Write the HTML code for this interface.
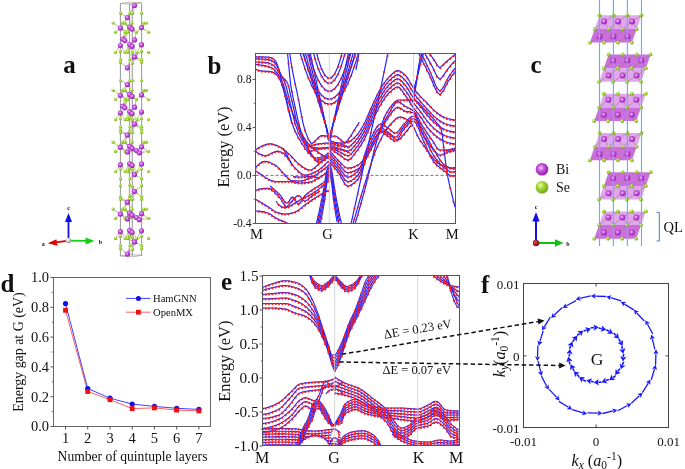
<!DOCTYPE html>
<html><head><meta charset="utf-8"><style>
html,body{margin:0;padding:0;background:#fff;width:685px;height:469px;overflow:hidden}
svg{display:block;will-change:transform}
text{font-family:"Liberation Serif",serif;fill:#111}
</style></head><body>
<svg width="685" height="469" viewBox="0 0 685 469">
<text x="63.3" y="73.2" font-size="25" text-anchor="start" font-weight="bold"  >a</text>
<text x="207.5" y="73.5" font-size="25" text-anchor="start" font-weight="bold"  >b</text>
<text x="530.5" y="73.2" font-size="25" text-anchor="start" font-weight="bold"  >c</text>
<text x="0.5" y="292.2" font-size="25" text-anchor="start" font-weight="bold"  >d</text>
<text x="221.0" y="290.2" font-size="25" text-anchor="start" font-weight="bold"  >e</text>
<text x="481.0" y="292.5" font-size="25" text-anchor="start" font-weight="bold"  >f</text>
<rect x="53.5" y="277.5" width="157.0" height="149.0" fill="none" stroke="#666" stroke-width="1.0"/>
<line x1="50.5" y1="426.5" x2="53.5" y2="426.5" stroke="#555" stroke-width="1"/>
<text x="49.0" y="431.3" font-size="14.5" text-anchor="end" font-weight="normal"  >0.0</text>
<line x1="50.5" y1="396.7" x2="53.5" y2="396.7" stroke="#555" stroke-width="1"/>
<text x="49.0" y="401.5" font-size="14.5" text-anchor="end" font-weight="normal"  >0.2</text>
<line x1="50.5" y1="366.9" x2="53.5" y2="366.9" stroke="#555" stroke-width="1"/>
<text x="49.0" y="371.7" font-size="14.5" text-anchor="end" font-weight="normal"  >0.4</text>
<line x1="50.5" y1="337.1" x2="53.5" y2="337.1" stroke="#555" stroke-width="1"/>
<text x="49.0" y="341.9" font-size="14.5" text-anchor="end" font-weight="normal"  >0.6</text>
<line x1="50.5" y1="307.3" x2="53.5" y2="307.3" stroke="#555" stroke-width="1"/>
<text x="49.0" y="312.1" font-size="14.5" text-anchor="end" font-weight="normal"  >0.8</text>
<line x1="50.5" y1="277.5" x2="53.5" y2="277.5" stroke="#555" stroke-width="1"/>
<text x="49.0" y="282.3" font-size="14.5" text-anchor="end" font-weight="normal"  >1.0</text>
<line x1="51.7" y1="411.6" x2="53.5" y2="411.6" stroke="#555" stroke-width="0.8"/>
<line x1="51.7" y1="381.8" x2="53.5" y2="381.8" stroke="#555" stroke-width="0.8"/>
<line x1="51.7" y1="352.0" x2="53.5" y2="352.0" stroke="#555" stroke-width="0.8"/>
<line x1="51.7" y1="322.2" x2="53.5" y2="322.2" stroke="#555" stroke-width="0.8"/>
<line x1="51.7" y1="292.4" x2="53.5" y2="292.4" stroke="#555" stroke-width="0.8"/>
<line x1="65.5" y1="426.5" x2="65.5" y2="429.5" stroke="#555" stroke-width="1"/>
<text x="65.5" y="442.5" font-size="14.5" text-anchor="middle" font-weight="normal"  >1</text>
<line x1="87.7" y1="426.5" x2="87.7" y2="429.5" stroke="#555" stroke-width="1"/>
<text x="87.7" y="442.5" font-size="14.5" text-anchor="middle" font-weight="normal"  >2</text>
<line x1="110.0" y1="426.5" x2="110.0" y2="429.5" stroke="#555" stroke-width="1"/>
<text x="110.0" y="442.5" font-size="14.5" text-anchor="middle" font-weight="normal"  >3</text>
<line x1="132.2" y1="426.5" x2="132.2" y2="429.5" stroke="#555" stroke-width="1"/>
<text x="132.2" y="442.5" font-size="14.5" text-anchor="middle" font-weight="normal"  >4</text>
<line x1="154.4" y1="426.5" x2="154.4" y2="429.5" stroke="#555" stroke-width="1"/>
<text x="154.4" y="442.5" font-size="14.5" text-anchor="middle" font-weight="normal"  >5</text>
<line x1="176.7" y1="426.5" x2="176.7" y2="429.5" stroke="#555" stroke-width="1"/>
<text x="176.7" y="442.5" font-size="14.5" text-anchor="middle" font-weight="normal"  >6</text>
<line x1="198.9" y1="426.5" x2="198.9" y2="429.5" stroke="#555" stroke-width="1"/>
<text x="198.9" y="442.5" font-size="14.5" text-anchor="middle" font-weight="normal"  >7</text>
<text x="132.5" y="461.0" font-size="13.6" text-anchor="middle" font-weight="normal"  >Number of quintuple layers</text>
<text transform="translate(23.4,352) rotate(-90)" font-size="13.9" text-anchor="middle">Energy gap at G (eV)</text>
<polyline points="65.5,310.3 87.7,391.5 110.0,399.7 132.2,408.6 154.4,407.9 176.7,410.1 198.9,410.9" fill="none" stroke="#ff6060" stroke-width="1"/>
<polyline points="65.5,303.6 87.7,388.5 110.0,398.2 132.2,404.1 154.4,406.4 176.7,408.3 198.9,409.4" fill="none" stroke="#4040ff" stroke-width="1"/>
<circle cx="65.5" cy="303.6" r="2.6" fill="#1010ee"/>
<circle cx="87.7" cy="388.5" r="2.6" fill="#1010ee"/>
<circle cx="110.0" cy="398.2" r="2.6" fill="#1010ee"/>
<circle cx="132.2" cy="404.1" r="2.6" fill="#1010ee"/>
<circle cx="154.4" cy="406.4" r="2.6" fill="#1010ee"/>
<circle cx="176.7" cy="408.3" r="2.6" fill="#1010ee"/>
<circle cx="198.9" cy="409.4" r="2.6" fill="#1010ee"/>
<rect x="63.1" y="307.9" width="4.8" height="4.8" fill="#ee1010"/>
<rect x="85.3" y="389.1" width="4.8" height="4.8" fill="#ee1010"/>
<rect x="107.6" y="397.3" width="4.8" height="4.8" fill="#ee1010"/>
<rect x="129.8" y="406.2" width="4.8" height="4.8" fill="#ee1010"/>
<rect x="152.0" y="405.5" width="4.8" height="4.8" fill="#ee1010"/>
<rect x="174.2" y="407.7" width="4.8" height="4.8" fill="#ee1010"/>
<rect x="196.5" y="408.5" width="4.8" height="4.8" fill="#ee1010"/>
<line x1="126" y1="298.4" x2="150.5" y2="298.4" stroke="#4040ff" stroke-width="1"/>
<circle cx="138.4" cy="298.4" r="2.5" fill="#1010ee"/>
<line x1="126" y1="312.2" x2="150.5" y2="312.2" stroke="#ff6060" stroke-width="1"/>
<rect x="136" y="309.8" width="4.8" height="4.8" fill="#ee1010"/>
<text x="153.0" y="302.3" font-size="10.6" text-anchor="start" font-weight="normal"  >HamGNN</text>
<text x="153.0" y="316.0" font-size="10.6" text-anchor="start" font-weight="normal"  >OpenMX</text>
<rect x="523.5" y="283.5" width="145.0" height="144.0" fill="none" stroke="#444" stroke-width="1.0"/>
<line x1="596.1" y1="427.5" x2="596.1" y2="424.5" stroke="#444" stroke-width="1"/>
<line x1="596.1" y1="283.5" x2="596.1" y2="286.5" stroke="#444" stroke-width="1"/>
<line x1="523.5" y1="355.9" x2="526.5" y2="355.9" stroke="#444" stroke-width="1"/>
<line x1="668.5" y1="355.9" x2="665.5" y2="355.9" stroke="#444" stroke-width="1"/>
<text x="519.5" y="288.6" font-size="13" text-anchor="end" font-weight="normal"  >0.01</text>
<text x="519.5" y="360.5" font-size="13" text-anchor="end" font-weight="normal"  >0</text>
<text x="519.5" y="433.0" font-size="13" text-anchor="end" font-weight="normal"  >-0.01</text>
<text x="523.5" y="446.0" font-size="13" text-anchor="middle" font-weight="normal"  >-0.01</text>
<text x="596.1" y="446.0" font-size="13" text-anchor="middle" font-weight="normal"  >0</text>
<text x="668.5" y="446.0" font-size="13" text-anchor="middle" font-weight="normal"  >0.01</text>
<text x="597.0" y="364.6" font-size="17.5" text-anchor="middle" font-weight="normal"  >G</text>
<path d="M654.8,349.4 L652.3,338.7 M652.8,334.0 L647.4,324.0 M644.3,321.0 L636.7,313.0 M633.8,309.9 L624.4,304.1 M621.2,300.9 L610.4,297.6 M606.3,296.5 L595.1,296.1 M590.7,295.9 L579.8,298.4 M576.1,300.6 L566.4,305.8 M562.3,307.4 L554.2,314.9 M550.3,317.2 L544.3,326.9 M543.1,331.0 L539.9,341.6 M537.9,345.6 L537.5,356.9 M538.1,361.1 L540.7,371.8 M541.4,376.1 L546.6,386.0 M549.2,389.4 L556.7,397.4 M558.9,401.4 L568.5,407.3 M572.2,409.6 L583.0,412.8 M587.3,412.8 L598.2,413.1 M602.5,413.5 L613.2,410.9 M617.7,410.8 L627.6,405.5 M631.3,403.3 L639.4,395.7 M642.4,392.6 L648.3,383.1 M651.3,379.8 L654.5,369.0 M655.6,364.8 L655.9,353.5 " fill="none" stroke="#1a1aff" stroke-width="1.3"/>
<path d="M651.4,334.5 L655.0,338.6 L652.2,338.2 L649.9,339.8 Z M645.4,320.2 L650.0,323.2 L647.2,323.5 L645.4,325.6 Z M633.8,309.8 L639.0,311.6 L636.4,312.6 L635.2,315.1 Z M620.8,301.8 L626.2,302.1 L624.0,303.8 L623.5,306.5 Z M606.3,296.4 L611.6,295.3 L609.9,297.5 L610.1,300.3 Z M590.8,296.0 L595.6,293.5 L594.6,296.1 L595.5,298.7 Z M575.6,299.4 L579.7,295.8 L579.3,298.5 L580.9,300.8 Z M562.6,307.8 L565.6,303.3 L566.0,306.0 L568.1,307.9 Z M551.1,317.9 L552.8,312.7 L553.8,315.3 L556.4,316.5 Z M542.0,330.5 L542.3,325.1 L544.0,327.3 L546.8,327.8 Z M538.6,345.7 L537.5,340.4 L539.7,342.1 L542.5,341.9 Z M537.4,361.1 L535.0,356.3 L537.5,357.4 L540.2,356.4 Z M541.6,376.0 L538.0,372.0 L540.8,372.3 L543.1,370.8 Z M548.7,389.8 L544.1,386.8 L546.9,386.4 L548.7,384.3 Z M559.6,400.5 L554.5,398.8 L557.0,397.7 L558.3,395.2 Z M572.2,409.6 L566.7,409.3 L568.9,407.6 L569.5,404.9 Z M587.1,414.1 L581.7,415.2 L583.4,413.0 L583.2,410.2 Z M602.5,413.3 L597.6,415.7 L598.7,413.2 L597.8,410.5 Z M617.4,410.0 L613.3,413.6 L613.7,410.8 L612.2,408.5 Z M631.4,403.5 L628.4,408.0 L628.1,405.2 L626.0,403.4 Z M642.6,392.7 L640.9,397.9 L639.8,395.3 L637.3,394.1 Z M650.5,379.5 L650.2,384.9 L648.5,382.7 L645.8,382.2 Z M655.8,364.8 L656.9,370.2 L654.7,368.5 L651.9,368.7 Z M656.0,349.2 L658.5,354.1 L655.9,353.0 L653.3,354.0 Z " fill="#1a1aff"/>
<path d="M623.6,353.8 L623.3,356.9 M621.9,346.2 L622.4,349.2 M618.9,338.9 L620.4,341.8 M613.6,333.0 L615.9,335.4 M606.3,329.8 L609.0,331.3 M598.7,328.0 L601.7,328.7 M590.8,327.7 L594.1,327.6 M583.7,331.1 L586.6,330.1 M577.1,335.3 L579.7,333.5 M572.6,341.7 L574.5,339.3 M569.5,348.8 L570.7,345.9 M569.3,356.5 L569.6,353.6 M569.9,364.4 L569.2,361.2 M574.1,371.0 L572.7,368.3 M579.2,376.9 L577.1,374.6 M585.8,381.3 L583.0,379.7 M593.7,382.0 L590.8,381.3 M601.5,382.1 L598.4,382.3 M608.9,379.6 L605.9,380.6 M615.7,375.6 L613.0,377.5 M619.8,368.8 L618.0,371.2 M623.7,361.8 L622.4,364.9 " fill="none" stroke="#1a1aff" stroke-width="1.6"/>
<path d="M622.9,361.6 L620.2,356.1 L623.3,357.4 L626.5,356.7 Z M623.3,353.8 L619.2,349.4 L622.5,349.7 L625.5,348.1 Z M622.6,346.0 L617.4,342.8 L620.7,342.3 L623.1,339.9 Z M619.1,338.8 L613.2,337.3 L616.2,335.8 L617.8,332.8 Z M613.1,333.7 L607.0,333.8 L609.4,331.6 L610.1,328.3 Z M606.3,329.8 L600.5,331.7 L602.2,328.9 L602.0,325.5 Z M598.8,327.3 L593.8,330.8 L594.6,327.5 L593.4,324.4 Z M591.0,328.6 L587.1,333.3 L587.0,330.0 L585.0,327.3 Z M583.5,330.7 L581.1,336.3 L580.1,333.2 L577.4,331.1 Z M577.4,335.6 L576.7,341.6 L574.8,338.9 L571.7,337.7 Z M572.4,341.6 L573.5,347.6 L570.9,345.5 L567.5,345.2 Z M570.0,348.9 L572.7,354.4 L569.6,353.1 L566.3,353.8 Z M568.3,356.6 L572.5,361.1 L569.1,360.7 L566.2,362.3 Z M570.5,364.2 L575.8,367.3 L572.5,367.9 L570.1,370.2 Z M573.8,371.2 L579.7,372.8 L576.7,374.2 L575.1,377.2 Z M578.9,377.3 L585.0,377.1 L582.5,379.4 L581.8,382.7 Z M586.3,380.2 L592.1,378.3 L590.3,381.2 L590.6,384.6 Z M593.7,382.5 L598.7,379.1 L597.9,382.3 L599.0,385.5 Z M601.5,382.2 L605.3,377.5 L605.4,380.8 L607.4,383.5 Z M609.2,380.3 L611.6,374.6 L612.6,377.8 L615.3,379.8 Z M615.1,374.9 L615.7,368.8 L617.6,371.6 L620.8,372.8 Z M620.7,369.3 L619.7,363.3 L622.3,365.4 L625.6,365.6 Z " fill="#1a1aff"/>
<text transform="translate(505.2,354) rotate(-90)" font-size="16.2" text-anchor="middle"><tspan font-style="italic">k</tspan><tspan font-style="italic" font-size="11.5" dy="3.2">y</tspan><tspan dy="-3.2">(</tspan><tspan font-style="italic">a</tspan><tspan font-size="11.5" dy="3.2">0</tspan><tspan font-size="11.5" dy="-9">-1</tspan><tspan dy="5.8">)</tspan></text>
<text x="596.8" y="466.2" font-size="16.2" text-anchor="middle"><tspan font-style="italic">k</tspan><tspan font-style="italic" font-size="11.5" dy="3.2">x</tspan><tspan dy="-3.2"> (</tspan><tspan font-style="italic">a</tspan><tspan font-size="11.5" dy="3.2">0</tspan><tspan font-size="11.5" dy="-9">-1</tspan><tspan dy="5.8">)</tspan></text>
<clipPath id="cb"><rect x="255.5" y="53.5" width="200.0" height="170.0"/></clipPath>
<g clip-path="url(#cb)"><path d="M255.5,56.8 L256.5,56.8 L257.5,56.8 L258.5,56.8 L259.5,56.8 L260.5,56.9 L261.5,56.9 L262.5,56.9 L263.5,56.9 L264.5,57.0 L265.5,57.0 L266.5,57.0 L267.5,57.1 L268.5,57.2 L269.5,57.4 L270.5,57.6 L271.5,57.9 L272.5,58.2 L273.5,58.9 L274.5,60.0 L275.5,61.3 L276.5,62.9 L277.5,65.3 L278.5,68.4 L279.5,71.8 L280.5,76.1 L281.5,80.7 L282.5,85.0 L283.5,89.0 L284.5,92.9 L285.5,97.0 L286.5,101.3 L287.5,105.8 L288.5,110.0 L289.5,114.0 L290.5,117.9 L291.5,121.4 L292.5,124.5 L293.5,127.2 L294.5,129.7 L295.5,131.9 L296.5,134.0 L297.5,136.0 L298.5,137.8 L299.5,139.5 L300.5,141.2 L301.5,142.8 L302.5,144.4 L303.5,146.0 L304.5,147.5 L305.5,149.0 L306.5,150.3 L307.5,151.5 L308.5,152.5 L309.5,153.5 L310.5,154.6 L311.5,155.5 L312.5,156.4 L313.5,157.1 L314.5,157.7 L315.5,158.0 L316.5,158.0 L317.5,157.9 L318.5,157.8 L319.5,157.6 L320.5,157.4 L321.5,157.1 L322.5,156.8 L323.5,156.4 L324.5,155.9 L325.5,155.3 L326.5,154.5 L327.5,153.7 L328.5,152.8" fill="none" stroke="#2424ff" stroke-width="1.2"/><path d="M255.5,58.8 L256.5,58.8 L257.5,58.8 L258.5,58.9 L259.5,58.9 L260.5,58.9 L261.5,59.0 L262.5,59.0 L263.5,59.1 L264.5,59.2 L265.5,59.3 L266.5,59.4 L267.5,59.4 L268.5,59.6 L269.5,59.8 L270.5,60.1 L271.5,60.5 L272.5,61.1 L273.5,61.7 L274.5,62.4 L275.5,63.7 L276.5,65.3 L277.5,67.1 L278.5,69.0 L279.5,71.3 L280.5,73.7 L281.5,76.0 L282.5,77.9 L283.5,79.7 L284.5,81.7 L285.5,84.3 L286.5,87.8 L287.5,91.9 L288.5,96.0 L289.5,100.2 L290.5,104.7 L291.5,109.0 L292.5,113.2 L293.5,117.4 L294.5,121.3 L295.5,124.6 L296.5,127.6 L297.5,130.4 L298.5,132.9 L299.5,135.1 L300.5,137.0 L301.5,138.8 L302.5,140.5 L303.5,142.1 L304.5,143.9 L305.5,145.7 L306.5,147.5 L307.5,149.2 L308.5,150.9 L309.5,152.3 L310.5,153.6 L311.5,155.0 L312.5,156.3 L313.5,157.6 L314.5,158.7 L315.5,159.5 L316.5,159.9 L317.5,160.0 L318.5,159.9 L319.5,159.7 L320.5,159.4 L321.5,159.0 L322.5,158.7 L323.5,158.3 L324.5,157.8 L325.5,157.2 L326.5,156.4 L327.5,155.6 L328.5,154.7" fill="none" stroke="#2424ff" stroke-width="1.2"/><path d="M255.5,62.0 L256.5,62.0 L257.5,62.0 L258.5,62.1 L259.5,62.1 L260.5,62.1 L261.5,62.2 L262.5,62.2 L263.5,62.3 L264.5,62.4 L265.5,62.5 L266.5,62.6 L267.5,62.7 L268.5,63.0 L269.5,63.3 L270.5,63.7 L271.5,64.2 L272.5,64.7 L273.5,65.3 L274.5,66.3 L275.5,67.6 L276.5,69.0 L277.5,70.3 L278.5,71.6 L279.5,73.0 L280.5,74.3 L281.5,75.7 L282.5,77.0 L283.5,78.1 L284.5,79.1 L285.5,80.1 L286.5,81.3 L287.5,82.9 L288.5,85.8 L289.5,90.1 L290.5,94.8 L291.5,99.1 L292.5,103.4 L293.5,107.8 L294.5,112.2 L295.5,116.8 L296.5,121.1 L297.5,124.8 L298.5,128.1 L299.5,131.1 L300.5,133.8 L301.5,136.1 L302.5,138.0 L303.5,139.8 L304.5,141.4 L305.5,143.1 L306.5,144.9 L307.5,146.8 L308.5,148.8 L309.5,150.8 L310.5,152.6 L311.5,154.3 L312.5,155.7 L313.5,157.3 L314.5,158.8 L315.5,160.2 L316.5,161.3 L317.5,161.9 L318.5,162.0 L319.5,161.8 L320.5,161.5 L321.5,161.1 L322.5,160.7 L323.5,160.2 L324.5,159.7 L325.5,159.2 L326.5,158.4 L327.5,157.6 L328.5,156.7" fill="none" stroke="#2424ff" stroke-width="1.2"/><path d="M255.5,64.5 L256.5,64.5 L257.5,64.6 L258.5,64.7 L259.5,64.8 L260.5,65.0 L261.5,65.1 L262.5,65.3 L263.5,65.4 L264.5,65.6 L265.5,65.8 L266.5,66.0 L267.5,66.3 L268.5,66.6 L269.5,66.9 L270.5,67.3 L271.5,67.8 L272.5,68.3 L273.5,69.1 L274.5,70.1 L275.5,71.2 L276.5,72.4 L277.5,73.6 L278.5,74.9 L279.5,76.3 L280.5,78.0 L281.5,80.0 L282.5,82.4 L283.5,85.0 L284.5,88.1 L285.5,91.8 L286.5,95.3 L287.5,98.6 L288.5,101.6 L289.5,104.5 L290.5,107.3 L291.5,110.0 L292.5,112.7 L293.5,115.3 L294.5,117.7 L295.5,120.0 L296.5,121.9 L297.5,123.7 L298.5,125.6 L299.5,127.9 L300.5,130.5 L301.5,132.9 L302.5,135.0 L303.5,136.8 L304.5,138.4 L305.5,140.0 L306.5,141.4 L307.5,142.6 L308.5,143.8 L309.5,144.9 L310.5,146.0 L311.5,147.0 L312.5,147.9 L313.5,148.8 L314.5,149.6 L315.5,150.4 L316.5,151.1 L317.5,151.8 L318.5,152.5 L319.5,153.2 L320.5,153.8 L321.5,154.4 L322.5,155.0 L323.5,155.6 L324.5,156.1 L325.5,156.6 L326.5,157.0 L327.5,157.4 L328.5,157.8" fill="none" stroke="#2424ff" stroke-width="1.2"/><path d="M255.5,69.2 L256.5,69.6 L257.5,69.9 L258.5,70.3 L259.5,70.5 L260.5,70.8 L261.5,70.9 L262.5,71.0 L263.5,71.1 L264.5,71.2 L265.5,71.2 L266.5,71.3 L267.5,71.3 L268.5,71.4 L269.5,71.4 L270.5,71.6 L271.5,71.8 L272.5,72.1 L273.5,72.6 L274.5,73.1 L275.5,73.7 L276.5,74.4 L277.5,75.6 L278.5,77.2 L279.5,79.0 L280.5,81.1 L281.5,83.6 L282.5,86.5 L283.5,89.5 L284.5,92.8 L285.5,96.3 L286.5,100.0 L287.5,104.2 L288.5,108.6 L289.5,113.0 L290.5,117.1 L291.5,121.1" fill="none" stroke="#2424ff" stroke-width="1.2"/><path d="M287.5,53.0 L288.5,62.9 L289.5,73.6 L290.5,83.6 L291.5,89.7 L292.5,94.6 L293.5,99.5 L294.5,104.2 L295.5,108.7 L296.5,113.3 L297.5,117.8 L298.5,122.2 L299.5,126.4 L300.5,130.4 L301.5,133.4 L302.5,136.1 L303.5,138.3 L304.5,140.2 L305.5,141.7 L306.5,143.1 L307.5,144.3 L308.5,145.4 L309.5,146.3 L310.5,146.8 L311.5,147.1 L312.5,147.3 L313.5,147.5 L314.5,147.6 L315.5,147.7 L316.5,147.8 L317.5,147.9 L318.5,148.0 L319.5,148.0 L320.5,148.0 L321.5,148.0 L322.5,147.9 L323.5,147.9 L324.5,147.8 L325.5,147.7 L326.5,147.5 L327.5,147.4 L328.5,147.2" fill="none" stroke="#2424ff" stroke-width="1.2"/><path d="M289.7,53.0 L290.7,59.9 L291.7,66.3 L292.7,71.8 L293.7,76.7 L294.7,81.5 L295.7,86.2 L296.7,90.8 L297.7,95.5 L298.7,100.5 L299.7,105.8 L300.7,111.1 L301.7,116.6 L302.7,121.7 L303.7,125.7 L304.7,129.2 L305.7,132.2 L306.7,134.9 L307.7,137.4 L308.7,139.5 L309.7,141.2 L310.7,142.7 L311.7,143.4 L312.7,143.1 L313.7,142.3 L314.7,141.3 L315.7,140.3 L316.7,139.4 L317.7,138.3 L318.7,137.3 L319.7,136.4 L320.7,135.8 L321.7,135.7 L322.7,135.7 L323.7,135.7 L324.7,135.8 L325.7,135.9 L326.7,136.1 L327.7,136.4 L328.7,136.7" fill="none" stroke="#2424ff" stroke-width="1.2"/><path d="M315.9,50.0 L316.9,54.0 L317.9,57.7 L318.9,61.1 L319.9,64.2 L320.9,67.0 L321.9,69.4 L322.9,71.6 L323.9,73.4 L324.9,74.9 L325.9,76.2 L326.9,77.1 L327.9,77.7 L328.9,78.0 L329.9,77.9 L330.9,77.6 L331.9,77.0 L332.9,76.0 L333.9,74.8 L334.9,73.2 L335.9,71.3 L336.9,69.1 L337.9,66.6 L338.9,63.8 L339.9,60.7 L340.9,57.3 L341.9,53.6" fill="none" stroke="#2424ff" stroke-width="1.2"/><path d="M312.7,50.0 L313.7,53.9 L314.7,57.5 L315.7,60.9 L316.7,64.0 L317.7,66.9 L318.7,69.6 L319.7,72.0 L320.7,74.2 L321.7,76.1 L322.7,77.8 L323.7,79.3 L324.7,80.5 L325.7,81.5 L326.7,82.2 L327.7,82.7 L328.7,82.9 L329.7,83.0 L330.7,82.7 L331.7,82.3 L332.7,81.6 L333.7,80.7 L334.7,79.5 L335.7,78.1 L336.7,76.4 L337.7,74.5 L338.7,72.4 L339.7,70.0 L340.7,67.4 L341.7,64.5 L342.7,61.4 L343.7,58.1 L344.7,54.5 L345.7,50.7" fill="none" stroke="#2424ff" stroke-width="1.2"/><path d="M308.0,50.0 L309.0,53.8 L310.0,57.3 L311.0,60.7 L312.0,63.9 L313.0,67.0 L314.0,69.8 L315.0,72.5 L316.0,75.0 L317.0,77.3 L318.0,79.4 L319.0,81.4 L320.0,83.1 L321.0,84.7 L322.0,86.2 L323.0,87.4 L324.0,88.4 L325.0,89.3 L326.0,90.0 L327.0,90.5 L328.0,90.8 L329.0,91.0 L330.0,90.9 L331.0,90.7 L332.0,90.4 L333.0,89.8 L334.0,89.1 L335.0,88.1 L336.0,87.0 L337.0,85.7 L338.0,84.3 L339.0,82.6 L340.0,80.8 L341.0,78.8 L342.0,76.6 L343.0,74.2 L344.0,71.7 L345.0,68.9 L346.0,66.0 L347.0,62.9 L348.0,59.7 L349.0,56.2 L350.0,52.6" fill="none" stroke="#2424ff" stroke-width="1.2"/><path d="M302.5,50.0 L303.5,53.6 L304.5,57.0 L305.5,60.3 L306.5,63.5 L307.5,66.6 L308.5,69.5 L309.5,72.2 L310.5,74.9 L311.5,77.3 L312.5,79.7 L313.5,81.9 L314.5,84.0 L315.5,86.0 L316.5,87.8 L317.5,89.5 L318.5,91.0 L319.5,92.4 L320.5,93.7 L321.5,94.8 L322.5,95.8 L323.5,96.7 L324.5,97.4 L325.5,98.0 L326.5,98.5 L327.5,98.7 L328.5,98.9 L329.5,99.0 L330.5,98.9 L331.5,98.7 L332.5,98.3 L333.5,97.8 L334.5,97.2 L335.5,96.4 L336.5,95.5 L337.5,94.5 L338.5,93.3 L339.5,92.0 L340.5,90.5 L341.5,89.0 L342.5,87.2 L343.5,85.4 L344.5,83.4 L345.5,81.3 L346.5,79.0 L347.5,76.6 L348.5,74.0 L349.5,71.4 L350.5,68.6 L351.5,65.6 L352.5,62.5 L353.5,59.3 L354.5,56.0 L355.5,52.5" fill="none" stroke="#2424ff" stroke-width="1.2"/><path d="M299.3,50.0 L300.3,53.5 L301.3,57.0 L302.3,60.3 L303.3,63.4 L304.3,66.5 L305.3,69.4 L306.3,72.3 L307.3,75.0 L308.3,77.5 L309.3,80.0 L310.3,82.3 L311.3,84.6 L312.3,86.7 L313.3,88.6 L314.3,90.5 L315.3,92.2 L316.3,93.9 L317.3,95.4 L318.3,96.7 L319.3,98.0 L320.3,99.1 L321.3,100.2 L322.3,101.1 L323.3,101.8 L324.3,102.5 L325.3,103.1 L326.3,103.5 L327.3,103.7 L328.3,103.9 L329.3,104.0 L330.3,103.9 L331.3,103.7 L332.3,103.5 L333.3,103.1 L334.3,102.5 L335.3,101.8 L336.3,101.1 L337.3,100.2 L338.3,99.1 L339.3,98.0 L340.3,96.7 L341.3,95.4 L342.3,93.9 L343.3,92.2 L344.3,90.5 L345.3,88.6 L346.3,86.7 L347.3,84.6 L348.3,82.3 L349.3,80.0 L350.3,77.5 L351.3,75.0 L352.3,72.3 L353.3,69.4 L354.3,66.5 L355.3,63.4 L356.3,60.3 L357.3,57.0 L358.3,53.5 L359.3,50.0" fill="none" stroke="#2424ff" stroke-width="1.2"/><path d="M302.0,50.0 L303.0,53.2 L304.0,56.3 L305.0,59.5 L306.0,62.6 L307.0,65.8 L308.0,68.9 L309.0,72.1 L310.0,75.2 L311.0,78.4 L312.0,81.5 L313.0,84.7 L314.0,87.8 L315.0,91.0 L316.0,94.1 L317.0,97.3 L318.0,100.4 L319.0,103.6 L320.0,106.7 L321.0,109.9 L322.0,113.0 L323.0,116.2 L324.0,119.3 L325.0,122.5 L326.0,125.6 L327.0,129.1 L328.0,133.2 L329.0,135.8 L330.0,135.1 L331.0,131.7 L332.0,127.6 L333.0,124.3 L334.0,121.2 L335.0,118.0 L336.0,114.9 L337.0,111.7 L338.0,108.6 L339.0,105.4 L340.0,102.3 L341.0,99.1 L342.0,96.0 L343.0,92.8 L344.0,89.7 L345.0,86.5 L346.0,83.4 L347.0,80.2 L348.0,77.1 L349.0,73.9 L350.0,70.8 L351.0,67.6 L352.0,64.5 L353.0,61.3 L354.0,58.2 L355.0,55.0 L356.0,51.9" fill="none" stroke="#2424ff" stroke-width="1.2"/><path d="M304.5,50.0 L305.5,53.5 L306.5,57.1 L307.5,60.6 L308.5,64.2 L309.5,67.7 L310.5,71.2 L311.5,74.8 L312.5,78.3 L313.5,81.9 L314.5,85.4 L315.5,88.9 L316.5,92.5 L317.5,96.0 L318.5,99.6 L319.5,103.1 L320.5,106.6 L321.5,110.2 L322.5,113.7 L323.5,117.3 L324.5,120.8 L325.5,124.3 L326.5,127.9 L327.5,132.4 L328.5,136.5 L329.5,137.7 L330.5,135.1 L331.5,130.6 L332.5,126.5 L333.5,122.9 L334.5,119.4 L335.5,115.9 L336.5,112.3 L337.5,108.8 L338.5,105.2 L339.5,101.7 L340.5,98.1 L341.5,94.6 L342.5,91.1 L343.5,87.5 L344.5,84.0 L345.5,80.4 L346.5,76.9 L347.5,73.4 L348.5,69.8 L349.5,66.3 L350.5,62.7 L351.5,59.2 L352.5,55.7 L353.5,52.1" fill="none" stroke="#2424ff" stroke-width="1.2"/><path d="M307.0,50.0 L308.0,54.0 L309.0,58.0 L310.0,62.1 L311.0,66.1 L312.0,70.1 L313.0,74.1 L314.0,78.1 L315.0,82.1 L316.0,86.2 L317.0,90.2 L318.0,94.2 L319.0,98.2 L320.0,102.2 L321.0,106.3 L322.0,110.3 L323.0,114.3 L324.0,118.3 L325.0,122.3 L326.0,126.3 L327.0,130.9 L328.0,136.1 L329.0,139.4 L330.0,138.4 L331.0,134.1 L332.0,128.9 L333.0,124.7 L334.0,120.7 L335.0,116.7 L336.0,112.7 L337.0,108.7 L338.0,104.6 L339.0,100.6 L340.0,96.6 L341.0,92.6 L342.0,88.6 L343.0,84.6 L344.0,80.5 L345.0,76.5 L346.0,72.5 L347.0,68.5 L348.0,64.5 L349.0,60.4 L350.0,56.4 L351.0,52.4" fill="none" stroke="#2424ff" stroke-width="1.2"/><path d="M309.5,50.0 L310.5,54.6 L311.5,59.2 L312.5,63.8 L313.5,68.5 L314.5,73.1 L315.5,77.7 L316.5,82.3 L317.5,86.9 L318.5,91.5 L319.5,96.2 L320.5,100.8 L321.5,105.4 L322.5,110.0 L323.5,114.6 L324.5,119.2 L325.5,123.9 L326.5,128.5 L327.5,134.4 L328.5,139.7 L329.5,141.3 L330.5,137.9 L331.5,132.0 L332.5,126.6 L333.5,122.0 L334.5,117.4 L335.5,112.8 L336.5,108.2 L337.5,103.5 L338.5,98.9 L339.5,94.3 L340.5,89.7 L341.5,85.1 L342.5,80.5 L343.5,75.9 L344.5,71.2 L345.5,66.6 L346.5,62.0 L347.5,57.4 L348.5,52.8" fill="none" stroke="#2424ff" stroke-width="1.2"/><path d="M316.3,224.0 L317.3,219.8 L318.3,215.4 L319.3,210.8 L320.3,206.2 L321.3,201.4 L322.3,196.5 L323.3,191.3 L324.3,185.3 L325.3,179.1 L326.3,173.2 L327.3,168.6 L328.3,165.6 L329.3,164.0 L330.3,165.6 L331.3,168.7 L332.3,173.8 L333.3,180.4 L334.3,187.2 L335.3,193.5 L336.3,198.8 L337.3,204.0 L338.3,209.0 L339.3,213.9 L340.3,218.6 L341.3,223.1" fill="none" stroke="#2424ff" stroke-width="1.2"/><path d="M317.6,224.0 L318.6,219.6 L319.6,215.0 L320.6,210.3 L321.6,205.3 L322.6,200.2 L323.6,194.9 L324.6,188.7 L325.6,181.9 L326.6,175.7 L327.6,171.1 L328.6,168.4 L329.6,167.7 L330.6,169.9 L331.6,173.9 L332.6,180.4 L333.6,187.9 L334.6,194.9 L335.6,200.6 L336.6,206.1 L337.6,211.4 L338.6,216.5 L339.6,221.3" fill="none" stroke="#2424ff" stroke-width="1.2"/><path d="M318.9,224.0 L319.9,219.5 L320.9,214.6 L321.9,209.5 L322.9,204.2 L323.9,198.6 L324.9,192.3 L325.9,184.8 L326.9,178.0 L327.9,173.7 L328.9,171.3 L329.9,171.6 L330.9,174.3 L331.9,180.0 L332.9,188.2 L333.9,196.2 L334.9,202.4 L335.9,208.4 L336.9,214.0 L337.9,219.2 L338.9,224.0" fill="none" stroke="#2424ff" stroke-width="1.2"/><path d="M320.2,224.0 L321.2,219.3 L322.2,214.1 L323.2,208.6 L324.2,202.6 L325.2,196.1 L326.2,187.8 L327.2,180.2 L328.2,176.3 L329.2,174.5 L330.2,175.8 L331.2,179.4 L332.2,187.8 L333.2,197.3 L334.2,204.4 L335.2,210.9 L336.2,216.8 L337.2,222.1" fill="none" stroke="#2424ff" stroke-width="1.2"/><path d="M329.3,137.5 L330.3,136.9 L331.3,136.5 L332.3,136.2 L333.3,136.1 L334.3,136.0 L335.3,136.0 L336.3,136.3 L337.3,136.9 L338.3,137.7 L339.3,138.5 L340.3,139.2 L341.3,140.1 L342.3,141.1 L343.3,141.9 L344.3,142.4 L345.3,142.4 L346.3,141.8 L347.3,140.7 L348.3,139.4 L349.3,137.9 L350.3,136.6 L351.3,135.2 L352.3,133.5 L353.3,131.8 L354.3,130.1 L355.3,128.5 L356.3,126.9 L357.3,125.3 L358.3,123.7 L359.3,122.1" fill="none" stroke="#2424ff" stroke-width="1.2"/><path d="M308.0,147.0 L309.0,146.6 L310.0,146.2 L311.0,145.9 L312.0,145.5 L313.0,145.2 L314.0,144.9 L315.0,144.6 L316.0,144.4 L317.0,144.2 L318.0,144.0 L319.0,143.9 L320.0,143.7 L321.0,143.6 L322.0,143.5 L323.0,143.4 L324.0,143.3 L325.0,143.2 L326.0,143.1 L327.0,143.1 L328.0,143.0 L329.0,143.0 L330.0,143.0 L331.0,143.0 L332.0,143.1 L333.0,143.1 L334.0,143.2 L335.0,143.3 L336.0,143.4 L337.0,143.6 L338.0,143.7 L339.0,143.9 L340.0,144.0 L341.0,144.2 L342.0,144.4 L343.0,144.7 L344.0,145.1 L345.0,145.5 L346.0,145.9 L347.0,146.4 L348.0,146.9 L349.0,147.5 L350.0,148.0" fill="none" stroke="#2424ff" stroke-width="1.2"/><path d="M308.0,152.0 L309.0,151.6 L310.0,151.2 L311.0,150.9 L312.0,150.5 L313.0,150.2 L314.0,149.9 L315.0,149.6 L316.0,149.4 L317.0,149.2 L318.0,149.0 L319.0,148.9 L320.0,148.7 L321.0,148.6 L322.0,148.5 L323.0,148.4 L324.0,148.3 L325.0,148.2 L326.0,148.1 L327.0,148.1 L328.0,148.0 L329.0,148.0 L330.0,148.0 L331.0,148.0 L332.0,148.1 L333.0,148.1 L334.0,148.2 L335.0,148.3 L336.0,148.4 L337.0,148.6 L338.0,148.7 L339.0,148.9 L340.0,149.0 L341.0,149.2 L342.0,149.4 L343.0,149.7 L344.0,150.1 L345.0,150.5 L346.0,150.9 L347.0,151.4 L348.0,151.9 L349.0,152.5 L350.0,153.0" fill="none" stroke="#2424ff" stroke-width="1.2"/><path d="M329.3,140.0 L330.3,140.5 L331.3,141.0 L332.3,141.4 L333.3,141.7 L334.3,142.1 L335.3,142.4 L336.3,142.6 L337.3,142.8 L338.3,142.9 L339.3,143.0 L340.3,143.0 L341.3,143.0 L342.3,142.9 L343.3,142.8 L344.3,142.7 L345.3,142.5 L346.3,142.3 L347.3,142.1 L348.3,141.9 L349.3,141.6 L350.3,141.0 L351.3,140.3 L352.3,139.5 L353.3,138.6 L354.3,137.7 L355.3,136.7 L356.3,135.7 L357.3,134.6 L358.3,133.3 L359.3,131.9 L360.3,130.3 L361.3,128.7 L362.3,127.0 L363.3,125.3 L364.3,123.4 L365.3,121.5 L366.3,119.3 L367.3,117.0 L368.3,114.6 L369.3,112.2 L370.3,109.8 L371.3,107.5 L372.3,105.4 L373.3,103.2 L374.3,101.1 L375.3,98.9 L376.3,96.8 L377.3,94.8 L378.3,92.8 L379.3,90.9 L380.3,89.2 L381.3,87.5 L382.3,85.9 L383.3,84.4 L384.3,82.9 L385.3,81.5 L386.3,80.1 L387.3,78.9 L388.3,77.7 L389.3,76.7 L390.3,75.7 L391.3,74.8 L392.3,73.8 L393.3,72.9 L394.3,72.1 L395.3,71.4 L396.3,70.9 L397.3,70.6 L398.3,70.6 L399.3,70.9 L400.3,71.3 L401.3,72.0 L402.3,72.7 L403.3,73.5 L404.3,74.4 L405.3,75.3 L406.3,76.4 L407.3,77.7 L408.3,79.3 L409.3,81.0 L410.3,82.7 L411.3,84.4 L412.3,86.1 L413.3,87.6 L414.3,88.9 L415.3,90.3 L416.3,91.6 L417.3,92.8 L418.3,94.0 L419.3,95.2 L420.3,96.3 L421.3,97.4 L422.3,98.4 L423.3,99.4 L424.3,100.4 L425.3,101.4 L426.3,102.3 L427.3,103.3 L428.3,104.3 L429.3,105.3 L430.3,106.4 L431.3,107.5 L432.3,108.6 L433.3,109.6 L434.3,110.6 L435.3,111.4 L436.3,112.2 L437.3,113.0 L438.3,113.7 L439.3,114.4 L440.3,115.1 L441.3,115.8 L442.3,116.4 L443.3,116.9 L444.3,117.4 L445.3,117.8 L446.3,118.1 L447.3,118.4 L448.3,118.7 L449.3,119.0 L450.3,119.2 L451.3,119.4 L452.3,119.6 L453.3,119.8 L454.3,119.9 L455.3,120.0" fill="none" stroke="#2424ff" stroke-width="1.2"/><path d="M329.3,142.0 L330.3,142.5 L331.3,143.1 L332.3,143.6 L333.3,144.0 L334.3,144.5 L335.3,144.8 L336.3,145.2 L337.3,145.5 L338.3,145.7 L339.3,145.9 L340.3,146.0 L341.3,146.1 L342.3,146.2 L343.3,146.3 L344.3,146.4 L345.3,146.4 L346.3,146.5 L347.3,146.5 L348.3,146.5 L349.3,146.2 L350.3,145.7 L351.3,144.9 L352.3,144.0 L353.3,143.0 L354.3,141.9 L355.3,140.8 L356.3,139.7 L357.3,138.5 L358.3,137.2 L359.3,135.8 L360.3,134.3 L361.3,132.7 L362.3,131.0 L363.3,129.2 L364.3,127.4 L365.3,125.5 L366.3,123.3 L367.3,121.0 L368.3,118.6 L369.3,116.2 L370.3,113.8 L371.3,111.5 L372.3,109.4 L373.3,107.2 L374.3,105.1 L375.3,102.9 L376.3,100.8 L377.3,98.8 L378.3,96.8 L379.3,94.9 L380.3,93.2 L381.3,91.5 L382.3,89.9 L383.3,88.4 L384.3,86.9 L385.3,85.5 L386.3,84.1 L387.3,82.9 L388.3,81.7 L389.3,80.7 L390.3,79.7 L391.3,78.8 L392.3,77.9 L393.3,77.0 L394.3,76.2 L395.3,75.5 L396.3,75.0 L397.3,74.7 L398.3,74.7 L399.3,75.1 L400.3,75.6 L401.3,76.4 L402.3,77.3 L403.3,78.3 L404.3,79.3 L405.3,80.3 L406.3,81.5 L407.3,82.9 L408.3,84.4 L409.3,86.1 L410.3,87.8 L411.3,89.5 L412.3,91.1 L413.3,92.6 L414.3,93.9 L415.3,95.2 L416.3,96.5 L417.3,97.8 L418.3,99.0 L419.3,100.2 L420.3,101.4 L421.3,102.5 L422.3,103.7 L423.3,104.8 L424.3,106.0 L425.3,107.1 L426.3,108.2 L427.3,109.3 L428.3,110.3 L429.3,111.4 L430.3,112.5 L431.3,113.6 L432.3,114.6 L433.3,115.6 L434.3,116.6 L435.3,117.4 L436.3,118.2 L437.3,119.0 L438.3,119.7 L439.3,120.4 L440.3,121.1 L441.3,121.8 L442.3,122.4 L443.3,122.9 L444.3,123.4 L445.3,123.8 L446.3,124.1 L447.3,124.4 L448.3,124.7 L449.3,125.0 L450.3,125.2 L451.3,125.4 L452.3,125.6 L453.3,125.8 L454.3,125.9 L455.3,126.0" fill="none" stroke="#2424ff" stroke-width="1.2"/><path d="M329.3,144.0 L330.3,144.6 L331.3,145.1 L332.3,145.7 L333.3,146.2 L334.3,146.7 L335.3,147.2 L336.3,147.6 L337.3,148.0 L338.3,148.4 L339.3,148.8 L340.3,149.1 L341.3,149.4 L342.3,149.8 L343.3,150.1 L344.3,150.4 L345.3,150.7 L346.3,150.9 L347.3,151.0 L348.3,151.0 L349.3,150.7 L350.3,150.1 L351.3,149.3 L352.3,148.3 L353.3,147.2 L354.3,146.0 L355.3,144.8 L356.3,143.7 L357.3,142.5 L358.3,141.2 L359.3,139.7 L360.3,138.2 L361.3,136.6 L362.3,135.0 L363.3,133.2 L364.3,131.4 L365.3,129.5 L366.3,127.3 L367.3,125.0 L368.3,122.6 L369.3,120.2 L370.3,117.8 L371.3,115.5 L372.3,113.4 L373.3,111.2 L374.3,109.1 L375.3,106.9 L376.3,104.8 L377.3,102.8 L378.3,100.8 L379.3,98.9 L380.3,97.2 L381.3,95.5 L382.3,93.9 L383.3,92.4 L384.3,90.9 L385.3,89.5 L386.3,88.1 L387.3,86.9 L388.3,85.7 L389.3,84.7 L390.3,83.7 L391.3,82.8 L392.3,81.9 L393.3,81.0 L394.3,80.2 L395.3,79.6 L396.3,79.1 L397.3,78.8 L398.3,78.9 L399.3,79.2 L400.3,79.9 L401.3,80.8 L402.3,81.9 L403.3,83.0 L404.3,84.2 L405.3,85.3 L406.3,86.6 L407.3,88.0 L408.3,89.6 L409.3,91.2 L410.3,92.9 L411.3,94.5 L412.3,96.1 L413.3,97.6 L414.3,98.9 L415.3,100.2 L416.3,101.5 L417.3,102.7 L418.3,103.9 L419.3,105.1 L420.3,106.4 L421.3,107.6 L422.3,108.9 L423.3,110.2 L424.3,111.5 L425.3,112.8 L426.3,114.0 L427.3,115.2 L428.3,116.3 L429.3,117.4 L430.3,118.5 L431.3,119.6 L432.3,120.7 L433.3,121.7 L434.3,122.6 L435.3,123.4 L436.3,124.2 L437.3,125.0 L438.3,125.7 L439.3,126.4 L440.3,127.1 L441.3,127.8 L442.3,128.4 L443.3,128.9 L444.3,129.4 L445.3,129.8 L446.3,130.1 L447.3,130.4 L448.3,130.7 L449.3,131.0 L450.3,131.2 L451.3,131.4 L452.3,131.6 L453.3,131.8 L454.3,131.9 L455.3,132.0" fill="none" stroke="#2424ff" stroke-width="1.2"/><path d="M329.3,146.0 L330.3,146.6 L331.3,147.2 L332.3,147.8 L333.3,148.4 L334.3,149.0 L335.3,149.6 L336.3,150.1 L337.3,150.6 L338.3,151.1 L339.3,151.7 L340.3,152.2 L341.3,152.7 L342.3,153.3 L343.3,153.9 L344.3,154.4 L345.3,154.9 L346.3,155.2 L347.3,155.5 L348.3,155.5 L349.3,155.2 L350.3,154.5 L351.3,153.6 L352.3,152.6 L353.3,151.4 L354.3,150.1 L355.3,148.8 L356.3,147.6 L357.3,146.4 L358.3,145.1 L359.3,143.7 L360.3,142.2 L361.3,140.6 L362.3,139.0 L363.3,137.2 L364.3,135.4 L365.3,133.5 L366.3,131.3 L367.3,129.0 L368.3,126.6 L369.3,124.2 L370.3,121.8 L371.3,119.5 L372.3,117.4 L373.3,115.2 L374.3,113.1 L375.3,110.9 L376.3,108.8 L377.3,106.8 L378.3,104.8 L379.3,102.9 L380.3,101.2 L381.3,99.5 L382.3,97.9 L383.3,96.4 L384.3,94.9 L385.3,93.5 L386.3,92.1 L387.3,90.8 L388.3,89.7 L389.3,88.6 L390.3,87.7 L391.3,86.8 L392.3,85.9 L393.3,85.1 L394.3,84.3 L395.3,83.7 L396.3,83.2 L397.3,82.9 L398.3,83.0 L399.3,83.4 L400.3,84.2 L401.3,85.3 L402.3,86.5 L403.3,87.8 L404.3,89.1 L405.3,90.4 L406.3,91.7 L407.3,93.1 L408.3,94.7 L409.3,96.3 L410.3,97.9 L411.3,99.6 L412.3,101.1 L413.3,102.6 L414.3,103.9 L415.3,105.2 L416.3,106.4 L417.3,107.6 L418.3,108.9 L419.3,110.1 L420.3,111.4 L421.3,112.8 L422.3,114.2 L423.3,115.6 L424.3,117.1 L425.3,118.5 L426.3,119.9 L427.3,121.2 L428.3,122.3 L429.3,123.5 L430.3,124.6 L431.3,125.7 L432.3,126.7 L433.3,127.7 L434.3,128.6 L435.3,129.5 L436.3,130.2 L437.3,131.0 L438.3,131.7 L439.3,132.4 L440.3,133.1 L441.3,133.8 L442.3,134.4 L443.3,134.9 L444.3,135.4 L445.3,135.8 L446.3,136.1 L447.3,136.4 L448.3,136.7 L449.3,137.0 L450.3,137.2 L451.3,137.4 L452.3,137.6 L453.3,137.8 L454.3,137.9 L455.3,138.0" fill="none" stroke="#2424ff" stroke-width="1.2"/><path d="M329.3,148.0 L330.3,148.7 L331.3,149.3 L332.3,150.0 L333.3,150.7 L334.3,151.3 L335.3,152.0 L336.3,152.6 L337.3,153.3 L338.3,153.9 L339.3,154.6 L340.3,155.2 L341.3,155.9 L342.3,156.7 L343.3,157.6 L344.3,158.4 L345.3,159.1 L346.3,159.6 L347.3,159.9 L348.3,160.0 L349.3,159.6 L350.3,159.0 L351.3,158.0 L352.3,156.8 L353.3,155.5 L354.3,154.2 L355.3,152.9 L356.3,151.6 L357.3,150.4 L358.3,149.0 L359.3,147.6 L360.3,146.1 L361.3,144.6 L362.3,143.0 L363.3,141.2 L364.3,139.4 L365.3,137.5 L366.3,135.3 L367.3,133.0 L368.3,130.6 L369.3,128.2 L370.3,125.8 L371.3,123.5 L372.3,121.4 L373.3,119.2 L374.3,117.1 L375.3,114.9 L376.3,112.8 L377.3,110.8 L378.3,108.8 L379.3,106.9 L380.3,105.2 L381.3,103.5 L382.3,101.9 L383.3,100.4 L384.3,98.9 L385.3,97.4 L386.3,96.1 L387.3,94.8 L388.3,93.7 L389.3,92.6 L390.3,91.7 L391.3,90.9 L392.3,90.0 L393.3,89.1 L394.3,88.4 L395.3,87.7 L396.3,87.3 L397.3,87.0 L398.3,87.1 L399.3,87.6 L400.3,88.5 L401.3,89.7 L402.3,91.1 L403.3,92.6 L404.3,94.1 L405.3,95.4 L406.3,96.8 L407.3,98.3 L408.3,99.8 L409.3,101.4 L410.3,103.0 L411.3,104.6 L412.3,106.1 L413.3,107.6 L414.3,108.9 L415.3,110.2 L416.3,111.4 L417.3,112.6 L418.3,113.8 L419.3,115.1 L420.3,116.4 L421.3,117.9 L422.3,119.4 L423.3,121.0 L424.3,122.6 L425.3,124.2 L426.3,125.7 L427.3,127.1 L428.3,128.4 L429.3,129.5 L430.3,130.6 L431.3,131.7 L432.3,132.7 L433.3,133.7 L434.3,134.6 L435.3,135.5 L436.3,136.2 L437.3,137.0 L438.3,137.7 L439.3,138.4 L440.3,139.1 L441.3,139.8 L442.3,140.4 L443.3,140.9 L444.3,141.4 L445.3,141.8 L446.3,142.1 L447.3,142.4 L448.3,142.7 L449.3,143.0 L450.3,143.2 L451.3,143.4 L452.3,143.6 L453.3,143.8 L454.3,143.9 L455.3,144.0" fill="none" stroke="#2424ff" stroke-width="1.2"/><path d="M329.3,150.0 L330.3,151.3 L331.3,152.6 L332.3,153.8 L333.3,155.0 L334.3,156.1 L335.3,157.2 L336.3,158.3 L337.3,159.3 L338.3,160.3 L339.3,161.3 L340.3,162.4 L341.3,163.5 L342.3,164.6 L343.3,165.6 L344.3,166.4 L345.3,167.2 L346.3,167.7 L347.3,168.0 L348.3,168.0 L349.3,167.9 L350.3,167.8 L351.3,167.5 L352.3,167.3 L353.3,167.0 L354.3,166.6 L355.3,166.2 L356.3,165.8 L357.3,165.3 L358.3,164.9 L359.3,164.2 L360.3,163.4 L361.3,162.3 L362.3,161.1 L363.3,159.8 L364.3,158.3 L365.3,156.7 L366.3,155.0 L367.3,153.2 L368.3,151.4 L369.3,149.5 L370.3,147.6 L371.3,145.7 L372.3,143.7 L373.3,141.8 L374.3,140.0 L375.3,138.2 L376.3,136.5 L377.3,134.7 L378.3,132.9 L379.3,131.0 L380.3,129.1 L381.3,127.1 L382.3,125.2 L383.3,123.3 L384.3,121.4 L385.3,119.5 L386.3,117.8 L387.3,116.1 L388.3,114.5 L389.3,112.9 L390.3,111.1 L391.3,109.3 L392.3,107.5 L393.3,105.9 L394.3,104.4 L395.3,103.2 L396.3,102.3 L397.3,101.9 L398.3,101.8 L399.3,102.1 L400.3,102.6 L401.3,103.3 L402.3,104.1 L403.3,104.8 L404.3,105.6 L405.3,106.2 L406.3,106.7 L407.3,107.2 L408.3,107.7 L409.3,108.2 L410.3,108.7 L411.3,109.3 L412.3,110.0 L413.3,110.7 L414.3,111.7 L415.3,113.0 L416.3,114.6 L417.3,116.3 L418.3,118.2 L419.3,120.1 L420.3,122.0 L421.3,123.8 L422.3,125.5 L423.3,127.1 L424.3,128.6 L425.3,130.2 L426.3,131.7 L427.3,133.2 L428.3,134.7 L429.3,136.2 L430.3,137.6 L431.3,139.0 L432.3,140.4 L433.3,141.9 L434.3,143.6 L435.3,145.2 L436.3,146.8 L437.3,148.2 L438.3,149.2 L439.3,149.9 L440.3,150.0 L441.3,150.0 L442.3,150.0 L443.3,150.0 L444.3,150.0 L445.3,150.0 L446.3,150.0 L447.3,150.0 L448.3,150.0 L449.3,149.9 L450.3,149.8 L451.3,149.6 L452.3,149.3 L453.3,149.0 L454.3,148.6 L455.3,148.3" fill="none" stroke="#2424ff" stroke-width="1.2"/><path d="M329.3,153.0 L330.3,154.2 L331.3,155.4 L332.3,156.6 L333.3,157.8 L334.3,158.9 L335.3,160.1 L336.3,161.2 L337.3,162.3 L338.3,163.3 L339.3,164.5 L340.3,165.7 L341.3,167.0 L342.3,168.3 L343.3,169.5 L344.3,170.6 L345.3,171.5 L346.3,172.1 L347.3,172.5 L348.3,172.5 L349.3,172.4 L350.3,172.2 L351.3,172.0 L352.3,171.6 L353.3,171.3 L354.3,170.8 L355.3,170.4 L356.3,169.9 L357.3,169.4 L358.3,168.8 L359.3,168.1 L360.3,167.2 L361.3,166.1 L362.3,164.8 L363.3,163.4 L364.3,161.9 L365.3,160.2 L366.3,158.5 L367.3,156.6 L368.3,154.7 L369.3,152.8 L370.3,150.8 L371.3,148.8 L372.3,146.9 L373.3,144.9 L374.3,143.1 L375.3,141.2 L376.3,139.5 L377.3,137.7 L378.3,135.8 L379.3,133.8 L380.3,131.8 L381.3,129.8 L382.3,127.9 L383.3,125.9 L384.3,124.0 L385.3,122.2 L386.3,120.5 L387.3,119.0 L388.3,117.6 L389.3,116.2 L390.3,114.7 L391.3,113.2 L392.3,111.8 L393.3,110.5 L394.3,109.3 L395.3,108.4 L396.3,107.7 L397.3,107.3 L398.3,107.3 L399.3,107.6 L400.3,108.1 L401.3,108.8 L402.3,109.5 L403.3,110.2 L404.3,110.7 L405.3,111.1 L406.3,111.4 L407.3,111.6 L408.3,111.7 L409.3,111.9 L410.3,112.1 L411.3,112.3 L412.3,112.5 L413.3,112.9 L414.3,113.5 L415.3,115.0 L416.3,117.0 L417.3,119.6 L418.3,122.4 L419.3,125.3 L420.3,128.1 L421.3,130.5 L422.3,132.6 L423.3,134.4 L424.3,136.3 L425.3,138.1 L426.3,139.8 L427.3,141.4 L428.3,143.0 L429.3,144.5 L430.3,145.9 L431.3,147.2 L432.3,148.3 L433.3,149.5 L434.3,150.7 L435.3,151.9 L436.3,152.9 L437.3,153.8 L438.3,154.5 L439.3,154.9 L440.3,155.0 L441.3,154.8 L442.3,154.5 L443.3,154.1 L444.3,153.7 L445.3,153.2 L446.3,152.7 L447.3,152.2 L448.3,151.9 L449.3,151.6 L450.3,151.3 L451.3,151.1 L452.3,150.8 L453.3,150.6 L454.3,150.3 L455.3,150.1" fill="none" stroke="#2424ff" stroke-width="1.2"/><path d="M329.3,156.0 L330.3,157.2 L331.3,158.3 L332.3,159.5 L333.3,160.6 L334.3,161.8 L335.3,162.9 L336.3,164.1 L337.3,165.2 L338.3,166.4 L339.3,167.6 L340.3,169.1 L341.3,170.6 L342.3,172.0 L343.3,173.4 L344.3,174.7 L345.3,175.8 L346.3,176.5 L347.3,176.9 L348.3,177.0 L349.3,176.8 L350.3,176.5 L351.3,176.1 L352.3,175.6 L353.3,174.9 L354.3,174.2 L355.3,173.4 L356.3,172.6 L357.3,171.7 L358.3,170.7 L359.3,169.3 L360.3,167.3 L361.3,164.9 L362.3,162.1 L363.3,159.1 L364.3,156.0 L365.3,152.8 L366.3,149.6 L367.3,146.6 L368.3,143.9 L369.3,141.4 L370.3,139.4 L371.3,137.5 L372.3,135.4 L373.3,133.4 L374.3,131.4 L375.3,129.6 L376.3,127.9 L377.3,126.4 L378.3,125.3 L379.3,124.5 L380.3,124.0 L381.3,124.0 L382.3,124.3 L383.3,124.8 L384.3,125.4 L385.3,126.1 L386.3,126.9 L387.3,127.6 L388.3,128.2 L389.3,128.9 L390.3,129.8 L391.3,130.6 L392.3,131.5 L393.3,132.2 L394.3,132.7 L395.3,133.0 L396.3,132.9 L397.3,132.3 L398.3,131.4 L399.3,130.2 L400.3,128.8 L401.3,127.4 L402.3,126.0 L403.3,124.7 L404.3,123.7 L405.3,122.7 L406.3,121.6 L407.3,120.4 L408.3,119.3 L409.3,118.3 L410.3,117.4 L411.3,116.7 L412.3,116.2 L413.3,116.0 L414.3,116.2 L415.3,116.8 L416.3,117.9 L417.3,119.3 L418.3,121.0 L419.3,122.9 L420.3,124.9 L421.3,126.9 L422.3,128.9 L423.3,130.8 L424.3,132.5 L425.3,134.2 L426.3,136.0 L427.3,137.9 L428.3,139.8 L429.3,141.6 L430.3,143.5 L431.3,145.4 L432.3,147.2 L433.3,148.9 L434.3,150.5 L435.3,152.1 L436.3,153.8 L437.3,155.5 L438.3,157.2 L439.3,158.8 L440.3,160.3 L441.3,161.7 L442.3,162.9 L443.3,164.0 L444.3,164.8 L445.3,165.4 L446.3,166.0 L447.3,166.6 L448.3,167.1 L449.3,167.5 L450.3,167.8 L451.3,168.0 L452.3,168.0 L453.3,167.9 L454.3,167.7 L455.3,167.3" fill="none" stroke="#2424ff" stroke-width="1.2"/><path d="M329.3,159.0 L330.3,160.1 L331.3,161.2 L332.3,162.3 L333.3,163.5 L334.3,164.6 L335.3,165.8 L336.3,167.0 L337.3,168.2 L338.3,169.4 L339.3,170.8 L340.3,172.4 L341.3,174.1 L342.3,175.7 L343.3,177.4 L344.3,178.8 L345.3,180.0 L346.3,180.9 L347.3,181.4 L348.3,181.5 L349.3,181.3 L350.3,181.0 L351.3,180.5 L352.3,179.9 L353.3,179.2 L354.3,178.5 L355.3,177.6 L356.3,176.7 L357.3,175.7 L358.3,174.7 L359.3,173.2 L360.3,171.2 L361.3,168.8 L362.3,166.0 L363.3,163.0 L364.3,159.9 L365.3,156.7 L366.3,153.6 L367.3,150.6 L368.3,147.8 L369.3,145.4 L370.3,143.4 L371.3,141.5 L372.3,139.4 L373.3,137.4 L374.3,135.4 L375.3,133.6 L376.3,131.9 L377.3,130.4 L378.3,129.3 L379.3,128.5 L380.3,128.0 L381.3,128.0 L382.3,128.3 L383.3,128.8 L384.3,129.4 L385.3,130.1 L386.3,130.9 L387.3,131.6 L388.3,132.2 L389.3,132.9 L390.3,133.8 L391.3,134.6 L392.3,135.5 L393.3,136.2 L394.3,136.7 L395.3,137.0 L396.3,136.8 L397.3,136.2 L398.3,135.0 L399.3,133.6 L400.3,132.0 L401.3,130.3 L402.3,128.7 L403.3,127.3 L404.3,126.2 L405.3,125.1 L406.3,124.0 L407.3,122.9 L408.3,121.8 L409.3,120.8 L410.3,119.9 L411.3,119.2 L412.3,118.7 L413.3,118.5 L414.3,118.7 L415.3,119.5 L416.3,120.7 L417.3,122.4 L418.3,124.4 L419.3,126.6 L420.3,128.9 L421.3,131.2 L422.3,133.5 L423.3,135.6 L424.3,137.6 L425.3,139.5 L426.3,141.5 L427.3,143.5 L428.3,145.6 L429.3,147.6 L430.3,149.6 L431.3,151.5 L432.3,153.3 L433.3,155.0 L434.3,156.4 L435.3,157.8 L436.3,159.2 L437.3,160.5 L438.3,161.7 L439.3,162.9 L440.3,164.1 L441.3,165.1 L442.3,166.1 L443.3,167.0 L444.3,167.8 L445.3,168.5 L446.3,169.3 L447.3,170.0 L448.3,170.7 L449.3,171.2 L450.3,171.7 L451.3,171.9 L452.3,172.0 L453.3,171.9 L454.3,171.7 L455.3,171.3" fill="none" stroke="#2424ff" stroke-width="1.2"/><path d="M329.3,162.0 L330.3,163.0 L331.3,164.1 L332.3,165.2 L333.3,166.3 L334.3,167.5 L335.3,168.7 L336.3,169.9 L337.3,171.1 L338.3,172.4 L339.3,173.9 L340.3,175.7 L341.3,177.5 L342.3,179.4 L343.3,181.3 L344.3,182.9 L345.3,184.3 L346.3,185.4 L347.3,185.9 L348.3,186.0 L349.3,185.8 L350.3,185.4 L351.3,184.9 L352.3,184.3 L353.3,183.5 L354.3,182.7 L355.3,181.8 L356.3,180.8 L357.3,179.7 L358.3,178.7 L359.3,177.1 L360.3,175.1 L361.3,172.6 L362.3,169.9 L363.3,166.9 L364.3,163.8 L365.3,160.6 L366.3,157.5 L367.3,154.6 L368.3,151.8 L369.3,149.4 L370.3,147.4 L371.3,145.5 L372.3,143.4 L373.3,141.4 L374.3,139.4 L375.3,137.6 L376.3,135.9 L377.3,134.4 L378.3,133.3 L379.3,132.5 L380.3,132.0 L381.3,132.0 L382.3,132.3 L383.3,132.8 L384.3,133.4 L385.3,134.1 L386.3,134.9 L387.3,135.6 L388.3,136.2 L389.3,136.9 L390.3,137.8 L391.3,138.6 L392.3,139.5 L393.3,140.2 L394.3,140.7 L395.3,141.0 L396.3,140.8 L397.3,140.0 L398.3,138.7 L399.3,137.0 L400.3,135.2 L401.3,133.2 L402.3,131.4 L403.3,129.9 L404.3,128.7 L405.3,127.6 L406.3,126.4 L407.3,125.3 L408.3,124.2 L409.3,123.2 L410.3,122.4 L411.3,121.7 L412.3,121.2 L413.3,121.0 L414.3,121.2 L415.3,122.1 L416.3,123.6 L417.3,125.5 L418.3,127.8 L419.3,130.3 L420.3,132.9 L421.3,135.6 L422.3,138.1 L423.3,140.5 L424.3,142.6 L425.3,144.7 L426.3,146.9 L427.3,149.2 L428.3,151.4 L429.3,153.7 L430.3,155.8 L431.3,157.8 L432.3,159.5 L433.3,161.1 L434.3,162.4 L435.3,163.5 L436.3,164.5 L437.3,165.4 L438.3,166.3 L439.3,167.1 L440.3,167.9 L441.3,168.6 L442.3,169.3 L443.3,170.0 L444.3,170.8 L445.3,171.6 L446.3,172.4 L447.3,173.3 L448.3,174.2 L449.3,175.0 L450.3,175.6 L451.3,175.9 L452.3,176.0 L453.3,175.9 L454.3,175.7 L455.3,175.4" fill="none" stroke="#2424ff" stroke-width="1.2"/><path d="M351.0,224.0 L352.0,219.5 L353.0,214.9 L354.0,210.4 L355.0,205.8 L356.0,201.3 L357.0,196.7 L358.0,192.1 L359.0,187.6 L360.0,183.0 L361.0,178.4 L362.0,173.8 L363.0,169.2 L364.0,164.6 L365.0,160.0 L366.0,155.4 L367.0,150.8 L368.0,146.2 L369.0,141.6 L370.0,137.0 L371.0,132.4 L372.0,127.9 L373.0,123.4 L374.0,118.9 L375.0,114.3 L376.0,109.8 L377.0,105.2 L378.0,100.6 L379.0,96.0 L380.0,91.3 L381.0,86.6 L382.0,81.9 L383.0,77.1 L384.0,72.4 L385.0,67.6 L386.0,62.7 L387.0,57.9 L388.0,53.0" fill="none" stroke="#2424ff" stroke-width="1.2"/><path d="M355.0,224.0 L356.0,220.7 L357.0,217.3 L358.0,213.9 L359.0,210.5 L360.0,207.0 L361.0,203.4 L362.0,199.8 L363.0,196.2 L364.0,192.5 L365.0,188.8 L366.0,185.0 L367.0,181.1 L368.0,177.0 L369.0,172.8 L370.0,168.4 L371.0,164.1 L372.0,159.7 L373.0,155.5 L374.0,151.3 L375.0,147.3 L376.0,143.5 L377.0,140.0 L378.0,136.6 L379.0,133.2 L380.0,129.8 L381.0,126.6 L382.0,123.5 L383.0,120.6 L384.0,118.1 L385.0,115.8 L386.0,114.0 L387.0,112.4 L388.0,110.8 L389.0,109.2 L390.0,107.7 L391.0,106.3 L392.0,105.0 L393.0,103.8 L394.0,102.7 L395.0,101.8 L396.0,101.0 L397.0,100.5 L398.0,100.1 L399.0,100.0 L400.0,100.0 L401.0,100.0 L402.0,100.0 L403.0,100.0 L404.0,100.0 L405.0,100.0 L406.0,100.0 L407.0,100.0 L408.0,100.0 L409.0,100.0 L410.0,100.0 L411.0,100.0 L412.0,100.0 L413.0,100.0 L414.0,100.0 L415.0,100.3 L416.0,100.8 L417.0,101.4 L418.0,102.3 L419.0,103.3 L420.0,104.4 L421.0,105.5 L422.0,106.7 L423.0,107.9 L424.0,109.0 L425.0,110.0 L426.0,111.0 L427.0,112.0 L428.0,113.0 L429.0,114.0 L430.0,115.0 L431.0,116.1 L432.0,117.2 L433.0,118.4 L434.0,119.5 L435.0,120.7 L436.0,122.0 L437.0,123.2 L438.0,124.2 L439.0,125.4 L440.0,126.9 L441.0,129.0 L442.0,132.9 L443.0,141.2 L444.0,150.0 L445.0,157.7 L446.0,165.4 L447.0,172.2 L448.0,177.8 L449.0,182.6 L450.0,186.8 L451.0,190.9 L452.0,195.0 L453.0,199.2 L454.0,203.2 L455.0,207.2" fill="none" stroke="#2424ff" stroke-width="1.2"/><path d="M353.0,224.0 L354.0,220.4 L355.0,216.8 L356.0,213.3 L357.0,209.8 L358.0,206.3 L359.0,202.9 L360.0,199.5 L361.0,196.2 L362.0,192.8 L363.0,189.6 L364.0,186.3 L365.0,183.2 L366.0,180.0 L367.0,176.8 L368.0,173.6 L369.0,170.4 L370.0,167.2 L371.0,164.1 L372.0,161.0 L373.0,158.0 L374.0,155.1 L375.0,152.3 L376.0,149.7 L377.0,147.2 L378.0,145.0 L379.0,142.9 L380.0,140.9 L381.0,138.9 L382.0,137.0 L383.0,135.2 L384.0,133.4 L385.0,131.8 L386.0,130.2 L387.0,128.7 L388.0,127.4 L389.0,126.1 L390.0,125.0 L391.0,123.9 L392.0,122.8 L393.0,121.7 L394.0,120.6 L395.0,119.7 L396.0,118.8 L397.0,118.1 L398.0,117.5 L399.0,117.1 L400.0,117.0 L401.0,117.1 L402.0,117.3 L403.0,117.6 L404.0,118.0 L405.0,118.5 L406.0,119.1 L407.0,119.8 L408.0,120.5 L409.0,121.2 L410.0,122.0 L411.0,123.0 L412.0,124.4 L413.0,126.1 L414.0,128.0 L415.0,130.1 L416.0,132.3 L417.0,134.4 L418.0,136.5 L419.0,138.4 L420.0,140.0 L421.0,141.5 L422.0,143.0 L423.0,144.5 L424.0,145.9 L425.0,147.4 L426.0,148.9 L427.0,150.3 L428.0,151.7 L429.0,153.1 L430.0,154.4 L431.0,155.7 L432.0,157.0 L433.0,158.2 L434.0,159.3 L435.0,160.4 L436.0,161.3 L437.0,162.3 L438.0,163.1 L439.0,163.8 L440.0,164.5 L441.0,165.0 L442.0,165.5 L443.0,166.0 L444.0,166.4 L445.0,166.8 L446.0,167.1 L447.0,167.4 L448.0,167.6 L449.0,167.8 L450.0,167.9 L451.0,168.1 L452.0,168.2 L453.0,168.3 L454.0,168.4 L455.0,168.5" fill="none" stroke="#2424ff" stroke-width="1.2"/><path d="M356.0,70.0 L357.0,64.3 L358.0,58.7 L359.0,53.0" fill="none" stroke="#2424ff" stroke-width="1.2"/><path d="M429.0,53.0 L430.0,54.3 L431.0,55.6 L432.0,57.0 L433.0,58.4 L434.0,59.9 L435.0,61.4 L436.0,63.1 L437.0,64.8 L438.0,66.1 L439.0,67.1 L440.0,67.6 L441.0,66.9 L442.0,65.8 L443.0,64.9 L444.0,63.9 L445.0,63.0 L446.0,62.0 L447.0,61.1 L448.0,60.2 L449.0,59.4 L450.0,58.5 L451.0,57.7 L452.0,56.9 L453.0,56.1 L454.0,55.3 L455.0,54.6" fill="none" stroke="#2424ff" stroke-width="1.2"/><path d="M424.5,53.0 L425.5,54.7 L426.5,56.4 L427.5,58.1 L428.5,59.8 L429.5,61.6 L430.5,63.4 L431.5,65.2 L432.5,67.0 L433.5,69.0 L434.5,71.2 L435.5,73.4 L436.5,75.4 L437.5,76.9 L438.5,78.0 L439.5,78.9 L440.5,78.8 L441.5,77.8 L442.5,76.6 L443.5,75.3 L444.5,73.9 L445.5,72.3 L446.5,70.8 L447.5,69.4 L448.5,68.1 L449.5,66.9 L450.5,65.7 L451.5,64.5 L452.5,63.4 L453.5,62.3 L454.5,61.3 L455.5,60.3" fill="none" stroke="#2424ff" stroke-width="1.2"/><path d="M421.0,53.0 L422.0,55.0 L423.0,57.0 L424.0,59.0 L425.0,61.1 L426.0,63.1 L427.0,65.2 L428.0,67.3 L429.0,69.4 L430.0,71.5 L431.0,73.7 L432.0,76.1 L433.0,78.7 L434.0,81.3 L435.0,83.8 L436.0,86.0 L437.0,87.9 L438.0,89.2 L439.0,90.2 L440.0,90.7 L441.0,90.1 L442.0,88.9 L443.0,87.5 L444.0,85.8 L445.0,83.8 L446.0,81.7 L447.0,79.7 L448.0,78.0 L449.0,76.4 L450.0,74.9 L451.0,73.5 L452.0,72.0 L453.0,70.7 L454.0,69.4 L455.0,68.2" fill="none" stroke="#2424ff" stroke-width="1.2"/><path d="M418.5,53.0 L419.5,55.0 L420.5,56.9 L421.5,58.9 L422.5,60.9 L423.5,62.9 L424.5,64.9 L425.5,66.9 L426.5,68.9 L427.5,71.0 L428.5,73.0 L429.5,75.0 L430.5,77.3 L431.5,79.7 L432.5,82.1 L433.5,84.6 L434.5,86.9 L435.5,89.0 L436.5,90.9 L437.5,92.3 L438.5,93.4 L439.5,94.3 L440.5,94.2 L441.5,93.2 L442.5,92.0 L443.5,90.4 L444.5,88.5 L445.5,86.4 L446.5,84.4 L447.5,82.5 L448.5,80.9 L449.5,79.4 L450.5,77.9 L451.5,76.4 L452.5,75.1 L453.5,73.7 L454.5,72.5 L455.5,71.3" fill="none" stroke="#2424ff" stroke-width="1.2"/><path d="M444.3,150.9 L445.3,150.7 L446.3,150.4 L447.3,150.2 L448.3,149.9 L449.3,149.7 L450.3,149.4 L451.3,149.2 L452.3,148.9 L453.3,148.7 L454.3,148.4 L455.3,148.2" fill="none" stroke="#2424ff" stroke-width="1.2"/><path d="M413.6,100.0 L414.6,93.9 L415.6,87.6 L416.6,80.9 L417.6,73.7 L418.6,67.2 L419.6,62.1 L420.6,57.7 L421.6,54.2" fill="none" stroke="#2424ff" stroke-width="1.2"/><path d="M413.6,95.0 L414.6,90.4 L415.6,85.4 L416.6,80.2 L417.6,74.4 L418.6,67.9 L419.6,61.9 L420.6,57.5 L421.6,53.8 L422.6,50.9" fill="none" stroke="#2424ff" stroke-width="1.2"/><path d="M413.6,90.0 L414.6,86.5 L415.6,82.9 L416.6,79.3 L417.6,75.5 L418.6,71.6 L419.6,67.4 L420.6,63.2 L421.6,59.3 L422.6,56.2 L423.6,53.3 L424.6,50.9" fill="none" stroke="#2424ff" stroke-width="1.2"/><path d="M255.5,149.9 L256.5,149.2 L257.5,148.5 L258.5,147.8 L259.5,147.2 L260.5,146.7 L261.5,146.2 L262.5,145.8 L263.5,145.4 L264.5,145.0 L265.5,144.7 L266.5,144.4 L267.5,144.1 L268.5,143.9 L269.5,143.8 L270.5,143.8 L271.5,143.9 L272.5,144.1 L273.5,144.3 L274.5,144.7 L275.5,145.0 L276.5,145.4 L277.5,145.9 L278.5,146.3 L279.5,146.8 L280.5,147.2 L281.5,147.8 L282.5,148.5 L283.5,149.2 L284.5,150.0 L285.5,150.9 L286.5,151.8 L287.5,152.7 L288.5,153.6 L289.5,154.6 L290.5,155.5 L291.5,156.4 L292.5,157.5 L293.5,158.6 L294.5,159.7 L295.5,160.8 L296.5,161.9 L297.5,162.9 L298.5,163.8 L299.5,164.6 L300.5,165.3 L301.5,166.0 L302.5,166.7 L303.5,167.4 L304.5,168.0 L305.5,168.6 L306.5,169.1 L307.5,169.5 L308.5,169.8 L309.5,170.0 L310.5,170.0 L311.5,169.7 L312.5,169.3 L313.5,168.6 L314.5,167.9 L315.5,167.0 L316.5,166.1 L317.5,165.2 L318.5,164.3 L319.5,163.4 L320.5,162.6 L321.5,161.8 L322.5,161.0 L323.5,160.2 L324.5,159.3 L325.5,158.5 L326.5,157.6 L327.5,156.7 L328.5,155.7" fill="none" stroke="#2424ff" stroke-width="1.2"/><path d="M255.5,151.4 L256.5,152.1 L257.5,152.7 L258.5,153.3 L259.5,153.8 L260.5,154.2 L261.5,154.6 L262.5,155.1 L263.5,155.4 L264.5,155.6 L265.5,155.7 L266.5,155.5 L267.5,155.2 L268.5,154.7 L269.5,154.2 L270.5,153.7 L271.5,153.3 L272.5,152.8 L273.5,152.4 L274.5,151.9 L275.5,151.5 L276.5,151.3 L277.5,151.2 L278.5,151.3 L279.5,151.5 L280.5,151.9 L281.5,152.3 L282.5,152.8 L283.5,153.4 L284.5,154.3 L285.5,155.4 L286.5,156.5 L287.5,157.6 L288.5,158.9 L289.5,160.3 L290.5,161.9 L291.5,163.4 L292.5,164.9 L293.5,166.3 L294.5,167.5 L295.5,168.5 L296.5,169.4 L297.5,170.4 L298.5,171.4 L299.5,172.3 L300.5,173.1 L301.5,173.8 L302.5,174.3 L303.5,174.8 L304.5,175.0 L305.5,175.0 L306.5,174.9 L307.5,174.7 L308.5,174.5 L309.5,174.2 L310.5,173.9 L311.5,173.5 L312.5,173.1 L313.5,172.6 L314.5,172.2 L315.5,171.8 L316.5,171.3 L317.5,170.7 L318.5,170.1 L319.5,169.4 L320.5,168.6 L321.5,167.8 L322.5,167.0 L323.5,166.1 L324.5,165.1 L325.5,164.1 L326.5,163.1 L327.5,162.0 L328.5,160.9" fill="none" stroke="#2424ff" stroke-width="1.2"/><path d="M255.5,167.9 L256.5,166.7 L257.5,165.6 L258.5,164.7 L259.5,163.8 L260.5,163.0 L261.5,162.4 L262.5,161.9 L263.5,161.6 L264.5,161.4 L265.5,161.4 L266.5,161.5 L267.5,161.7 L268.5,162.0 L269.5,162.3 L270.5,162.7 L271.5,163.2 L272.5,163.7 L273.5,164.2 L274.5,164.7 L275.5,165.3 L276.5,166.0 L277.5,166.9 L278.5,167.9 L279.5,169.0 L280.5,170.1 L281.5,171.3 L282.5,172.4 L283.5,173.5 L284.5,174.5 L285.5,175.5 L286.5,176.5 L287.5,177.5 L288.5,178.6 L289.5,179.5 L290.5,180.2 L291.5,180.6 L292.5,180.7 L293.5,180.8 L294.5,180.9 L295.5,180.9 L296.5,180.9 L297.5,181.0 L298.5,181.0 L299.5,181.0 L300.5,181.0 L301.5,180.9 L302.5,180.7 L303.5,180.5 L304.5,180.2 L305.5,179.8 L306.5,179.4 L307.5,179.0 L308.5,178.6 L309.5,178.2 L310.5,177.8 L311.5,177.3 L312.5,176.8 L313.5,176.3 L314.5,175.6 L315.5,175.0 L316.5,174.4 L317.5,173.7 L318.5,173.0 L319.5,172.3 L320.5,171.7 L321.5,171.0 L322.5,170.3 L323.5,169.5 L324.5,168.8 L325.5,168.0 L326.5,167.3 L327.5,166.5 L328.5,165.7" fill="none" stroke="#2424ff" stroke-width="1.2"/><path d="M255.5,170.8 L256.5,171.5 L257.5,172.1 L258.5,172.8 L259.5,173.4 L260.5,174.0 L261.5,174.7 L262.5,175.3 L263.5,176.0 L264.5,176.7 L265.5,177.5 L266.5,178.1 L267.5,178.8 L268.5,179.3 L269.5,179.7 L270.5,180.1 L271.5,180.5 L272.5,180.8 L273.5,181.1 L274.5,181.4 L275.5,181.5 L276.5,181.5 L277.5,181.5 L278.5,181.5 L279.5,181.5 L280.5,181.5 L281.5,181.5 L282.5,181.5 L283.5,181.5 L284.5,181.5 L285.5,181.5 L286.5,181.5 L287.5,181.5 L288.5,181.5 L289.5,181.5 L290.5,181.5 L291.5,181.6 L292.5,181.7 L293.5,181.9 L294.5,182.1 L295.5,182.4 L296.5,182.6 L297.5,182.8 L298.5,182.9 L299.5,183.0 L300.5,183.0 L301.5,183.0 L302.5,182.9 L303.5,182.9 L304.5,182.8 L305.5,182.7 L306.5,182.5 L307.5,182.4 L308.5,182.2 L309.5,182.1 L310.5,181.9 L311.5,181.6 L312.5,181.3 L313.5,180.8 L314.5,180.3 L315.5,179.8 L316.5,179.2 L317.5,178.6 L318.5,177.9 L319.5,177.3 L320.5,176.7 L321.5,176.1 L322.5,175.4 L323.5,174.7 L324.5,173.9 L325.5,173.2 L326.5,172.4 L327.5,171.5 L328.5,170.7" fill="none" stroke="#2424ff" stroke-width="1.2"/><path d="M255.5,190.5 L256.5,190.1 L257.5,189.7 L258.5,189.3 L259.5,189.1 L260.5,188.9 L261.5,188.7 L262.5,188.6 L263.5,188.5 L264.5,188.4 L265.5,188.4 L266.5,188.4 L267.5,188.4 L268.5,188.4 L269.5,188.6 L270.5,189.1 L271.5,189.6 L272.5,190.4 L273.5,191.2 L274.5,192.2 L275.5,193.2 L276.5,194.3 L277.5,195.3 L278.5,196.4 L279.5,197.5 L280.5,198.6 L281.5,200.0 L282.5,201.7 L283.5,203.4 L284.5,205.0 L285.5,206.2 L286.5,206.9 L287.5,207.0 L288.5,206.8 L289.5,206.4 L290.5,205.8 L291.5,205.2 L292.5,204.6 L293.5,203.9 L294.5,203.3 L295.5,202.7 L296.5,202.1 L297.5,201.5 L298.5,200.9 L299.5,200.3 L300.5,199.7 L301.5,199.2 L302.5,198.7 L303.5,198.2 L304.5,197.8 L305.5,197.3 L306.5,196.8 L307.5,196.3 L308.5,195.8 L309.5,195.3 L310.5,194.7 L311.5,194.1 L312.5,193.4 L313.5,192.8 L314.5,192.1 L315.5,191.4 L316.5,190.7 L317.5,189.9 L318.5,189.2 L319.5,188.4 L320.5,187.6 L321.5,186.8 L322.5,186.0 L323.5,185.2 L324.5,184.3 L325.5,183.5 L326.5,182.6 L327.5,181.7 L328.5,180.7" fill="none" stroke="#2424ff" stroke-width="1.2"/><path d="M255.5,199.3 L256.5,199.8 L257.5,200.4 L258.5,201.0 L259.5,201.5 L260.5,202.1 L261.5,202.7 L262.5,203.3 L263.5,203.9 L264.5,204.5 L265.5,205.1 L266.5,205.8 L267.5,206.4 L268.5,207.0 L269.5,207.7 L270.5,208.3 L271.5,209.1 L272.5,209.8 L273.5,210.6 L274.5,211.3 L275.5,211.8 L276.5,212.2 L277.5,212.5 L278.5,212.8 L279.5,213.1 L280.5,213.4 L281.5,213.6 L282.5,213.8 L283.5,213.9 L284.5,214.0 L285.5,214.0 L286.5,213.9 L287.5,213.8 L288.5,213.7 L289.5,213.5 L290.5,213.3 L291.5,213.0 L292.5,212.8 L293.5,212.5 L294.5,212.2 L295.5,211.8 L296.5,211.4 L297.5,210.8 L298.5,210.1 L299.5,209.4 L300.5,208.6 L301.5,207.8 L302.5,206.9 L303.5,206.1 L304.5,205.4 L305.5,204.6 L306.5,203.9 L307.5,203.2 L308.5,202.5 L309.5,201.8 L310.5,201.0 L311.5,200.3 L312.5,199.6 L313.5,199.0 L314.5,198.3 L315.5,197.7 L316.5,197.1 L317.5,196.5 L318.5,195.9 L319.5,195.3 L320.5,194.7 L321.5,194.1 L322.5,193.5 L323.5,193.0 L324.5,192.4 L325.5,191.9 L326.5,191.4 L327.5,190.9 L328.5,190.4" fill="none" stroke="#2424ff" stroke-width="1.2"/><path d="M255.5,211.0 L256.5,211.0 L257.5,211.1 L258.5,211.2 L259.5,211.2 L260.5,211.3 L261.5,211.4 L262.5,211.6 L263.5,211.7 L264.5,211.9 L265.5,212.2 L266.5,212.5 L267.5,212.8 L268.5,213.2 L269.5,213.7 L270.5,214.3 L271.5,215.0 L272.5,215.7 L273.5,216.4 L274.5,217.1 L275.5,217.7 L276.5,218.3 L277.5,218.7 L278.5,219.2 L279.5,219.7 L280.5,220.1 L281.5,220.5 L282.5,220.9 L283.5,221.4 L284.5,221.8 L285.5,222.2 L286.5,222.7 L287.5,223.1 L288.5,223.5 L289.5,223.9 L290.5,224.4 L291.5,224.8" fill="none" stroke="#2424ff" stroke-width="1.2"/><path d="M293.0,176.6 L294.0,176.7 L295.0,176.8 L296.0,176.8 L297.0,176.9 L298.0,177.0 L299.0,177.0 L300.0,177.0 L301.0,177.0 L302.0,177.0 L303.0,176.9 L304.0,176.9 L305.0,176.8 L306.0,176.8 L307.0,176.7 L308.0,176.7 L309.0,176.6 L310.0,176.6 L311.0,176.6 L312.0,176.6 L313.0,176.7 L314.0,176.8 L315.0,176.9 L316.0,177.1 L317.0,177.3 L318.0,177.5 L319.0,177.8 L320.0,178.0" fill="none" stroke="#2424ff" stroke-width="1.2"/><path d="M283.0,148.5 L284.0,150.1 L285.0,151.7 L286.0,153.4 L287.0,155.2 L288.0,157.0 L289.0,158.9 L290.0,160.9 L291.0,162.9 L292.0,165.0" fill="none" stroke="#2424ff" stroke-width="1.2"/><path d="M270.0,186.0 L271.0,186.8 L272.0,187.6 L273.0,188.4 L274.0,189.3 L275.0,190.2 L276.0,191.1 L277.0,192.0 L278.0,193.0 L279.0,194.0 L280.0,195.0 L281.0,196.2 L282.0,197.6 L283.0,199.1 L284.0,200.6 L285.0,201.8 L286.0,202.7 L287.0,203.0 L288.0,202.5 L289.0,201.3 L290.0,199.7 L291.0,198.2 L292.0,197.2 L293.0,197.1 L294.0,198.0 L295.0,199.5 L296.0,201.2 L297.0,202.8 L298.0,203.8 L299.0,203.9 L300.0,203.2 L301.0,201.8 L302.0,200.2 L303.0,198.4 L304.0,196.9 L305.0,195.7 L306.0,194.7 L307.0,193.8 L308.0,193.0 L309.0,192.2 L310.0,191.4 L311.0,190.7 L312.0,190.0 L313.0,189.3 L314.0,188.7 L315.0,188.1 L316.0,187.5 L317.0,186.9 L318.0,186.3 L319.0,185.7 L320.0,185.0 L321.0,184.3 L322.0,183.6 L323.0,182.9 L324.0,182.1 L325.0,181.4 L326.0,180.6 L327.0,179.9 L328.0,179.1 L329.0,178.2" fill="none" stroke="#2424ff" stroke-width="1.2"/><path d="M276.0,201.0 L277.0,202.5 L278.0,203.8 L279.0,204.9 L280.0,205.7 L281.0,206.4 L282.0,206.9 L283.0,207.2 L284.0,207.4 L285.0,207.5 L286.0,207.4 L287.0,206.9 L288.0,205.9 L289.0,204.7 L290.0,203.3 L291.0,202.1 L292.0,201.0 L293.0,200.0 L294.0,198.9 L295.0,197.8 L296.0,196.8 L297.0,196.0 L298.0,195.6 L299.0,195.6 L300.0,196.2 L301.0,197.4 L302.0,198.7 L303.0,200.0 L304.0,200.8 L305.0,201.0 L306.0,200.7 L307.0,200.1 L308.0,199.4 L309.0,198.5 L310.0,197.6 L311.0,196.7 L312.0,196.0 L313.0,195.3 L314.0,194.7 L315.0,194.1 L316.0,193.4 L317.0,192.8 L318.0,192.2 L319.0,191.6 L320.0,191.0" fill="none" stroke="#2424ff" stroke-width="1.2"/><path d="M381.0,130.0 L382.0,130.5 L383.0,131.1 L384.0,131.6 L385.0,132.2 L386.0,132.7 L387.0,133.3 L388.0,133.9 L389.0,134.4 L390.0,135.0 L391.0,135.7 L392.0,136.4 L393.0,137.2 L394.0,138.0 L395.0,138.7 L396.0,139.2 L397.0,139.6 L398.0,139.7 L399.0,139.4 L400.0,138.7 L401.0,137.8 L402.0,136.6 L403.0,135.4 L404.0,134.2 L405.0,133.0 L406.0,131.9 L407.0,130.6 L408.0,129.3 L409.0,127.9 L410.0,126.5 L411.0,125.0" fill="none" stroke="#2424ff" stroke-width="1.2"/><g fill="#ff1a1a" transform="translate(0,0.6)"><circle cx="255.5" cy="56.8" r="1.1"/><circle cx="258.8" cy="56.8" r="1.1"/><circle cx="262.1" cy="56.9" r="1.1"/><circle cx="265.4" cy="57.0" r="1.1"/><circle cx="268.7" cy="57.3" r="1.1"/><circle cx="272.0" cy="58.0" r="1.1"/><circle cx="275.3" cy="61.0" r="1.1"/><circle cx="278.6" cy="68.7" r="1.1"/><circle cx="281.9" cy="82.5" r="1.1"/><circle cx="285.2" cy="95.8" r="1.1"/><circle cx="288.5" cy="110.0" r="1.1"/><circle cx="291.8" cy="122.4" r="1.1"/><circle cx="295.1" cy="131.0" r="1.1"/><circle cx="298.4" cy="137.6" r="1.1"/><circle cx="301.7" cy="143.1" r="1.1"/><circle cx="305.0" cy="148.3" r="1.1"/><circle cx="308.3" cy="152.3" r="1.1"/><circle cx="311.6" cy="155.6" r="1.1"/><circle cx="314.9" cy="157.8" r="1.1"/><circle cx="318.2" cy="157.8" r="1.1"/><circle cx="321.5" cy="157.1" r="1.1"/><circle cx="324.8" cy="155.7" r="1.1"/><circle cx="328.1" cy="153.1" r="1.1"/><circle cx="255.5" cy="58.8" r="1.1"/><circle cx="258.8" cy="58.9" r="1.1"/><circle cx="262.1" cy="59.0" r="1.1"/><circle cx="265.4" cy="59.3" r="1.1"/><circle cx="268.7" cy="59.6" r="1.1"/><circle cx="272.0" cy="60.8" r="1.1"/><circle cx="275.3" cy="63.4" r="1.1"/><circle cx="278.6" cy="69.2" r="1.1"/><circle cx="281.9" cy="76.8" r="1.1"/><circle cx="285.2" cy="83.4" r="1.1"/><circle cx="288.5" cy="96.0" r="1.1"/><circle cx="291.8" cy="110.3" r="1.1"/><circle cx="295.1" cy="123.3" r="1.1"/><circle cx="298.4" cy="132.6" r="1.1"/><circle cx="301.7" cy="139.1" r="1.1"/><circle cx="305.0" cy="144.8" r="1.1"/><circle cx="308.3" cy="150.5" r="1.1"/><circle cx="311.6" cy="155.1" r="1.1"/><circle cx="314.9" cy="159.0" r="1.1"/><circle cx="318.2" cy="159.9" r="1.1"/><circle cx="321.5" cy="159.0" r="1.1"/><circle cx="324.8" cy="157.6" r="1.1"/><circle cx="328.1" cy="155.1" r="1.1"/><circle cx="255.5" cy="62.0" r="1.1"/><circle cx="258.8" cy="62.1" r="1.1"/><circle cx="262.1" cy="62.2" r="1.1"/><circle cx="265.4" cy="62.4" r="1.1"/><circle cx="268.7" cy="63.1" r="1.1"/><circle cx="272.0" cy="64.5" r="1.1"/><circle cx="275.3" cy="67.3" r="1.1"/><circle cx="278.6" cy="71.8" r="1.1"/><circle cx="281.9" cy="76.2" r="1.1"/><circle cx="285.2" cy="79.8" r="1.1"/><circle cx="288.5" cy="85.8" r="1.1"/><circle cx="291.8" cy="100.4" r="1.1"/><circle cx="295.1" cy="115.0" r="1.1"/><circle cx="298.4" cy="127.8" r="1.1"/><circle cx="301.7" cy="136.5" r="1.1"/><circle cx="305.0" cy="142.3" r="1.1"/><circle cx="308.3" cy="148.4" r="1.1"/><circle cx="311.6" cy="154.4" r="1.1"/><circle cx="314.9" cy="159.4" r="1.1"/><circle cx="318.2" cy="162.0" r="1.1"/><circle cx="321.5" cy="161.1" r="1.1"/><circle cx="324.8" cy="159.6" r="1.1"/><circle cx="328.1" cy="157.1" r="1.1"/><circle cx="255.5" cy="64.5" r="1.1"/><circle cx="258.8" cy="64.7" r="1.1"/><circle cx="262.1" cy="65.2" r="1.1"/><circle cx="265.4" cy="65.8" r="1.1"/><circle cx="268.7" cy="66.6" r="1.1"/><circle cx="272.0" cy="68.0" r="1.1"/><circle cx="275.3" cy="71.0" r="1.1"/><circle cx="278.6" cy="75.0" r="1.1"/><circle cx="281.9" cy="80.9" r="1.1"/><circle cx="285.2" cy="90.6" r="1.1"/><circle cx="288.5" cy="101.6" r="1.1"/><circle cx="291.8" cy="110.8" r="1.1"/><circle cx="295.1" cy="119.1" r="1.1"/><circle cx="298.4" cy="125.4" r="1.1"/><circle cx="301.7" cy="133.4" r="1.1"/><circle cx="305.0" cy="139.2" r="1.1"/><circle cx="308.3" cy="143.6" r="1.1"/><circle cx="311.6" cy="147.1" r="1.1"/><circle cx="314.9" cy="149.9" r="1.1"/><circle cx="318.2" cy="152.3" r="1.1"/><circle cx="321.5" cy="154.4" r="1.1"/><circle cx="324.8" cy="156.3" r="1.1"/><circle cx="328.1" cy="157.6" r="1.1"/><circle cx="255.5" cy="69.2" r="1.1"/><circle cx="258.8" cy="70.3" r="1.1"/><circle cx="262.1" cy="71.0" r="1.1"/><circle cx="265.4" cy="71.2" r="1.1"/><circle cx="268.7" cy="71.4" r="1.1"/><circle cx="272.0" cy="71.9" r="1.1"/><circle cx="275.3" cy="73.5" r="1.1"/><circle cx="278.6" cy="77.4" r="1.1"/><circle cx="281.9" cy="84.7" r="1.1"/><circle cx="285.2" cy="95.2" r="1.1"/><circle cx="288.5" cy="108.6" r="1.1"/><circle cx="291.8" cy="122.2" r="1.1"/><circle cx="288.5" cy="62.9" r="1.1"/><circle cx="291.8" cy="91.2" r="1.1"/><circle cx="295.1" cy="106.9" r="1.1"/><circle cx="298.4" cy="121.7" r="1.1"/><circle cx="301.7" cy="134.0" r="1.1"/><circle cx="305.0" cy="141.0" r="1.1"/><circle cx="308.3" cy="145.2" r="1.1"/><circle cx="311.6" cy="147.1" r="1.1"/><circle cx="314.9" cy="147.7" r="1.1"/><circle cx="318.2" cy="148.0" r="1.1"/><circle cx="321.5" cy="148.0" r="1.1"/><circle cx="324.8" cy="147.7" r="1.1"/><circle cx="328.1" cy="147.2" r="1.1"/><circle cx="291.8" cy="66.8" r="1.1"/><circle cx="295.1" cy="83.4" r="1.1"/><circle cx="298.4" cy="99.0" r="1.1"/><circle cx="301.7" cy="116.6" r="1.1"/><circle cx="305.0" cy="130.1" r="1.1"/><circle cx="308.3" cy="138.7" r="1.1"/><circle cx="311.6" cy="143.4" r="1.1"/><circle cx="314.9" cy="141.1" r="1.1"/><circle cx="318.2" cy="137.8" r="1.1"/><circle cx="321.5" cy="135.7" r="1.1"/><circle cx="324.8" cy="135.8" r="1.1"/><circle cx="328.1" cy="136.5" r="1.1"/><circle cx="318.2" cy="58.9" r="1.1"/><circle cx="321.5" cy="68.6" r="1.1"/><circle cx="324.8" cy="74.9" r="1.1"/><circle cx="328.1" cy="77.8" r="1.1"/><circle cx="331.4" cy="77.3" r="1.1"/><circle cx="334.7" cy="73.5" r="1.1"/><circle cx="338.0" cy="66.3" r="1.1"/><circle cx="341.3" cy="55.7" r="1.1"/><circle cx="314.9" cy="58.1" r="1.1"/><circle cx="318.2" cy="68.2" r="1.1"/><circle cx="321.5" cy="75.7" r="1.1"/><circle cx="324.8" cy="80.6" r="1.1"/><circle cx="328.1" cy="82.8" r="1.1"/><circle cx="331.4" cy="82.5" r="1.1"/><circle cx="334.7" cy="79.5" r="1.1"/><circle cx="338.0" cy="73.9" r="1.1"/><circle cx="341.3" cy="65.7" r="1.1"/><circle cx="344.6" cy="54.9" r="1.1"/><circle cx="311.6" cy="62.8" r="1.1"/><circle cx="314.9" cy="72.3" r="1.1"/><circle cx="318.2" cy="79.9" r="1.1"/><circle cx="321.5" cy="85.5" r="1.1"/><circle cx="324.8" cy="89.2" r="1.1"/><circle cx="328.1" cy="90.8" r="1.1"/><circle cx="331.4" cy="90.6" r="1.1"/><circle cx="334.7" cy="88.4" r="1.1"/><circle cx="338.0" cy="84.2" r="1.1"/><circle cx="341.3" cy="78.0" r="1.1"/><circle cx="344.6" cy="69.9" r="1.1"/><circle cx="347.9" cy="59.9" r="1.1"/><circle cx="305.0" cy="58.8" r="1.1"/><circle cx="308.3" cy="69.0" r="1.1"/><circle cx="311.6" cy="77.7" r="1.1"/><circle cx="314.9" cy="84.9" r="1.1"/><circle cx="318.2" cy="90.6" r="1.1"/><circle cx="321.5" cy="94.9" r="1.1"/><circle cx="324.8" cy="97.6" r="1.1"/><circle cx="328.1" cy="98.9" r="1.1"/><circle cx="331.4" cy="98.7" r="1.1"/><circle cx="334.7" cy="97.0" r="1.1"/><circle cx="338.0" cy="93.9" r="1.1"/><circle cx="341.3" cy="89.2" r="1.1"/><circle cx="344.6" cy="83.1" r="1.1"/><circle cx="347.9" cy="75.5" r="1.1"/><circle cx="351.2" cy="66.4" r="1.1"/><circle cx="354.5" cy="55.8" r="1.1"/><circle cx="301.7" cy="58.3" r="1.1"/><circle cx="305.0" cy="68.6" r="1.1"/><circle cx="308.3" cy="77.5" r="1.1"/><circle cx="311.6" cy="85.2" r="1.1"/><circle cx="314.9" cy="91.6" r="1.1"/><circle cx="318.2" cy="96.6" r="1.1"/><circle cx="321.5" cy="100.3" r="1.1"/><circle cx="324.8" cy="102.8" r="1.1"/><circle cx="328.1" cy="103.9" r="1.1"/><circle cx="331.4" cy="103.7" r="1.1"/><circle cx="334.7" cy="102.2" r="1.1"/><circle cx="338.0" cy="99.5" r="1.1"/><circle cx="341.3" cy="95.4" r="1.1"/><circle cx="344.6" cy="90.0" r="1.1"/><circle cx="347.9" cy="83.2" r="1.1"/><circle cx="351.2" cy="75.2" r="1.1"/><circle cx="354.5" cy="65.9" r="1.1"/><circle cx="357.8" cy="55.3" r="1.1"/><circle cx="305.0" cy="59.5" r="1.1"/><circle cx="308.3" cy="69.8" r="1.1"/><circle cx="311.6" cy="80.2" r="1.1"/><circle cx="314.9" cy="90.6" r="1.1"/><circle cx="318.2" cy="101.0" r="1.1"/><circle cx="321.5" cy="111.4" r="1.1"/><circle cx="324.8" cy="121.8" r="1.1"/><circle cx="328.1" cy="133.6" r="1.1"/><circle cx="331.4" cy="130.0" r="1.1"/><circle cx="334.7" cy="119.0" r="1.1"/><circle cx="338.0" cy="108.6" r="1.1"/><circle cx="341.3" cy="98.2" r="1.1"/><circle cx="344.6" cy="87.8" r="1.1"/><circle cx="347.9" cy="77.4" r="1.1"/><circle cx="351.2" cy="67.0" r="1.1"/><circle cx="354.5" cy="56.6" r="1.1"/><circle cx="305.0" cy="51.8" r="1.1"/><circle cx="308.3" cy="63.5" r="1.1"/><circle cx="311.6" cy="75.1" r="1.1"/><circle cx="314.9" cy="86.8" r="1.1"/><circle cx="318.2" cy="98.5" r="1.1"/><circle cx="321.5" cy="110.2" r="1.1"/><circle cx="324.8" cy="121.9" r="1.1"/><circle cx="328.1" cy="135.1" r="1.1"/><circle cx="331.4" cy="131.0" r="1.1"/><circle cx="334.7" cy="118.7" r="1.1"/><circle cx="338.0" cy="107.0" r="1.1"/><circle cx="341.3" cy="95.3" r="1.1"/><circle cx="344.6" cy="83.6" r="1.1"/><circle cx="347.9" cy="72.0" r="1.1"/><circle cx="351.2" cy="60.3" r="1.1"/><circle cx="308.3" cy="55.2" r="1.1"/><circle cx="311.6" cy="68.5" r="1.1"/><circle cx="314.9" cy="81.7" r="1.1"/><circle cx="318.2" cy="95.0" r="1.1"/><circle cx="321.5" cy="108.3" r="1.1"/><circle cx="324.8" cy="121.5" r="1.1"/><circle cx="328.1" cy="136.5" r="1.1"/><circle cx="331.4" cy="131.9" r="1.1"/><circle cx="334.7" cy="117.9" r="1.1"/><circle cx="338.0" cy="104.6" r="1.1"/><circle cx="341.3" cy="91.4" r="1.1"/><circle cx="344.6" cy="78.1" r="1.1"/><circle cx="347.9" cy="64.9" r="1.1"/><circle cx="351.2" cy="51.6" r="1.1"/><circle cx="311.6" cy="59.7" r="1.1"/><circle cx="314.9" cy="74.9" r="1.1"/><circle cx="318.2" cy="90.2" r="1.1"/><circle cx="321.5" cy="105.4" r="1.1"/><circle cx="324.8" cy="120.6" r="1.1"/><circle cx="328.1" cy="137.9" r="1.1"/><circle cx="331.4" cy="132.6" r="1.1"/><circle cx="334.7" cy="116.5" r="1.1"/><circle cx="338.0" cy="101.2" r="1.1"/><circle cx="341.3" cy="86.0" r="1.1"/><circle cx="344.6" cy="70.8" r="1.1"/><circle cx="347.9" cy="55.5" r="1.1"/><circle cx="318.2" cy="215.8" r="1.1"/><circle cx="321.5" cy="200.4" r="1.1"/><circle cx="324.8" cy="182.2" r="1.1"/><circle cx="328.1" cy="166.2" r="1.1"/><circle cx="331.4" cy="169.1" r="1.1"/><circle cx="334.7" cy="189.9" r="1.1"/><circle cx="338.0" cy="207.5" r="1.1"/><circle cx="341.3" cy="223.1" r="1.1"/><circle cx="318.2" cy="221.4" r="1.1"/><circle cx="321.5" cy="205.8" r="1.1"/><circle cx="324.8" cy="187.4" r="1.1"/><circle cx="328.1" cy="169.7" r="1.1"/><circle cx="331.4" cy="172.8" r="1.1"/><circle cx="334.7" cy="195.5" r="1.1"/><circle cx="338.0" cy="213.4" r="1.1"/><circle cx="321.5" cy="211.6" r="1.1"/><circle cx="324.8" cy="193.0" r="1.1"/><circle cx="328.1" cy="173.1" r="1.1"/><circle cx="331.4" cy="176.7" r="1.1"/><circle cx="334.7" cy="201.2" r="1.1"/><circle cx="338.0" cy="219.7" r="1.1"/><circle cx="321.5" cy="217.8" r="1.1"/><circle cx="324.8" cy="198.9" r="1.1"/><circle cx="328.1" cy="176.6" r="1.1"/><circle cx="331.4" cy="180.7" r="1.1"/><circle cx="334.7" cy="207.7" r="1.1"/><circle cx="331.4" cy="136.4" r="1.1"/><circle cx="334.7" cy="136.0" r="1.1"/><circle cx="338.0" cy="137.5" r="1.1"/><circle cx="341.3" cy="140.1" r="1.1"/><circle cx="344.6" cy="142.5" r="1.1"/><circle cx="347.9" cy="139.9" r="1.1"/><circle cx="351.2" cy="135.3" r="1.1"/><circle cx="354.5" cy="129.8" r="1.1"/><circle cx="357.8" cy="124.5" r="1.1"/><circle cx="308.3" cy="146.9" r="1.1"/><circle cx="311.6" cy="145.6" r="1.1"/><circle cx="314.9" cy="144.6" r="1.1"/><circle cx="318.2" cy="144.0" r="1.1"/><circle cx="321.5" cy="143.5" r="1.1"/><circle cx="324.8" cy="143.2" r="1.1"/><circle cx="328.1" cy="143.0" r="1.1"/><circle cx="331.4" cy="143.0" r="1.1"/><circle cx="334.7" cy="143.3" r="1.1"/><circle cx="338.0" cy="143.7" r="1.1"/><circle cx="341.3" cy="144.3" r="1.1"/><circle cx="344.6" cy="145.3" r="1.1"/><circle cx="347.9" cy="146.9" r="1.1"/><circle cx="308.3" cy="151.9" r="1.1"/><circle cx="311.6" cy="150.6" r="1.1"/><circle cx="314.9" cy="149.6" r="1.1"/><circle cx="318.2" cy="149.0" r="1.1"/><circle cx="321.5" cy="148.5" r="1.1"/><circle cx="324.8" cy="148.2" r="1.1"/><circle cx="328.1" cy="148.0" r="1.1"/><circle cx="331.4" cy="148.0" r="1.1"/><circle cx="334.7" cy="148.3" r="1.1"/><circle cx="338.0" cy="148.7" r="1.1"/><circle cx="341.3" cy="149.3" r="1.1"/><circle cx="344.6" cy="150.3" r="1.1"/><circle cx="347.9" cy="151.9" r="1.1"/><circle cx="331.4" cy="141.0" r="1.1"/><circle cx="334.7" cy="142.2" r="1.1"/><circle cx="338.0" cy="142.9" r="1.1"/><circle cx="341.3" cy="143.0" r="1.1"/><circle cx="344.6" cy="142.6" r="1.1"/><circle cx="347.9" cy="142.0" r="1.1"/><circle cx="351.2" cy="140.4" r="1.1"/><circle cx="354.5" cy="137.5" r="1.1"/><circle cx="357.8" cy="133.9" r="1.1"/><circle cx="361.1" cy="129.0" r="1.1"/><circle cx="364.4" cy="123.3" r="1.1"/><circle cx="367.7" cy="116.0" r="1.1"/><circle cx="371.0" cy="108.2" r="1.1"/><circle cx="374.3" cy="101.1" r="1.1"/><circle cx="377.6" cy="94.2" r="1.1"/><circle cx="380.9" cy="88.2" r="1.1"/><circle cx="384.2" cy="83.1" r="1.1"/><circle cx="387.5" cy="78.6" r="1.1"/><circle cx="390.8" cy="75.3" r="1.1"/><circle cx="394.1" cy="72.3" r="1.1"/><circle cx="397.4" cy="70.6" r="1.1"/><circle cx="400.7" cy="71.6" r="1.1"/><circle cx="404.0" cy="74.1" r="1.1"/><circle cx="407.3" cy="77.7" r="1.1"/><circle cx="410.6" cy="83.2" r="1.1"/><circle cx="413.9" cy="88.4" r="1.1"/><circle cx="417.2" cy="92.7" r="1.1"/><circle cx="420.5" cy="96.6" r="1.1"/><circle cx="423.8" cy="99.9" r="1.1"/><circle cx="427.1" cy="103.1" r="1.1"/><circle cx="430.4" cy="106.5" r="1.1"/><circle cx="433.7" cy="110.0" r="1.1"/><circle cx="437.0" cy="112.8" r="1.1"/><circle cx="440.3" cy="115.1" r="1.1"/><circle cx="443.6" cy="117.0" r="1.1"/><circle cx="446.9" cy="118.3" r="1.1"/><circle cx="450.2" cy="119.2" r="1.1"/><circle cx="453.5" cy="119.8" r="1.1"/><circle cx="331.4" cy="143.1" r="1.1"/><circle cx="334.7" cy="144.6" r="1.1"/><circle cx="338.0" cy="145.7" r="1.1"/><circle cx="341.3" cy="146.1" r="1.1"/><circle cx="344.6" cy="146.4" r="1.1"/><circle cx="347.9" cy="146.5" r="1.1"/><circle cx="351.2" cy="145.0" r="1.1"/><circle cx="354.5" cy="141.6" r="1.1"/><circle cx="357.8" cy="137.9" r="1.1"/><circle cx="361.1" cy="133.0" r="1.1"/><circle cx="364.4" cy="127.3" r="1.1"/><circle cx="367.7" cy="120.0" r="1.1"/><circle cx="371.0" cy="112.2" r="1.1"/><circle cx="374.3" cy="105.1" r="1.1"/><circle cx="377.6" cy="98.2" r="1.1"/><circle cx="380.9" cy="92.2" r="1.1"/><circle cx="384.2" cy="87.1" r="1.1"/><circle cx="387.5" cy="82.6" r="1.1"/><circle cx="390.8" cy="79.3" r="1.1"/><circle cx="394.1" cy="76.3" r="1.1"/><circle cx="397.4" cy="74.7" r="1.1"/><circle cx="400.7" cy="75.9" r="1.1"/><circle cx="404.0" cy="79.0" r="1.1"/><circle cx="407.3" cy="82.9" r="1.1"/><circle cx="410.6" cy="88.3" r="1.1"/><circle cx="413.9" cy="93.4" r="1.1"/><circle cx="417.2" cy="97.6" r="1.1"/><circle cx="420.5" cy="101.6" r="1.1"/><circle cx="423.8" cy="105.4" r="1.1"/><circle cx="427.1" cy="109.0" r="1.1"/><circle cx="430.4" cy="112.6" r="1.1"/><circle cx="433.7" cy="116.0" r="1.1"/><circle cx="437.0" cy="118.8" r="1.1"/><circle cx="440.3" cy="121.1" r="1.1"/><circle cx="443.6" cy="123.0" r="1.1"/><circle cx="446.9" cy="124.3" r="1.1"/><circle cx="450.2" cy="125.2" r="1.1"/><circle cx="453.5" cy="125.8" r="1.1"/><circle cx="331.4" cy="145.2" r="1.1"/><circle cx="334.7" cy="146.9" r="1.1"/><circle cx="338.0" cy="148.3" r="1.1"/><circle cx="341.3" cy="149.4" r="1.1"/><circle cx="344.6" cy="150.5" r="1.1"/><circle cx="347.9" cy="151.0" r="1.1"/><circle cx="351.2" cy="149.4" r="1.1"/><circle cx="354.5" cy="145.7" r="1.1"/><circle cx="357.8" cy="141.8" r="1.1"/><circle cx="361.1" cy="137.0" r="1.1"/><circle cx="364.4" cy="131.3" r="1.1"/><circle cx="367.7" cy="124.0" r="1.1"/><circle cx="371.0" cy="116.2" r="1.1"/><circle cx="374.3" cy="109.1" r="1.1"/><circle cx="377.6" cy="102.2" r="1.1"/><circle cx="380.9" cy="96.2" r="1.1"/><circle cx="384.2" cy="91.0" r="1.1"/><circle cx="387.5" cy="86.6" r="1.1"/><circle cx="390.8" cy="83.3" r="1.1"/><circle cx="394.1" cy="80.4" r="1.1"/><circle cx="397.4" cy="78.8" r="1.1"/><circle cx="400.7" cy="80.2" r="1.1"/><circle cx="404.0" cy="83.9" r="1.1"/><circle cx="407.3" cy="88.0" r="1.1"/><circle cx="410.6" cy="93.4" r="1.1"/><circle cx="413.9" cy="98.4" r="1.1"/><circle cx="417.2" cy="102.6" r="1.1"/><circle cx="420.5" cy="106.6" r="1.1"/><circle cx="423.8" cy="110.9" r="1.1"/><circle cx="427.1" cy="115.0" r="1.1"/><circle cx="430.4" cy="118.7" r="1.1"/><circle cx="433.7" cy="122.0" r="1.1"/><circle cx="437.0" cy="124.8" r="1.1"/><circle cx="440.3" cy="127.1" r="1.1"/><circle cx="443.6" cy="129.0" r="1.1"/><circle cx="446.9" cy="130.3" r="1.1"/><circle cx="450.2" cy="131.2" r="1.1"/><circle cx="453.5" cy="131.8" r="1.1"/><circle cx="331.4" cy="147.3" r="1.1"/><circle cx="334.7" cy="149.2" r="1.1"/><circle cx="338.0" cy="151.0" r="1.1"/><circle cx="341.3" cy="152.7" r="1.1"/><circle cx="344.6" cy="154.5" r="1.1"/><circle cx="347.9" cy="155.5" r="1.1"/><circle cx="351.2" cy="153.7" r="1.1"/><circle cx="354.5" cy="149.8" r="1.1"/><circle cx="357.8" cy="145.8" r="1.1"/><circle cx="361.1" cy="140.9" r="1.1"/><circle cx="364.4" cy="135.3" r="1.1"/><circle cx="367.7" cy="128.0" r="1.1"/><circle cx="371.0" cy="120.2" r="1.1"/><circle cx="374.3" cy="113.1" r="1.1"/><circle cx="377.6" cy="106.2" r="1.1"/><circle cx="380.9" cy="100.2" r="1.1"/><circle cx="384.2" cy="95.0" r="1.1"/><circle cx="387.5" cy="90.6" r="1.1"/><circle cx="390.8" cy="87.3" r="1.1"/><circle cx="394.1" cy="84.5" r="1.1"/><circle cx="397.4" cy="82.9" r="1.1"/><circle cx="400.7" cy="84.6" r="1.1"/><circle cx="404.0" cy="88.7" r="1.1"/><circle cx="407.3" cy="93.1" r="1.1"/><circle cx="410.6" cy="98.4" r="1.1"/><circle cx="413.9" cy="103.4" r="1.1"/><circle cx="417.2" cy="107.5" r="1.1"/><circle cx="420.5" cy="111.7" r="1.1"/><circle cx="423.8" cy="116.4" r="1.1"/><circle cx="427.1" cy="120.9" r="1.1"/><circle cx="430.4" cy="124.7" r="1.1"/><circle cx="433.7" cy="128.1" r="1.1"/><circle cx="437.0" cy="130.8" r="1.1"/><circle cx="440.3" cy="133.1" r="1.1"/><circle cx="443.6" cy="135.0" r="1.1"/><circle cx="446.9" cy="136.3" r="1.1"/><circle cx="450.2" cy="137.2" r="1.1"/><circle cx="453.5" cy="137.8" r="1.1"/><circle cx="331.4" cy="149.4" r="1.1"/><circle cx="334.7" cy="151.6" r="1.1"/><circle cx="338.0" cy="153.7" r="1.1"/><circle cx="341.3" cy="155.9" r="1.1"/><circle cx="344.6" cy="158.6" r="1.1"/><circle cx="347.9" cy="160.0" r="1.1"/><circle cx="351.2" cy="158.1" r="1.1"/><circle cx="354.5" cy="153.9" r="1.1"/><circle cx="357.8" cy="149.7" r="1.1"/><circle cx="361.1" cy="144.9" r="1.1"/><circle cx="364.4" cy="139.3" r="1.1"/><circle cx="367.7" cy="132.0" r="1.1"/><circle cx="371.0" cy="124.2" r="1.1"/><circle cx="374.3" cy="117.1" r="1.1"/><circle cx="377.6" cy="110.2" r="1.1"/><circle cx="380.9" cy="104.2" r="1.1"/><circle cx="384.2" cy="99.0" r="1.1"/><circle cx="387.5" cy="94.6" r="1.1"/><circle cx="390.8" cy="91.3" r="1.1"/><circle cx="394.1" cy="88.5" r="1.1"/><circle cx="397.4" cy="87.0" r="1.1"/><circle cx="400.7" cy="89.0" r="1.1"/><circle cx="404.0" cy="93.6" r="1.1"/><circle cx="407.3" cy="98.3" r="1.1"/><circle cx="410.6" cy="103.5" r="1.1"/><circle cx="413.9" cy="108.4" r="1.1"/><circle cx="417.2" cy="112.5" r="1.1"/><circle cx="420.5" cy="116.7" r="1.1"/><circle cx="423.8" cy="121.8" r="1.1"/><circle cx="427.1" cy="126.9" r="1.1"/><circle cx="430.4" cy="130.8" r="1.1"/><circle cx="433.7" cy="134.1" r="1.1"/><circle cx="437.0" cy="136.8" r="1.1"/><circle cx="440.3" cy="139.1" r="1.1"/><circle cx="443.6" cy="141.0" r="1.1"/><circle cx="446.9" cy="142.3" r="1.1"/><circle cx="450.2" cy="143.2" r="1.1"/><circle cx="453.5" cy="143.8" r="1.1"/><circle cx="331.4" cy="152.7" r="1.1"/><circle cx="334.7" cy="156.6" r="1.1"/><circle cx="338.0" cy="160.0" r="1.1"/><circle cx="341.3" cy="163.5" r="1.1"/><circle cx="344.6" cy="166.7" r="1.1"/><circle cx="347.9" cy="168.0" r="1.1"/><circle cx="351.2" cy="167.6" r="1.1"/><circle cx="354.5" cy="166.5" r="1.1"/><circle cx="357.8" cy="165.1" r="1.1"/><circle cx="361.1" cy="162.6" r="1.1"/><circle cx="364.4" cy="158.1" r="1.1"/><circle cx="367.7" cy="152.5" r="1.1"/><circle cx="371.0" cy="146.2" r="1.1"/><circle cx="374.3" cy="140.0" r="1.1"/><circle cx="377.6" cy="134.2" r="1.1"/><circle cx="380.9" cy="127.9" r="1.1"/><circle cx="384.2" cy="121.6" r="1.1"/><circle cx="387.5" cy="115.8" r="1.1"/><circle cx="390.8" cy="110.2" r="1.1"/><circle cx="394.1" cy="104.7" r="1.1"/><circle cx="397.4" cy="101.8" r="1.1"/><circle cx="400.7" cy="102.9" r="1.1"/><circle cx="404.0" cy="105.3" r="1.1"/><circle cx="407.3" cy="107.2" r="1.1"/><circle cx="410.6" cy="108.9" r="1.1"/><circle cx="413.9" cy="111.3" r="1.1"/><circle cx="417.2" cy="116.1" r="1.1"/><circle cx="420.5" cy="122.4" r="1.1"/><circle cx="423.8" cy="127.8" r="1.1"/><circle cx="427.1" cy="132.9" r="1.1"/><circle cx="430.4" cy="137.8" r="1.1"/><circle cx="433.7" cy="142.6" r="1.1"/><circle cx="437.0" cy="147.8" r="1.1"/><circle cx="440.3" cy="150.0" r="1.1"/><circle cx="443.6" cy="150.0" r="1.1"/><circle cx="446.9" cy="150.0" r="1.1"/><circle cx="450.2" cy="149.8" r="1.1"/><circle cx="453.5" cy="148.9" r="1.1"/><circle cx="331.4" cy="155.6" r="1.1"/><circle cx="334.7" cy="159.4" r="1.1"/><circle cx="338.0" cy="163.0" r="1.1"/><circle cx="341.3" cy="167.0" r="1.1"/><circle cx="344.6" cy="170.9" r="1.1"/><circle cx="347.9" cy="172.5" r="1.1"/><circle cx="351.2" cy="172.0" r="1.1"/><circle cx="354.5" cy="170.8" r="1.1"/><circle cx="357.8" cy="169.1" r="1.1"/><circle cx="361.1" cy="166.3" r="1.1"/><circle cx="364.4" cy="161.7" r="1.1"/><circle cx="367.7" cy="155.9" r="1.1"/><circle cx="371.0" cy="149.4" r="1.1"/><circle cx="374.3" cy="143.1" r="1.1"/><circle cx="377.6" cy="137.1" r="1.1"/><circle cx="380.9" cy="130.6" r="1.1"/><circle cx="384.2" cy="124.2" r="1.1"/><circle cx="387.5" cy="118.7" r="1.1"/><circle cx="390.8" cy="113.9" r="1.1"/><circle cx="394.1" cy="109.5" r="1.1"/><circle cx="397.4" cy="107.3" r="1.1"/><circle cx="400.7" cy="108.4" r="1.1"/><circle cx="404.0" cy="110.6" r="1.1"/><circle cx="407.3" cy="111.6" r="1.1"/><circle cx="410.6" cy="112.1" r="1.1"/><circle cx="413.9" cy="113.2" r="1.1"/><circle cx="417.2" cy="119.3" r="1.1"/><circle cx="420.5" cy="128.6" r="1.1"/><circle cx="423.8" cy="135.4" r="1.1"/><circle cx="427.1" cy="141.1" r="1.1"/><circle cx="430.4" cy="146.0" r="1.1"/><circle cx="433.7" cy="150.0" r="1.1"/><circle cx="437.0" cy="153.6" r="1.1"/><circle cx="440.3" cy="155.0" r="1.1"/><circle cx="443.6" cy="154.0" r="1.1"/><circle cx="446.9" cy="152.4" r="1.1"/><circle cx="450.2" cy="151.4" r="1.1"/><circle cx="453.5" cy="150.5" r="1.1"/><circle cx="331.4" cy="158.4" r="1.1"/><circle cx="334.7" cy="162.2" r="1.1"/><circle cx="338.0" cy="166.0" r="1.1"/><circle cx="341.3" cy="170.6" r="1.1"/><circle cx="344.6" cy="175.0" r="1.1"/><circle cx="347.9" cy="177.0" r="1.1"/><circle cx="351.2" cy="176.2" r="1.1"/><circle cx="354.5" cy="174.1" r="1.1"/><circle cx="357.8" cy="171.2" r="1.1"/><circle cx="361.1" cy="165.4" r="1.1"/><circle cx="364.4" cy="155.6" r="1.1"/><circle cx="367.7" cy="145.5" r="1.1"/><circle cx="371.0" cy="138.1" r="1.1"/><circle cx="374.3" cy="131.4" r="1.1"/><circle cx="377.6" cy="126.0" r="1.1"/><circle cx="380.9" cy="124.0" r="1.1"/><circle cx="384.2" cy="125.4" r="1.1"/><circle cx="387.5" cy="127.7" r="1.1"/><circle cx="390.8" cy="130.2" r="1.1"/><circle cx="394.1" cy="132.6" r="1.1"/><circle cx="397.4" cy="132.2" r="1.1"/><circle cx="400.7" cy="128.2" r="1.1"/><circle cx="404.0" cy="124.0" r="1.1"/><circle cx="407.3" cy="120.4" r="1.1"/><circle cx="410.6" cy="117.2" r="1.1"/><circle cx="413.9" cy="116.0" r="1.1"/><circle cx="417.2" cy="119.2" r="1.1"/><circle cx="420.5" cy="125.3" r="1.1"/><circle cx="423.8" cy="131.7" r="1.1"/><circle cx="427.1" cy="137.5" r="1.1"/><circle cx="430.4" cy="143.7" r="1.1"/><circle cx="433.7" cy="149.5" r="1.1"/><circle cx="437.0" cy="155.0" r="1.1"/><circle cx="440.3" cy="160.3" r="1.1"/><circle cx="443.6" cy="164.3" r="1.1"/><circle cx="446.9" cy="166.4" r="1.1"/><circle cx="450.2" cy="167.8" r="1.1"/><circle cx="453.5" cy="167.9" r="1.1"/><circle cx="331.4" cy="161.3" r="1.1"/><circle cx="334.7" cy="165.1" r="1.1"/><circle cx="338.0" cy="169.0" r="1.1"/><circle cx="341.3" cy="174.1" r="1.1"/><circle cx="344.6" cy="179.2" r="1.1"/><circle cx="347.9" cy="181.5" r="1.1"/><circle cx="351.2" cy="180.6" r="1.1"/><circle cx="354.5" cy="178.3" r="1.1"/><circle cx="357.8" cy="175.2" r="1.1"/><circle cx="361.1" cy="169.3" r="1.1"/><circle cx="364.4" cy="159.6" r="1.1"/><circle cx="367.7" cy="149.5" r="1.1"/><circle cx="371.0" cy="142.1" r="1.1"/><circle cx="374.3" cy="135.4" r="1.1"/><circle cx="377.6" cy="130.0" r="1.1"/><circle cx="380.9" cy="128.0" r="1.1"/><circle cx="384.2" cy="129.4" r="1.1"/><circle cx="387.5" cy="131.7" r="1.1"/><circle cx="390.8" cy="134.2" r="1.1"/><circle cx="394.1" cy="136.6" r="1.1"/><circle cx="397.4" cy="136.1" r="1.1"/><circle cx="400.7" cy="131.3" r="1.1"/><circle cx="404.0" cy="126.5" r="1.1"/><circle cx="407.3" cy="122.9" r="1.1"/><circle cx="410.6" cy="119.7" r="1.1"/><circle cx="413.9" cy="118.6" r="1.1"/><circle cx="417.2" cy="122.2" r="1.1"/><circle cx="420.5" cy="129.4" r="1.1"/><circle cx="423.8" cy="136.6" r="1.1"/><circle cx="427.1" cy="143.1" r="1.1"/><circle cx="430.4" cy="149.8" r="1.1"/><circle cx="433.7" cy="155.6" r="1.1"/><circle cx="437.0" cy="160.1" r="1.1"/><circle cx="440.3" cy="164.1" r="1.1"/><circle cx="443.6" cy="167.2" r="1.1"/><circle cx="446.9" cy="169.7" r="1.1"/><circle cx="450.2" cy="171.6" r="1.1"/><circle cx="453.5" cy="171.9" r="1.1"/><circle cx="331.4" cy="164.2" r="1.1"/><circle cx="334.7" cy="168.0" r="1.1"/><circle cx="338.0" cy="172.0" r="1.1"/><circle cx="341.3" cy="177.5" r="1.1"/><circle cx="344.6" cy="183.4" r="1.1"/><circle cx="347.9" cy="186.0" r="1.1"/><circle cx="351.2" cy="185.0" r="1.1"/><circle cx="354.5" cy="182.5" r="1.1"/><circle cx="357.8" cy="179.2" r="1.1"/><circle cx="361.1" cy="173.2" r="1.1"/><circle cx="364.4" cy="163.5" r="1.1"/><circle cx="367.7" cy="153.4" r="1.1"/><circle cx="371.0" cy="146.1" r="1.1"/><circle cx="374.3" cy="139.4" r="1.1"/><circle cx="377.6" cy="134.0" r="1.1"/><circle cx="380.9" cy="132.0" r="1.1"/><circle cx="384.2" cy="133.4" r="1.1"/><circle cx="387.5" cy="135.7" r="1.1"/><circle cx="390.8" cy="138.2" r="1.1"/><circle cx="394.1" cy="140.6" r="1.1"/><circle cx="397.4" cy="139.9" r="1.1"/><circle cx="400.7" cy="134.4" r="1.1"/><circle cx="404.0" cy="129.0" r="1.1"/><circle cx="407.3" cy="125.3" r="1.1"/><circle cx="410.6" cy="122.1" r="1.1"/><circle cx="413.9" cy="121.1" r="1.1"/><circle cx="417.2" cy="125.3" r="1.1"/><circle cx="420.5" cy="133.4" r="1.1"/><circle cx="423.8" cy="141.6" r="1.1"/><circle cx="427.1" cy="148.7" r="1.1"/><circle cx="430.4" cy="156.0" r="1.1"/><circle cx="433.7" cy="161.6" r="1.1"/><circle cx="437.0" cy="165.1" r="1.1"/><circle cx="440.3" cy="167.9" r="1.1"/><circle cx="443.6" cy="170.3" r="1.1"/><circle cx="446.9" cy="173.0" r="1.1"/><circle cx="450.2" cy="175.5" r="1.1"/><circle cx="453.5" cy="175.9" r="1.1"/><circle cx="351.2" cy="223.1" r="1.1"/><circle cx="354.5" cy="208.1" r="1.1"/><circle cx="357.8" cy="193.1" r="1.1"/><circle cx="361.1" cy="178.0" r="1.1"/><circle cx="364.4" cy="162.8" r="1.1"/><circle cx="367.7" cy="147.6" r="1.1"/><circle cx="371.0" cy="132.4" r="1.1"/><circle cx="374.3" cy="117.5" r="1.1"/><circle cx="377.6" cy="102.5" r="1.1"/><circle cx="380.9" cy="87.1" r="1.1"/><circle cx="384.2" cy="71.4" r="1.1"/><circle cx="387.5" cy="55.4" r="1.1"/><circle cx="357.8" cy="214.6" r="1.1"/><circle cx="361.1" cy="203.1" r="1.1"/><circle cx="364.4" cy="191.0" r="1.1"/><circle cx="367.7" cy="178.2" r="1.1"/><circle cx="371.0" cy="164.1" r="1.1"/><circle cx="374.3" cy="150.1" r="1.1"/><circle cx="377.6" cy="138.0" r="1.1"/><circle cx="380.9" cy="126.9" r="1.1"/><circle cx="384.2" cy="117.6" r="1.1"/><circle cx="387.5" cy="111.6" r="1.1"/><circle cx="390.8" cy="106.6" r="1.1"/><circle cx="394.1" cy="102.6" r="1.1"/><circle cx="397.4" cy="100.3" r="1.1"/><circle cx="400.7" cy="100.0" r="1.1"/><circle cx="404.0" cy="100.0" r="1.1"/><circle cx="407.3" cy="100.0" r="1.1"/><circle cx="410.6" cy="100.0" r="1.1"/><circle cx="413.9" cy="100.0" r="1.1"/><circle cx="417.2" cy="101.6" r="1.1"/><circle cx="420.5" cy="105.0" r="1.1"/><circle cx="423.8" cy="108.8" r="1.1"/><circle cx="427.1" cy="112.1" r="1.1"/><circle cx="430.4" cy="115.5" r="1.1"/><circle cx="433.7" cy="119.2" r="1.1"/><circle cx="437.0" cy="123.2" r="1.1"/><circle cx="440.3" cy="127.5" r="1.1"/><circle cx="443.6" cy="146.7" r="1.1"/><circle cx="446.9" cy="171.6" r="1.1"/><circle cx="450.2" cy="187.7" r="1.1"/><circle cx="453.5" cy="201.2" r="1.1"/><circle cx="354.5" cy="218.6" r="1.1"/><circle cx="357.8" cy="207.0" r="1.1"/><circle cx="361.1" cy="195.8" r="1.1"/><circle cx="364.4" cy="185.1" r="1.1"/><circle cx="367.7" cy="174.6" r="1.1"/><circle cx="371.0" cy="164.1" r="1.1"/><circle cx="374.3" cy="154.2" r="1.1"/><circle cx="377.6" cy="145.9" r="1.1"/><circle cx="380.9" cy="139.1" r="1.1"/><circle cx="384.2" cy="133.1" r="1.1"/><circle cx="387.5" cy="128.0" r="1.1"/><circle cx="390.8" cy="124.1" r="1.1"/><circle cx="394.1" cy="120.5" r="1.1"/><circle cx="397.4" cy="117.8" r="1.1"/><circle cx="400.7" cy="117.0" r="1.1"/><circle cx="404.0" cy="118.0" r="1.1"/><circle cx="407.3" cy="120.0" r="1.1"/><circle cx="410.6" cy="122.6" r="1.1"/><circle cx="413.9" cy="127.8" r="1.1"/><circle cx="417.2" cy="134.9" r="1.1"/><circle cx="420.5" cy="140.7" r="1.1"/><circle cx="423.8" cy="145.6" r="1.1"/><circle cx="427.1" cy="150.5" r="1.1"/><circle cx="430.4" cy="155.0" r="1.1"/><circle cx="433.7" cy="159.0" r="1.1"/><circle cx="437.0" cy="162.3" r="1.1"/><circle cx="440.3" cy="164.6" r="1.1"/><circle cx="443.6" cy="166.2" r="1.1"/><circle cx="446.9" cy="167.4" r="1.1"/><circle cx="450.2" cy="168.0" r="1.1"/><circle cx="453.5" cy="168.4" r="1.1"/><circle cx="357.8" cy="59.8" r="1.1"/><circle cx="430.4" cy="54.8" r="1.1"/><circle cx="433.7" cy="59.4" r="1.1"/><circle cx="437.0" cy="64.8" r="1.1"/><circle cx="440.3" cy="67.5" r="1.1"/><circle cx="443.6" cy="64.3" r="1.1"/><circle cx="446.9" cy="61.2" r="1.1"/><circle cx="450.2" cy="58.4" r="1.1"/><circle cx="453.5" cy="55.7" r="1.1"/><circle cx="427.1" cy="57.4" r="1.1"/><circle cx="430.4" cy="63.2" r="1.1"/><circle cx="433.7" cy="69.5" r="1.1"/><circle cx="437.0" cy="76.2" r="1.1"/><circle cx="440.3" cy="78.9" r="1.1"/><circle cx="443.6" cy="75.2" r="1.1"/><circle cx="446.9" cy="70.2" r="1.1"/><circle cx="450.2" cy="66.0" r="1.1"/><circle cx="453.5" cy="62.3" r="1.1"/><circle cx="423.8" cy="58.6" r="1.1"/><circle cx="427.1" cy="65.4" r="1.1"/><circle cx="430.4" cy="72.4" r="1.1"/><circle cx="433.7" cy="80.5" r="1.1"/><circle cx="437.0" cy="87.9" r="1.1"/><circle cx="440.3" cy="90.6" r="1.1"/><circle cx="443.6" cy="86.5" r="1.1"/><circle cx="446.9" cy="79.9" r="1.1"/><circle cx="450.2" cy="74.6" r="1.1"/><circle cx="453.5" cy="70.0" r="1.1"/><circle cx="420.5" cy="56.9" r="1.1"/><circle cx="423.8" cy="63.5" r="1.1"/><circle cx="427.1" cy="70.1" r="1.1"/><circle cx="430.4" cy="77.0" r="1.1"/><circle cx="433.7" cy="85.0" r="1.1"/><circle cx="437.0" cy="91.7" r="1.1"/><circle cx="440.3" cy="94.3" r="1.1"/><circle cx="443.6" cy="90.2" r="1.1"/><circle cx="446.9" cy="83.6" r="1.1"/><circle cx="450.2" cy="78.3" r="1.1"/><circle cx="453.5" cy="73.7" r="1.1"/><circle cx="446.9" cy="150.3" r="1.1"/><circle cx="450.2" cy="149.5" r="1.1"/><circle cx="453.5" cy="148.6" r="1.1"/><circle cx="413.9" cy="98.2" r="1.1"/><circle cx="417.2" cy="76.6" r="1.1"/><circle cx="420.5" cy="58.1" r="1.1"/><circle cx="413.9" cy="93.6" r="1.1"/><circle cx="417.2" cy="76.9" r="1.1"/><circle cx="420.5" cy="57.9" r="1.1"/><circle cx="413.9" cy="89.0" r="1.1"/><circle cx="417.2" cy="77.0" r="1.1"/><circle cx="420.5" cy="63.6" r="1.1"/><circle cx="423.8" cy="52.8" r="1.1"/><circle cx="255.5" cy="149.9" r="1.1"/><circle cx="258.8" cy="147.6" r="1.1"/><circle cx="262.1" cy="146.0" r="1.1"/><circle cx="265.4" cy="144.7" r="1.1"/><circle cx="268.7" cy="143.9" r="1.1"/><circle cx="272.0" cy="144.0" r="1.1"/><circle cx="275.3" cy="144.9" r="1.1"/><circle cx="278.6" cy="146.4" r="1.1"/><circle cx="281.9" cy="148.1" r="1.1"/><circle cx="285.2" cy="150.6" r="1.1"/><circle cx="288.5" cy="153.6" r="1.1"/><circle cx="291.8" cy="156.8" r="1.1"/><circle cx="295.1" cy="160.4" r="1.1"/><circle cx="298.4" cy="163.8" r="1.1"/><circle cx="301.7" cy="166.2" r="1.1"/><circle cx="305.0" cy="168.3" r="1.1"/><circle cx="308.3" cy="169.8" r="1.1"/><circle cx="311.6" cy="169.7" r="1.1"/><circle cx="314.9" cy="167.6" r="1.1"/><circle cx="318.2" cy="164.5" r="1.1"/><circle cx="321.5" cy="161.8" r="1.1"/><circle cx="324.8" cy="159.1" r="1.1"/><circle cx="328.1" cy="156.1" r="1.1"/><circle cx="255.5" cy="151.4" r="1.1"/><circle cx="258.8" cy="153.4" r="1.1"/><circle cx="262.1" cy="154.9" r="1.1"/><circle cx="265.4" cy="155.7" r="1.1"/><circle cx="268.7" cy="154.6" r="1.1"/><circle cx="272.0" cy="153.1" r="1.1"/><circle cx="275.3" cy="151.6" r="1.1"/><circle cx="278.6" cy="151.3" r="1.1"/><circle cx="281.9" cy="152.5" r="1.1"/><circle cx="285.2" cy="155.1" r="1.1"/><circle cx="288.5" cy="158.9" r="1.1"/><circle cx="291.8" cy="163.9" r="1.1"/><circle cx="295.1" cy="168.1" r="1.1"/><circle cx="298.4" cy="171.3" r="1.1"/><circle cx="301.7" cy="173.9" r="1.1"/><circle cx="305.0" cy="175.0" r="1.1"/><circle cx="308.3" cy="174.5" r="1.1"/><circle cx="311.6" cy="173.4" r="1.1"/><circle cx="314.9" cy="172.0" r="1.1"/><circle cx="318.2" cy="170.3" r="1.1"/><circle cx="321.5" cy="167.8" r="1.1"/><circle cx="324.8" cy="164.8" r="1.1"/><circle cx="328.1" cy="161.4" r="1.1"/><circle cx="255.5" cy="167.9" r="1.1"/><circle cx="258.8" cy="164.4" r="1.1"/><circle cx="262.1" cy="162.1" r="1.1"/><circle cx="265.4" cy="161.4" r="1.1"/><circle cx="268.7" cy="162.1" r="1.1"/><circle cx="272.0" cy="163.4" r="1.1"/><circle cx="275.3" cy="165.2" r="1.1"/><circle cx="278.6" cy="168.0" r="1.1"/><circle cx="281.9" cy="171.7" r="1.1"/><circle cx="285.2" cy="175.2" r="1.1"/><circle cx="288.5" cy="178.6" r="1.1"/><circle cx="291.8" cy="180.7" r="1.1"/><circle cx="295.1" cy="180.9" r="1.1"/><circle cx="298.4" cy="181.0" r="1.1"/><circle cx="301.7" cy="180.9" r="1.1"/><circle cx="305.0" cy="180.0" r="1.1"/><circle cx="308.3" cy="178.7" r="1.1"/><circle cx="311.6" cy="177.3" r="1.1"/><circle cx="314.9" cy="175.4" r="1.1"/><circle cx="318.2" cy="173.2" r="1.1"/><circle cx="321.5" cy="171.0" r="1.1"/><circle cx="324.8" cy="168.6" r="1.1"/><circle cx="328.1" cy="166.0" r="1.1"/><circle cx="255.5" cy="170.8" r="1.1"/><circle cx="258.8" cy="172.9" r="1.1"/><circle cx="262.1" cy="175.1" r="1.1"/><circle cx="265.4" cy="177.4" r="1.1"/><circle cx="268.7" cy="179.4" r="1.1"/><circle cx="272.0" cy="180.7" r="1.1"/><circle cx="275.3" cy="181.5" r="1.1"/><circle cx="278.6" cy="181.5" r="1.1"/><circle cx="281.9" cy="181.5" r="1.1"/><circle cx="285.2" cy="181.5" r="1.1"/><circle cx="288.5" cy="181.5" r="1.1"/><circle cx="291.8" cy="181.6" r="1.1"/><circle cx="295.1" cy="182.3" r="1.1"/><circle cx="298.4" cy="182.9" r="1.1"/><circle cx="301.7" cy="183.0" r="1.1"/><circle cx="305.0" cy="182.7" r="1.1"/><circle cx="308.3" cy="182.3" r="1.1"/><circle cx="311.6" cy="181.6" r="1.1"/><circle cx="314.9" cy="180.1" r="1.1"/><circle cx="318.2" cy="178.1" r="1.1"/><circle cx="321.5" cy="176.1" r="1.1"/><circle cx="324.8" cy="173.7" r="1.1"/><circle cx="328.1" cy="171.0" r="1.1"/><circle cx="255.5" cy="190.5" r="1.1"/><circle cx="258.8" cy="189.3" r="1.1"/><circle cx="262.1" cy="188.6" r="1.1"/><circle cx="265.4" cy="188.4" r="1.1"/><circle cx="268.7" cy="188.5" r="1.1"/><circle cx="272.0" cy="190.0" r="1.1"/><circle cx="275.3" cy="193.0" r="1.1"/><circle cx="278.6" cy="196.5" r="1.1"/><circle cx="281.9" cy="200.6" r="1.1"/><circle cx="285.2" cy="205.9" r="1.1"/><circle cx="288.5" cy="206.8" r="1.1"/><circle cx="291.8" cy="205.0" r="1.1"/><circle cx="295.1" cy="202.9" r="1.1"/><circle cx="298.4" cy="200.9" r="1.1"/><circle cx="301.7" cy="199.1" r="1.1"/><circle cx="305.0" cy="197.5" r="1.1"/><circle cx="308.3" cy="195.9" r="1.1"/><circle cx="311.6" cy="194.0" r="1.1"/><circle cx="314.9" cy="191.8" r="1.1"/><circle cx="318.2" cy="189.4" r="1.1"/><circle cx="321.5" cy="186.8" r="1.1"/><circle cx="324.8" cy="184.1" r="1.1"/><circle cx="328.1" cy="181.1" r="1.1"/><circle cx="255.5" cy="199.3" r="1.1"/><circle cx="258.8" cy="201.1" r="1.1"/><circle cx="262.1" cy="203.1" r="1.1"/><circle cx="265.4" cy="205.1" r="1.1"/><circle cx="268.7" cy="207.2" r="1.1"/><circle cx="272.0" cy="209.5" r="1.1"/><circle cx="275.3" cy="211.7" r="1.1"/><circle cx="278.6" cy="212.9" r="1.1"/><circle cx="281.9" cy="213.7" r="1.1"/><circle cx="285.2" cy="214.0" r="1.1"/><circle cx="288.5" cy="213.7" r="1.1"/><circle cx="291.8" cy="212.9" r="1.1"/><circle cx="295.1" cy="212.0" r="1.1"/><circle cx="298.4" cy="210.2" r="1.1"/><circle cx="301.7" cy="207.6" r="1.1"/><circle cx="305.0" cy="205.0" r="1.1"/><circle cx="308.3" cy="202.6" r="1.1"/><circle cx="311.6" cy="200.3" r="1.1"/><circle cx="314.9" cy="198.1" r="1.1"/><circle cx="318.2" cy="196.0" r="1.1"/><circle cx="321.5" cy="194.1" r="1.1"/><circle cx="324.8" cy="192.3" r="1.1"/><circle cx="328.1" cy="190.6" r="1.1"/><circle cx="255.5" cy="211.0" r="1.1"/><circle cx="258.8" cy="211.2" r="1.1"/><circle cx="262.1" cy="211.5" r="1.1"/><circle cx="265.4" cy="212.2" r="1.1"/><circle cx="268.7" cy="213.3" r="1.1"/><circle cx="272.0" cy="215.3" r="1.1"/><circle cx="275.3" cy="217.6" r="1.1"/><circle cx="278.6" cy="219.3" r="1.1"/><circle cx="281.9" cy="220.7" r="1.1"/><circle cx="285.2" cy="222.1" r="1.1"/><circle cx="288.5" cy="223.5" r="1.1"/><circle cx="291.8" cy="224.9" r="1.1"/><circle cx="295.1" cy="176.8" r="1.1"/><circle cx="298.4" cy="177.0" r="1.1"/><circle cx="301.7" cy="177.0" r="1.1"/><circle cx="305.0" cy="176.8" r="1.1"/><circle cx="308.3" cy="176.7" r="1.1"/><circle cx="311.6" cy="176.6" r="1.1"/><circle cx="314.9" cy="176.9" r="1.1"/><circle cx="318.2" cy="177.6" r="1.1"/><circle cx="285.2" cy="152.0" r="1.1"/><circle cx="288.5" cy="157.9" r="1.1"/><circle cx="291.8" cy="164.6" r="1.1"/><circle cx="272.0" cy="187.6" r="1.1"/><circle cx="275.3" cy="190.5" r="1.1"/><circle cx="278.6" cy="193.6" r="1.1"/><circle cx="281.9" cy="197.5" r="1.1"/><circle cx="285.2" cy="202.0" r="1.1"/><circle cx="288.5" cy="201.9" r="1.1"/><circle cx="291.8" cy="197.3" r="1.1"/><circle cx="295.1" cy="199.6" r="1.1"/><circle cx="298.4" cy="204.0" r="1.1"/><circle cx="301.7" cy="200.7" r="1.1"/><circle cx="305.0" cy="195.7" r="1.1"/><circle cx="308.3" cy="192.8" r="1.1"/><circle cx="311.6" cy="190.3" r="1.1"/><circle cx="314.9" cy="188.1" r="1.1"/><circle cx="318.2" cy="186.2" r="1.1"/><circle cx="321.5" cy="184.0" r="1.1"/><circle cx="324.8" cy="181.5" r="1.1"/><circle cx="328.1" cy="179.0" r="1.1"/><circle cx="278.6" cy="204.5" r="1.1"/><circle cx="281.9" cy="206.8" r="1.1"/><circle cx="285.2" cy="207.5" r="1.1"/><circle cx="288.5" cy="205.3" r="1.1"/><circle cx="291.8" cy="201.2" r="1.1"/><circle cx="295.1" cy="197.7" r="1.1"/><circle cx="298.4" cy="195.5" r="1.1"/><circle cx="301.7" cy="198.3" r="1.1"/><circle cx="305.0" cy="201.0" r="1.1"/><circle cx="308.3" cy="199.1" r="1.1"/><circle cx="311.6" cy="196.3" r="1.1"/><circle cx="314.9" cy="194.1" r="1.1"/><circle cx="318.2" cy="192.1" r="1.1"/><circle cx="384.2" cy="131.7" r="1.1"/><circle cx="387.5" cy="133.6" r="1.1"/><circle cx="390.8" cy="135.5" r="1.1"/><circle cx="394.1" cy="138.1" r="1.1"/><circle cx="397.4" cy="139.7" r="1.1"/><circle cx="400.7" cy="138.1" r="1.1"/><circle cx="404.0" cy="134.2" r="1.1"/><circle cx="407.3" cy="130.2" r="1.1"/><circle cx="410.6" cy="125.6" r="1.1"/></g></g>
<line x1="329.3" y1="53.5" x2="329.3" y2="223.5" stroke="#ccc" stroke-width="0.8"/>
<line x1="413.6" y1="53.5" x2="413.6" y2="223.5" stroke="#ccc" stroke-width="0.8"/>
<line x1="255.5" y1="175.4" x2="455.5" y2="175.4" stroke="#555" stroke-width="0.8" stroke-dasharray="3,2"/>
<rect x="255.5" y="53.5" width="200.0" height="170.0" fill="none" stroke="#555" stroke-width="1.0"/>
<line x1="252.5" y1="79.4" x2="255.5" y2="79.4" stroke="#555" stroke-width="1"/>
<text x="251.5" y="83.4" font-size="11.6" text-anchor="end" font-weight="normal"  >0.8</text>
<line x1="252.5" y1="127.4" x2="255.5" y2="127.4" stroke="#555" stroke-width="1"/>
<text x="251.5" y="131.4" font-size="11.6" text-anchor="end" font-weight="normal"  >0.4</text>
<line x1="252.5" y1="175.4" x2="255.5" y2="175.4" stroke="#555" stroke-width="1"/>
<text x="251.5" y="179.4" font-size="11.6" text-anchor="end" font-weight="normal"  >0.0</text>
<line x1="252.5" y1="223.4" x2="255.5" y2="223.4" stroke="#555" stroke-width="1"/>
<text x="251.5" y="227.4" font-size="11.6" text-anchor="end" font-weight="normal"  >-0.4</text>
<line x1="253.7" y1="103.4" x2="255.5" y2="103.4" stroke="#555" stroke-width="0.8"/>
<line x1="253.7" y1="151.4" x2="255.5" y2="151.4" stroke="#555" stroke-width="0.8"/>
<line x1="253.7" y1="199.4" x2="255.5" y2="199.4" stroke="#555" stroke-width="0.8"/>
<text x="256.5" y="238.5" font-size="14.5" text-anchor="middle" font-weight="normal"  >M</text>
<text x="327.6" y="238.5" font-size="14.5" text-anchor="middle" font-weight="normal"  >G</text>
<text x="413.5" y="238.5" font-size="14.5" text-anchor="middle" font-weight="normal"  >K</text>
<text x="452.3" y="238.5" font-size="14.5" text-anchor="middle" font-weight="normal"  >M</text>
<text transform="translate(229.4,147) rotate(-90)" font-size="16.4" text-anchor="middle">Energy (eV)</text>
<clipPath id="ce"><rect x="262.5" y="275.5" width="197.0" height="170.0"/></clipPath>
<g clip-path="url(#ce)"><path d="M262.5,287.5 L263.5,287.0 L264.5,286.6 L265.5,286.2 L266.5,285.8 L267.5,285.4 L268.5,285.0 L269.5,284.6 L270.5,284.3 L271.5,284.0 L272.5,283.6 L273.5,283.4 L274.5,283.0 L275.5,282.7 L276.5,282.4 L277.5,282.1 L278.5,281.8 L279.5,281.5 L280.5,281.3 L281.5,281.1 L282.5,280.9 L283.5,280.8 L284.5,280.7 L285.5,280.7 L286.5,280.7 L287.5,280.8 L288.5,280.9 L289.5,281.0 L290.5,281.2 L291.5,281.4 L292.5,281.6 L293.5,281.8 L294.5,282.0 L295.5,282.3 L296.5,282.5 L297.5,282.9 L298.5,283.3 L299.5,283.9 L300.5,284.5 L301.5,285.1 L302.5,285.9 L303.5,286.7 L304.5,287.6 L305.5,288.5 L306.5,289.7 L307.5,291.0 L308.5,292.6 L309.5,294.3 L310.5,296.1 L311.5,297.9 L312.5,300.0 L313.5,302.2 L314.5,304.6 L315.5,307.1 L316.5,309.7 L317.5,312.3 L318.5,315.2 L319.5,318.2 L320.5,321.3 L321.5,324.4 L322.5,327.5 L323.5,330.5 L324.5,333.5 L325.5,336.6 L326.5,339.6 L327.5,342.6 L328.5,345.6 L329.5,349.2 L330.5,352.5 L331.5,354.7 L332.5,355.0 L333.5,355.0 L334.5,355.0 L335.5,354.5 L336.5,353.1 L337.5,351.5 L338.5,349.6 L339.5,347.4 L340.5,345.2 L341.5,342.9 L342.5,340.5 L343.5,337.9 L344.5,335.4 L345.5,332.8 L346.5,330.0 L347.5,327.3 L348.5,324.6 L349.5,322.1 L350.5,319.9 L351.5,317.8 L352.5,315.7 L353.5,313.6 L354.5,311.3 L355.5,308.9 L356.5,306.4 L357.5,303.8 L358.5,301.2 L359.5,298.3 L360.5,295.5 L361.5,292.6 L362.5,289.7 L363.5,286.7 L364.5,283.8 L365.5,281.5 L366.5,279.6 L367.5,277.8 L368.5,276.2 L369.5,275.0 L370.5,274.0" fill="none" stroke="#2424ff" stroke-width="1.1"/><path d="M262.5,290.3 L263.5,290.0 L264.5,289.7 L265.5,289.4 L266.5,289.1 L267.5,288.8 L268.5,288.6 L269.5,288.3 L270.5,288.1 L271.5,287.8 L272.5,287.6 L273.5,287.4 L274.5,287.2 L275.5,287.0 L276.5,286.7 L277.5,286.5 L278.5,286.3 L279.5,286.1 L280.5,285.9 L281.5,285.8 L282.5,285.6 L283.5,285.6 L284.5,285.5 L285.5,285.5 L286.5,285.6 L287.5,285.7 L288.5,285.8 L289.5,286.0 L290.5,286.2 L291.5,286.4 L292.5,286.7 L293.5,287.0 L294.5,287.2 L295.5,287.5 L296.5,287.9 L297.5,288.2 L298.5,288.7 L299.5,289.2 L300.5,289.7 L301.5,290.3 L302.5,291.0 L303.5,291.8 L304.5,292.6 L305.5,293.5 L306.5,294.7 L307.5,296.1 L308.5,297.7 L309.5,299.4 L310.5,301.1 L311.5,302.9 L312.5,304.7 L313.5,306.6 L314.5,308.6 L315.5,310.7 L316.5,312.9 L317.5,315.2 L318.5,317.7 L319.5,320.5 L320.5,323.3 L321.5,326.2 L322.5,329.1 L323.5,331.9 L324.5,334.8 L325.5,337.7 L326.5,340.6 L327.5,343.6 L328.5,346.6 L329.5,350.0 L330.5,353.4 L331.5,355.8 L332.5,356.9 L333.5,357.6 L334.5,358.0 L335.5,357.5 L336.5,356.0 L337.5,354.3 L338.5,352.4 L339.5,350.2 L340.5,347.9 L341.5,345.5 L342.5,342.9 L343.5,340.3 L344.5,337.6 L345.5,334.9 L346.5,332.1 L347.5,329.3 L348.5,326.6 L349.5,324.1 L350.5,321.8 L351.5,319.7 L352.5,317.7 L353.5,315.7 L354.5,313.5 L355.5,311.3 L356.5,309.0 L357.5,306.6 L358.5,304.1 L359.5,301.6 L360.5,298.9 L361.5,296.2 L362.5,293.6 L363.5,291.0 L364.5,288.2 L365.5,285.5 L366.5,283.1 L367.5,281.2 L368.5,279.4 L369.5,277.7 L370.5,276.2 L371.5,275.0 L372.5,274.0" fill="none" stroke="#2424ff" stroke-width="1.1"/><path d="M262.5,294.5 L263.5,294.4 L264.5,294.3 L265.5,294.2 L266.5,294.1 L267.5,294.0 L268.5,293.9 L269.5,293.8 L270.5,293.7 L271.5,293.6 L272.5,293.5 L273.5,293.5 L274.5,293.4 L275.5,293.3 L276.5,293.1 L277.5,293.0 L278.5,292.9 L279.5,292.8 L280.5,292.7 L281.5,292.6 L282.5,292.6 L283.5,292.5 L284.5,292.5 L285.5,292.5 L286.5,292.6 L287.5,292.7 L288.5,292.8 L289.5,293.0 L290.5,293.3 L291.5,293.6 L292.5,293.9 L293.5,294.2 L294.5,294.5 L295.5,294.8 L296.5,295.2 L297.5,295.6 L298.5,296.1 L299.5,296.6 L300.5,297.2 L301.5,297.9 L302.5,298.6 L303.5,299.3 L304.5,300.1 L305.5,300.9 L306.5,301.9 L307.5,303.0 L308.5,304.2 L309.5,305.5 L310.5,306.8 L311.5,308.2 L312.5,309.8 L313.5,311.4 L314.5,313.2 L315.5,315.0 L316.5,317.0 L317.5,319.0 L318.5,321.2 L319.5,323.6 L320.5,326.1 L321.5,328.6 L322.5,331.2 L323.5,333.8 L324.5,336.5 L325.5,339.3 L326.5,342.2 L327.5,345.1 L328.5,348.0 L329.5,351.4 L330.5,354.8 L331.5,357.5 L332.5,359.3 L333.5,360.7 L334.5,361.5 L335.5,361.0 L336.5,359.4 L337.5,357.7 L338.5,355.6 L339.5,353.3 L340.5,350.9 L341.5,348.4 L342.5,345.8 L343.5,343.0 L344.5,340.3 L345.5,337.5 L346.5,334.6 L347.5,331.7 L348.5,328.9 L349.5,326.3 L350.5,324.1 L351.5,322.0 L352.5,320.0 L353.5,318.0 L354.5,316.0 L355.5,313.8 L356.5,311.6 L357.5,309.3 L358.5,307.0 L359.5,304.6 L360.5,302.2 L361.5,299.7 L362.5,297.1 L363.5,294.6 L364.5,292.2 L365.5,289.7 L366.5,287.1 L367.5,284.8 L368.5,282.7 L369.5,280.9 L370.5,279.2 L371.5,277.7 L372.5,276.3 L373.5,275.0 L374.5,274.0" fill="none" stroke="#2424ff" stroke-width="1.1"/><path d="M262.5,299.0 L263.5,298.9 L264.5,298.9 L265.5,298.8 L266.5,298.8 L267.5,298.7 L268.5,298.7 L269.5,298.7 L270.5,298.6 L271.5,298.6 L272.5,298.5 L273.5,298.5 L274.5,298.4 L275.5,298.4 L276.5,298.3 L277.5,298.3 L278.5,298.2 L279.5,298.2 L280.5,298.1 L281.5,298.1 L282.5,298.0 L283.5,298.0 L284.5,298.0 L285.5,298.0 L286.5,298.1 L287.5,298.2 L288.5,298.4 L289.5,298.7 L290.5,299.0 L291.5,299.3 L292.5,299.7 L293.5,300.1 L294.5,300.4 L295.5,300.8 L296.5,301.2 L297.5,301.6 L298.5,302.1 L299.5,302.6 L300.5,303.1 L301.5,303.7 L302.5,304.3 L303.5,304.9 L304.5,305.6 L305.5,306.4 L306.5,307.2 L307.5,308.1 L308.5,309.2 L309.5,310.3 L310.5,311.4 L311.5,312.6 L312.5,313.9 L313.5,315.3 L314.5,316.8 L315.5,318.4 L316.5,320.1 L317.5,321.9 L318.5,323.9 L319.5,326.1 L320.5,328.4 L321.5,330.8 L322.5,333.3 L323.5,335.7 L324.5,338.3 L325.5,341.0 L326.5,343.7 L327.5,346.6 L328.5,349.5 L329.5,353.0 L330.5,356.4 L331.5,359.4 L332.5,361.5 L333.5,363.4 L334.5,364.5 L335.5,363.9 L336.5,362.3 L337.5,360.6 L338.5,358.4 L339.5,356.1 L340.5,353.6 L341.5,351.0 L342.5,348.2 L343.5,345.4 L344.5,342.5 L345.5,339.7 L346.5,336.7 L347.5,333.7 L348.5,330.9 L349.5,328.3 L350.5,326.0 L351.5,323.9 L352.5,322.0 L353.5,320.1 L354.5,318.1 L355.5,316.0 L356.5,313.9 L357.5,311.7 L358.5,309.5 L359.5,307.3 L360.5,305.0 L361.5,302.7 L362.5,300.3 L363.5,297.9 L364.5,295.6 L365.5,293.3 L366.5,290.9 L367.5,288.6 L368.5,286.3 L369.5,284.2 L370.5,282.3 L371.5,280.7 L372.5,279.1 L373.5,277.6 L374.5,276.2 L375.5,275.0 L376.5,274.0" fill="none" stroke="#2424ff" stroke-width="1.1"/><path d="M262.5,303.5 L263.5,303.5 L264.5,303.5 L265.5,303.5 L266.5,303.5 L267.5,303.5 L268.5,303.5 L269.5,303.5 L270.5,303.5 L271.5,303.5 L272.5,303.5 L273.5,303.5 L274.5,303.5 L275.5,303.5 L276.5,303.5 L277.5,303.5 L278.5,303.5 L279.5,303.5 L280.5,303.5 L281.5,303.5 L282.5,303.5 L283.5,303.5 L284.5,303.5 L285.5,303.5 L286.5,303.6 L287.5,303.8 L288.5,304.1 L289.5,304.4 L290.5,304.7 L291.5,305.1 L292.5,305.6 L293.5,306.0 L294.5,306.4 L295.5,306.8 L296.5,307.2 L297.5,307.6 L298.5,307.9 L299.5,308.3 L300.5,308.8 L301.5,309.2 L302.5,309.7 L303.5,310.2 L304.5,310.7 L305.5,311.3 L306.5,312.0 L307.5,312.8 L308.5,313.6 L309.5,314.5 L310.5,315.5 L311.5,316.5 L312.5,317.7 L313.5,318.9 L314.5,320.2 L315.5,321.7 L316.5,323.2 L317.5,324.8 L318.5,326.7 L319.5,328.7 L320.5,330.8 L321.5,333.0 L322.5,335.3 L323.5,337.7 L324.5,340.1 L325.5,342.6 L326.5,345.3 L327.5,348.1 L328.5,351.0 L329.5,354.5 L330.5,358.0 L331.5,361.2 L332.5,363.7 L333.5,366.1 L334.5,367.5 L335.5,366.9 L336.5,365.2 L337.5,363.4 L338.5,361.2 L339.5,358.8 L340.5,356.2 L341.5,353.5 L342.5,350.7 L343.5,347.7 L344.5,344.8 L345.5,341.9 L346.5,338.8 L347.5,335.8 L348.5,332.9 L349.5,330.3 L350.5,328.0 L351.5,325.9 L352.5,324.0 L353.5,322.1 L354.5,320.2 L355.5,318.2 L356.5,316.1 L357.5,314.1 L358.5,312.0 L359.5,309.8 L360.5,307.7 L361.5,305.5 L362.5,303.2 L363.5,301.0 L364.5,298.7 L365.5,296.5 L366.5,294.3 L367.5,292.1 L368.5,289.9 L369.5,287.7 L370.5,285.6 L371.5,283.7 L372.5,282.0 L373.5,280.5 L374.5,279.0 L375.5,277.5 L376.5,276.2 L377.5,275.1 L378.5,274.0" fill="none" stroke="#2424ff" stroke-width="1.1"/><path d="M262.5,308.0 L263.5,308.0 L264.5,308.0 L265.5,308.0 L266.5,308.0 L267.5,308.0 L268.5,308.0 L269.5,308.0 L270.5,308.0 L271.5,308.0 L272.5,308.0 L273.5,308.0 L274.5,308.0 L275.5,308.1 L276.5,308.1 L277.5,308.2 L278.5,308.2 L279.5,308.3 L280.5,308.4 L281.5,308.6 L282.5,308.7 L283.5,308.8 L284.5,308.9 L285.5,309.1 L286.5,309.3 L287.5,309.6 L288.5,310.0 L289.5,310.4 L290.5,310.9 L291.5,311.3 L292.5,311.8 L293.5,312.3 L294.5,312.7 L295.5,313.1 L296.5,313.5 L297.5,313.8 L298.5,314.0 L299.5,314.3 L300.5,314.6 L301.5,314.8 L302.5,315.1 L303.5,315.4 L304.5,315.8 L305.5,316.2 L306.5,316.7 L307.5,317.4 L308.5,318.0 L309.5,318.8 L310.5,319.6 L311.5,320.4 L312.5,321.4 L313.5,322.5 L314.5,323.6 L315.5,324.9 L316.5,326.3 L317.5,327.8 L318.5,329.4 L319.5,331.2 L320.5,333.2 L321.5,335.3 L322.5,337.4 L323.5,339.6 L324.5,341.9 L325.5,344.3 L326.5,346.9 L327.5,349.6 L328.5,352.5 L329.5,355.8 L330.5,359.3 L331.5,362.5 L332.5,365.5 L333.5,368.7 L334.5,370.5 L335.5,370.0 L336.5,368.3 L337.5,366.4 L338.5,364.1 L339.5,361.6 L340.5,358.9 L341.5,356.2 L342.5,353.2 L343.5,350.2 L344.5,347.1 L345.5,344.1 L346.5,341.0 L347.5,337.9 L348.5,334.9 L349.5,332.3 L350.5,330.0 L351.5,327.9 L352.5,326.0 L353.5,324.1 L354.5,322.3 L355.5,320.4 L356.5,318.4 L357.5,316.4 L358.5,314.3 L359.5,312.3 L360.5,310.2 L361.5,308.2 L362.5,306.0 L363.5,303.9 L364.5,301.7 L365.5,299.5 L366.5,297.4 L367.5,295.3 L368.5,293.2 L369.5,291.1 L370.5,289.0 L371.5,287.0 L372.5,285.1 L373.5,283.4 L374.5,281.8 L375.5,280.3 L376.5,278.9 L377.5,277.5 L378.5,276.2 L379.5,275.1 L380.5,274.0" fill="none" stroke="#2424ff" stroke-width="1.1"/><path d="M308.0,268.0 L309.0,271.1 L310.0,273.9 L311.0,276.1 L312.0,277.8 L313.0,279.3 L314.0,280.6 L315.0,281.6 L316.0,282.5 L317.0,283.2 L318.0,283.9 L319.0,284.6 L320.0,285.1 L321.0,285.4 L322.0,285.5 L323.0,285.3 L324.0,284.9 L325.0,284.2 L326.0,283.5 L327.0,282.7 L328.0,282.0 L329.0,281.1 L330.0,280.0 L331.0,278.8 L332.0,277.7 L333.0,276.7 L334.0,276.1 L335.0,276.0 L336.0,276.5 L337.0,277.4 L338.0,278.5 L339.0,279.8 L340.0,281.0 L341.0,282.0 L342.0,283.0 L343.0,284.0 L344.0,285.0 L345.0,285.8 L346.0,286.4 L347.0,286.5 L348.0,286.3 L349.0,286.1 L350.0,285.6 L351.0,285.1 L352.0,284.6 L353.0,284.0 L354.0,283.3 L355.0,282.5 L356.0,281.5 L357.0,280.4 L358.0,279.2 L359.0,277.8 L360.0,276.4 L361.0,274.7 L362.0,272.6 L363.0,270.4 L364.0,268.0" fill="none" stroke="#2424ff" stroke-width="1.1"/><path d="M308.0,268.0 L309.0,271.6 L310.0,274.8 L311.0,277.3 L312.0,279.2 L313.0,280.9 L314.0,282.3 L315.0,283.4 L316.0,284.3 L317.0,285.0 L318.0,285.7 L319.0,286.3 L320.0,286.7 L321.0,287.0 L322.0,287.1 L323.0,286.9 L324.0,286.5 L325.0,285.8 L326.0,285.1 L327.0,284.3 L328.0,283.5 L329.0,282.6 L330.0,281.4 L331.0,280.2 L332.0,279.0 L333.0,278.0 L334.0,277.3 L335.0,277.2 L336.0,277.7 L337.0,278.6 L338.0,279.8 L339.0,281.2 L340.0,282.4 L341.0,283.5 L342.0,284.5 L343.0,285.6 L344.0,286.6 L345.0,287.4 L346.0,288.0 L347.0,288.1 L348.0,288.0 L349.0,287.7 L350.0,287.3 L351.0,286.9 L352.0,286.3 L353.0,285.8 L354.0,285.1 L355.0,284.3 L356.0,283.2 L357.0,282.0 L358.0,280.6 L359.0,279.1 L360.0,277.5 L361.0,275.6 L362.0,273.3 L363.0,270.7 L364.0,268.0" fill="none" stroke="#2424ff" stroke-width="1.1"/><path d="M308.0,268.0 L309.0,272.1 L310.0,275.7 L311.0,278.5 L312.0,280.6 L313.0,282.4 L314.0,284.0 L315.0,285.2 L316.0,286.1 L317.0,286.8 L318.0,287.4 L319.0,287.9 L320.0,288.4 L321.0,288.6 L322.0,288.7 L323.0,288.5 L324.0,288.0 L325.0,287.4 L326.0,286.6 L327.0,285.8 L328.0,285.0 L329.0,284.1 L330.0,282.9 L331.0,281.5 L332.0,280.3 L333.0,279.2 L334.0,278.6 L335.0,278.4 L336.0,278.9 L337.0,279.9 L338.0,281.2 L339.0,282.6 L340.0,283.9 L341.0,285.0 L342.0,286.0 L343.0,287.1 L344.0,288.2 L345.0,289.0 L346.0,289.6 L347.0,289.7 L348.0,289.6 L349.0,289.3 L350.0,289.0 L351.0,288.6 L352.0,288.1 L353.0,287.6 L354.0,286.9 L355.0,286.0 L356.0,284.9 L357.0,283.5 L358.0,282.0 L359.0,280.4 L360.0,278.7 L361.0,276.5 L362.0,273.9 L363.0,271.1 L364.0,268.0" fill="none" stroke="#2424ff" stroke-width="1.1"/><path d="M308.0,268.0 L309.0,272.6 L310.0,276.7 L311.0,279.7 L312.0,282.0 L313.0,284.0 L314.0,285.7 L315.0,287.0 L316.0,287.9 L317.0,288.5 L318.0,289.1 L319.0,289.6 L320.0,290.0 L321.0,290.2 L322.0,290.3 L323.0,290.1 L324.0,289.6 L325.0,289.0 L326.0,288.2 L327.0,287.3 L328.0,286.5 L329.0,285.5 L330.0,284.3 L331.0,282.9 L332.0,281.6 L333.0,280.5 L334.0,279.8 L335.0,279.6 L336.0,280.2 L337.0,281.2 L338.0,282.5 L339.0,284.0 L340.0,285.4 L341.0,286.5 L342.0,287.5 L343.0,288.7 L344.0,289.7 L345.0,290.6 L346.0,291.2 L347.0,291.3 L348.0,291.2 L349.0,291.0 L350.0,290.7 L351.0,290.3 L352.0,289.9 L353.0,289.4 L354.0,288.7 L355.0,287.8 L356.0,286.5 L357.0,285.1 L358.0,283.5 L359.0,281.7 L360.0,279.8 L361.0,277.4 L362.0,274.6 L363.0,271.4 L364.0,268.0" fill="none" stroke="#2424ff" stroke-width="1.1"/><path d="M430.0,272.0 L431.0,273.1 L432.0,274.2 L433.0,275.3 L434.0,276.2 L435.0,277.0 L436.0,277.8 L437.0,278.5 L438.0,279.3 L439.0,280.0 L440.0,280.7 L441.0,281.3 L442.0,282.0 L443.0,282.6 L444.0,283.1 L445.0,283.6 L446.0,284.1 L447.0,284.5 L448.0,284.8 L449.0,285.1 L450.0,285.3 L451.0,285.6 L452.0,285.8 L453.0,286.0 L454.0,286.2 L455.0,286.4 L456.0,286.6 L457.0,286.7 L458.0,286.8 L459.0,286.8" fill="none" stroke="#2424ff" stroke-width="1.1"/><path d="M433.2,272.0 L434.2,273.1 L435.2,274.2 L436.2,275.2 L437.2,276.1 L438.2,277.0 L439.2,277.9 L440.2,278.7 L441.2,279.5 L442.2,280.3 L443.2,281.0 L444.2,281.7 L445.2,282.4 L446.2,283.1 L447.2,283.8 L448.2,284.5 L449.2,285.2 L450.2,285.9 L451.2,286.6 L452.2,287.3 L453.2,288.0 L454.2,288.7 L455.2,289.3 L456.2,290.0 L457.2,290.6 L458.2,291.3 L459.2,291.9" fill="none" stroke="#2424ff" stroke-width="1.1"/><path d="M436.4,272.0 L437.4,273.0 L438.4,274.0 L439.4,275.1 L440.4,276.1 L441.4,277.1 L442.4,278.1 L443.4,279.2 L444.4,280.2 L445.4,281.2 L446.4,282.3 L447.4,283.4 L448.4,284.4 L449.4,285.5 L450.4,286.7 L451.4,287.8 L452.4,288.9 L453.4,290.1 L454.4,291.2 L455.4,292.4 L456.4,293.6 L457.4,294.8 L458.4,296.0 L459.4,297.3" fill="none" stroke="#2424ff" stroke-width="1.1"/><path d="M439.6,272.0 L440.6,272.8 L441.6,273.7 L442.6,274.8 L443.6,276.0 L444.6,277.3 L445.6,278.9 L446.6,280.7 L447.6,282.6 L448.6,284.4 L449.6,286.1 L450.6,287.8 L451.6,289.5 L452.6,291.2 L453.6,292.9 L454.6,294.6 L455.6,296.3 L456.6,297.9 L457.6,299.6 L458.6,301.2" fill="none" stroke="#2424ff" stroke-width="1.1"/><path d="M442.8,272.0 L443.8,272.3 L444.8,273.0 L445.8,274.2 L446.8,275.7 L447.8,278.5 L448.8,284.3 L449.8,287.8 L450.8,291.0 L451.8,294.2 L452.8,297.1 L453.8,299.8 L454.8,302.2 L455.8,304.3 L456.8,306.0 L457.8,307.2 L458.8,307.9" fill="none" stroke="#2424ff" stroke-width="1.1"/><path d="M445.0,272.0 L446.0,274.5 L447.0,277.0 L448.0,279.6 L449.0,282.2 L450.0,284.9 L451.0,287.5 L452.0,290.0 L453.0,292.4 L454.0,294.8 L455.0,297.2 L456.0,299.5 L457.0,301.8 L458.0,304.0 L459.0,306.2" fill="none" stroke="#2424ff" stroke-width="1.1"/><path d="M262.5,408.6 L263.5,408.4 L264.5,408.3 L265.5,408.1 L266.5,407.8 L267.5,407.5 L268.5,407.2 L269.5,406.9 L270.5,406.5 L271.5,406.1 L272.5,405.7 L273.5,405.2 L274.5,404.7 L275.5,404.3 L276.5,403.8 L277.5,403.3 L278.5,402.7 L279.5,402.2 L280.5,401.5 L281.5,400.8 L282.5,399.9 L283.5,399.1 L284.5,398.1 L285.5,397.2 L286.5,396.2 L287.5,395.2 L288.5,394.2 L289.5,393.2 L290.5,392.3 L291.5,391.4 L292.5,390.5 L293.5,389.4 L294.5,388.3 L295.5,387.2 L296.5,386.2 L297.5,385.3 L298.5,384.6 L299.5,384.1 L300.5,383.8 L301.5,383.6 L302.5,383.4 L303.5,383.2 L304.5,383.0 L305.5,382.9 L306.5,382.8 L307.5,382.7 L308.5,382.6 L309.5,382.5 L310.5,382.4 L311.5,382.3 L312.5,382.2 L313.5,382.1 L314.5,382.1 L315.5,382.0 L316.5,382.0 L317.5,381.9 L318.5,381.9 L319.5,381.9 L320.5,381.8 L321.5,381.7 L322.5,381.7 L323.5,381.6 L324.5,381.5 L325.5,381.4 L326.5,381.2 L327.5,380.9 L328.5,380.7 L329.5,380.4 L330.5,380.1 L331.5,379.7 L332.5,379.3 L333.5,379.0 L334.5,378.6" fill="none" stroke="#2424ff" stroke-width="1.1"/><path d="M262.5,414.3 L263.5,414.2 L264.5,414.1 L265.5,414.0 L266.5,413.8 L267.5,413.6 L268.5,413.3 L269.5,413.0 L270.5,412.7 L271.5,412.4 L272.5,412.0 L273.5,411.6 L274.5,411.2 L275.5,410.7 L276.5,410.3 L277.5,409.8 L278.5,409.4 L279.5,408.8 L280.5,408.1 L281.5,407.2 L282.5,406.3 L283.5,405.2 L284.5,404.1 L285.5,403.0 L286.5,401.8 L287.5,400.7 L288.5,399.6 L289.5,398.5 L290.5,397.5 L291.5,396.3 L292.5,395.1 L293.5,393.8 L294.5,392.6 L295.5,391.4 L296.5,390.3 L297.5,389.3 L298.5,388.6 L299.5,388.1 L300.5,387.8 L301.5,387.6 L302.5,387.4 L303.5,387.3 L304.5,387.1 L305.5,387.0 L306.5,386.9 L307.5,386.8 L308.5,386.7 L309.5,386.6 L310.5,386.5 L311.5,386.4 L312.5,386.3 L313.5,386.2 L314.5,386.2 L315.5,386.1 L316.5,386.1 L317.5,386.0 L318.5,385.9 L319.5,385.9 L320.5,385.8 L321.5,385.7 L322.5,385.6 L323.5,385.5 L324.5,385.4 L325.5,385.2 L326.5,385.0 L327.5,384.7 L328.5,384.4 L329.5,384.1 L330.5,383.8 L331.5,383.5 L332.5,383.1 L333.5,382.8 L334.5,382.4" fill="none" stroke="#2424ff" stroke-width="1.1"/><path d="M262.5,418.4 L263.5,418.4 L264.5,418.3 L265.5,418.2 L266.5,418.1 L267.5,418.0 L268.5,417.8 L269.5,417.6 L270.5,417.4 L271.5,417.2 L272.5,417.0 L273.5,416.7 L274.5,416.4 L275.5,416.1 L276.5,415.8 L277.5,415.5 L278.5,415.2 L279.5,414.7 L280.5,414.1 L281.5,413.4 L282.5,412.5 L283.5,411.6 L284.5,410.6 L285.5,409.5 L286.5,408.4 L287.5,407.2 L288.5,406.1 L289.5,405.0 L290.5,404.0 L291.5,402.7 L292.5,401.4 L293.5,399.9 L294.5,398.5 L295.5,397.1 L296.5,395.8 L297.5,394.7 L298.5,393.8 L299.5,393.1 L300.5,392.7 L301.5,392.4 L302.5,392.1 L303.5,391.9 L304.5,391.6 L305.5,391.4 L306.5,391.2 L307.5,391.0 L308.5,390.9 L309.5,390.7 L310.5,390.6 L311.5,390.5 L312.5,390.4 L313.5,390.3 L314.5,390.2 L315.5,390.1 L316.5,390.0 L317.5,390.0 L318.5,389.8 L319.5,389.7 L320.5,389.4 L321.5,389.0 L322.5,388.5 L323.5,388.0 L324.5,387.5 L325.5,387.1 L326.5,386.9 L327.5,386.7 L328.5,386.6 L329.5,386.4 L330.5,386.3 L331.5,386.2 L332.5,386.1 L333.5,386.0 L334.5,386.0" fill="none" stroke="#2424ff" stroke-width="1.1"/><path d="M262.5,423.4 L263.5,423.4 L264.5,423.3 L265.5,423.1 L266.5,423.0 L267.5,422.8 L268.5,422.6 L269.5,422.3 L270.5,422.0 L271.5,421.8 L272.5,421.4 L273.5,421.1 L274.5,420.8 L275.5,420.4 L276.5,420.0 L277.5,419.6 L278.5,419.3 L279.5,418.8 L280.5,418.3 L281.5,417.7 L282.5,417.1 L283.5,416.4 L284.5,415.6 L285.5,414.8 L286.5,414.0 L287.5,413.1 L288.5,412.2 L289.5,411.3 L290.5,410.4 L291.5,409.5 L292.5,408.5 L293.5,407.3 L294.5,406.1 L295.5,404.8 L296.5,403.5 L297.5,402.3 L298.5,401.2 L299.5,400.3 L300.5,399.7 L301.5,399.1 L302.5,398.5 L303.5,398.1 L304.5,397.7 L305.5,397.6 L306.5,397.7 L307.5,398.0 L308.5,398.4 L309.5,398.8 L310.5,399.2 L311.5,399.7 L312.5,400.2 L313.5,400.6 L314.5,400.9 L315.5,400.7 L316.5,399.6 L317.5,397.9 L318.5,396.0 L319.5,393.9 L320.5,391.2 L321.5,388.3 L322.5,385.6 L323.5,383.7 L324.5,382.0 L325.5,380.6" fill="none" stroke="#2424ff" stroke-width="1.1"/><path d="M262.5,428.3 L263.5,428.2 L264.5,428.1 L265.5,428.0 L266.5,427.9 L267.5,427.7 L268.5,427.4 L269.5,427.2 L270.5,426.9 L271.5,426.6 L272.5,426.3 L273.5,426.0 L274.5,425.6 L275.5,425.3 L276.5,424.9 L277.5,424.5 L278.5,424.2 L279.5,423.8 L280.5,423.3 L281.5,422.8 L282.5,422.2 L283.5,421.6 L284.5,420.9 L285.5,420.2 L286.5,419.5 L287.5,418.7 L288.5,417.9 L289.5,417.0 L290.5,416.2 L291.5,415.3 L292.5,414.3 L293.5,413.1 L294.5,411.8 L295.5,410.4 L296.5,409.0 L297.5,407.7 L298.5,406.5 L299.5,405.4 L300.5,404.6 L301.5,403.7 L302.5,402.9 L303.5,402.2 L304.5,401.7 L305.5,401.5 L306.5,401.6 L307.5,401.9 L308.5,402.4 L309.5,402.8 L310.5,403.2 L311.5,403.7 L312.5,404.3 L313.5,404.7 L314.5,405.0 L315.5,404.8 L316.5,403.9 L317.5,402.5 L318.5,400.9 L319.5,399.0 L320.5,396.4 L321.5,393.4 L322.5,390.7 L323.5,388.5 L324.5,386.6 L325.5,384.8" fill="none" stroke="#2424ff" stroke-width="1.1"/><path d="M262.5,432.4 L263.5,432.4 L264.5,432.3 L265.5,432.2 L266.5,432.0 L267.5,431.9 L268.5,431.7 L269.5,431.4 L270.5,431.2 L271.5,430.9 L272.5,430.6 L273.5,430.3 L274.5,430.0 L275.5,429.7 L276.5,429.3 L277.5,428.9 L278.5,428.6 L279.5,428.2 L280.5,427.8 L281.5,427.3 L282.5,426.8 L283.5,426.1 L284.5,425.4 L285.5,424.7 L286.5,423.9 L287.5,423.0 L288.5,422.2 L289.5,421.3 L290.5,420.4 L291.5,419.5 L292.5,418.5 L293.5,417.5 L294.5,416.3 L295.5,415.1 L296.5,413.8 L297.5,412.6 L298.5,411.5 L299.5,410.5 L300.5,409.6 L301.5,408.6 L302.5,407.7 L303.5,406.8 L304.5,406.3 L305.5,406.0 L306.5,406.1 L307.5,406.6 L308.5,407.2 L309.5,407.9 L310.5,408.7 L311.5,409.3 L312.5,410.0 L313.5,410.8 L314.5,411.6" fill="none" stroke="#2424ff" stroke-width="1.1"/><path d="M296.0,447.0 L297.0,443.8 L298.0,440.7 L299.0,437.8 L300.0,435.0 L301.0,432.4 L302.0,430.0 L303.0,427.9 L304.0,426.0 L305.0,424.2 L306.0,422.5 L307.0,420.6 L308.0,418.5 L309.0,415.8 L310.0,412.6 L311.0,409.2 L312.0,406.2 L313.0,404.0 L314.0,402.4 L315.0,401.0 L316.0,400.0 L317.0,399.6 L318.0,399.9 L319.0,400.6 L320.0,401.6 L321.0,402.8 L322.0,404.0 L323.0,405.3 L324.0,406.8 L325.0,408.5 L326.0,410.3 L327.0,412.2 L328.0,414.0 L329.0,416.2 L330.0,418.8 L331.0,421.3 L332.0,423.4 L333.0,424.6 L334.0,424.5 L335.0,423.3 L336.0,421.7 L337.0,420.0 L338.0,418.4 L339.0,416.6 L340.0,414.8 L341.0,412.7 L342.0,410.3 L343.0,407.7 L344.0,405.5 L345.0,404.0 L346.0,403.1 L347.0,402.4 L348.0,401.8 L349.0,401.3 L350.0,400.8 L351.0,400.3 L352.0,399.9 L353.0,399.5 L354.0,399.3 L355.0,399.2 L356.0,399.3 L357.0,399.6 L358.0,399.9 L359.0,400.4 L360.0,400.9 L361.0,401.5 L362.0,402.1 L363.0,402.6 L364.0,403.2 L365.0,403.6 L366.0,404.0 L367.0,404.3 L368.0,404.7 L369.0,405.0 L370.0,405.3 L371.0,405.7 L372.0,406.0 L373.0,406.3 L374.0,406.6 L375.0,406.9 L376.0,407.2 L377.0,407.4 L378.0,407.6 L379.0,407.8 L380.0,407.9 L381.0,408.0 L382.0,408.0 L383.0,408.0 L384.0,408.0 L385.0,408.0 L386.0,408.0 L387.0,408.0 L388.0,408.0 L389.0,408.0 L390.0,408.0 L391.0,408.0 L392.0,408.0 L393.0,408.0 L394.0,408.0 L395.0,408.0 L396.0,408.0 L397.0,408.0 L398.0,408.0 L399.0,408.0 L400.0,408.0 L401.0,408.0 L402.0,408.0 L403.0,408.1 L404.0,408.1 L405.0,408.2 L406.0,408.3 L407.0,408.3 L408.0,408.4 L409.0,408.5 L410.0,408.6 L411.0,408.7 L412.0,408.8 L413.0,408.8 L414.0,408.9 L415.0,408.9 L416.0,409.0 L417.0,409.0 L418.0,409.0 L419.0,408.9 L420.0,408.7 L421.0,408.3 L422.0,407.9 L423.0,407.5 L424.0,407.0 L425.0,406.5 L426.0,406.0 L427.0,405.5 L428.0,405.0 L429.0,404.5 L430.0,403.9 L431.0,403.3 L432.0,402.7 L433.0,402.1 L434.0,401.6 L435.0,401.3 L436.0,401.2 L437.0,401.4 L438.0,402.1 L439.0,403.0 L440.0,404.2 L441.0,405.4 L442.0,406.7 L443.0,407.9 L444.0,408.9 L445.0,409.6 L446.0,410.0 L447.0,410.1 L448.0,410.3 L449.0,410.4 L450.0,410.5 L451.0,410.6 L452.0,410.7 L453.0,410.8 L454.0,410.8 L455.0,410.9 L456.0,410.9 L457.0,411.0 L458.0,411.0 L459.0,411.0" fill="none" stroke="#2424ff" stroke-width="1.1"/><path d="M297.2,447.0 L298.2,443.8 L299.2,440.7 L300.2,437.8 L301.2,435.0 L302.2,432.4 L303.2,430.0 L304.2,427.9 L305.2,426.0 L306.2,424.2 L307.2,422.5 L308.2,420.6 L309.2,418.5 L310.2,415.8 L311.2,412.4 L312.2,409.1 L313.2,406.3 L314.2,404.7 L315.2,403.4 L316.2,402.4 L317.2,401.8 L318.2,402.0 L319.2,402.7 L320.2,403.9 L321.2,405.2 L322.2,406.4 L323.2,407.8 L324.2,409.4 L325.2,411.1 L326.2,412.9 L327.2,414.6 L328.2,416.3 L329.2,418.3 L330.2,420.5 L331.2,422.6 L332.2,424.2 L333.2,425.0 L334.2,424.7 L335.2,423.5 L336.2,422.1 L337.2,420.8 L338.2,419.6 L339.2,418.3 L340.2,416.8 L341.2,414.9 L342.2,412.4 L343.2,409.9 L344.2,407.7 L345.2,406.3 L346.2,405.4 L347.2,404.7 L348.2,404.2 L349.2,403.7 L350.2,403.2 L351.2,402.8 L352.2,402.3 L353.2,402.0 L354.2,401.7 L355.2,401.7 L356.2,401.9 L357.2,402.1 L358.2,402.5 L359.2,403.0 L360.2,403.5 L361.2,404.1 L362.2,404.6 L363.2,405.2 L364.2,405.7 L365.2,406.1 L366.2,406.5 L367.2,406.8 L368.2,407.1 L369.2,407.4 L370.2,407.7 L371.2,408.0 L372.2,408.3 L373.2,408.6 L374.2,408.9 L375.2,409.1 L376.2,409.3 L377.2,409.6 L378.2,409.7 L379.2,409.9 L380.2,410.0 L381.2,410.1 L382.2,410.2 L383.2,410.3 L384.2,410.3 L385.2,410.4 L386.2,410.4 L387.2,410.4 L388.2,410.5 L389.2,410.5 L390.2,410.5 L391.2,410.5 L392.2,410.6 L393.2,410.6 L394.2,410.6 L395.2,410.6 L396.2,410.7 L397.2,410.7 L398.2,410.7 L399.2,410.8 L400.2,410.8 L401.2,410.9 L402.2,410.9 L403.2,411.0 L404.2,411.1 L405.2,411.2 L406.2,411.3 L407.2,411.3 L408.2,411.4 L409.2,411.5 L410.2,411.6 L411.2,411.7 L412.2,411.8 L413.2,411.8 L414.2,411.9 L415.2,411.9 L416.2,412.0 L417.2,412.0 L418.2,412.0 L419.2,411.9 L420.2,411.6 L421.2,411.3 L422.2,410.9 L423.2,410.4 L424.2,409.9 L425.2,409.4 L426.2,408.8 L427.2,408.4 L428.2,407.9 L429.2,407.4 L430.2,406.8 L431.2,406.2 L432.2,405.6 L433.2,405.0 L434.2,404.6 L435.2,404.3 L436.2,404.2 L437.2,404.5 L438.2,405.2 L439.2,406.2 L440.2,407.3 L441.2,408.5 L442.2,409.7 L443.2,410.8 L444.2,411.7 L445.2,412.3 L446.2,412.5 L447.2,412.6 L448.2,412.7 L449.2,412.7 L450.2,412.8 L451.2,412.8 L452.2,412.9 L453.2,412.9 L454.2,412.9 L455.2,412.9 L456.2,413.0 L457.2,413.0 L458.2,413.0 L459.2,413.0" fill="none" stroke="#2424ff" stroke-width="1.1"/><path d="M298.4,447.0 L299.4,443.8 L300.4,440.7 L301.4,437.8 L302.4,435.0 L303.4,432.4 L304.4,430.0 L305.4,427.9 L306.4,426.0 L307.4,424.2 L308.4,422.5 L309.4,420.6 L310.4,418.5 L311.4,415.7 L312.4,412.3 L313.4,409.0 L314.4,406.7 L315.4,405.5 L316.4,404.6 L317.4,404.1 L318.4,404.1 L319.4,404.8 L320.4,406.1 L321.4,407.6 L322.4,408.9 L323.4,410.4 L324.4,412.0 L325.4,413.8 L326.4,415.5 L327.4,417.1 L328.4,418.6 L329.4,420.3 L330.4,422.1 L331.4,423.7 L332.4,424.9 L333.4,425.3 L334.4,424.9 L335.4,423.8 L336.4,422.6 L337.4,421.7 L338.4,420.9 L339.4,420.1 L340.4,419.0 L341.4,417.2 L342.4,414.7 L343.4,412.0 L344.4,409.8 L345.4,408.6 L346.4,407.8 L347.4,407.1 L348.4,406.6 L349.4,406.1 L350.4,405.6 L351.4,405.2 L352.4,404.7 L353.4,404.4 L354.4,404.2 L355.4,404.2 L356.4,404.4 L357.4,404.7 L358.4,405.1 L359.4,405.6 L360.4,406.1 L361.4,406.6 L362.4,407.2 L363.4,407.7 L364.4,408.2 L365.4,408.6 L366.4,408.9 L367.4,409.2 L368.4,409.5 L369.4,409.8 L370.4,410.1 L371.4,410.3 L372.4,410.6 L373.4,410.8 L374.4,411.1 L375.4,411.3 L376.4,411.5 L377.4,411.7 L378.4,411.9 L379.4,412.1 L380.4,412.2 L381.4,412.3 L382.4,412.4 L383.4,412.5 L384.4,412.6 L385.4,412.7 L386.4,412.8 L387.4,412.9 L388.4,412.9 L389.4,413.0 L390.4,413.0 L391.4,413.1 L392.4,413.1 L393.4,413.2 L394.4,413.3 L395.4,413.3 L396.4,413.4 L397.4,413.4 L398.4,413.5 L399.4,413.6 L400.4,413.6 L401.4,413.7 L402.4,413.8 L403.4,413.9 L404.4,414.0 L405.4,414.1 L406.4,414.2 L407.4,414.3 L408.4,414.4 L409.4,414.5 L410.4,414.6 L411.4,414.7 L412.4,414.8 L413.4,414.8 L414.4,414.9 L415.4,415.0 L416.4,415.0 L417.4,415.0 L418.4,415.0 L419.4,414.8 L420.4,414.5 L421.4,414.2 L422.4,413.8 L423.4,413.3 L424.4,412.8 L425.4,412.3 L426.4,411.7 L427.4,411.3 L428.4,410.8 L429.4,410.3 L430.4,409.7 L431.4,409.0 L432.4,408.4 L433.4,407.9 L434.4,407.5 L435.4,407.2 L436.4,407.2 L437.4,407.6 L438.4,408.3 L439.4,409.3 L440.4,410.4 L441.4,411.6 L442.4,412.7 L443.4,413.7 L444.4,414.5 L445.4,414.9 L446.4,415.0 L447.4,415.0 L448.4,415.0 L449.4,415.0 L450.4,415.0 L451.4,415.0 L452.4,415.0 L453.4,415.0 L454.4,415.0 L455.4,415.0 L456.4,415.0 L457.4,415.0 L458.4,415.0 L459.4,415.0" fill="none" stroke="#2424ff" stroke-width="1.1"/><path d="M299.6,447.0 L300.6,443.8 L301.6,440.7 L302.6,437.8 L303.6,435.0 L304.6,432.4 L305.6,430.0 L306.6,427.9 L307.6,426.0 L308.6,424.2 L309.6,422.5 L310.6,420.6 L311.6,418.5 L312.6,415.7 L313.6,412.1 L314.6,409.0 L315.6,407.4 L316.6,406.8 L317.6,406.3 L318.6,406.2 L319.6,406.9 L320.6,408.4 L321.6,410.0 L322.6,411.5 L323.6,413.0 L324.6,414.7 L325.6,416.4 L326.6,418.0 L327.6,419.5 L328.6,420.8 L329.6,422.2 L330.6,423.5 L331.6,424.6 L332.6,425.4 L333.6,425.6 L334.6,425.1 L335.6,424.2 L336.6,423.3 L337.6,422.7 L338.6,422.4 L339.6,422.0 L340.6,421.3 L341.6,419.6 L342.6,416.9 L343.6,414.2 L344.6,412.0 L345.6,410.9 L346.6,410.1 L347.6,409.5 L348.6,408.9 L349.6,408.5 L350.6,408.0 L351.6,407.6 L352.6,407.2 L353.6,406.9 L354.6,406.7 L355.6,406.8 L356.6,406.9 L357.6,407.3 L358.6,407.7 L359.6,408.1 L360.6,408.7 L361.6,409.2 L362.6,409.7 L363.6,410.2 L364.6,410.7 L365.6,411.1 L366.6,411.4 L367.6,411.6 L368.6,411.9 L369.6,412.2 L370.6,412.4 L371.6,412.7 L372.6,412.9 L373.6,413.1 L374.6,413.3 L375.6,413.5 L376.6,413.7 L377.6,413.9 L378.6,414.1 L379.6,414.2 L380.6,414.4 L381.6,414.5 L382.6,414.7 L383.6,414.8 L384.6,414.9 L385.6,415.0 L386.6,415.2 L387.6,415.3 L388.6,415.4 L389.6,415.5 L390.6,415.6 L391.6,415.6 L392.6,415.7 L393.6,415.8 L394.6,415.9 L395.6,416.0 L396.6,416.1 L397.6,416.2 L398.6,416.3 L399.6,416.4 L400.6,416.5 L401.6,416.6 L402.6,416.7 L403.6,416.8 L404.6,416.9 L405.6,417.0 L406.6,417.1 L407.6,417.3 L408.6,417.4 L409.6,417.5 L410.6,417.6 L411.6,417.7 L412.6,417.8 L413.6,417.9 L414.6,417.9 L415.6,418.0 L416.6,418.0 L417.6,418.0 L418.6,417.9 L419.6,417.8 L420.6,417.5 L421.6,417.1 L422.6,416.7 L423.6,416.2 L424.6,415.7 L425.6,415.2 L426.6,414.7 L427.6,414.2 L428.6,413.7 L429.6,413.2 L430.6,412.5 L431.6,411.9 L432.6,411.3 L433.6,410.8 L434.6,410.4 L435.6,410.2 L436.6,410.3 L437.6,410.7 L438.6,411.4 L439.6,412.4 L440.6,413.4 L441.6,414.5 L442.6,415.5 L443.6,416.4 L444.6,417.1 L445.6,417.5 L446.6,417.5 L447.6,417.5 L448.6,417.5 L449.6,417.5 L450.6,417.5 L451.6,417.5 L452.6,417.4 L453.6,417.4 L454.6,417.4 L455.6,417.3 L456.6,417.3 L457.6,417.2 L458.6,417.1" fill="none" stroke="#2424ff" stroke-width="1.1"/><path d="M300.8,447.0 L301.8,443.8 L302.8,440.7 L303.8,437.8 L304.8,435.0 L305.8,432.4 L306.8,430.0 L307.8,427.9 L308.8,426.0 L309.8,424.2 L310.8,422.5 L311.8,420.6 L312.8,418.5 L313.8,415.5 L314.8,411.8 L315.8,409.2 L316.8,408.7 L317.8,408.5 L318.8,408.4 L319.8,408.9 L320.8,410.6 L321.8,412.5 L322.8,414.1 L323.8,415.7 L324.8,417.5 L325.8,419.1 L326.8,420.6 L327.8,421.8 L328.8,422.8 L329.8,423.8 L330.8,424.7 L331.8,425.4 L332.8,425.8 L333.8,425.8 L334.8,425.3 L335.8,424.5 L336.8,424.0 L337.8,424.0 L338.8,424.0 L339.8,424.0 L340.8,423.8 L341.8,422.1 L342.8,419.3 L343.8,416.3 L344.8,414.2 L345.8,413.3 L346.8,412.5 L347.8,411.9 L348.8,411.3 L349.8,410.9 L350.8,410.4 L351.8,410.0 L352.8,409.6 L353.8,409.3 L354.8,409.2 L355.8,409.3 L356.8,409.5 L357.8,409.8 L358.8,410.2 L359.8,410.7 L360.8,411.2 L361.8,411.8 L362.8,412.3 L363.8,412.8 L364.8,413.2 L365.8,413.5 L366.8,413.8 L367.8,414.1 L368.8,414.3 L369.8,414.5 L370.8,414.8 L371.8,415.0 L372.8,415.2 L373.8,415.4 L374.8,415.6 L375.8,415.8 L376.8,415.9 L377.8,416.1 L378.8,416.3 L379.8,416.4 L380.8,416.6 L381.8,416.8 L382.8,416.9 L383.8,417.1 L384.8,417.2 L385.8,417.4 L386.8,417.5 L387.8,417.7 L388.8,417.8 L389.8,417.9 L390.8,418.1 L391.8,418.2 L392.8,418.3 L393.8,418.5 L394.8,418.6 L395.8,418.7 L396.8,418.8 L397.8,418.9 L398.8,419.1 L399.8,419.2 L400.8,419.3 L401.8,419.4 L402.8,419.5 L403.8,419.7 L404.8,419.8 L405.8,420.0 L406.8,420.1 L407.8,420.2 L408.8,420.3 L409.8,420.5 L410.8,420.6 L411.8,420.7 L412.8,420.8 L413.8,420.9 L414.8,420.9 L415.8,421.0 L416.8,421.0 L417.8,421.0 L418.8,420.9 L419.8,420.7 L420.8,420.4 L421.8,420.0 L422.8,419.6 L423.8,419.1 L424.8,418.6 L425.8,418.1 L426.8,417.6 L427.8,417.1 L428.8,416.6 L429.8,416.0 L430.8,415.4 L431.8,414.8 L432.8,414.2 L433.8,413.7 L434.8,413.4 L435.8,413.2 L436.8,413.3 L437.8,413.8 L438.8,414.5 L439.8,415.4 L440.8,416.4 L441.8,417.4 L442.8,418.4 L443.8,419.2 L444.8,419.7 L445.8,420.0 L446.8,420.0 L447.8,420.0 L448.8,420.0 L449.8,420.0 L450.8,420.0 L451.8,419.9 L452.8,419.9 L453.8,419.8 L454.8,419.7 L455.8,419.6 L456.8,419.5 L457.8,419.3 L458.8,419.1" fill="none" stroke="#2424ff" stroke-width="1.1"/><path d="M326.0,381.0 L327.0,382.2 L328.0,383.3 L329.0,384.3 L330.0,385.0 L331.0,385.6 L332.0,386.2 L333.0,386.6 L334.0,386.9 L335.0,387.0 L336.0,386.7 L337.0,386.3 L338.0,385.6 L339.0,385.0 L340.0,384.3 L341.0,383.3 L342.0,382.2 L343.0,381.0" fill="none" stroke="#2424ff" stroke-width="1.1"/><path d="M326.0,394.0 L327.0,392.7 L328.0,391.5 L329.0,390.6 L330.0,390.0 L331.0,389.7 L332.0,389.4 L333.0,389.2 L334.0,389.0 L335.0,389.0 L336.0,389.1 L337.0,389.3 L338.0,389.6 L339.0,390.0 L340.0,390.6 L341.0,391.5 L342.0,392.7 L343.0,394.0" fill="none" stroke="#2424ff" stroke-width="1.1"/><path d="M334.7,377.0 L335.7,377.7 L336.7,378.3 L337.7,379.0 L338.7,379.6 L339.7,380.2 L340.7,380.8 L341.7,381.3 L342.7,381.9 L343.7,382.4 L344.7,382.9 L345.7,383.3 L346.7,383.7 L347.7,384.1 L348.7,384.4 L349.7,384.8 L350.7,385.1 L351.7,385.4 L352.7,385.7 L353.7,386.1 L354.7,386.4 L355.7,386.8 L356.7,387.2 L357.7,387.6 L358.7,388.0 L359.7,388.6 L360.7,389.2 L361.7,389.8 L362.7,390.5 L363.7,391.2 L364.7,391.9 L365.7,392.7 L366.7,393.5 L367.7,394.3 L368.7,395.1 L369.7,395.9 L370.7,396.8 L371.7,397.6 L372.7,398.3 L373.7,399.1 L374.7,399.8 L375.7,400.6 L376.7,401.3 L377.7,402.0 L378.7,402.7 L379.7,403.5 L380.7,404.2 L381.7,405.0 L382.7,405.8 L383.7,406.7 L384.7,407.6 L385.7,408.6 L386.7,409.7 L387.7,410.9 L388.7,412.3 L389.7,414.0 L390.7,415.8 L391.7,417.6 L392.7,419.2 L393.7,420.6 L394.7,421.9 L395.7,423.1 L396.7,424.4 L397.7,425.6 L398.7,426.6 L399.7,427.4 L400.7,427.9 L401.7,428.0 L402.7,427.9 L403.7,427.7 L404.7,427.4 L405.7,427.0 L406.7,426.6 L407.7,426.1 L408.7,425.6 L409.7,424.8 L410.7,423.9 L411.7,422.8 L412.7,421.7 L413.7,420.7 L414.7,419.7 L415.7,419.0 L416.7,418.5 L417.7,418.0 L418.7,417.6 L419.7,417.2 L420.7,416.8 L421.7,416.5 L422.7,416.1 L423.7,415.8 L424.7,415.4 L425.7,415.0 L426.7,414.6 L427.7,414.2 L428.7,413.6 L429.7,412.8 L430.7,411.8 L431.7,410.8 L432.7,409.8 L433.7,409.0 L434.7,408.3 L435.7,408.0 L436.7,408.1 L437.7,408.5 L438.7,409.1 L439.7,410.0 L440.7,411.0 L441.7,412.2 L442.7,413.3 L443.7,414.5 L444.7,415.7 L445.7,416.8 L446.7,418.1 L447.7,419.5 L448.7,420.9 L449.7,422.3 L450.7,423.6 L451.7,424.7 L452.7,425.6 L453.7,426.4 L454.7,427.2 L455.7,428.0 L456.7,428.6 L457.7,429.2 L458.7,429.7" fill="none" stroke="#2424ff" stroke-width="1.1"/><path d="M334.7,381.0 L335.7,381.5 L336.7,382.1 L337.7,382.6 L338.7,383.1 L339.7,383.6 L340.7,384.1 L341.7,384.5 L342.7,385.0 L343.7,385.4 L344.7,385.9 L345.7,386.3 L346.7,386.7 L347.7,387.0 L348.7,387.4 L349.7,387.7 L350.7,388.0 L351.7,388.4 L352.7,388.7 L353.7,389.0 L354.7,389.4 L355.7,389.7 L356.7,390.1 L357.7,390.6 L358.7,391.0 L359.7,391.6 L360.7,392.2 L361.7,392.8 L362.7,393.5 L363.7,394.2 L364.7,394.9 L365.7,395.7 L366.7,396.5 L367.7,397.3 L368.7,398.1 L369.7,398.9 L370.7,399.7 L371.7,400.6 L372.7,401.3 L373.7,402.1 L374.7,402.9 L375.7,403.6 L376.7,404.3 L377.7,405.1 L378.7,405.8 L379.7,406.5 L380.7,407.3 L381.7,408.1 L382.7,409.0 L383.7,409.9 L384.7,410.8 L385.7,411.8 L386.7,412.9 L387.7,414.1 L388.7,415.6 L389.7,417.3 L390.7,419.1 L391.7,420.9 L392.7,422.6 L393.7,424.0 L394.7,425.1 L395.7,426.2 L396.7,427.4 L397.7,428.4 L398.7,429.3 L399.7,430.0 L400.7,430.4 L401.7,430.5 L402.7,430.4 L403.7,430.2 L404.7,429.9 L405.7,429.5 L406.7,429.1 L407.7,428.6 L408.7,428.1 L409.7,427.3 L410.7,426.4 L411.7,425.3 L412.7,424.2 L413.7,423.2 L414.7,422.2 L415.7,421.5 L416.7,421.0 L417.7,420.5 L418.7,420.1 L419.7,419.8 L420.7,419.4 L421.7,419.1 L422.7,418.8 L423.7,418.6 L424.7,418.2 L425.7,417.9 L426.7,417.6 L427.7,417.1 L428.7,416.6 L429.7,415.9 L430.7,415.0 L431.7,414.1 L432.7,413.2 L433.7,412.4 L434.7,411.8 L435.7,411.5 L436.7,411.6 L437.7,411.9 L438.7,412.5 L439.7,413.3 L440.7,414.3 L441.7,415.4 L442.7,416.5 L443.7,417.6 L444.7,418.7 L445.7,419.8 L446.7,421.1 L447.7,422.5 L448.7,424.0 L449.7,425.5 L450.7,426.7 L451.7,427.8 L452.7,428.5 L453.7,429.3 L454.7,429.9 L455.7,430.5 L456.7,431.1 L457.7,431.5 L458.7,431.8" fill="none" stroke="#2424ff" stroke-width="1.1"/><path d="M334.7,385.0 L335.7,385.4 L336.7,385.8 L337.7,386.2 L338.7,386.6 L339.7,387.0 L340.7,387.4 L341.7,387.7 L342.7,388.1 L343.7,388.5 L344.7,388.9 L345.7,389.3 L346.7,389.6 L347.7,390.0 L348.7,390.3 L349.7,390.6 L350.7,390.9 L351.7,391.3 L352.7,391.6 L353.7,392.0 L354.7,392.3 L355.7,392.7 L356.7,393.1 L357.7,393.6 L358.7,394.0 L359.7,394.6 L360.7,395.2 L361.7,395.8 L362.7,396.5 L363.7,397.2 L364.7,397.9 L365.7,398.7 L366.7,399.5 L367.7,400.3 L368.7,401.1 L369.7,401.9 L370.7,402.7 L371.7,403.5 L372.7,404.3 L373.7,405.1 L374.7,405.9 L375.7,406.6 L376.7,407.4 L377.7,408.1 L378.7,408.9 L379.7,409.6 L380.7,410.4 L381.7,411.2 L382.7,412.1 L383.7,413.0 L384.7,414.0 L385.7,415.0 L386.7,416.1 L387.7,417.3 L388.7,418.9 L389.7,420.6 L390.7,422.5 L391.7,424.3 L392.7,425.9 L393.7,427.3 L394.7,428.3 L395.7,429.3 L396.7,430.3 L397.7,431.2 L398.7,432.0 L399.7,432.6 L400.7,432.9 L401.7,433.0 L402.7,432.9 L403.7,432.7 L404.7,432.4 L405.7,432.0 L406.7,431.6 L407.7,431.1 L408.7,430.6 L409.7,429.8 L410.7,428.9 L411.7,427.8 L412.7,426.7 L413.7,425.7 L414.7,424.7 L415.7,424.0 L416.7,423.4 L417.7,423.0 L418.7,422.6 L419.7,422.3 L420.7,422.0 L421.7,421.8 L422.7,421.6 L423.7,421.3 L424.7,421.1 L425.7,420.8 L426.7,420.5 L427.7,420.1 L428.7,419.7 L429.7,419.0 L430.7,418.2 L431.7,417.3 L432.7,416.5 L433.7,415.8 L434.7,415.3 L435.7,415.0 L436.7,415.1 L437.7,415.4 L438.7,416.0 L439.7,416.7 L440.7,417.6 L441.7,418.6 L442.7,419.6 L443.7,420.7 L444.7,421.7 L445.7,422.8 L446.7,424.1 L447.7,425.6 L448.7,427.1 L449.7,428.6 L450.7,429.8 L451.7,430.8 L452.7,431.4 L453.7,432.0 L454.7,432.6 L455.7,433.1 L456.7,433.5 L457.7,433.8 L458.7,434.0" fill="none" stroke="#2424ff" stroke-width="1.1"/><path d="M334.7,389.0 L335.7,389.3 L336.7,389.5 L337.7,389.8 L338.7,390.1 L339.7,390.4 L340.7,390.7 L341.7,391.0 L342.7,391.3 L343.7,391.6 L344.7,391.9 L345.7,392.2 L346.7,392.5 L347.7,392.9 L348.7,393.2 L349.7,393.5 L350.7,393.8 L351.7,394.2 L352.7,394.5 L353.7,394.9 L354.7,395.3 L355.7,395.7 L356.7,396.1 L357.7,396.6 L358.7,397.0 L359.7,397.6 L360.7,398.2 L361.7,398.8 L362.7,399.5 L363.7,400.2 L364.7,400.9 L365.7,401.7 L366.7,402.5 L367.7,403.3 L368.7,404.1 L369.7,404.9 L370.7,405.7 L371.7,406.5 L372.7,407.3 L373.7,408.1 L374.7,408.9 L375.7,409.6 L376.7,410.4 L377.7,411.2 L378.7,411.9 L379.7,412.7 L380.7,413.5 L381.7,414.3 L382.7,415.2 L383.7,416.1 L384.7,417.1 L385.7,418.2 L386.7,419.3 L387.7,420.5 L388.7,422.1 L389.7,424.0 L390.7,425.9 L391.7,427.7 L392.7,429.3 L393.7,430.6 L394.7,431.5 L395.7,432.4 L396.7,433.3 L397.7,434.0 L398.7,434.7 L399.7,435.2 L400.7,435.4 L401.7,435.5 L402.7,435.4 L403.7,435.2 L404.7,434.9 L405.7,434.5 L406.7,434.1 L407.7,433.6 L408.7,433.1 L409.7,432.3 L410.7,431.4 L411.7,430.3 L412.7,429.2 L413.7,428.2 L414.7,427.2 L415.7,426.5 L416.7,425.9 L417.7,425.5 L418.7,425.2 L419.7,424.9 L420.7,424.7 L421.7,424.5 L422.7,424.3 L423.7,424.1 L424.7,423.9 L425.7,423.7 L426.7,423.4 L427.7,423.1 L428.7,422.7 L429.7,422.1 L430.7,421.4 L431.7,420.6 L432.7,419.9 L433.7,419.2 L434.7,418.8 L435.7,418.5 L436.7,418.6 L437.7,418.9 L438.7,419.4 L439.7,420.1 L440.7,420.9 L441.7,421.8 L442.7,422.8 L443.7,423.7 L444.7,424.7 L445.7,425.8 L446.7,427.1 L447.7,428.7 L448.7,430.2 L449.7,431.7 L450.7,433.0 L451.7,433.8 L452.7,434.3 L453.7,434.7 L454.7,435.1 L455.7,435.4 L456.7,435.7 L457.7,435.9 L458.7,436.0" fill="none" stroke="#2424ff" stroke-width="1.1"/><path d="M334.7,393.0 L335.7,393.1 L336.7,393.3 L337.7,393.4 L338.7,393.6 L339.7,393.8 L340.7,394.0 L341.7,394.2 L342.7,394.4 L343.7,394.7 L344.7,394.9 L345.7,395.2 L346.7,395.5 L347.7,395.7 L348.7,396.0 L349.7,396.4 L350.7,396.7 L351.7,397.1 L352.7,397.4 L353.7,397.8 L354.7,398.2 L355.7,398.7 L356.7,399.1 L357.7,399.6 L358.7,400.0 L359.7,400.6 L360.7,401.1 L361.7,401.8 L362.7,402.4 L363.7,403.2 L364.7,403.9 L365.7,404.7 L366.7,405.4 L367.7,406.3 L368.7,407.1 L369.7,407.9 L370.7,408.7 L371.7,409.5 L372.7,410.3 L373.7,411.1 L374.7,411.9 L375.7,412.7 L376.7,413.4 L377.7,414.2 L378.7,415.0 L379.7,415.8 L380.7,416.6 L381.7,417.5 L382.7,418.3 L383.7,419.3 L384.7,420.3 L385.7,421.3 L386.7,422.5 L387.7,423.7 L388.7,425.4 L389.7,427.3 L390.7,429.2 L391.7,431.1 L392.7,432.7 L393.7,433.9 L394.7,434.7 L395.7,435.5 L396.7,436.2 L397.7,436.8 L398.7,437.3 L399.7,437.7 L400.7,438.0 L401.7,438.0 L402.7,437.9 L403.7,437.7 L404.7,437.4 L405.7,437.0 L406.7,436.6 L407.7,436.1 L408.7,435.6 L409.7,434.8 L410.7,433.9 L411.7,432.8 L412.7,431.7 L413.7,430.7 L414.7,429.7 L415.7,429.0 L416.7,428.4 L417.7,428.0 L418.7,427.7 L419.7,427.5 L420.7,427.3 L421.7,427.1 L422.7,427.0 L423.7,426.8 L424.7,426.7 L425.7,426.5 L426.7,426.3 L427.7,426.1 L428.7,425.7 L429.7,425.2 L430.7,424.6 L431.7,423.9 L432.7,423.3 L433.7,422.7 L434.7,422.2 L435.7,422.0 L436.7,422.1 L437.7,422.3 L438.7,422.8 L439.7,423.4 L440.7,424.2 L441.7,425.0 L442.7,425.9 L443.7,426.8 L444.7,427.7 L445.7,428.7 L446.7,430.1 L447.7,431.7 L448.7,433.4 L449.7,434.9 L450.7,436.1 L451.7,436.9 L452.7,437.2 L453.7,437.4 L454.7,437.6 L455.7,437.7 L456.7,437.8 L457.7,437.9 L458.7,438.0" fill="none" stroke="#2424ff" stroke-width="1.1"/><path d="M338.0,447.0 L339.0,444.4 L340.0,442.0 L341.0,439.8 L342.0,438.1 L343.0,436.9 L344.0,436.0 L345.0,435.3 L346.0,434.6 L347.0,433.9 L348.0,433.4 L349.0,432.9 L350.0,432.5 L351.0,432.2 L352.0,432.0 L353.0,431.8 L354.0,431.6 L355.0,431.4 L356.0,431.3 L357.0,431.1 L358.0,431.0 L359.0,430.9 L360.0,430.8 L361.0,430.8 L362.0,430.7 L363.0,430.7 L364.0,430.8 L365.0,430.9 L366.0,431.2 L367.0,431.5 L368.0,432.0 L369.0,432.4 L370.0,432.9 L371.0,433.5 L372.0,434.0 L373.0,434.6 L374.0,435.4 L375.0,436.4 L376.0,437.5 L377.0,438.7 L378.0,440.0 L379.0,441.6 L380.0,443.7 L381.0,446.0" fill="none" stroke="#2424ff" stroke-width="1.1"/><path d="M338.0,447.0 L339.0,445.0 L340.0,443.1 L341.0,441.3 L342.0,439.9 L343.0,438.9 L344.0,438.2 L345.0,437.5 L346.0,436.8 L347.0,436.3 L348.0,435.8 L349.0,435.4 L350.0,435.0 L351.0,434.7 L352.0,434.5 L353.0,434.3 L354.0,434.1 L355.0,434.0 L356.0,433.8 L357.0,433.6 L358.0,433.5 L359.0,433.4 L360.0,433.3 L361.0,433.3 L362.0,433.2 L363.0,433.2 L364.0,433.3 L365.0,433.4 L366.0,433.7 L367.0,434.1 L368.0,434.5 L369.0,434.9 L370.0,435.4 L371.0,436.0 L372.0,436.5 L373.0,437.1 L374.0,437.9 L375.0,438.8 L376.0,439.8 L377.0,440.9 L378.0,442.0 L379.0,443.3 L380.0,444.7 L381.0,446.3" fill="none" stroke="#2424ff" stroke-width="1.1"/><path d="M338.0,447.0 L339.0,445.5 L340.0,444.1 L341.0,442.8 L342.0,441.7 L343.0,440.9 L344.0,440.3 L345.0,439.7 L346.0,439.1 L347.0,438.6 L348.0,438.2 L349.0,437.8 L350.0,437.5 L351.0,437.2 L352.0,437.0 L353.0,436.8 L354.0,436.6 L355.0,436.5 L356.0,436.3 L357.0,436.2 L358.0,436.0 L359.0,435.9 L360.0,435.8 L361.0,435.8 L362.0,435.7 L363.0,435.7 L364.0,435.8 L365.0,436.0 L366.0,436.2 L367.0,436.6 L368.0,437.0 L369.0,437.5 L370.0,438.0 L371.0,438.5 L372.0,439.0 L373.0,439.6 L374.0,440.4 L375.0,441.2 L376.0,442.2 L377.0,443.1 L378.0,444.0 L379.0,444.9 L380.0,445.7 L381.0,446.6" fill="none" stroke="#2424ff" stroke-width="1.1"/><path d="M338.0,447.0 L339.0,446.0 L340.0,445.1 L341.0,444.3 L342.0,443.6 L343.0,442.9 L344.0,442.4 L345.0,441.9 L346.0,441.5 L347.0,441.0 L348.0,440.6 L349.0,440.3 L350.0,440.0 L351.0,439.7 L352.0,439.5 L353.0,439.3 L354.0,439.1 L355.0,439.0 L356.0,438.8 L357.0,438.7 L358.0,438.5 L359.0,438.4 L360.0,438.3 L361.0,438.3 L362.0,438.2 L363.0,438.2 L364.0,438.3 L365.0,438.5 L366.0,438.7 L367.0,439.1 L368.0,439.5 L369.0,440.0 L370.0,440.5 L371.0,441.0 L372.0,441.5 L373.0,442.1 L374.0,442.9 L375.0,443.8 L376.0,444.7 L377.0,445.5 L378.0,446.0 L379.0,446.4 L380.0,446.7 L381.0,446.9" fill="none" stroke="#2424ff" stroke-width="1.1"/><path d="M392.0,428.0 L393.0,428.9 L394.0,429.8 L395.0,430.7 L396.0,431.6 L397.0,432.4 L398.0,433.2 L399.0,433.9 L400.0,434.6 L401.0,435.2 L402.0,435.8 L403.0,436.4 L404.0,436.9 L405.0,437.4 L406.0,437.9 L407.0,438.4 L408.0,438.8 L409.0,439.3 L410.0,439.7 L411.0,440.0 L412.0,440.3 L413.0,440.6 L414.0,440.8 L415.0,441.0 L416.0,441.1 L417.0,441.3 L418.0,441.4 L419.0,441.5 L420.0,441.6 L421.0,441.7 L422.0,441.8 L423.0,441.8 L424.0,441.9 L425.0,441.9 L426.0,442.0 L427.0,442.0 L428.0,442.0 L429.0,441.9 L430.0,441.8 L431.0,441.7 L432.0,441.5 L433.0,441.2 L434.0,441.0 L435.0,440.7 L436.0,440.5 L437.0,440.3 L438.0,440.1 L439.0,440.0 L440.0,440.0 L441.0,440.0 L442.0,440.1 L443.0,440.2 L444.0,440.4 L445.0,440.5 L446.0,440.6 L447.0,440.8 L448.0,440.9 L449.0,441.0 L450.0,441.0 L451.0,441.0 L452.0,440.9 L453.0,440.8 L454.0,440.6 L455.0,440.4 L456.0,440.1 L457.0,439.8 L458.0,439.5 L459.0,439.2" fill="none" stroke="#2424ff" stroke-width="1.1"/><path d="M392.0,431.0 L393.0,431.9 L394.0,432.7 L395.0,433.6 L396.0,434.4 L397.0,435.2 L398.0,435.9 L399.0,436.6 L400.0,437.2 L401.0,437.9 L402.0,438.4 L403.0,438.9 L404.0,439.4 L405.0,439.8 L406.0,440.3 L407.0,440.7 L408.0,441.1 L409.0,441.5 L410.0,441.8 L411.0,442.1 L412.0,442.4 L413.0,442.6 L414.0,442.8 L415.0,443.0 L416.0,443.1 L417.0,443.2 L418.0,443.4 L419.0,443.5 L420.0,443.6 L421.0,443.7 L422.0,443.8 L423.0,443.8 L424.0,443.9 L425.0,443.9 L426.0,444.0 L427.0,444.0 L428.0,444.0 L429.0,444.0 L430.0,443.9 L431.0,443.7 L432.0,443.6 L433.0,443.4 L434.0,443.2 L435.0,443.0 L436.0,442.9 L437.0,442.7 L438.0,442.6 L439.0,442.5 L440.0,442.5 L441.0,442.5 L442.0,442.6 L443.0,442.6 L444.0,442.7 L445.0,442.8 L446.0,442.8 L447.0,442.9 L448.0,442.9 L449.0,443.0 L450.0,443.0 L451.0,443.0 L452.0,442.9 L453.0,442.8 L454.0,442.7 L455.0,442.5 L456.0,442.3 L457.0,442.1 L458.0,441.9 L459.0,441.6" fill="none" stroke="#2424ff" stroke-width="1.1"/><path d="M392.0,434.0 L393.0,434.8 L394.0,435.7 L395.0,436.5 L396.0,437.2 L397.0,437.9 L398.0,438.6 L399.0,439.3 L400.0,439.9 L401.0,440.5 L402.0,441.0 L403.0,441.4 L404.0,441.8 L405.0,442.2 L406.0,442.6 L407.0,443.0 L408.0,443.3 L409.0,443.6 L410.0,443.9 L411.0,444.2 L412.0,444.5 L413.0,444.7 L414.0,444.9 L415.0,445.0 L416.0,445.1 L417.0,445.2 L418.0,445.4 L419.0,445.5 L420.0,445.6 L421.0,445.7 L422.0,445.7 L423.0,445.8 L424.0,445.9 L425.0,445.9 L426.0,446.0 L427.0,446.0 L428.0,446.0 L429.0,446.0 L430.0,445.9 L431.0,445.8 L432.0,445.7 L433.0,445.6 L434.0,445.5 L435.0,445.4 L436.0,445.3 L437.0,445.2 L438.0,445.1 L439.0,445.0 L440.0,445.0 L441.0,445.0 L442.0,445.0 L443.0,445.0 L444.0,445.0 L445.0,445.0 L446.0,445.0 L447.0,445.0 L448.0,445.0 L449.0,445.0 L450.0,445.0 L451.0,445.0 L452.0,444.9 L453.0,444.9 L454.0,444.8 L455.0,444.7 L456.0,444.5 L457.0,444.4 L458.0,444.2 L459.0,444.1" fill="none" stroke="#2424ff" stroke-width="1.1"/><path d="M262.5,429.0 L263.5,428.9 L264.5,428.9 L265.5,428.8 L266.5,428.8 L267.5,428.7 L268.5,428.7 L269.5,428.7 L270.5,428.6 L271.5,428.6 L272.5,428.6 L273.5,428.6 L274.5,428.5 L275.5,428.5 L276.5,428.5 L277.5,428.5 L278.5,428.5 L279.5,428.5 L280.5,428.5 L281.5,428.5 L282.5,428.5 L283.5,428.5 L284.5,428.5 L285.5,428.5 L286.5,428.6 L287.5,428.6 L288.5,428.6 L289.5,428.6 L290.5,428.7 L291.5,428.7 L292.5,428.7 L293.5,428.8 L294.5,428.8 L295.5,428.9 L296.5,428.9 L297.5,429.0 L298.5,429.1 L299.5,429.3 L300.5,429.6 L301.5,429.9 L302.5,430.2 L303.5,430.4 L304.5,430.5 L305.5,430.6 L306.5,430.7 L307.5,430.8 L308.5,430.8 L309.5,430.9 L310.5,430.9 L311.5,430.9 L312.5,431.0 L313.5,431.0 L314.5,431.0 L315.5,431.0 L316.5,431.0 L317.5,430.9 L318.5,430.8 L319.5,430.7 L320.5,430.6 L321.5,430.5 L322.5,430.4 L323.5,430.3 L324.5,430.2 L325.5,430.1 L326.5,429.9 L327.5,429.8 L328.5,429.7 L329.5,429.5 L330.5,429.4 L331.5,429.2 L332.5,429.1 L333.5,429.0 L334.5,429.0 L335.5,429.2 L336.5,429.9 L337.5,430.6 L338.5,431.3 L339.5,432.0 L340.5,432.7" fill="none" stroke="#2424ff" stroke-width="1.1"/><path d="M262.5,431.7 L263.5,431.6 L264.5,431.6 L265.5,431.5 L266.5,431.5 L267.5,431.4 L268.5,431.4 L269.5,431.4 L270.5,431.3 L271.5,431.3 L272.5,431.3 L273.5,431.3 L274.5,431.2 L275.5,431.2 L276.5,431.2 L277.5,431.2 L278.5,431.2 L279.5,431.2 L280.5,431.2 L281.5,431.2 L282.5,431.2 L283.5,431.2 L284.5,431.2 L285.5,431.2 L286.5,431.3 L287.5,431.3 L288.5,431.3 L289.5,431.3 L290.5,431.4 L291.5,431.4 L292.5,431.4 L293.5,431.5 L294.5,431.5 L295.5,431.6 L296.5,431.6 L297.5,431.7 L298.5,431.8 L299.5,432.0 L300.5,432.4 L301.5,432.8 L302.5,433.2 L303.5,433.5 L304.5,433.5 L305.5,433.6 L306.5,433.6 L307.5,433.6 L308.5,433.6 L309.5,433.7 L310.5,433.7 L311.5,433.7 L312.5,433.7 L313.5,433.7 L314.5,433.7 L315.5,433.7 L316.5,433.7 L317.5,433.6 L318.5,433.5 L319.5,433.4 L320.5,433.3 L321.5,433.2 L322.5,433.1 L323.5,433.0 L324.5,432.9 L325.5,432.7 L326.5,432.7 L327.5,432.5 L328.5,432.4 L329.5,432.3 L330.5,432.2 L331.5,432.1 L332.5,432.0 L333.5,431.9 L334.5,431.9 L335.5,432.1 L336.5,432.7 L337.5,433.4 L338.5,434.0 L339.5,434.7 L340.5,435.3" fill="none" stroke="#2424ff" stroke-width="1.1"/><path d="M262.5,434.4 L263.5,434.3 L264.5,434.3 L265.5,434.2 L266.5,434.2 L267.5,434.1 L268.5,434.1 L269.5,434.1 L270.5,434.0 L271.5,434.0 L272.5,434.0 L273.5,434.0 L274.5,433.9 L275.5,433.9 L276.5,433.9 L277.5,433.9 L278.5,433.9 L279.5,433.9 L280.5,433.9 L281.5,433.9 L282.5,433.9 L283.5,433.9 L284.5,433.9 L285.5,433.9 L286.5,434.0 L287.5,434.0 L288.5,434.0 L289.5,434.0 L290.5,434.1 L291.5,434.1 L292.5,434.1 L293.5,434.2 L294.5,434.2 L295.5,434.3 L296.5,434.3 L297.5,434.4 L298.5,434.5 L299.5,434.8 L300.5,435.2 L301.5,435.7 L302.5,436.2 L303.5,436.5 L304.5,436.5 L305.5,436.5 L306.5,436.5 L307.5,436.5 L308.5,436.5 L309.5,436.5 L310.5,436.5 L311.5,436.4 L312.5,436.4 L313.5,436.4 L314.5,436.4 L315.5,436.4 L316.5,436.3 L317.5,436.3 L318.5,436.2 L319.5,436.1 L320.5,436.0 L321.5,435.9 L322.5,435.8 L323.5,435.6 L324.5,435.5 L325.5,435.4 L326.5,435.4 L327.5,435.3 L328.5,435.2 L329.5,435.1 L330.5,435.0 L331.5,434.9 L332.5,434.9 L333.5,434.8 L334.5,434.8 L335.5,435.0 L336.5,435.5 L337.5,436.1 L338.5,436.7 L339.5,437.3 L340.5,438.0" fill="none" stroke="#2424ff" stroke-width="1.1"/><path d="M262.5,437.1 L263.5,437.0 L264.5,437.0 L265.5,436.9 L266.5,436.9 L267.5,436.8 L268.5,436.8 L269.5,436.8 L270.5,436.7 L271.5,436.7 L272.5,436.7 L273.5,436.7 L274.5,436.6 L275.5,436.6 L276.5,436.6 L277.5,436.6 L278.5,436.6 L279.5,436.6 L280.5,436.6 L281.5,436.6 L282.5,436.6 L283.5,436.6 L284.5,436.6 L285.5,436.6 L286.5,436.7 L287.5,436.7 L288.5,436.7 L289.5,436.7 L290.5,436.8 L291.5,436.8 L292.5,436.8 L293.5,436.9 L294.5,436.9 L295.5,437.0 L296.5,437.0 L297.5,437.1 L298.5,437.2 L299.5,437.5 L300.5,438.1 L301.5,438.6 L302.5,439.1 L303.5,439.5 L304.5,439.5 L305.5,439.5 L306.5,439.5 L307.5,439.4 L308.5,439.4 L309.5,439.4 L310.5,439.3 L311.5,439.3 L312.5,439.2 L313.5,439.2 L314.5,439.1 L315.5,439.1 L316.5,439.0 L317.5,438.9 L318.5,438.8 L319.5,438.7 L320.5,438.6 L321.5,438.5 L322.5,438.4 L323.5,438.3 L324.5,438.2 L325.5,438.1 L326.5,438.1 L327.5,438.0 L328.5,437.9 L329.5,437.9 L330.5,437.8 L331.5,437.8 L332.5,437.7 L333.5,437.7 L334.5,437.7 L335.5,437.8 L336.5,438.3 L337.5,438.8 L338.5,439.4 L339.5,440.0 L340.5,440.7" fill="none" stroke="#2424ff" stroke-width="1.1"/><path d="M262.5,439.8 L263.5,439.7 L264.5,439.7 L265.5,439.6 L266.5,439.6 L267.5,439.5 L268.5,439.5 L269.5,439.5 L270.5,439.4 L271.5,439.4 L272.5,439.4 L273.5,439.4 L274.5,439.3 L275.5,439.3 L276.5,439.3 L277.5,439.3 L278.5,439.3 L279.5,439.3 L280.5,439.3 L281.5,439.3 L282.5,439.3 L283.5,439.3 L284.5,439.3 L285.5,439.3 L286.5,439.4 L287.5,439.4 L288.5,439.4 L289.5,439.4 L290.5,439.5 L291.5,439.5 L292.5,439.5 L293.5,439.6 L294.5,439.6 L295.5,439.7 L296.5,439.7 L297.5,439.8 L298.5,439.9 L299.5,440.3 L300.5,440.9 L301.5,441.5 L302.5,442.1 L303.5,442.4 L304.5,442.5 L305.5,442.5 L306.5,442.4 L307.5,442.4 L308.5,442.3 L309.5,442.2 L310.5,442.2 L311.5,442.1 L312.5,442.0 L313.5,441.9 L314.5,441.8 L315.5,441.8 L316.5,441.7 L317.5,441.6 L318.5,441.5 L319.5,441.3 L320.5,441.2 L321.5,441.1 L322.5,441.0 L323.5,441.0 L324.5,440.9 L325.5,440.8 L326.5,440.8 L327.5,440.7 L328.5,440.7 L329.5,440.7 L330.5,440.7 L331.5,440.6 L332.5,440.6 L333.5,440.6 L334.5,440.6 L335.5,440.7 L336.5,441.1 L337.5,441.6 L338.5,442.1 L339.5,442.7 L340.5,443.4" fill="none" stroke="#2424ff" stroke-width="1.1"/><path d="M262.5,442.5 L263.5,442.4 L264.5,442.4 L265.5,442.3 L266.5,442.3 L267.5,442.2 L268.5,442.2 L269.5,442.2 L270.5,442.1 L271.5,442.1 L272.5,442.1 L273.5,442.1 L274.5,442.0 L275.5,442.0 L276.5,442.0 L277.5,442.0 L278.5,442.0 L279.5,442.0 L280.5,442.0 L281.5,442.0 L282.5,442.0 L283.5,442.0 L284.5,442.0 L285.5,442.0 L286.5,442.1 L287.5,442.1 L288.5,442.1 L289.5,442.1 L290.5,442.2 L291.5,442.2 L292.5,442.2 L293.5,442.3 L294.5,442.3 L295.5,442.4 L296.5,442.4 L297.5,442.5 L298.5,442.6 L299.5,443.0 L300.5,443.7 L301.5,444.4 L302.5,445.0 L303.5,445.4 L304.5,445.5 L305.5,445.5 L306.5,445.4 L307.5,445.3 L308.5,445.2 L309.5,445.1 L310.5,445.0 L311.5,444.9 L312.5,444.8 L313.5,444.6 L314.5,444.5 L315.5,444.4 L316.5,444.3 L317.5,444.2 L318.5,444.1 L319.5,444.0 L320.5,443.9 L321.5,443.8 L322.5,443.7 L323.5,443.6 L324.5,443.5 L325.5,443.5 L326.5,443.5 L327.5,443.5 L328.5,443.5 L329.5,443.5 L330.5,443.5 L331.5,443.5 L332.5,443.5 L333.5,443.5 L334.5,443.5 L335.5,443.6 L336.5,443.9 L337.5,444.3 L338.5,444.7 L339.5,445.3 L340.5,446.1" fill="none" stroke="#2424ff" stroke-width="1.1"/><path d="M262.5,445.2 L263.5,445.1 L264.5,445.1 L265.5,445.0 L266.5,445.0 L267.5,444.9 L268.5,444.9 L269.5,444.9 L270.5,444.8 L271.5,444.8 L272.5,444.8 L273.5,444.8 L274.5,444.7 L275.5,444.7 L276.5,444.7 L277.5,444.7 L278.5,444.7 L279.5,444.7 L280.5,444.7 L281.5,444.7 L282.5,444.7 L283.5,444.7 L284.5,444.7 L285.5,444.7 L286.5,444.8 L287.5,444.8 L288.5,444.8 L289.5,444.8 L290.5,444.9 L291.5,444.9 L292.5,444.9 L293.5,445.0 L294.5,445.0 L295.5,445.1 L296.5,445.1 L297.5,445.2 L298.5,445.3 L299.5,445.8 L300.5,446.5 L301.5,447.3 L302.5,448.0 L303.5,448.4 L304.5,448.5 L305.5,448.5 L306.5,448.4 L307.5,448.3 L308.5,448.1 L309.5,448.0 L310.5,447.8 L311.5,447.7 L312.5,447.5 L313.5,447.4 L314.5,447.2 L315.5,447.1 L316.5,447.0 L317.5,446.9 L318.5,446.8 L319.5,446.7 L320.5,446.6 L321.5,446.4 L322.5,446.4 L323.5,446.3 L324.5,446.2 L325.5,446.2 L326.5,446.2 L327.5,446.2 L328.5,446.2 L329.5,446.2 L330.5,446.3 L331.5,446.3 L332.5,446.3 L333.5,446.3 L334.5,446.4 L335.5,446.5 L336.5,446.7 L337.5,447.0 L338.5,447.4 L339.5,448.0 L340.5,448.8" fill="none" stroke="#2424ff" stroke-width="1.1"/><g fill="#ff1a1a" transform="translate(0,0.6)"><circle cx="262.5" cy="287.5" r="1.12"/><circle cx="265.8" cy="286.1" r="1.12"/><circle cx="269.1" cy="284.8" r="1.12"/><circle cx="272.4" cy="283.7" r="1.12"/><circle cx="275.7" cy="282.7" r="1.12"/><circle cx="279.0" cy="281.7" r="1.12"/><circle cx="282.3" cy="280.9" r="1.12"/><circle cx="285.6" cy="280.7" r="1.12"/><circle cx="288.9" cy="281.0" r="1.12"/><circle cx="292.2" cy="281.5" r="1.12"/><circle cx="295.5" cy="282.3" r="1.12"/><circle cx="298.8" cy="283.5" r="1.12"/><circle cx="302.1" cy="285.6" r="1.12"/><circle cx="305.4" cy="288.4" r="1.12"/><circle cx="308.7" cy="292.9" r="1.12"/><circle cx="312.0" cy="298.9" r="1.12"/><circle cx="315.3" cy="306.6" r="1.12"/><circle cx="318.6" cy="315.5" r="1.12"/><circle cx="321.9" cy="325.6" r="1.12"/><circle cx="325.2" cy="335.7" r="1.12"/><circle cx="328.5" cy="345.6" r="1.12"/><circle cx="331.8" cy="354.9" r="1.12"/><circle cx="335.1" cy="354.9" r="1.12"/><circle cx="338.4" cy="349.8" r="1.12"/><circle cx="341.7" cy="342.4" r="1.12"/><circle cx="345.0" cy="334.1" r="1.12"/><circle cx="348.3" cy="325.1" r="1.12"/><circle cx="351.6" cy="317.5" r="1.12"/><circle cx="354.9" cy="310.3" r="1.12"/><circle cx="358.2" cy="302.0" r="1.12"/><circle cx="361.5" cy="292.6" r="1.12"/><circle cx="364.8" cy="283.1" r="1.12"/><circle cx="368.1" cy="276.8" r="1.12"/><circle cx="262.5" cy="290.3" r="1.12"/><circle cx="265.8" cy="289.3" r="1.12"/><circle cx="269.1" cy="288.4" r="1.12"/><circle cx="272.4" cy="287.6" r="1.12"/><circle cx="275.7" cy="286.9" r="1.12"/><circle cx="279.0" cy="286.2" r="1.12"/><circle cx="282.3" cy="285.7" r="1.12"/><circle cx="285.6" cy="285.5" r="1.12"/><circle cx="288.9" cy="285.9" r="1.12"/><circle cx="292.2" cy="286.6" r="1.12"/><circle cx="295.5" cy="287.5" r="1.12"/><circle cx="298.8" cy="288.8" r="1.12"/><circle cx="302.1" cy="290.7" r="1.12"/><circle cx="305.4" cy="293.4" r="1.12"/><circle cx="308.7" cy="298.0" r="1.12"/><circle cx="312.0" cy="303.8" r="1.12"/><circle cx="315.3" cy="310.2" r="1.12"/><circle cx="318.6" cy="318.0" r="1.12"/><circle cx="321.9" cy="327.3" r="1.12"/><circle cx="325.2" cy="336.8" r="1.12"/><circle cx="328.5" cy="346.6" r="1.12"/><circle cx="331.8" cy="356.3" r="1.12"/><circle cx="335.1" cy="357.9" r="1.12"/><circle cx="338.4" cy="352.6" r="1.12"/><circle cx="341.7" cy="345.0" r="1.12"/><circle cx="345.0" cy="336.3" r="1.12"/><circle cx="348.3" cy="327.1" r="1.12"/><circle cx="351.6" cy="319.5" r="1.12"/><circle cx="354.9" cy="312.7" r="1.12"/><circle cx="358.2" cy="304.9" r="1.12"/><circle cx="361.5" cy="296.2" r="1.12"/><circle cx="364.8" cy="287.4" r="1.12"/><circle cx="368.1" cy="280.1" r="1.12"/><circle cx="371.4" cy="275.1" r="1.12"/><circle cx="262.5" cy="294.5" r="1.12"/><circle cx="265.8" cy="294.1" r="1.12"/><circle cx="269.1" cy="293.8" r="1.12"/><circle cx="272.4" cy="293.6" r="1.12"/><circle cx="275.7" cy="293.2" r="1.12"/><circle cx="279.0" cy="292.9" r="1.12"/><circle cx="282.3" cy="292.6" r="1.12"/><circle cx="285.6" cy="292.5" r="1.12"/><circle cx="288.9" cy="292.9" r="1.12"/><circle cx="292.2" cy="293.8" r="1.12"/><circle cx="295.5" cy="294.8" r="1.12"/><circle cx="298.8" cy="296.2" r="1.12"/><circle cx="302.1" cy="298.3" r="1.12"/><circle cx="305.4" cy="300.8" r="1.12"/><circle cx="308.7" cy="304.4" r="1.12"/><circle cx="312.0" cy="309.0" r="1.12"/><circle cx="315.3" cy="314.7" r="1.12"/><circle cx="318.6" cy="321.5" r="1.12"/><circle cx="321.9" cy="329.6" r="1.12"/><circle cx="325.2" cy="338.5" r="1.12"/><circle cx="328.5" cy="348.0" r="1.12"/><circle cx="331.8" cy="358.2" r="1.12"/><circle cx="335.1" cy="361.4" r="1.12"/><circle cx="338.4" cy="355.9" r="1.12"/><circle cx="341.7" cy="347.9" r="1.12"/><circle cx="345.0" cy="338.9" r="1.12"/><circle cx="348.3" cy="329.4" r="1.12"/><circle cx="351.6" cy="321.8" r="1.12"/><circle cx="354.9" cy="315.1" r="1.12"/><circle cx="358.2" cy="307.7" r="1.12"/><circle cx="361.5" cy="299.7" r="1.12"/><circle cx="364.8" cy="291.4" r="1.12"/><circle cx="368.1" cy="283.5" r="1.12"/><circle cx="371.4" cy="277.8" r="1.12"/><circle cx="262.5" cy="299.0" r="1.12"/><circle cx="265.8" cy="298.8" r="1.12"/><circle cx="269.1" cy="298.7" r="1.12"/><circle cx="272.4" cy="298.5" r="1.12"/><circle cx="275.7" cy="298.4" r="1.12"/><circle cx="279.0" cy="298.2" r="1.12"/><circle cx="282.3" cy="298.0" r="1.12"/><circle cx="285.6" cy="298.0" r="1.12"/><circle cx="288.9" cy="298.5" r="1.12"/><circle cx="292.2" cy="299.6" r="1.12"/><circle cx="295.5" cy="300.8" r="1.12"/><circle cx="298.8" cy="302.2" r="1.12"/><circle cx="302.1" cy="304.0" r="1.12"/><circle cx="305.4" cy="306.3" r="1.12"/><circle cx="308.7" cy="309.4" r="1.12"/><circle cx="312.0" cy="313.2" r="1.12"/><circle cx="315.3" cy="318.1" r="1.12"/><circle cx="318.6" cy="324.1" r="1.12"/><circle cx="321.9" cy="331.8" r="1.12"/><circle cx="325.2" cy="340.2" r="1.12"/><circle cx="328.5" cy="349.5" r="1.12"/><circle cx="331.8" cy="360.1" r="1.12"/><circle cx="335.1" cy="364.3" r="1.12"/><circle cx="338.4" cy="358.7" r="1.12"/><circle cx="341.7" cy="350.4" r="1.12"/><circle cx="345.0" cy="341.1" r="1.12"/><circle cx="348.3" cy="331.4" r="1.12"/><circle cx="351.6" cy="323.7" r="1.12"/><circle cx="354.9" cy="317.3" r="1.12"/><circle cx="358.2" cy="310.2" r="1.12"/><circle cx="361.5" cy="302.7" r="1.12"/><circle cx="364.8" cy="294.9" r="1.12"/><circle cx="368.1" cy="287.2" r="1.12"/><circle cx="371.4" cy="280.8" r="1.12"/><circle cx="374.7" cy="276.0" r="1.12"/><circle cx="262.5" cy="303.5" r="1.12"/><circle cx="265.8" cy="303.5" r="1.12"/><circle cx="269.1" cy="303.5" r="1.12"/><circle cx="272.4" cy="303.5" r="1.12"/><circle cx="275.7" cy="303.5" r="1.12"/><circle cx="279.0" cy="303.5" r="1.12"/><circle cx="282.3" cy="303.5" r="1.12"/><circle cx="285.6" cy="303.5" r="1.12"/><circle cx="288.9" cy="304.2" r="1.12"/><circle cx="292.2" cy="305.4" r="1.12"/><circle cx="295.5" cy="306.8" r="1.12"/><circle cx="298.8" cy="308.1" r="1.12"/><circle cx="302.1" cy="309.5" r="1.12"/><circle cx="305.4" cy="311.2" r="1.12"/><circle cx="308.7" cy="313.8" r="1.12"/><circle cx="312.0" cy="317.1" r="1.12"/><circle cx="315.3" cy="321.4" r="1.12"/><circle cx="318.6" cy="326.9" r="1.12"/><circle cx="321.9" cy="334.0" r="1.12"/><circle cx="325.2" cy="341.9" r="1.12"/><circle cx="328.5" cy="351.0" r="1.12"/><circle cx="331.8" cy="362.0" r="1.12"/><circle cx="335.1" cy="367.3" r="1.12"/><circle cx="338.4" cy="361.5" r="1.12"/><circle cx="341.7" cy="353.0" r="1.12"/><circle cx="345.0" cy="343.3" r="1.12"/><circle cx="348.3" cy="333.4" r="1.12"/><circle cx="351.6" cy="325.7" r="1.12"/><circle cx="354.9" cy="319.4" r="1.12"/><circle cx="358.2" cy="312.6" r="1.12"/><circle cx="361.5" cy="305.5" r="1.12"/><circle cx="364.8" cy="298.0" r="1.12"/><circle cx="368.1" cy="290.7" r="1.12"/><circle cx="371.4" cy="283.9" r="1.12"/><circle cx="374.7" cy="278.7" r="1.12"/><circle cx="378.0" cy="274.5" r="1.12"/><circle cx="262.5" cy="308.0" r="1.12"/><circle cx="265.8" cy="308.0" r="1.12"/><circle cx="269.1" cy="308.0" r="1.12"/><circle cx="272.4" cy="308.0" r="1.12"/><circle cx="275.7" cy="308.1" r="1.12"/><circle cx="279.0" cy="308.3" r="1.12"/><circle cx="282.3" cy="308.6" r="1.12"/><circle cx="285.6" cy="309.1" r="1.12"/><circle cx="288.9" cy="310.2" r="1.12"/><circle cx="292.2" cy="311.7" r="1.12"/><circle cx="295.5" cy="313.1" r="1.12"/><circle cx="298.8" cy="314.1" r="1.12"/><circle cx="302.1" cy="315.0" r="1.12"/><circle cx="305.4" cy="316.2" r="1.12"/><circle cx="308.7" cy="318.2" r="1.12"/><circle cx="312.0" cy="320.9" r="1.12"/><circle cx="315.3" cy="324.7" r="1.12"/><circle cx="318.6" cy="329.6" r="1.12"/><circle cx="321.9" cy="336.1" r="1.12"/><circle cx="325.2" cy="343.6" r="1.12"/><circle cx="328.5" cy="352.5" r="1.12"/><circle cx="331.8" cy="363.4" r="1.12"/><circle cx="335.1" cy="370.4" r="1.12"/><circle cx="338.4" cy="364.4" r="1.12"/><circle cx="341.7" cy="355.6" r="1.12"/><circle cx="345.0" cy="345.6" r="1.12"/><circle cx="348.3" cy="335.5" r="1.12"/><circle cx="351.6" cy="327.7" r="1.12"/><circle cx="354.9" cy="321.5" r="1.12"/><circle cx="358.2" cy="315.0" r="1.12"/><circle cx="361.5" cy="308.2" r="1.12"/><circle cx="364.8" cy="301.0" r="1.12"/><circle cx="368.1" cy="294.0" r="1.12"/><circle cx="371.4" cy="287.2" r="1.12"/><circle cx="374.7" cy="281.5" r="1.12"/><circle cx="378.0" cy="276.8" r="1.12"/><circle cx="312.0" cy="277.8" r="1.12"/><circle cx="315.3" cy="281.9" r="1.12"/><circle cx="318.6" cy="284.3" r="1.12"/><circle cx="321.9" cy="285.5" r="1.12"/><circle cx="325.2" cy="284.1" r="1.12"/><circle cx="328.5" cy="281.6" r="1.12"/><circle cx="331.8" cy="277.9" r="1.12"/><circle cx="335.1" cy="276.0" r="1.12"/><circle cx="338.4" cy="279.0" r="1.12"/><circle cx="341.7" cy="282.7" r="1.12"/><circle cx="345.0" cy="285.8" r="1.12"/><circle cx="348.3" cy="286.3" r="1.12"/><circle cx="351.6" cy="284.8" r="1.12"/><circle cx="354.9" cy="282.6" r="1.12"/><circle cx="358.2" cy="278.9" r="1.12"/><circle cx="361.5" cy="273.7" r="1.12"/><circle cx="312.0" cy="279.2" r="1.12"/><circle cx="315.3" cy="283.7" r="1.12"/><circle cx="318.6" cy="286.0" r="1.12"/><circle cx="321.9" cy="287.1" r="1.12"/><circle cx="325.2" cy="285.7" r="1.12"/><circle cx="328.5" cy="283.1" r="1.12"/><circle cx="331.8" cy="279.2" r="1.12"/><circle cx="335.1" cy="277.3" r="1.12"/><circle cx="338.4" cy="280.4" r="1.12"/><circle cx="341.7" cy="284.2" r="1.12"/><circle cx="345.0" cy="287.4" r="1.12"/><circle cx="348.3" cy="287.9" r="1.12"/><circle cx="351.6" cy="286.6" r="1.12"/><circle cx="354.9" cy="284.4" r="1.12"/><circle cx="358.2" cy="280.3" r="1.12"/><circle cx="361.5" cy="274.5" r="1.12"/><circle cx="312.0" cy="280.6" r="1.12"/><circle cx="315.3" cy="285.5" r="1.12"/><circle cx="318.6" cy="287.7" r="1.12"/><circle cx="321.9" cy="288.7" r="1.12"/><circle cx="325.2" cy="287.2" r="1.12"/><circle cx="328.5" cy="284.6" r="1.12"/><circle cx="331.8" cy="280.5" r="1.12"/><circle cx="335.1" cy="278.5" r="1.12"/><circle cx="338.4" cy="281.7" r="1.12"/><circle cx="341.7" cy="285.7" r="1.12"/><circle cx="345.0" cy="289.0" r="1.12"/><circle cx="348.3" cy="289.5" r="1.12"/><circle cx="351.6" cy="288.3" r="1.12"/><circle cx="354.9" cy="286.1" r="1.12"/><circle cx="358.2" cy="281.7" r="1.12"/><circle cx="361.5" cy="275.3" r="1.12"/><circle cx="312.0" cy="282.0" r="1.12"/><circle cx="315.3" cy="287.3" r="1.12"/><circle cx="318.6" cy="289.4" r="1.12"/><circle cx="321.9" cy="290.3" r="1.12"/><circle cx="325.2" cy="288.8" r="1.12"/><circle cx="328.5" cy="286.1" r="1.12"/><circle cx="331.8" cy="281.8" r="1.12"/><circle cx="335.1" cy="279.7" r="1.12"/><circle cx="338.4" cy="283.1" r="1.12"/><circle cx="341.7" cy="287.2" r="1.12"/><circle cx="345.0" cy="290.6" r="1.12"/><circle cx="348.3" cy="291.1" r="1.12"/><circle cx="351.6" cy="290.1" r="1.12"/><circle cx="354.9" cy="287.9" r="1.12"/><circle cx="358.2" cy="283.1" r="1.12"/><circle cx="361.5" cy="276.1" r="1.12"/><circle cx="434.1" cy="276.3" r="1.12"/><circle cx="437.4" cy="278.8" r="1.12"/><circle cx="440.7" cy="281.1" r="1.12"/><circle cx="444.0" cy="283.1" r="1.12"/><circle cx="447.3" cy="284.6" r="1.12"/><circle cx="450.6" cy="285.5" r="1.12"/><circle cx="453.9" cy="286.2" r="1.12"/><circle cx="457.2" cy="286.7" r="1.12"/><circle cx="437.4" cy="276.3" r="1.12"/><circle cx="440.7" cy="279.1" r="1.12"/><circle cx="444.0" cy="281.6" r="1.12"/><circle cx="447.3" cy="283.9" r="1.12"/><circle cx="450.6" cy="286.2" r="1.12"/><circle cx="453.9" cy="288.5" r="1.12"/><circle cx="457.2" cy="290.6" r="1.12"/><circle cx="440.7" cy="276.4" r="1.12"/><circle cx="444.0" cy="279.8" r="1.12"/><circle cx="447.3" cy="283.3" r="1.12"/><circle cx="450.6" cy="286.9" r="1.12"/><circle cx="453.9" cy="290.7" r="1.12"/><circle cx="457.2" cy="294.6" r="1.12"/><circle cx="444.0" cy="276.5" r="1.12"/><circle cx="447.3" cy="282.0" r="1.12"/><circle cx="450.6" cy="287.8" r="1.12"/><circle cx="453.9" cy="293.4" r="1.12"/><circle cx="457.2" cy="298.9" r="1.12"/><circle cx="447.3" cy="276.6" r="1.12"/><circle cx="450.6" cy="290.4" r="1.12"/><circle cx="453.9" cy="300.1" r="1.12"/><circle cx="457.2" cy="306.5" r="1.12"/><circle cx="447.3" cy="277.7" r="1.12"/><circle cx="450.6" cy="286.5" r="1.12"/><circle cx="453.9" cy="294.6" r="1.12"/><circle cx="457.2" cy="302.3" r="1.12"/><circle cx="262.5" cy="408.6" r="1.12"/><circle cx="265.8" cy="408.0" r="1.12"/><circle cx="269.1" cy="407.0" r="1.12"/><circle cx="272.4" cy="405.7" r="1.12"/><circle cx="275.7" cy="404.2" r="1.12"/><circle cx="279.0" cy="402.5" r="1.12"/><circle cx="282.3" cy="400.1" r="1.12"/><circle cx="285.6" cy="397.1" r="1.12"/><circle cx="288.9" cy="393.8" r="1.12"/><circle cx="292.2" cy="390.7" r="1.12"/><circle cx="295.5" cy="387.2" r="1.12"/><circle cx="298.8" cy="384.4" r="1.12"/><circle cx="302.1" cy="383.5" r="1.12"/><circle cx="305.4" cy="382.9" r="1.12"/><circle cx="308.7" cy="382.5" r="1.12"/><circle cx="312.0" cy="382.2" r="1.12"/><circle cx="315.3" cy="382.0" r="1.12"/><circle cx="318.6" cy="381.9" r="1.12"/><circle cx="321.9" cy="381.7" r="1.12"/><circle cx="325.2" cy="381.4" r="1.12"/><circle cx="328.5" cy="380.7" r="1.12"/><circle cx="331.8" cy="379.6" r="1.12"/><circle cx="262.5" cy="414.3" r="1.12"/><circle cx="265.8" cy="414.0" r="1.12"/><circle cx="269.1" cy="413.2" r="1.12"/><circle cx="272.4" cy="412.0" r="1.12"/><circle cx="275.7" cy="410.6" r="1.12"/><circle cx="279.0" cy="409.1" r="1.12"/><circle cx="282.3" cy="406.5" r="1.12"/><circle cx="285.6" cy="402.9" r="1.12"/><circle cx="288.9" cy="399.1" r="1.12"/><circle cx="292.2" cy="395.5" r="1.12"/><circle cx="295.5" cy="391.4" r="1.12"/><circle cx="298.8" cy="388.4" r="1.12"/><circle cx="302.1" cy="387.5" r="1.12"/><circle cx="305.4" cy="387.0" r="1.12"/><circle cx="308.7" cy="386.6" r="1.12"/><circle cx="312.0" cy="386.3" r="1.12"/><circle cx="315.3" cy="386.1" r="1.12"/><circle cx="318.6" cy="385.9" r="1.12"/><circle cx="321.9" cy="385.7" r="1.12"/><circle cx="325.2" cy="385.2" r="1.12"/><circle cx="328.5" cy="384.4" r="1.12"/><circle cx="331.8" cy="383.4" r="1.12"/><circle cx="262.5" cy="418.4" r="1.12"/><circle cx="265.8" cy="418.2" r="1.12"/><circle cx="269.1" cy="417.7" r="1.12"/><circle cx="272.4" cy="417.0" r="1.12"/><circle cx="275.7" cy="416.1" r="1.12"/><circle cx="279.0" cy="415.0" r="1.12"/><circle cx="282.3" cy="412.7" r="1.12"/><circle cx="285.6" cy="409.4" r="1.12"/><circle cx="288.9" cy="405.7" r="1.12"/><circle cx="292.2" cy="401.8" r="1.12"/><circle cx="295.5" cy="397.1" r="1.12"/><circle cx="298.8" cy="393.5" r="1.12"/><circle cx="302.1" cy="392.2" r="1.12"/><circle cx="305.4" cy="391.4" r="1.12"/><circle cx="308.7" cy="390.9" r="1.12"/><circle cx="312.0" cy="390.4" r="1.12"/><circle cx="315.3" cy="390.1" r="1.12"/><circle cx="318.6" cy="389.8" r="1.12"/><circle cx="321.9" cy="388.8" r="1.12"/><circle cx="325.2" cy="387.2" r="1.12"/><circle cx="328.5" cy="386.6" r="1.12"/><circle cx="331.8" cy="386.1" r="1.12"/><circle cx="262.5" cy="423.4" r="1.12"/><circle cx="265.8" cy="423.1" r="1.12"/><circle cx="269.1" cy="422.4" r="1.12"/><circle cx="272.4" cy="421.5" r="1.12"/><circle cx="275.7" cy="420.3" r="1.12"/><circle cx="279.0" cy="419.1" r="1.12"/><circle cx="282.3" cy="417.2" r="1.12"/><circle cx="285.6" cy="414.7" r="1.12"/><circle cx="288.9" cy="411.9" r="1.12"/><circle cx="292.2" cy="408.8" r="1.12"/><circle cx="295.5" cy="404.8" r="1.12"/><circle cx="298.8" cy="400.9" r="1.12"/><circle cx="302.1" cy="398.7" r="1.12"/><circle cx="305.4" cy="397.6" r="1.12"/><circle cx="308.7" cy="398.5" r="1.12"/><circle cx="312.0" cy="399.9" r="1.12"/><circle cx="315.3" cy="400.8" r="1.12"/><circle cx="318.6" cy="395.8" r="1.12"/><circle cx="321.9" cy="387.1" r="1.12"/><circle cx="325.2" cy="381.0" r="1.12"/><circle cx="262.5" cy="428.3" r="1.12"/><circle cx="265.8" cy="428.0" r="1.12"/><circle cx="269.1" cy="427.3" r="1.12"/><circle cx="272.4" cy="426.3" r="1.12"/><circle cx="275.7" cy="425.2" r="1.12"/><circle cx="279.0" cy="424.0" r="1.12"/><circle cx="282.3" cy="422.3" r="1.12"/><circle cx="285.6" cy="420.1" r="1.12"/><circle cx="288.9" cy="417.5" r="1.12"/><circle cx="292.2" cy="414.6" r="1.12"/><circle cx="295.5" cy="410.4" r="1.12"/><circle cx="298.8" cy="406.1" r="1.12"/><circle cx="302.1" cy="403.2" r="1.12"/><circle cx="305.4" cy="401.5" r="1.12"/><circle cx="308.7" cy="402.4" r="1.12"/><circle cx="312.0" cy="404.0" r="1.12"/><circle cx="315.3" cy="404.9" r="1.12"/><circle cx="318.6" cy="400.7" r="1.12"/><circle cx="321.9" cy="392.3" r="1.12"/><circle cx="325.2" cy="385.3" r="1.12"/><circle cx="262.5" cy="432.4" r="1.12"/><circle cx="265.8" cy="432.1" r="1.12"/><circle cx="269.1" cy="431.5" r="1.12"/><circle cx="272.4" cy="430.7" r="1.12"/><circle cx="275.7" cy="429.6" r="1.12"/><circle cx="279.0" cy="428.4" r="1.12"/><circle cx="282.3" cy="426.9" r="1.12"/><circle cx="285.6" cy="424.6" r="1.12"/><circle cx="288.9" cy="421.8" r="1.12"/><circle cx="292.2" cy="418.8" r="1.12"/><circle cx="295.5" cy="415.1" r="1.12"/><circle cx="298.8" cy="411.2" r="1.12"/><circle cx="302.1" cy="408.0" r="1.12"/><circle cx="305.4" cy="406.0" r="1.12"/><circle cx="308.7" cy="407.3" r="1.12"/><circle cx="312.0" cy="409.7" r="1.12"/><circle cx="298.8" cy="438.3" r="1.12"/><circle cx="302.1" cy="429.8" r="1.12"/><circle cx="305.4" cy="423.5" r="1.12"/><circle cx="308.7" cy="416.7" r="1.12"/><circle cx="312.0" cy="406.2" r="1.12"/><circle cx="315.3" cy="400.7" r="1.12"/><circle cx="318.6" cy="400.3" r="1.12"/><circle cx="321.9" cy="403.9" r="1.12"/><circle cx="325.2" cy="408.9" r="1.12"/><circle cx="328.5" cy="415.0" r="1.12"/><circle cx="331.8" cy="423.0" r="1.12"/><circle cx="335.1" cy="423.2" r="1.12"/><circle cx="338.4" cy="417.7" r="1.12"/><circle cx="341.7" cy="411.0" r="1.12"/><circle cx="345.0" cy="404.0" r="1.12"/><circle cx="348.3" cy="401.6" r="1.12"/><circle cx="351.6" cy="400.1" r="1.12"/><circle cx="354.9" cy="399.2" r="1.12"/><circle cx="358.2" cy="400.0" r="1.12"/><circle cx="361.5" cy="401.8" r="1.12"/><circle cx="364.8" cy="403.5" r="1.12"/><circle cx="368.1" cy="404.7" r="1.12"/><circle cx="371.4" cy="405.8" r="1.12"/><circle cx="374.7" cy="406.8" r="1.12"/><circle cx="378.0" cy="407.6" r="1.12"/><circle cx="381.3" cy="408.0" r="1.12"/><circle cx="384.6" cy="408.0" r="1.12"/><circle cx="387.9" cy="408.0" r="1.12"/><circle cx="391.2" cy="408.0" r="1.12"/><circle cx="394.5" cy="408.0" r="1.12"/><circle cx="397.8" cy="408.0" r="1.12"/><circle cx="401.1" cy="408.0" r="1.12"/><circle cx="404.4" cy="408.2" r="1.12"/><circle cx="407.7" cy="408.4" r="1.12"/><circle cx="411.0" cy="408.7" r="1.12"/><circle cx="414.3" cy="408.9" r="1.12"/><circle cx="417.6" cy="409.0" r="1.12"/><circle cx="420.9" cy="408.4" r="1.12"/><circle cx="424.2" cy="406.9" r="1.12"/><circle cx="427.5" cy="405.2" r="1.12"/><circle cx="430.8" cy="403.4" r="1.12"/><circle cx="434.1" cy="401.6" r="1.12"/><circle cx="437.4" cy="401.6" r="1.12"/><circle cx="440.7" cy="405.0" r="1.12"/><circle cx="444.0" cy="408.9" r="1.12"/><circle cx="447.3" cy="410.2" r="1.12"/><circle cx="450.6" cy="410.6" r="1.12"/><circle cx="453.9" cy="410.8" r="1.12"/><circle cx="457.2" cy="411.0" r="1.12"/><circle cx="298.8" cy="441.9" r="1.12"/><circle cx="302.1" cy="432.7" r="1.12"/><circle cx="305.4" cy="425.6" r="1.12"/><circle cx="308.7" cy="419.6" r="1.12"/><circle cx="312.0" cy="409.7" r="1.12"/><circle cx="315.3" cy="403.2" r="1.12"/><circle cx="318.6" cy="402.2" r="1.12"/><circle cx="321.9" cy="406.1" r="1.12"/><circle cx="325.2" cy="411.1" r="1.12"/><circle cx="328.5" cy="416.9" r="1.12"/><circle cx="331.8" cy="423.6" r="1.12"/><circle cx="335.1" cy="423.7" r="1.12"/><circle cx="338.4" cy="419.3" r="1.12"/><circle cx="341.7" cy="413.7" r="1.12"/><circle cx="345.0" cy="406.5" r="1.12"/><circle cx="348.3" cy="404.1" r="1.12"/><circle cx="351.6" cy="402.6" r="1.12"/><circle cx="354.9" cy="401.7" r="1.12"/><circle cx="358.2" cy="402.5" r="1.12"/><circle cx="361.5" cy="404.2" r="1.12"/><circle cx="364.8" cy="406.0" r="1.12"/><circle cx="368.1" cy="407.1" r="1.12"/><circle cx="371.4" cy="408.1" r="1.12"/><circle cx="374.7" cy="409.0" r="1.12"/><circle cx="378.0" cy="409.7" r="1.12"/><circle cx="381.3" cy="410.1" r="1.12"/><circle cx="384.6" cy="410.3" r="1.12"/><circle cx="387.9" cy="410.5" r="1.12"/><circle cx="391.2" cy="410.5" r="1.12"/><circle cx="394.5" cy="410.6" r="1.12"/><circle cx="397.8" cy="410.7" r="1.12"/><circle cx="401.1" cy="410.9" r="1.12"/><circle cx="404.4" cy="411.1" r="1.12"/><circle cx="407.7" cy="411.4" r="1.12"/><circle cx="411.0" cy="411.7" r="1.12"/><circle cx="414.3" cy="411.9" r="1.12"/><circle cx="417.6" cy="412.0" r="1.12"/><circle cx="420.9" cy="411.4" r="1.12"/><circle cx="424.2" cy="409.9" r="1.12"/><circle cx="427.5" cy="408.2" r="1.12"/><circle cx="430.8" cy="406.4" r="1.12"/><circle cx="434.1" cy="404.6" r="1.12"/><circle cx="437.4" cy="404.6" r="1.12"/><circle cx="440.7" cy="407.9" r="1.12"/><circle cx="444.0" cy="411.5" r="1.12"/><circle cx="447.3" cy="412.6" r="1.12"/><circle cx="450.6" cy="412.8" r="1.12"/><circle cx="453.9" cy="412.9" r="1.12"/><circle cx="457.2" cy="413.0" r="1.12"/><circle cx="298.8" cy="445.7" r="1.12"/><circle cx="302.1" cy="435.8" r="1.12"/><circle cx="305.4" cy="427.9" r="1.12"/><circle cx="308.7" cy="421.9" r="1.12"/><circle cx="312.0" cy="413.7" r="1.12"/><circle cx="315.3" cy="405.6" r="1.12"/><circle cx="318.6" cy="404.2" r="1.12"/><circle cx="321.9" cy="408.3" r="1.12"/><circle cx="325.2" cy="413.4" r="1.12"/><circle cx="328.5" cy="418.8" r="1.12"/><circle cx="331.8" cy="424.2" r="1.12"/><circle cx="335.1" cy="424.2" r="1.12"/><circle cx="338.4" cy="420.9" r="1.12"/><circle cx="341.7" cy="416.5" r="1.12"/><circle cx="345.0" cy="409.0" r="1.12"/><circle cx="348.3" cy="406.6" r="1.12"/><circle cx="351.6" cy="405.1" r="1.12"/><circle cx="354.9" cy="404.2" r="1.12"/><circle cx="358.2" cy="405.0" r="1.12"/><circle cx="361.5" cy="406.7" r="1.12"/><circle cx="364.8" cy="408.4" r="1.12"/><circle cx="368.1" cy="409.4" r="1.12"/><circle cx="371.4" cy="410.3" r="1.12"/><circle cx="374.7" cy="411.1" r="1.12"/><circle cx="378.0" cy="411.8" r="1.12"/><circle cx="381.3" cy="412.3" r="1.12"/><circle cx="384.6" cy="412.6" r="1.12"/><circle cx="387.9" cy="412.9" r="1.12"/><circle cx="391.2" cy="413.1" r="1.12"/><circle cx="394.5" cy="413.3" r="1.12"/><circle cx="397.8" cy="413.5" r="1.12"/><circle cx="401.1" cy="413.7" r="1.12"/><circle cx="404.4" cy="414.0" r="1.12"/><circle cx="407.7" cy="414.3" r="1.12"/><circle cx="411.0" cy="414.7" r="1.12"/><circle cx="414.3" cy="414.9" r="1.12"/><circle cx="417.6" cy="415.0" r="1.12"/><circle cx="420.9" cy="414.4" r="1.12"/><circle cx="424.2" cy="412.9" r="1.12"/><circle cx="427.5" cy="411.2" r="1.12"/><circle cx="430.8" cy="409.4" r="1.12"/><circle cx="434.1" cy="407.6" r="1.12"/><circle cx="437.4" cy="407.6" r="1.12"/><circle cx="440.7" cy="410.7" r="1.12"/><circle cx="444.0" cy="414.2" r="1.12"/><circle cx="447.3" cy="415.0" r="1.12"/><circle cx="450.6" cy="415.0" r="1.12"/><circle cx="453.9" cy="415.0" r="1.12"/><circle cx="457.2" cy="415.0" r="1.12"/><circle cx="302.1" cy="439.2" r="1.12"/><circle cx="305.4" cy="430.5" r="1.12"/><circle cx="308.7" cy="424.0" r="1.12"/><circle cx="312.0" cy="417.5" r="1.12"/><circle cx="315.3" cy="407.7" r="1.12"/><circle cx="318.6" cy="406.2" r="1.12"/><circle cx="321.9" cy="410.5" r="1.12"/><circle cx="325.2" cy="415.7" r="1.12"/><circle cx="328.5" cy="420.6" r="1.12"/><circle cx="331.8" cy="424.8" r="1.12"/><circle cx="335.1" cy="424.6" r="1.12"/><circle cx="338.4" cy="422.4" r="1.12"/><circle cx="341.7" cy="419.3" r="1.12"/><circle cx="345.0" cy="411.5" r="1.12"/><circle cx="348.3" cy="409.1" r="1.12"/><circle cx="351.6" cy="407.6" r="1.12"/><circle cx="354.9" cy="406.7" r="1.12"/><circle cx="358.2" cy="407.5" r="1.12"/><circle cx="361.5" cy="409.1" r="1.12"/><circle cx="364.8" cy="410.8" r="1.12"/><circle cx="368.1" cy="411.8" r="1.12"/><circle cx="371.4" cy="412.6" r="1.12"/><circle cx="374.7" cy="413.3" r="1.12"/><circle cx="378.0" cy="414.0" r="1.12"/><circle cx="381.3" cy="414.5" r="1.12"/><circle cx="384.6" cy="414.9" r="1.12"/><circle cx="387.9" cy="415.3" r="1.12"/><circle cx="391.2" cy="415.6" r="1.12"/><circle cx="394.5" cy="415.9" r="1.12"/><circle cx="397.8" cy="416.2" r="1.12"/><circle cx="401.1" cy="416.5" r="1.12"/><circle cx="404.4" cy="416.9" r="1.12"/><circle cx="407.7" cy="417.3" r="1.12"/><circle cx="411.0" cy="417.6" r="1.12"/><circle cx="414.3" cy="417.9" r="1.12"/><circle cx="417.6" cy="418.0" r="1.12"/><circle cx="420.9" cy="417.4" r="1.12"/><circle cx="424.2" cy="415.9" r="1.12"/><circle cx="427.5" cy="414.2" r="1.12"/><circle cx="430.8" cy="412.4" r="1.12"/><circle cx="434.1" cy="410.6" r="1.12"/><circle cx="437.4" cy="410.6" r="1.12"/><circle cx="440.7" cy="413.5" r="1.12"/><circle cx="444.0" cy="416.7" r="1.12"/><circle cx="447.3" cy="417.5" r="1.12"/><circle cx="450.6" cy="417.5" r="1.12"/><circle cx="453.9" cy="417.4" r="1.12"/><circle cx="457.2" cy="417.2" r="1.12"/><circle cx="302.1" cy="442.8" r="1.12"/><circle cx="305.4" cy="433.4" r="1.12"/><circle cx="308.7" cy="426.2" r="1.12"/><circle cx="312.0" cy="420.2" r="1.12"/><circle cx="315.3" cy="410.3" r="1.12"/><circle cx="318.6" cy="408.4" r="1.12"/><circle cx="321.9" cy="412.6" r="1.12"/><circle cx="325.2" cy="418.1" r="1.12"/><circle cx="328.5" cy="422.5" r="1.12"/><circle cx="331.8" cy="425.4" r="1.12"/><circle cx="335.1" cy="425.0" r="1.12"/><circle cx="338.4" cy="424.0" r="1.12"/><circle cx="341.7" cy="422.3" r="1.12"/><circle cx="345.0" cy="414.0" r="1.12"/><circle cx="348.3" cy="411.6" r="1.12"/><circle cx="351.6" cy="410.1" r="1.12"/><circle cx="354.9" cy="409.2" r="1.12"/><circle cx="358.2" cy="410.0" r="1.12"/><circle cx="361.5" cy="411.6" r="1.12"/><circle cx="364.8" cy="413.2" r="1.12"/><circle cx="368.1" cy="414.1" r="1.12"/><circle cx="371.4" cy="414.9" r="1.12"/><circle cx="374.7" cy="415.6" r="1.12"/><circle cx="378.0" cy="416.1" r="1.12"/><circle cx="381.3" cy="416.7" r="1.12"/><circle cx="384.6" cy="417.2" r="1.12"/><circle cx="387.9" cy="417.7" r="1.12"/><circle cx="391.2" cy="418.1" r="1.12"/><circle cx="394.5" cy="418.5" r="1.12"/><circle cx="397.8" cy="418.9" r="1.12"/><circle cx="401.1" cy="419.3" r="1.12"/><circle cx="404.4" cy="419.8" r="1.12"/><circle cx="407.7" cy="420.2" r="1.12"/><circle cx="411.0" cy="420.6" r="1.12"/><circle cx="414.3" cy="420.9" r="1.12"/><circle cx="417.6" cy="421.0" r="1.12"/><circle cx="420.9" cy="420.4" r="1.12"/><circle cx="424.2" cy="418.9" r="1.12"/><circle cx="427.5" cy="417.2" r="1.12"/><circle cx="430.8" cy="415.4" r="1.12"/><circle cx="434.1" cy="413.6" r="1.12"/><circle cx="437.4" cy="413.6" r="1.12"/><circle cx="440.7" cy="416.3" r="1.12"/><circle cx="444.0" cy="419.3" r="1.12"/><circle cx="447.3" cy="420.0" r="1.12"/><circle cx="450.6" cy="420.0" r="1.12"/><circle cx="453.9" cy="419.8" r="1.12"/><circle cx="457.2" cy="419.4" r="1.12"/><circle cx="328.5" cy="383.8" r="1.12"/><circle cx="331.8" cy="386.1" r="1.12"/><circle cx="335.1" cy="387.0" r="1.12"/><circle cx="338.4" cy="385.4" r="1.12"/><circle cx="341.7" cy="382.6" r="1.12"/><circle cx="328.5" cy="391.0" r="1.12"/><circle cx="331.8" cy="389.4" r="1.12"/><circle cx="335.1" cy="389.0" r="1.12"/><circle cx="338.4" cy="389.8" r="1.12"/><circle cx="341.7" cy="392.3" r="1.12"/><circle cx="335.1" cy="377.3" r="1.12"/><circle cx="338.4" cy="379.4" r="1.12"/><circle cx="341.7" cy="381.3" r="1.12"/><circle cx="345.0" cy="383.0" r="1.12"/><circle cx="348.3" cy="384.3" r="1.12"/><circle cx="351.6" cy="385.4" r="1.12"/><circle cx="354.9" cy="386.5" r="1.12"/><circle cx="358.2" cy="387.8" r="1.12"/><circle cx="361.5" cy="389.7" r="1.12"/><circle cx="364.8" cy="392.0" r="1.12"/><circle cx="368.1" cy="394.6" r="1.12"/><circle cx="371.4" cy="397.3" r="1.12"/><circle cx="374.7" cy="399.8" r="1.12"/><circle cx="378.0" cy="402.2" r="1.12"/><circle cx="381.3" cy="404.7" r="1.12"/><circle cx="384.6" cy="407.5" r="1.12"/><circle cx="387.9" cy="411.1" r="1.12"/><circle cx="391.2" cy="416.7" r="1.12"/><circle cx="394.5" cy="421.6" r="1.12"/><circle cx="397.8" cy="425.7" r="1.12"/><circle cx="401.1" cy="428.0" r="1.12"/><circle cx="404.4" cy="427.5" r="1.12"/><circle cx="407.7" cy="426.1" r="1.12"/><circle cx="411.0" cy="423.6" r="1.12"/><circle cx="414.3" cy="420.1" r="1.12"/><circle cx="417.6" cy="418.0" r="1.12"/><circle cx="420.9" cy="416.8" r="1.12"/><circle cx="424.2" cy="415.6" r="1.12"/><circle cx="427.5" cy="414.3" r="1.12"/><circle cx="430.8" cy="411.7" r="1.12"/><circle cx="434.1" cy="408.7" r="1.12"/><circle cx="437.4" cy="408.3" r="1.12"/><circle cx="440.7" cy="411.0" r="1.12"/><circle cx="444.0" cy="414.9" r="1.12"/><circle cx="447.3" cy="418.9" r="1.12"/><circle cx="450.6" cy="423.5" r="1.12"/><circle cx="453.9" cy="426.6" r="1.12"/><circle cx="457.2" cy="428.9" r="1.12"/><circle cx="335.1" cy="381.2" r="1.12"/><circle cx="338.4" cy="382.9" r="1.12"/><circle cx="341.7" cy="384.5" r="1.12"/><circle cx="345.0" cy="386.0" r="1.12"/><circle cx="348.3" cy="387.2" r="1.12"/><circle cx="351.6" cy="388.3" r="1.12"/><circle cx="354.9" cy="389.4" r="1.12"/><circle cx="358.2" cy="390.8" r="1.12"/><circle cx="361.5" cy="392.7" r="1.12"/><circle cx="364.8" cy="395.0" r="1.12"/><circle cx="368.1" cy="397.6" r="1.12"/><circle cx="371.4" cy="400.3" r="1.12"/><circle cx="374.7" cy="402.9" r="1.12"/><circle cx="378.0" cy="405.3" r="1.12"/><circle cx="381.3" cy="407.8" r="1.12"/><circle cx="384.6" cy="410.7" r="1.12"/><circle cx="387.9" cy="414.4" r="1.12"/><circle cx="391.2" cy="420.0" r="1.12"/><circle cx="394.5" cy="424.9" r="1.12"/><circle cx="397.8" cy="428.5" r="1.12"/><circle cx="401.1" cy="430.5" r="1.12"/><circle cx="404.4" cy="430.0" r="1.12"/><circle cx="407.7" cy="428.6" r="1.12"/><circle cx="411.0" cy="426.1" r="1.12"/><circle cx="414.3" cy="422.6" r="1.12"/><circle cx="417.6" cy="420.5" r="1.12"/><circle cx="420.9" cy="419.4" r="1.12"/><circle cx="424.2" cy="418.4" r="1.12"/><circle cx="427.5" cy="417.2" r="1.12"/><circle cx="430.8" cy="414.9" r="1.12"/><circle cx="434.1" cy="412.1" r="1.12"/><circle cx="437.4" cy="411.8" r="1.12"/><circle cx="440.7" cy="414.3" r="1.12"/><circle cx="444.0" cy="417.9" r="1.12"/><circle cx="447.3" cy="421.9" r="1.12"/><circle cx="450.6" cy="426.6" r="1.12"/><circle cx="453.9" cy="429.4" r="1.12"/><circle cx="457.2" cy="431.3" r="1.12"/><circle cx="335.1" cy="385.2" r="1.12"/><circle cx="338.4" cy="386.5" r="1.12"/><circle cx="341.7" cy="387.7" r="1.12"/><circle cx="345.0" cy="389.0" r="1.12"/><circle cx="348.3" cy="390.2" r="1.12"/><circle cx="351.6" cy="391.2" r="1.12"/><circle cx="354.9" cy="392.4" r="1.12"/><circle cx="358.2" cy="393.8" r="1.12"/><circle cx="361.5" cy="395.7" r="1.12"/><circle cx="364.8" cy="398.0" r="1.12"/><circle cx="368.1" cy="400.6" r="1.12"/><circle cx="371.4" cy="403.3" r="1.12"/><circle cx="374.7" cy="405.9" r="1.12"/><circle cx="378.0" cy="408.3" r="1.12"/><circle cx="381.3" cy="410.9" r="1.12"/><circle cx="384.6" cy="413.9" r="1.12"/><circle cx="387.9" cy="417.6" r="1.12"/><circle cx="391.2" cy="423.4" r="1.12"/><circle cx="394.5" cy="428.1" r="1.12"/><circle cx="397.8" cy="431.3" r="1.12"/><circle cx="401.1" cy="433.0" r="1.12"/><circle cx="404.4" cy="432.5" r="1.12"/><circle cx="407.7" cy="431.1" r="1.12"/><circle cx="411.0" cy="428.6" r="1.12"/><circle cx="414.3" cy="425.1" r="1.12"/><circle cx="417.6" cy="423.0" r="1.12"/><circle cx="420.9" cy="422.0" r="1.12"/><circle cx="424.2" cy="421.2" r="1.12"/><circle cx="427.5" cy="420.2" r="1.12"/><circle cx="430.8" cy="418.1" r="1.12"/><circle cx="434.1" cy="415.6" r="1.12"/><circle cx="437.4" cy="415.3" r="1.12"/><circle cx="440.7" cy="417.6" r="1.12"/><circle cx="444.0" cy="421.0" r="1.12"/><circle cx="447.3" cy="425.0" r="1.12"/><circle cx="450.6" cy="429.7" r="1.12"/><circle cx="453.9" cy="432.1" r="1.12"/><circle cx="457.2" cy="433.6" r="1.12"/><circle cx="335.1" cy="389.1" r="1.12"/><circle cx="338.4" cy="390.0" r="1.12"/><circle cx="341.7" cy="391.0" r="1.12"/><circle cx="345.0" cy="392.0" r="1.12"/><circle cx="348.3" cy="393.1" r="1.12"/><circle cx="351.6" cy="394.1" r="1.12"/><circle cx="354.9" cy="395.4" r="1.12"/><circle cx="358.2" cy="396.8" r="1.12"/><circle cx="361.5" cy="398.6" r="1.12"/><circle cx="364.8" cy="401.0" r="1.12"/><circle cx="368.1" cy="403.6" r="1.12"/><circle cx="371.4" cy="406.3" r="1.12"/><circle cx="374.7" cy="408.9" r="1.12"/><circle cx="378.0" cy="411.4" r="1.12"/><circle cx="381.3" cy="414.0" r="1.12"/><circle cx="384.6" cy="417.0" r="1.12"/><circle cx="387.9" cy="420.8" r="1.12"/><circle cx="391.2" cy="426.8" r="1.12"/><circle cx="394.5" cy="431.4" r="1.12"/><circle cx="397.8" cy="434.1" r="1.12"/><circle cx="401.1" cy="435.5" r="1.12"/><circle cx="404.4" cy="435.0" r="1.12"/><circle cx="407.7" cy="433.6" r="1.12"/><circle cx="411.0" cy="431.1" r="1.12"/><circle cx="414.3" cy="427.6" r="1.12"/><circle cx="417.6" cy="425.5" r="1.12"/><circle cx="420.9" cy="424.6" r="1.12"/><circle cx="424.2" cy="424.0" r="1.12"/><circle cx="427.5" cy="423.2" r="1.12"/><circle cx="430.8" cy="421.3" r="1.12"/><circle cx="434.1" cy="419.0" r="1.12"/><circle cx="437.4" cy="418.8" r="1.12"/><circle cx="440.7" cy="420.9" r="1.12"/><circle cx="444.0" cy="424.0" r="1.12"/><circle cx="447.3" cy="428.0" r="1.12"/><circle cx="450.6" cy="432.9" r="1.12"/><circle cx="453.9" cy="434.8" r="1.12"/><circle cx="457.2" cy="435.8" r="1.12"/><circle cx="335.1" cy="393.0" r="1.12"/><circle cx="338.4" cy="393.6" r="1.12"/><circle cx="341.7" cy="394.2" r="1.12"/><circle cx="345.0" cy="395.0" r="1.12"/><circle cx="348.3" cy="395.9" r="1.12"/><circle cx="351.6" cy="397.0" r="1.12"/><circle cx="354.9" cy="398.3" r="1.12"/><circle cx="358.2" cy="399.8" r="1.12"/><circle cx="361.5" cy="401.6" r="1.12"/><circle cx="364.8" cy="404.0" r="1.12"/><circle cx="368.1" cy="406.6" r="1.12"/><circle cx="371.4" cy="409.3" r="1.12"/><circle cx="374.7" cy="411.9" r="1.12"/><circle cx="378.0" cy="414.4" r="1.12"/><circle cx="381.3" cy="417.1" r="1.12"/><circle cx="384.6" cy="420.2" r="1.12"/><circle cx="387.9" cy="424.0" r="1.12"/><circle cx="391.2" cy="430.2" r="1.12"/><circle cx="394.5" cy="434.6" r="1.12"/><circle cx="397.8" cy="436.9" r="1.12"/><circle cx="401.1" cy="438.0" r="1.12"/><circle cx="404.4" cy="437.5" r="1.12"/><circle cx="407.7" cy="436.1" r="1.12"/><circle cx="411.0" cy="433.6" r="1.12"/><circle cx="414.3" cy="430.1" r="1.12"/><circle cx="417.6" cy="428.0" r="1.12"/><circle cx="420.9" cy="427.3" r="1.12"/><circle cx="424.2" cy="426.8" r="1.12"/><circle cx="427.5" cy="426.1" r="1.12"/><circle cx="430.8" cy="424.5" r="1.12"/><circle cx="434.1" cy="422.5" r="1.12"/><circle cx="437.4" cy="422.2" r="1.12"/><circle cx="440.7" cy="424.2" r="1.12"/><circle cx="444.0" cy="427.1" r="1.12"/><circle cx="447.3" cy="431.1" r="1.12"/><circle cx="450.6" cy="436.0" r="1.12"/><circle cx="453.9" cy="437.4" r="1.12"/><circle cx="457.2" cy="437.9" r="1.12"/><circle cx="338.4" cy="446.0" r="1.12"/><circle cx="341.7" cy="438.6" r="1.12"/><circle cx="345.0" cy="435.3" r="1.12"/><circle cx="348.3" cy="433.2" r="1.12"/><circle cx="351.6" cy="432.1" r="1.12"/><circle cx="354.9" cy="431.5" r="1.12"/><circle cx="358.2" cy="431.0" r="1.12"/><circle cx="361.5" cy="430.7" r="1.12"/><circle cx="364.8" cy="430.9" r="1.12"/><circle cx="368.1" cy="432.0" r="1.12"/><circle cx="371.4" cy="433.7" r="1.12"/><circle cx="374.7" cy="436.1" r="1.12"/><circle cx="378.0" cy="440.0" r="1.12"/><circle cx="381.3" cy="446.8" r="1.12"/><circle cx="338.4" cy="446.2" r="1.12"/><circle cx="341.7" cy="440.3" r="1.12"/><circle cx="345.0" cy="437.5" r="1.12"/><circle cx="348.3" cy="435.7" r="1.12"/><circle cx="351.6" cy="434.6" r="1.12"/><circle cx="354.9" cy="434.0" r="1.12"/><circle cx="358.2" cy="433.5" r="1.12"/><circle cx="361.5" cy="433.2" r="1.12"/><circle cx="364.8" cy="433.4" r="1.12"/><circle cx="368.1" cy="434.5" r="1.12"/><circle cx="371.4" cy="436.2" r="1.12"/><circle cx="374.7" cy="438.5" r="1.12"/><circle cx="378.0" cy="442.0" r="1.12"/><circle cx="381.3" cy="446.8" r="1.12"/><circle cx="338.4" cy="446.4" r="1.12"/><circle cx="341.7" cy="442.0" r="1.12"/><circle cx="345.0" cy="439.7" r="1.12"/><circle cx="348.3" cy="438.1" r="1.12"/><circle cx="351.6" cy="437.1" r="1.12"/><circle cx="354.9" cy="436.5" r="1.12"/><circle cx="358.2" cy="436.0" r="1.12"/><circle cx="361.5" cy="435.7" r="1.12"/><circle cx="364.8" cy="435.9" r="1.12"/><circle cx="368.1" cy="437.0" r="1.12"/><circle cx="371.4" cy="438.7" r="1.12"/><circle cx="374.7" cy="441.0" r="1.12"/><circle cx="378.0" cy="444.0" r="1.12"/><circle cx="381.3" cy="446.9" r="1.12"/><circle cx="338.4" cy="446.6" r="1.12"/><circle cx="341.7" cy="443.8" r="1.12"/><circle cx="345.0" cy="441.9" r="1.12"/><circle cx="348.3" cy="440.5" r="1.12"/><circle cx="351.6" cy="439.6" r="1.12"/><circle cx="354.9" cy="439.0" r="1.12"/><circle cx="358.2" cy="438.5" r="1.12"/><circle cx="361.5" cy="438.2" r="1.12"/><circle cx="364.8" cy="438.4" r="1.12"/><circle cx="368.1" cy="439.6" r="1.12"/><circle cx="371.4" cy="441.2" r="1.12"/><circle cx="374.7" cy="443.6" r="1.12"/><circle cx="378.0" cy="446.0" r="1.12"/><circle cx="381.3" cy="447.0" r="1.12"/><circle cx="394.5" cy="430.3" r="1.12"/><circle cx="397.8" cy="433.0" r="1.12"/><circle cx="401.1" cy="435.3" r="1.12"/><circle cx="404.4" cy="437.1" r="1.12"/><circle cx="407.7" cy="438.7" r="1.12"/><circle cx="411.0" cy="440.0" r="1.12"/><circle cx="414.3" cy="440.9" r="1.12"/><circle cx="417.6" cy="441.3" r="1.12"/><circle cx="420.9" cy="441.7" r="1.12"/><circle cx="424.2" cy="441.9" r="1.12"/><circle cx="427.5" cy="442.0" r="1.12"/><circle cx="430.8" cy="441.7" r="1.12"/><circle cx="434.1" cy="441.0" r="1.12"/><circle cx="437.4" cy="440.2" r="1.12"/><circle cx="440.7" cy="440.0" r="1.12"/><circle cx="444.0" cy="440.4" r="1.12"/><circle cx="447.3" cy="440.8" r="1.12"/><circle cx="450.6" cy="441.0" r="1.12"/><circle cx="453.9" cy="440.6" r="1.12"/><circle cx="457.2" cy="439.8" r="1.12"/><circle cx="394.5" cy="433.2" r="1.12"/><circle cx="397.8" cy="435.8" r="1.12"/><circle cx="401.1" cy="437.9" r="1.12"/><circle cx="404.4" cy="439.5" r="1.12"/><circle cx="407.7" cy="441.0" r="1.12"/><circle cx="411.0" cy="442.1" r="1.12"/><circle cx="414.3" cy="442.9" r="1.12"/><circle cx="417.6" cy="443.3" r="1.12"/><circle cx="420.9" cy="443.7" r="1.12"/><circle cx="424.2" cy="443.9" r="1.12"/><circle cx="427.5" cy="444.0" r="1.12"/><circle cx="430.8" cy="443.8" r="1.12"/><circle cx="434.1" cy="443.2" r="1.12"/><circle cx="437.4" cy="442.7" r="1.12"/><circle cx="440.7" cy="442.5" r="1.12"/><circle cx="444.0" cy="442.7" r="1.12"/><circle cx="447.3" cy="442.9" r="1.12"/><circle cx="450.6" cy="443.0" r="1.12"/><circle cx="453.9" cy="442.7" r="1.12"/><circle cx="457.2" cy="442.1" r="1.12"/><circle cx="394.5" cy="436.1" r="1.12"/><circle cx="397.8" cy="438.5" r="1.12"/><circle cx="401.1" cy="440.5" r="1.12"/><circle cx="404.4" cy="442.0" r="1.12"/><circle cx="407.7" cy="443.2" r="1.12"/><circle cx="411.0" cy="444.2" r="1.12"/><circle cx="414.3" cy="444.9" r="1.12"/><circle cx="417.6" cy="445.3" r="1.12"/><circle cx="420.9" cy="445.7" r="1.12"/><circle cx="424.2" cy="445.9" r="1.12"/><circle cx="427.5" cy="446.0" r="1.12"/><circle cx="430.8" cy="445.8" r="1.12"/><circle cx="434.1" cy="445.5" r="1.12"/><circle cx="437.4" cy="445.1" r="1.12"/><circle cx="440.7" cy="445.0" r="1.12"/><circle cx="444.0" cy="445.0" r="1.12"/><circle cx="447.3" cy="445.0" r="1.12"/><circle cx="450.6" cy="445.0" r="1.12"/><circle cx="453.9" cy="444.8" r="1.12"/><circle cx="457.2" cy="444.4" r="1.12"/><circle cx="262.5" cy="429.0" r="1.12"/><circle cx="265.8" cy="428.8" r="1.12"/><circle cx="269.1" cy="428.7" r="1.12"/><circle cx="272.4" cy="428.6" r="1.12"/><circle cx="275.7" cy="428.5" r="1.12"/><circle cx="279.0" cy="428.5" r="1.12"/><circle cx="282.3" cy="428.5" r="1.12"/><circle cx="285.6" cy="428.5" r="1.12"/><circle cx="288.9" cy="428.6" r="1.12"/><circle cx="292.2" cy="428.7" r="1.12"/><circle cx="295.5" cy="428.9" r="1.12"/><circle cx="298.8" cy="429.1" r="1.12"/><circle cx="302.1" cy="430.1" r="1.12"/><circle cx="305.4" cy="430.6" r="1.12"/><circle cx="308.7" cy="430.8" r="1.12"/><circle cx="312.0" cy="431.0" r="1.12"/><circle cx="315.3" cy="431.0" r="1.12"/><circle cx="318.6" cy="430.8" r="1.12"/><circle cx="321.9" cy="430.5" r="1.12"/><circle cx="325.2" cy="430.1" r="1.12"/><circle cx="328.5" cy="429.7" r="1.12"/><circle cx="331.8" cy="429.2" r="1.12"/><circle cx="335.1" cy="429.1" r="1.12"/><circle cx="338.4" cy="431.3" r="1.12"/><circle cx="262.5" cy="431.7" r="1.12"/><circle cx="265.8" cy="431.5" r="1.12"/><circle cx="269.1" cy="431.4" r="1.12"/><circle cx="272.4" cy="431.3" r="1.12"/><circle cx="275.7" cy="431.2" r="1.12"/><circle cx="279.0" cy="431.2" r="1.12"/><circle cx="282.3" cy="431.2" r="1.12"/><circle cx="285.6" cy="431.2" r="1.12"/><circle cx="288.9" cy="431.3" r="1.12"/><circle cx="292.2" cy="431.4" r="1.12"/><circle cx="295.5" cy="431.6" r="1.12"/><circle cx="298.8" cy="431.8" r="1.12"/><circle cx="302.1" cy="433.1" r="1.12"/><circle cx="305.4" cy="433.5" r="1.12"/><circle cx="308.7" cy="433.6" r="1.12"/><circle cx="312.0" cy="433.7" r="1.12"/><circle cx="315.3" cy="433.7" r="1.12"/><circle cx="318.6" cy="433.5" r="1.12"/><circle cx="321.9" cy="433.2" r="1.12"/><circle cx="325.2" cy="432.8" r="1.12"/><circle cx="328.5" cy="432.4" r="1.12"/><circle cx="331.8" cy="432.0" r="1.12"/><circle cx="335.1" cy="431.9" r="1.12"/><circle cx="338.4" cy="433.9" r="1.12"/><circle cx="262.5" cy="434.4" r="1.12"/><circle cx="265.8" cy="434.2" r="1.12"/><circle cx="269.1" cy="434.1" r="1.12"/><circle cx="272.4" cy="434.0" r="1.12"/><circle cx="275.7" cy="433.9" r="1.12"/><circle cx="279.0" cy="433.9" r="1.12"/><circle cx="282.3" cy="433.9" r="1.12"/><circle cx="285.6" cy="433.9" r="1.12"/><circle cx="288.9" cy="434.0" r="1.12"/><circle cx="292.2" cy="434.1" r="1.12"/><circle cx="295.5" cy="434.3" r="1.12"/><circle cx="298.8" cy="434.5" r="1.12"/><circle cx="302.1" cy="436.0" r="1.12"/><circle cx="305.4" cy="436.5" r="1.12"/><circle cx="308.7" cy="436.5" r="1.12"/><circle cx="312.0" cy="436.4" r="1.12"/><circle cx="315.3" cy="436.4" r="1.12"/><circle cx="318.6" cy="436.2" r="1.12"/><circle cx="321.9" cy="435.8" r="1.12"/><circle cx="325.2" cy="435.5" r="1.12"/><circle cx="328.5" cy="435.2" r="1.12"/><circle cx="331.8" cy="434.9" r="1.12"/><circle cx="335.1" cy="434.8" r="1.12"/><circle cx="338.4" cy="436.6" r="1.12"/><circle cx="262.5" cy="437.1" r="1.12"/><circle cx="265.8" cy="436.9" r="1.12"/><circle cx="269.1" cy="436.8" r="1.12"/><circle cx="272.4" cy="436.7" r="1.12"/><circle cx="275.7" cy="436.6" r="1.12"/><circle cx="279.0" cy="436.6" r="1.12"/><circle cx="282.3" cy="436.6" r="1.12"/><circle cx="285.6" cy="436.6" r="1.12"/><circle cx="288.9" cy="436.7" r="1.12"/><circle cx="292.2" cy="436.8" r="1.12"/><circle cx="295.5" cy="437.0" r="1.12"/><circle cx="298.8" cy="437.3" r="1.12"/><circle cx="302.1" cy="439.0" r="1.12"/><circle cx="305.4" cy="439.5" r="1.12"/><circle cx="308.7" cy="439.4" r="1.12"/><circle cx="312.0" cy="439.3" r="1.12"/><circle cx="315.3" cy="439.1" r="1.12"/><circle cx="318.6" cy="438.8" r="1.12"/><circle cx="321.9" cy="438.5" r="1.12"/><circle cx="325.2" cy="438.2" r="1.12"/><circle cx="328.5" cy="437.9" r="1.12"/><circle cx="331.8" cy="437.8" r="1.12"/><circle cx="335.1" cy="437.7" r="1.12"/><circle cx="338.4" cy="439.3" r="1.12"/><circle cx="262.5" cy="439.8" r="1.12"/><circle cx="265.8" cy="439.6" r="1.12"/><circle cx="269.1" cy="439.5" r="1.12"/><circle cx="272.4" cy="439.4" r="1.12"/><circle cx="275.7" cy="439.3" r="1.12"/><circle cx="279.0" cy="439.3" r="1.12"/><circle cx="282.3" cy="439.3" r="1.12"/><circle cx="285.6" cy="439.3" r="1.12"/><circle cx="288.9" cy="439.4" r="1.12"/><circle cx="292.2" cy="439.5" r="1.12"/><circle cx="295.5" cy="439.7" r="1.12"/><circle cx="298.8" cy="440.0" r="1.12"/><circle cx="302.1" cy="441.9" r="1.12"/><circle cx="305.4" cy="442.5" r="1.12"/><circle cx="308.7" cy="442.3" r="1.12"/><circle cx="312.0" cy="442.0" r="1.12"/><circle cx="315.3" cy="441.8" r="1.12"/><circle cx="318.6" cy="441.4" r="1.12"/><circle cx="321.9" cy="441.1" r="1.12"/><circle cx="325.2" cy="440.8" r="1.12"/><circle cx="328.5" cy="440.7" r="1.12"/><circle cx="331.8" cy="440.6" r="1.12"/><circle cx="335.1" cy="440.6" r="1.12"/><circle cx="338.4" cy="442.0" r="1.12"/><circle cx="262.5" cy="442.5" r="1.12"/><circle cx="265.8" cy="442.3" r="1.12"/><circle cx="269.1" cy="442.2" r="1.12"/><circle cx="272.4" cy="442.1" r="1.12"/><circle cx="275.7" cy="442.0" r="1.12"/><circle cx="279.0" cy="442.0" r="1.12"/><circle cx="282.3" cy="442.0" r="1.12"/><circle cx="285.6" cy="442.0" r="1.12"/><circle cx="288.9" cy="442.1" r="1.12"/><circle cx="292.2" cy="442.2" r="1.12"/><circle cx="295.5" cy="442.4" r="1.12"/><circle cx="298.8" cy="442.7" r="1.12"/><circle cx="302.1" cy="444.8" r="1.12"/><circle cx="305.4" cy="445.5" r="1.12"/><circle cx="308.7" cy="445.2" r="1.12"/><circle cx="312.0" cy="444.8" r="1.12"/><circle cx="315.3" cy="444.5" r="1.12"/><circle cx="318.6" cy="444.1" r="1.12"/><circle cx="321.9" cy="443.7" r="1.12"/><circle cx="325.2" cy="443.5" r="1.12"/><circle cx="328.5" cy="443.5" r="1.12"/><circle cx="331.8" cy="443.5" r="1.12"/><circle cx="335.1" cy="443.5" r="1.12"/><circle cx="338.4" cy="444.7" r="1.12"/><circle cx="262.5" cy="445.2" r="1.12"/><circle cx="265.8" cy="445.0" r="1.12"/><circle cx="269.1" cy="444.9" r="1.12"/><circle cx="272.4" cy="444.8" r="1.12"/><circle cx="275.7" cy="444.7" r="1.12"/><circle cx="279.0" cy="444.7" r="1.12"/><circle cx="282.3" cy="444.7" r="1.12"/><circle cx="285.6" cy="444.7" r="1.12"/><circle cx="288.9" cy="444.8" r="1.12"/><circle cx="292.2" cy="444.9" r="1.12"/><circle cx="295.5" cy="445.1" r="1.12"/><circle cx="298.8" cy="445.4" r="1.12"/><circle cx="315.3" cy="447.2" r="1.12"/><circle cx="318.6" cy="446.8" r="1.12"/><circle cx="321.9" cy="446.4" r="1.12"/><circle cx="325.2" cy="446.2" r="1.12"/><circle cx="328.5" cy="446.2" r="1.12"/><circle cx="331.8" cy="446.3" r="1.12"/><circle cx="335.1" cy="446.4" r="1.12"/><circle cx="338.4" cy="447.4" r="1.12"/></g><path d="M299,447 Q302,441 306,438.5 Q314.9,433.5 324,438.5 Q328,441 331,447 Z" fill="#fff"/><ellipse cx="334.7" cy="436" rx="3.6" ry="5.5" fill="#fff"/><path d="M298.0,447.0 L299.0,445.5 L300.0,444.1 L301.0,442.7 L302.0,441.5 L303.0,440.3 L304.0,439.4 L305.0,438.6 L306.0,438.0 L307.0,437.5 L308.0,437.1 L309.0,436.6 L310.0,436.3 L311.0,435.9 L312.0,435.7 L313.0,435.5 L314.0,435.3 L315.0,435.3 L316.0,435.4 L317.0,435.5 L318.0,435.7 L319.0,435.9 L320.0,436.3 L321.0,436.6 L322.0,437.1 L323.0,437.5 L324.0,438.0 L325.0,438.7 L326.0,439.6 L327.0,440.8 L328.0,442.1 L329.0,443.7 L330.0,445.3 L331.0,447.0" fill="none" stroke="#2424ff" stroke-width="1.1"/><path d="M329.0,447.0 L330.0,443.5 L331.0,440.8 L332.0,439.4 L333.0,438.3 L334.0,437.7 L335.0,437.5 L336.0,438.0 L337.0,438.8 L338.0,440.0 L339.0,442.7 L340.0,447.0" fill="none" stroke="#2424ff" stroke-width="1.1"/><g fill="#ff1a1a" transform="translate(0,0.6)"><circle cx="298.8" cy="445.8" r="1.12"/><circle cx="302.1" cy="441.4" r="1.12"/><circle cx="305.4" cy="438.3" r="1.12"/><circle cx="308.7" cy="436.8" r="1.12"/><circle cx="312.0" cy="435.7" r="1.12"/><circle cx="315.3" cy="435.3" r="1.12"/><circle cx="318.6" cy="435.8" r="1.12"/><circle cx="321.9" cy="437.0" r="1.12"/><circle cx="325.2" cy="438.8" r="1.12"/><circle cx="328.5" cy="442.9" r="1.12"/><circle cx="331.8" cy="439.6" r="1.12"/><circle cx="335.1" cy="437.5" r="1.12"/><circle cx="338.4" cy="440.8" r="1.12"/></g></g>
<line x1="334.7" y1="275.5" x2="334.7" y2="445.5" stroke="#ccc" stroke-width="0.8"/>
<line x1="417.7" y1="275.5" x2="417.7" y2="445.5" stroke="#ccc" stroke-width="0.8"/>
<rect x="262.5" y="275.5" width="197.0" height="170.0" fill="none" stroke="#555" stroke-width="1.0"/>
<line x1="259.5" y1="276.0" x2="262.5" y2="276.0" stroke="#555" stroke-width="1"/>
<text x="258.5" y="281.2" font-size="15.2" text-anchor="end" font-weight="normal"  >1.5</text>
<line x1="259.5" y1="310.0" x2="262.5" y2="310.0" stroke="#555" stroke-width="1"/>
<text x="258.5" y="315.2" font-size="15.2" text-anchor="end" font-weight="normal"  >1.0</text>
<line x1="259.5" y1="344.0" x2="262.5" y2="344.0" stroke="#555" stroke-width="1"/>
<text x="258.5" y="349.2" font-size="15.2" text-anchor="end" font-weight="normal"  >0.5</text>
<line x1="259.5" y1="378.0" x2="262.5" y2="378.0" stroke="#555" stroke-width="1"/>
<text x="258.5" y="383.2" font-size="15.2" text-anchor="end" font-weight="normal"  >0.0</text>
<line x1="259.5" y1="412.0" x2="262.5" y2="412.0" stroke="#555" stroke-width="1"/>
<text x="258.5" y="417.2" font-size="15.2" text-anchor="end" font-weight="normal"  >-0.5</text>
<line x1="259.5" y1="446.0" x2="262.5" y2="446.0" stroke="#555" stroke-width="1"/>
<text x="258.5" y="451.2" font-size="15.2" text-anchor="end" font-weight="normal"  >-1.0</text>
<line x1="260.7" y1="293.0" x2="262.5" y2="293.0" stroke="#555" stroke-width="0.8"/>
<line x1="260.7" y1="327.0" x2="262.5" y2="327.0" stroke="#555" stroke-width="0.8"/>
<line x1="260.7" y1="361.0" x2="262.5" y2="361.0" stroke="#555" stroke-width="0.8"/>
<line x1="260.7" y1="395.0" x2="262.5" y2="395.0" stroke="#555" stroke-width="0.8"/>
<line x1="260.7" y1="429.0" x2="262.5" y2="429.0" stroke="#555" stroke-width="0.8"/>
<text x="262.2" y="462.5" font-size="16" text-anchor="middle" font-weight="normal"  >M</text>
<text x="334.0" y="462.5" font-size="16" text-anchor="middle" font-weight="normal"  >G</text>
<text x="418.6" y="462.5" font-size="16" text-anchor="middle" font-weight="normal"  >K</text>
<text x="456.0" y="462.5" font-size="16" text-anchor="middle" font-weight="normal"  >M</text>
<text transform="translate(229.6,361.2) rotate(-90)" font-size="16.4" text-anchor="middle">Energy (eV)</text>
<line x1="341.8" y1="354.3" x2="539" y2="321.4" stroke="#111" stroke-width="1.5" stroke-dasharray="4.5,2.8"/>
<path d="M544.5,320.5 L537.5,318.6 L538.6,324.4 Z" fill="#111"/>
<line x1="339.2" y1="362" x2="560" y2="365.5" stroke="#111" stroke-width="1.5" stroke-dasharray="4.5,2.8"/>
<path d="M565.5,365.6 L559.2,362.5 L559.1,368.5 Z" fill="#111"/>
<text transform="translate(384.5,338.7) rotate(-9.5)" font-size="12.5">ΔE = 0.23 eV</text>
<text x="382.5" y="373.8" font-size="12.5" text-anchor="start" font-weight="normal"  >ΔE = 0.07 eV</text>
<defs>
<radialGradient id="gBi" cx="0.42" cy="0.4" r="0.65"><stop offset="0" stop-color="#f6d2fb"/><stop offset="0.4" stop-color="#c454dc"/><stop offset="1" stop-color="#8a1aa6"/></radialGradient>
<radialGradient id="gSe" cx="0.38" cy="0.35" r="0.7"><stop offset="0" stop-color="#f0ffc0"/><stop offset="0.35" stop-color="#a8dc3a"/><stop offset="1" stop-color="#6c9e10"/></radialGradient>
<radialGradient id="gO" cx="0.38" cy="0.35" r="0.7"><stop offset="0" stop-color="#ffffff"/><stop offset="0.5" stop-color="#c8c8c8"/><stop offset="1" stop-color="#888"/></radialGradient>
<radialGradient id="gR" cx="0.38" cy="0.35" r="0.7"><stop offset="0" stop-color="#e05050"/><stop offset="1" stop-color="#700000"/></radialGradient>
</defs>
<path d="M599.5,15.3 L641.5,15.3 L636.7,29.0 L594.7,29.0 Z" fill="#e0a6ee"/>
<path d="M594.7,29.0 L636.7,29.0 L631.9,42.6 L589.9,42.6 Z" fill="#cc6ee0"/>
<line x1="604.1" y1="21.4" x2="599.5" y2="15.3" stroke="#a88070" stroke-width="0.7" opacity="0.9"/>
<line x1="604.1" y1="21.4" x2="613.5" y2="15.3" stroke="#a88070" stroke-width="0.7" opacity="0.9"/>
<line x1="604.1" y1="21.4" x2="594.7" y2="29.0" stroke="#a88070" stroke-width="0.7" opacity="0.9"/>
<line x1="604.1" y1="21.4" x2="608.7" y2="29.0" stroke="#a88070" stroke-width="0.7" opacity="0.9"/>
<line x1="599.5" y1="36.4" x2="594.7" y2="29.0" stroke="#a88070" stroke-width="0.7" opacity="0.9"/>
<line x1="599.5" y1="36.4" x2="608.7" y2="29.0" stroke="#a88070" stroke-width="0.7" opacity="0.9"/>
<line x1="599.5" y1="36.4" x2="589.9" y2="42.6" stroke="#a88070" stroke-width="0.7" opacity="0.9"/>
<line x1="599.5" y1="36.4" x2="603.9" y2="42.6" stroke="#a88070" stroke-width="0.7" opacity="0.9"/>
<line x1="618.1" y1="21.4" x2="613.5" y2="15.3" stroke="#a88070" stroke-width="0.7" opacity="0.9"/>
<line x1="618.1" y1="21.4" x2="627.5" y2="15.3" stroke="#a88070" stroke-width="0.7" opacity="0.9"/>
<line x1="618.1" y1="21.4" x2="608.7" y2="29.0" stroke="#a88070" stroke-width="0.7" opacity="0.9"/>
<line x1="618.1" y1="21.4" x2="622.7" y2="29.0" stroke="#a88070" stroke-width="0.7" opacity="0.9"/>
<line x1="613.5" y1="36.4" x2="608.7" y2="29.0" stroke="#a88070" stroke-width="0.7" opacity="0.9"/>
<line x1="613.5" y1="36.4" x2="622.7" y2="29.0" stroke="#a88070" stroke-width="0.7" opacity="0.9"/>
<line x1="613.5" y1="36.4" x2="603.9" y2="42.6" stroke="#a88070" stroke-width="0.7" opacity="0.9"/>
<line x1="613.5" y1="36.4" x2="617.9" y2="42.6" stroke="#a88070" stroke-width="0.7" opacity="0.9"/>
<line x1="632.1" y1="21.4" x2="627.5" y2="15.3" stroke="#a88070" stroke-width="0.7" opacity="0.9"/>
<line x1="632.1" y1="21.4" x2="641.5" y2="15.3" stroke="#a88070" stroke-width="0.7" opacity="0.9"/>
<line x1="632.1" y1="21.4" x2="622.7" y2="29.0" stroke="#a88070" stroke-width="0.7" opacity="0.9"/>
<line x1="632.1" y1="21.4" x2="636.7" y2="29.0" stroke="#a88070" stroke-width="0.7" opacity="0.9"/>
<line x1="627.5" y1="36.4" x2="622.7" y2="29.0" stroke="#a88070" stroke-width="0.7" opacity="0.9"/>
<line x1="627.5" y1="36.4" x2="636.7" y2="29.0" stroke="#a88070" stroke-width="0.7" opacity="0.9"/>
<line x1="627.5" y1="36.4" x2="617.9" y2="42.6" stroke="#a88070" stroke-width="0.7" opacity="0.9"/>
<line x1="627.5" y1="36.4" x2="631.9" y2="42.6" stroke="#a88070" stroke-width="0.7" opacity="0.9"/>
<circle cx="604.1" cy="21.4" r="3.0" fill="url(#gBi)"/>
<circle cx="618.1" cy="21.4" r="3.0" fill="url(#gBi)"/>
<circle cx="632.1" cy="21.4" r="3.0" fill="url(#gBi)"/>
<circle cx="599.5" cy="36.4" r="3.0" fill="url(#gBi)"/>
<circle cx="613.5" cy="36.4" r="3.0" fill="url(#gBi)"/>
<circle cx="627.5" cy="36.4" r="3.0" fill="url(#gBi)"/>
<circle cx="599.5" cy="15.3" r="1.9" fill="url(#gSe)"/>
<circle cx="613.5" cy="15.3" r="1.9" fill="url(#gSe)"/>
<circle cx="627.5" cy="15.3" r="1.9" fill="url(#gSe)"/>
<circle cx="641.5" cy="15.3" r="1.9" fill="url(#gSe)"/>
<circle cx="594.7" cy="29.0" r="1.9" fill="url(#gSe)"/>
<circle cx="608.7" cy="29.0" r="1.9" fill="url(#gSe)"/>
<circle cx="622.7" cy="29.0" r="1.9" fill="url(#gSe)"/>
<circle cx="636.7" cy="29.0" r="1.9" fill="url(#gSe)"/>
<circle cx="589.9" cy="42.6" r="1.9" fill="url(#gSe)"/>
<circle cx="603.9" cy="42.6" r="1.9" fill="url(#gSe)"/>
<circle cx="617.9" cy="42.6" r="1.9" fill="url(#gSe)"/>
<circle cx="631.9" cy="42.6" r="1.9" fill="url(#gSe)"/>
<path d="M608.6,54.5 L650.6,54.5 L645.8000000000001,68.2 L603.8000000000001,68.2 Z" fill="#cc6ee0"/>
<path d="M603.8000000000001,68.2 L645.8000000000001,68.2 L641.0,81.8 L599.0,81.8 Z" fill="#e0a6ee"/>
<line x1="613.2" y1="60.6" x2="608.6" y2="54.5" stroke="#a88070" stroke-width="0.7" opacity="0.9"/>
<line x1="613.2" y1="60.6" x2="622.6" y2="54.5" stroke="#a88070" stroke-width="0.7" opacity="0.9"/>
<line x1="613.2" y1="60.6" x2="603.8" y2="68.2" stroke="#a88070" stroke-width="0.7" opacity="0.9"/>
<line x1="613.2" y1="60.6" x2="617.8" y2="68.2" stroke="#a88070" stroke-width="0.7" opacity="0.9"/>
<line x1="608.6" y1="75.6" x2="603.8" y2="68.2" stroke="#a88070" stroke-width="0.7" opacity="0.9"/>
<line x1="608.6" y1="75.6" x2="617.8" y2="68.2" stroke="#a88070" stroke-width="0.7" opacity="0.9"/>
<line x1="608.6" y1="75.6" x2="599.0" y2="81.8" stroke="#a88070" stroke-width="0.7" opacity="0.9"/>
<line x1="608.6" y1="75.6" x2="613.0" y2="81.8" stroke="#a88070" stroke-width="0.7" opacity="0.9"/>
<line x1="627.2" y1="60.6" x2="622.6" y2="54.5" stroke="#a88070" stroke-width="0.7" opacity="0.9"/>
<line x1="627.2" y1="60.6" x2="636.6" y2="54.5" stroke="#a88070" stroke-width="0.7" opacity="0.9"/>
<line x1="627.2" y1="60.6" x2="617.8" y2="68.2" stroke="#a88070" stroke-width="0.7" opacity="0.9"/>
<line x1="627.2" y1="60.6" x2="631.8" y2="68.2" stroke="#a88070" stroke-width="0.7" opacity="0.9"/>
<line x1="622.6" y1="75.6" x2="617.8" y2="68.2" stroke="#a88070" stroke-width="0.7" opacity="0.9"/>
<line x1="622.6" y1="75.6" x2="631.8" y2="68.2" stroke="#a88070" stroke-width="0.7" opacity="0.9"/>
<line x1="622.6" y1="75.6" x2="613.0" y2="81.8" stroke="#a88070" stroke-width="0.7" opacity="0.9"/>
<line x1="622.6" y1="75.6" x2="627.0" y2="81.8" stroke="#a88070" stroke-width="0.7" opacity="0.9"/>
<line x1="641.2" y1="60.6" x2="636.6" y2="54.5" stroke="#a88070" stroke-width="0.7" opacity="0.9"/>
<line x1="641.2" y1="60.6" x2="650.6" y2="54.5" stroke="#a88070" stroke-width="0.7" opacity="0.9"/>
<line x1="641.2" y1="60.6" x2="631.8" y2="68.2" stroke="#a88070" stroke-width="0.7" opacity="0.9"/>
<line x1="641.2" y1="60.6" x2="645.8" y2="68.2" stroke="#a88070" stroke-width="0.7" opacity="0.9"/>
<line x1="636.6" y1="75.6" x2="631.8" y2="68.2" stroke="#a88070" stroke-width="0.7" opacity="0.9"/>
<line x1="636.6" y1="75.6" x2="645.8" y2="68.2" stroke="#a88070" stroke-width="0.7" opacity="0.9"/>
<line x1="636.6" y1="75.6" x2="627.0" y2="81.8" stroke="#a88070" stroke-width="0.7" opacity="0.9"/>
<line x1="636.6" y1="75.6" x2="641.0" y2="81.8" stroke="#a88070" stroke-width="0.7" opacity="0.9"/>
<circle cx="613.2" cy="60.6" r="3.0" fill="url(#gBi)"/>
<circle cx="627.2" cy="60.6" r="3.0" fill="url(#gBi)"/>
<circle cx="641.2" cy="60.6" r="3.0" fill="url(#gBi)"/>
<circle cx="608.6" cy="75.6" r="3.0" fill="url(#gBi)"/>
<circle cx="622.6" cy="75.6" r="3.0" fill="url(#gBi)"/>
<circle cx="636.6" cy="75.6" r="3.0" fill="url(#gBi)"/>
<circle cx="608.6" cy="54.5" r="1.9" fill="url(#gSe)"/>
<circle cx="622.6" cy="54.5" r="1.9" fill="url(#gSe)"/>
<circle cx="636.6" cy="54.5" r="1.9" fill="url(#gSe)"/>
<circle cx="650.6" cy="54.5" r="1.9" fill="url(#gSe)"/>
<circle cx="603.8" cy="68.2" r="1.9" fill="url(#gSe)"/>
<circle cx="617.8" cy="68.2" r="1.9" fill="url(#gSe)"/>
<circle cx="631.8" cy="68.2" r="1.9" fill="url(#gSe)"/>
<circle cx="645.8" cy="68.2" r="1.9" fill="url(#gSe)"/>
<circle cx="599.0" cy="81.8" r="1.9" fill="url(#gSe)"/>
<circle cx="613.0" cy="81.8" r="1.9" fill="url(#gSe)"/>
<circle cx="627.0" cy="81.8" r="1.9" fill="url(#gSe)"/>
<circle cx="641.0" cy="81.8" r="1.9" fill="url(#gSe)"/>
<path d="M603.8,93.7 L645.8,93.7 L641.0,107.4 L599.0,107.4 Z" fill="#e0a6ee"/>
<path d="M599.0,107.4 L641.0,107.4 L636.1999999999999,121.0 L594.1999999999999,121.0 Z" fill="#cc6ee0"/>
<line x1="608.4" y1="99.8" x2="603.8" y2="93.7" stroke="#a88070" stroke-width="0.7" opacity="0.9"/>
<line x1="608.4" y1="99.8" x2="617.8" y2="93.7" stroke="#a88070" stroke-width="0.7" opacity="0.9"/>
<line x1="608.4" y1="99.8" x2="599.0" y2="107.4" stroke="#a88070" stroke-width="0.7" opacity="0.9"/>
<line x1="608.4" y1="99.8" x2="613.0" y2="107.4" stroke="#a88070" stroke-width="0.7" opacity="0.9"/>
<line x1="603.8" y1="114.8" x2="599.0" y2="107.4" stroke="#a88070" stroke-width="0.7" opacity="0.9"/>
<line x1="603.8" y1="114.8" x2="613.0" y2="107.4" stroke="#a88070" stroke-width="0.7" opacity="0.9"/>
<line x1="603.8" y1="114.8" x2="594.2" y2="121.0" stroke="#a88070" stroke-width="0.7" opacity="0.9"/>
<line x1="603.8" y1="114.8" x2="608.2" y2="121.0" stroke="#a88070" stroke-width="0.7" opacity="0.9"/>
<line x1="622.4" y1="99.8" x2="617.8" y2="93.7" stroke="#a88070" stroke-width="0.7" opacity="0.9"/>
<line x1="622.4" y1="99.8" x2="631.8" y2="93.7" stroke="#a88070" stroke-width="0.7" opacity="0.9"/>
<line x1="622.4" y1="99.8" x2="613.0" y2="107.4" stroke="#a88070" stroke-width="0.7" opacity="0.9"/>
<line x1="622.4" y1="99.8" x2="627.0" y2="107.4" stroke="#a88070" stroke-width="0.7" opacity="0.9"/>
<line x1="617.8" y1="114.8" x2="613.0" y2="107.4" stroke="#a88070" stroke-width="0.7" opacity="0.9"/>
<line x1="617.8" y1="114.8" x2="627.0" y2="107.4" stroke="#a88070" stroke-width="0.7" opacity="0.9"/>
<line x1="617.8" y1="114.8" x2="608.2" y2="121.0" stroke="#a88070" stroke-width="0.7" opacity="0.9"/>
<line x1="617.8" y1="114.8" x2="622.2" y2="121.0" stroke="#a88070" stroke-width="0.7" opacity="0.9"/>
<line x1="636.4" y1="99.8" x2="631.8" y2="93.7" stroke="#a88070" stroke-width="0.7" opacity="0.9"/>
<line x1="636.4" y1="99.8" x2="645.8" y2="93.7" stroke="#a88070" stroke-width="0.7" opacity="0.9"/>
<line x1="636.4" y1="99.8" x2="627.0" y2="107.4" stroke="#a88070" stroke-width="0.7" opacity="0.9"/>
<line x1="636.4" y1="99.8" x2="641.0" y2="107.4" stroke="#a88070" stroke-width="0.7" opacity="0.9"/>
<line x1="631.8" y1="114.8" x2="627.0" y2="107.4" stroke="#a88070" stroke-width="0.7" opacity="0.9"/>
<line x1="631.8" y1="114.8" x2="641.0" y2="107.4" stroke="#a88070" stroke-width="0.7" opacity="0.9"/>
<line x1="631.8" y1="114.8" x2="622.2" y2="121.0" stroke="#a88070" stroke-width="0.7" opacity="0.9"/>
<line x1="631.8" y1="114.8" x2="636.2" y2="121.0" stroke="#a88070" stroke-width="0.7" opacity="0.9"/>
<circle cx="608.4" cy="99.8" r="3.0" fill="url(#gBi)"/>
<circle cx="622.4" cy="99.8" r="3.0" fill="url(#gBi)"/>
<circle cx="636.4" cy="99.8" r="3.0" fill="url(#gBi)"/>
<circle cx="603.8" cy="114.8" r="3.0" fill="url(#gBi)"/>
<circle cx="617.8" cy="114.8" r="3.0" fill="url(#gBi)"/>
<circle cx="631.8" cy="114.8" r="3.0" fill="url(#gBi)"/>
<circle cx="603.8" cy="93.7" r="1.9" fill="url(#gSe)"/>
<circle cx="617.8" cy="93.7" r="1.9" fill="url(#gSe)"/>
<circle cx="631.8" cy="93.7" r="1.9" fill="url(#gSe)"/>
<circle cx="645.8" cy="93.7" r="1.9" fill="url(#gSe)"/>
<circle cx="599.0" cy="107.4" r="1.9" fill="url(#gSe)"/>
<circle cx="613.0" cy="107.4" r="1.9" fill="url(#gSe)"/>
<circle cx="627.0" cy="107.4" r="1.9" fill="url(#gSe)"/>
<circle cx="641.0" cy="107.4" r="1.9" fill="url(#gSe)"/>
<circle cx="594.2" cy="121.0" r="1.9" fill="url(#gSe)"/>
<circle cx="608.2" cy="121.0" r="1.9" fill="url(#gSe)"/>
<circle cx="622.2" cy="121.0" r="1.9" fill="url(#gSe)"/>
<circle cx="636.2" cy="121.0" r="1.9" fill="url(#gSe)"/>
<path d="M599.5,133.0 L641.5,133.0 L636.7,146.7 L594.7,146.7 Z" fill="#e0a6ee"/>
<path d="M594.7,146.7 L636.7,146.7 L631.9,160.3 L589.9,160.3 Z" fill="#cc6ee0"/>
<line x1="604.1" y1="139.1" x2="599.5" y2="133.0" stroke="#a88070" stroke-width="0.7" opacity="0.9"/>
<line x1="604.1" y1="139.1" x2="613.5" y2="133.0" stroke="#a88070" stroke-width="0.7" opacity="0.9"/>
<line x1="604.1" y1="139.1" x2="594.7" y2="146.7" stroke="#a88070" stroke-width="0.7" opacity="0.9"/>
<line x1="604.1" y1="139.1" x2="608.7" y2="146.7" stroke="#a88070" stroke-width="0.7" opacity="0.9"/>
<line x1="599.5" y1="154.1" x2="594.7" y2="146.7" stroke="#a88070" stroke-width="0.7" opacity="0.9"/>
<line x1="599.5" y1="154.1" x2="608.7" y2="146.7" stroke="#a88070" stroke-width="0.7" opacity="0.9"/>
<line x1="599.5" y1="154.1" x2="589.9" y2="160.3" stroke="#a88070" stroke-width="0.7" opacity="0.9"/>
<line x1="599.5" y1="154.1" x2="603.9" y2="160.3" stroke="#a88070" stroke-width="0.7" opacity="0.9"/>
<line x1="618.1" y1="139.1" x2="613.5" y2="133.0" stroke="#a88070" stroke-width="0.7" opacity="0.9"/>
<line x1="618.1" y1="139.1" x2="627.5" y2="133.0" stroke="#a88070" stroke-width="0.7" opacity="0.9"/>
<line x1="618.1" y1="139.1" x2="608.7" y2="146.7" stroke="#a88070" stroke-width="0.7" opacity="0.9"/>
<line x1="618.1" y1="139.1" x2="622.7" y2="146.7" stroke="#a88070" stroke-width="0.7" opacity="0.9"/>
<line x1="613.5" y1="154.1" x2="608.7" y2="146.7" stroke="#a88070" stroke-width="0.7" opacity="0.9"/>
<line x1="613.5" y1="154.1" x2="622.7" y2="146.7" stroke="#a88070" stroke-width="0.7" opacity="0.9"/>
<line x1="613.5" y1="154.1" x2="603.9" y2="160.3" stroke="#a88070" stroke-width="0.7" opacity="0.9"/>
<line x1="613.5" y1="154.1" x2="617.9" y2="160.3" stroke="#a88070" stroke-width="0.7" opacity="0.9"/>
<line x1="632.1" y1="139.1" x2="627.5" y2="133.0" stroke="#a88070" stroke-width="0.7" opacity="0.9"/>
<line x1="632.1" y1="139.1" x2="641.5" y2="133.0" stroke="#a88070" stroke-width="0.7" opacity="0.9"/>
<line x1="632.1" y1="139.1" x2="622.7" y2="146.7" stroke="#a88070" stroke-width="0.7" opacity="0.9"/>
<line x1="632.1" y1="139.1" x2="636.7" y2="146.7" stroke="#a88070" stroke-width="0.7" opacity="0.9"/>
<line x1="627.5" y1="154.1" x2="622.7" y2="146.7" stroke="#a88070" stroke-width="0.7" opacity="0.9"/>
<line x1="627.5" y1="154.1" x2="636.7" y2="146.7" stroke="#a88070" stroke-width="0.7" opacity="0.9"/>
<line x1="627.5" y1="154.1" x2="617.9" y2="160.3" stroke="#a88070" stroke-width="0.7" opacity="0.9"/>
<line x1="627.5" y1="154.1" x2="631.9" y2="160.3" stroke="#a88070" stroke-width="0.7" opacity="0.9"/>
<circle cx="604.1" cy="139.1" r="3.0" fill="url(#gBi)"/>
<circle cx="618.1" cy="139.1" r="3.0" fill="url(#gBi)"/>
<circle cx="632.1" cy="139.1" r="3.0" fill="url(#gBi)"/>
<circle cx="599.5" cy="154.1" r="3.0" fill="url(#gBi)"/>
<circle cx="613.5" cy="154.1" r="3.0" fill="url(#gBi)"/>
<circle cx="627.5" cy="154.1" r="3.0" fill="url(#gBi)"/>
<circle cx="599.5" cy="133.0" r="1.9" fill="url(#gSe)"/>
<circle cx="613.5" cy="133.0" r="1.9" fill="url(#gSe)"/>
<circle cx="627.5" cy="133.0" r="1.9" fill="url(#gSe)"/>
<circle cx="641.5" cy="133.0" r="1.9" fill="url(#gSe)"/>
<circle cx="594.7" cy="146.7" r="1.9" fill="url(#gSe)"/>
<circle cx="608.7" cy="146.7" r="1.9" fill="url(#gSe)"/>
<circle cx="622.7" cy="146.7" r="1.9" fill="url(#gSe)"/>
<circle cx="636.7" cy="146.7" r="1.9" fill="url(#gSe)"/>
<circle cx="589.9" cy="160.3" r="1.9" fill="url(#gSe)"/>
<circle cx="603.9" cy="160.3" r="1.9" fill="url(#gSe)"/>
<circle cx="617.9" cy="160.3" r="1.9" fill="url(#gSe)"/>
<circle cx="631.9" cy="160.3" r="1.9" fill="url(#gSe)"/>
<path d="M608.6,172.2 L650.6,172.2 L645.8000000000001,185.9 L603.8000000000001,185.9 Z" fill="#cc6ee0"/>
<path d="M603.8000000000001,185.9 L645.8000000000001,185.9 L641.0,199.5 L599.0,199.5 Z" fill="#e0a6ee"/>
<line x1="613.2" y1="178.3" x2="608.6" y2="172.2" stroke="#a88070" stroke-width="0.7" opacity="0.9"/>
<line x1="613.2" y1="178.3" x2="622.6" y2="172.2" stroke="#a88070" stroke-width="0.7" opacity="0.9"/>
<line x1="613.2" y1="178.3" x2="603.8" y2="185.9" stroke="#a88070" stroke-width="0.7" opacity="0.9"/>
<line x1="613.2" y1="178.3" x2="617.8" y2="185.9" stroke="#a88070" stroke-width="0.7" opacity="0.9"/>
<line x1="608.6" y1="193.3" x2="603.8" y2="185.9" stroke="#a88070" stroke-width="0.7" opacity="0.9"/>
<line x1="608.6" y1="193.3" x2="617.8" y2="185.9" stroke="#a88070" stroke-width="0.7" opacity="0.9"/>
<line x1="608.6" y1="193.3" x2="599.0" y2="199.5" stroke="#a88070" stroke-width="0.7" opacity="0.9"/>
<line x1="608.6" y1="193.3" x2="613.0" y2="199.5" stroke="#a88070" stroke-width="0.7" opacity="0.9"/>
<line x1="627.2" y1="178.3" x2="622.6" y2="172.2" stroke="#a88070" stroke-width="0.7" opacity="0.9"/>
<line x1="627.2" y1="178.3" x2="636.6" y2="172.2" stroke="#a88070" stroke-width="0.7" opacity="0.9"/>
<line x1="627.2" y1="178.3" x2="617.8" y2="185.9" stroke="#a88070" stroke-width="0.7" opacity="0.9"/>
<line x1="627.2" y1="178.3" x2="631.8" y2="185.9" stroke="#a88070" stroke-width="0.7" opacity="0.9"/>
<line x1="622.6" y1="193.3" x2="617.8" y2="185.9" stroke="#a88070" stroke-width="0.7" opacity="0.9"/>
<line x1="622.6" y1="193.3" x2="631.8" y2="185.9" stroke="#a88070" stroke-width="0.7" opacity="0.9"/>
<line x1="622.6" y1="193.3" x2="613.0" y2="199.5" stroke="#a88070" stroke-width="0.7" opacity="0.9"/>
<line x1="622.6" y1="193.3" x2="627.0" y2="199.5" stroke="#a88070" stroke-width="0.7" opacity="0.9"/>
<line x1="641.2" y1="178.3" x2="636.6" y2="172.2" stroke="#a88070" stroke-width="0.7" opacity="0.9"/>
<line x1="641.2" y1="178.3" x2="650.6" y2="172.2" stroke="#a88070" stroke-width="0.7" opacity="0.9"/>
<line x1="641.2" y1="178.3" x2="631.8" y2="185.9" stroke="#a88070" stroke-width="0.7" opacity="0.9"/>
<line x1="641.2" y1="178.3" x2="645.8" y2="185.9" stroke="#a88070" stroke-width="0.7" opacity="0.9"/>
<line x1="636.6" y1="193.3" x2="631.8" y2="185.9" stroke="#a88070" stroke-width="0.7" opacity="0.9"/>
<line x1="636.6" y1="193.3" x2="645.8" y2="185.9" stroke="#a88070" stroke-width="0.7" opacity="0.9"/>
<line x1="636.6" y1="193.3" x2="627.0" y2="199.5" stroke="#a88070" stroke-width="0.7" opacity="0.9"/>
<line x1="636.6" y1="193.3" x2="641.0" y2="199.5" stroke="#a88070" stroke-width="0.7" opacity="0.9"/>
<circle cx="613.2" cy="178.3" r="3.0" fill="url(#gBi)"/>
<circle cx="627.2" cy="178.3" r="3.0" fill="url(#gBi)"/>
<circle cx="641.2" cy="178.3" r="3.0" fill="url(#gBi)"/>
<circle cx="608.6" cy="193.3" r="3.0" fill="url(#gBi)"/>
<circle cx="622.6" cy="193.3" r="3.0" fill="url(#gBi)"/>
<circle cx="636.6" cy="193.3" r="3.0" fill="url(#gBi)"/>
<circle cx="608.6" cy="172.2" r="1.9" fill="url(#gSe)"/>
<circle cx="622.6" cy="172.2" r="1.9" fill="url(#gSe)"/>
<circle cx="636.6" cy="172.2" r="1.9" fill="url(#gSe)"/>
<circle cx="650.6" cy="172.2" r="1.9" fill="url(#gSe)"/>
<circle cx="603.8" cy="185.9" r="1.9" fill="url(#gSe)"/>
<circle cx="617.8" cy="185.9" r="1.9" fill="url(#gSe)"/>
<circle cx="631.8" cy="185.9" r="1.9" fill="url(#gSe)"/>
<circle cx="645.8" cy="185.9" r="1.9" fill="url(#gSe)"/>
<circle cx="599.0" cy="199.5" r="1.9" fill="url(#gSe)"/>
<circle cx="613.0" cy="199.5" r="1.9" fill="url(#gSe)"/>
<circle cx="627.0" cy="199.5" r="1.9" fill="url(#gSe)"/>
<circle cx="641.0" cy="199.5" r="1.9" fill="url(#gSe)"/>
<path d="M603.8,211.4 L645.8,211.4 L641.0,225.1 L599.0,225.1 Z" fill="#e0a6ee"/>
<path d="M599.0,225.1 L641.0,225.1 L636.1999999999999,238.7 L594.1999999999999,238.7 Z" fill="#cc6ee0"/>
<line x1="608.4" y1="217.5" x2="603.8" y2="211.4" stroke="#a88070" stroke-width="0.7" opacity="0.9"/>
<line x1="608.4" y1="217.5" x2="617.8" y2="211.4" stroke="#a88070" stroke-width="0.7" opacity="0.9"/>
<line x1="608.4" y1="217.5" x2="599.0" y2="225.1" stroke="#a88070" stroke-width="0.7" opacity="0.9"/>
<line x1="608.4" y1="217.5" x2="613.0" y2="225.1" stroke="#a88070" stroke-width="0.7" opacity="0.9"/>
<line x1="603.8" y1="232.5" x2="599.0" y2="225.1" stroke="#a88070" stroke-width="0.7" opacity="0.9"/>
<line x1="603.8" y1="232.5" x2="613.0" y2="225.1" stroke="#a88070" stroke-width="0.7" opacity="0.9"/>
<line x1="603.8" y1="232.5" x2="594.2" y2="238.7" stroke="#a88070" stroke-width="0.7" opacity="0.9"/>
<line x1="603.8" y1="232.5" x2="608.2" y2="238.7" stroke="#a88070" stroke-width="0.7" opacity="0.9"/>
<line x1="622.4" y1="217.5" x2="617.8" y2="211.4" stroke="#a88070" stroke-width="0.7" opacity="0.9"/>
<line x1="622.4" y1="217.5" x2="631.8" y2="211.4" stroke="#a88070" stroke-width="0.7" opacity="0.9"/>
<line x1="622.4" y1="217.5" x2="613.0" y2="225.1" stroke="#a88070" stroke-width="0.7" opacity="0.9"/>
<line x1="622.4" y1="217.5" x2="627.0" y2="225.1" stroke="#a88070" stroke-width="0.7" opacity="0.9"/>
<line x1="617.8" y1="232.5" x2="613.0" y2="225.1" stroke="#a88070" stroke-width="0.7" opacity="0.9"/>
<line x1="617.8" y1="232.5" x2="627.0" y2="225.1" stroke="#a88070" stroke-width="0.7" opacity="0.9"/>
<line x1="617.8" y1="232.5" x2="608.2" y2="238.7" stroke="#a88070" stroke-width="0.7" opacity="0.9"/>
<line x1="617.8" y1="232.5" x2="622.2" y2="238.7" stroke="#a88070" stroke-width="0.7" opacity="0.9"/>
<line x1="636.4" y1="217.5" x2="631.8" y2="211.4" stroke="#a88070" stroke-width="0.7" opacity="0.9"/>
<line x1="636.4" y1="217.5" x2="645.8" y2="211.4" stroke="#a88070" stroke-width="0.7" opacity="0.9"/>
<line x1="636.4" y1="217.5" x2="627.0" y2="225.1" stroke="#a88070" stroke-width="0.7" opacity="0.9"/>
<line x1="636.4" y1="217.5" x2="641.0" y2="225.1" stroke="#a88070" stroke-width="0.7" opacity="0.9"/>
<line x1="631.8" y1="232.5" x2="627.0" y2="225.1" stroke="#a88070" stroke-width="0.7" opacity="0.9"/>
<line x1="631.8" y1="232.5" x2="641.0" y2="225.1" stroke="#a88070" stroke-width="0.7" opacity="0.9"/>
<line x1="631.8" y1="232.5" x2="622.2" y2="238.7" stroke="#a88070" stroke-width="0.7" opacity="0.9"/>
<line x1="631.8" y1="232.5" x2="636.2" y2="238.7" stroke="#a88070" stroke-width="0.7" opacity="0.9"/>
<circle cx="608.4" cy="217.5" r="3.0" fill="url(#gBi)"/>
<circle cx="622.4" cy="217.5" r="3.0" fill="url(#gBi)"/>
<circle cx="636.4" cy="217.5" r="3.0" fill="url(#gBi)"/>
<circle cx="603.8" cy="232.5" r="3.0" fill="url(#gBi)"/>
<circle cx="617.8" cy="232.5" r="3.0" fill="url(#gBi)"/>
<circle cx="631.8" cy="232.5" r="3.0" fill="url(#gBi)"/>
<circle cx="603.8" cy="211.4" r="1.9" fill="url(#gSe)"/>
<circle cx="617.8" cy="211.4" r="1.9" fill="url(#gSe)"/>
<circle cx="631.8" cy="211.4" r="1.9" fill="url(#gSe)"/>
<circle cx="645.8" cy="211.4" r="1.9" fill="url(#gSe)"/>
<circle cx="599.0" cy="225.1" r="1.9" fill="url(#gSe)"/>
<circle cx="613.0" cy="225.1" r="1.9" fill="url(#gSe)"/>
<circle cx="627.0" cy="225.1" r="1.9" fill="url(#gSe)"/>
<circle cx="641.0" cy="225.1" r="1.9" fill="url(#gSe)"/>
<circle cx="594.2" cy="238.7" r="1.9" fill="url(#gSe)"/>
<circle cx="608.2" cy="238.7" r="1.9" fill="url(#gSe)"/>
<circle cx="622.2" cy="238.7" r="1.9" fill="url(#gSe)"/>
<circle cx="636.2" cy="238.7" r="1.9" fill="url(#gSe)"/>
<line x1="599.5" y1="0" x2="599.5" y2="246" stroke="#5fb0ff" stroke-width="1.15"/>
<line x1="613.4" y1="0" x2="613.4" y2="246" stroke="#5fb0ff" stroke-width="1.15"/>
<line x1="627.4" y1="0" x2="627.4" y2="246" stroke="#5fb0ff" stroke-width="1.15"/>
<line x1="641.5" y1="0" x2="641.5" y2="246" stroke="#5fb0ff" stroke-width="1.15"/>
<path d="M656.5,212.4 L659.3,212.4 L659.3,241 L656.5,241" fill="none" stroke="#4a78c8" stroke-width="1"/>
<text x="663.5" y="231.8" font-size="14.5" text-anchor="start" font-weight="normal"  >QL</text>
<circle cx="542" cy="169.2" r="6.3" fill="url(#gBi)"/>
<circle cx="542" cy="187.3" r="6.3" fill="url(#gSe)"/>
<text x="556.0" y="173.6" font-size="14" text-anchor="start" font-weight="normal"  >Bi</text>
<text x="556.0" y="191.8" font-size="14" text-anchor="start" font-weight="normal"  >Se</text>
<line x1="536" y1="243" x2="536" y2="220" stroke="#1010e0" stroke-width="2"/>
<path d="M536,212 L532.3,221.5 L539.7,221.5 Z" fill="#1010e0"/>
<line x1="536" y1="243" x2="557" y2="243" stroke="#10c010" stroke-width="2"/>
<path d="M563.5,243 L555,239.3 L555,246.7 Z" fill="#10c010"/>
<circle cx="536" cy="243" r="3.2" fill="url(#gR)"/>
<text x="536" y="208.5" font-size="6" font-weight="bold" text-anchor="middle" font-family="Liberation Sans">c</text>
<text x="568" y="245.5" font-size="6" font-weight="bold" text-anchor="middle" font-family="Liberation Sans">b</text>
<line x1="120.4" y1="3.5" x2="120.4" y2="256" stroke="#8a8a8a" stroke-width="0.9"/>
<line x1="129.6" y1="3.5" x2="129.6" y2="256" stroke="#8a8a8a" stroke-width="0.9"/>
<line x1="132.3" y1="3.5" x2="132.3" y2="256" stroke="#8a8a8a" stroke-width="0.9"/>
<line x1="141.6" y1="3.5" x2="141.6" y2="256" stroke="#8a8a8a" stroke-width="0.9"/>
<path d="M120.4,3.5 L129.6,2.2 L141.6,2.8 L132.3,4.3 Z" fill="none" stroke="#999" stroke-width="0.7"/>
<path d="M120.4,256 L129.6,254.7 L141.6,255.3 L132.3,256.8 Z" fill="none" stroke="#999" stroke-width="0.7"/>
<g stroke-width="0.9"><line x1="134.5" y1="5.5" x2="132.2" y2="9.3" stroke="#cc66dd"/><line x1="132.2" y1="9.3" x2="129.9" y2="13.2" stroke="#a4d445"/><line x1="134.5" y1="5.5" x2="133.6" y2="9.3" stroke="#cc66dd"/><line x1="133.6" y1="9.3" x2="132.7" y2="13.2" stroke="#a4d445"/><line x1="127.4" y1="17.6" x2="124.0" y2="15.4" stroke="#cc66dd"/><line x1="124.0" y1="15.4" x2="120.6" y2="13.2" stroke="#a4d445"/><line x1="127.4" y1="17.6" x2="128.7" y2="15.4" stroke="#cc66dd"/><line x1="128.7" y1="15.4" x2="129.9" y2="13.2" stroke="#a4d445"/><line x1="127.4" y1="17.6" x2="130.1" y2="15.4" stroke="#cc66dd"/><line x1="130.1" y1="15.4" x2="132.7" y2="13.2" stroke="#a4d445"/><line x1="127.4" y1="17.6" x2="124.9" y2="20.3" stroke="#cc66dd"/><line x1="124.9" y1="20.3" x2="122.4" y2="23.0" stroke="#a4d445"/><line x1="127.4" y1="17.6" x2="126.2" y2="20.3" stroke="#cc66dd"/><line x1="126.2" y1="20.3" x2="125.1" y2="23.0" stroke="#a4d445"/><line x1="127.4" y1="17.6" x2="129.7" y2="20.3" stroke="#cc66dd"/><line x1="129.7" y1="20.3" x2="132.0" y2="23.0" stroke="#a4d445"/><line x1="127.4" y1="67.8" x2="128.7" y2="63.6" stroke="#cc66dd"/><line x1="128.7" y1="63.6" x2="129.9" y2="59.5" stroke="#a4d445"/><line x1="127.4" y1="67.8" x2="123.9" y2="65.0" stroke="#cc66dd"/><line x1="123.9" y1="65.0" x2="120.4" y2="62.3" stroke="#a4d445"/><line x1="127.4" y1="67.8" x2="130.0" y2="65.4" stroke="#cc66dd"/><line x1="130.0" y1="65.4" x2="132.6" y2="63.0" stroke="#a4d445"/><line x1="127.4" y1="84.6" x2="124.0" y2="82.5" stroke="#cc66dd"/><line x1="124.0" y1="82.5" x2="120.6" y2="80.5" stroke="#a4d445"/><line x1="127.4" y1="84.6" x2="128.7" y2="82.5" stroke="#cc66dd"/><line x1="128.7" y1="82.5" x2="129.9" y2="80.5" stroke="#a4d445"/><line x1="127.4" y1="84.6" x2="130.1" y2="82.5" stroke="#cc66dd"/><line x1="130.1" y1="82.5" x2="132.7" y2="80.5" stroke="#a4d445"/><line x1="127.4" y1="84.6" x2="124.9" y2="87.4" stroke="#cc66dd"/><line x1="124.9" y1="87.4" x2="122.4" y2="90.3" stroke="#a4d445"/><line x1="127.4" y1="84.6" x2="126.2" y2="87.4" stroke="#cc66dd"/><line x1="126.2" y1="87.4" x2="125.1" y2="90.3" stroke="#a4d445"/><line x1="127.4" y1="84.6" x2="129.7" y2="87.4" stroke="#cc66dd"/><line x1="129.7" y1="87.4" x2="132.0" y2="90.3" stroke="#a4d445"/><line x1="134.5" y1="124.1" x2="131.1" y2="121.8" stroke="#cc66dd"/><line x1="131.1" y1="121.8" x2="127.7" y2="119.6" stroke="#a4d445"/><line x1="134.5" y1="124.1" x2="135.7" y2="121.8" stroke="#cc66dd"/><line x1="135.7" y1="121.8" x2="136.8" y2="119.6" stroke="#a4d445"/><line x1="134.5" y1="124.1" x2="132.2" y2="125.4" stroke="#cc66dd"/><line x1="132.2" y1="125.4" x2="129.9" y2="126.8" stroke="#a4d445"/><line x1="134.5" y1="124.1" x2="138.1" y2="125.4" stroke="#cc66dd"/><line x1="138.1" y1="125.4" x2="141.6" y2="126.8" stroke="#a4d445"/><line x1="134.5" y1="124.1" x2="132.2" y2="128.2" stroke="#cc66dd"/><line x1="132.2" y1="128.2" x2="129.9" y2="132.4" stroke="#a4d445"/><line x1="134.5" y1="124.1" x2="133.6" y2="128.2" stroke="#cc66dd"/><line x1="133.6" y1="128.2" x2="132.7" y2="132.4" stroke="#a4d445"/><line x1="134.5" y1="124.1" x2="132.1" y2="120.9" stroke="#cc66dd"/><line x1="132.1" y1="120.9" x2="129.6" y2="117.8" stroke="#a4d445"/><line x1="134.5" y1="124.1" x2="133.6" y2="121.7" stroke="#cc66dd"/><line x1="133.6" y1="121.7" x2="132.6" y2="119.3" stroke="#a4d445"/><line x1="134.5" y1="124.1" x2="138.0" y2="121.3" stroke="#cc66dd"/><line x1="138.0" y1="121.3" x2="141.5" y2="118.5" stroke="#a4d445"/><line x1="134.5" y1="124.1" x2="138.0" y2="126.8" stroke="#cc66dd"/><line x1="138.0" y1="126.8" x2="141.5" y2="129.5" stroke="#a4d445"/><line x1="127.4" y1="135.1" x2="128.7" y2="130.9" stroke="#cc66dd"/><line x1="128.7" y1="130.9" x2="129.9" y2="126.8" stroke="#a4d445"/><line x1="127.4" y1="135.1" x2="124.0" y2="133.8" stroke="#cc66dd"/><line x1="124.0" y1="133.8" x2="120.6" y2="132.4" stroke="#a4d445"/><line x1="127.4" y1="135.1" x2="128.7" y2="133.8" stroke="#cc66dd"/><line x1="128.7" y1="133.8" x2="129.9" y2="132.4" stroke="#a4d445"/><line x1="127.4" y1="135.1" x2="130.1" y2="133.8" stroke="#cc66dd"/><line x1="130.1" y1="133.8" x2="132.7" y2="132.4" stroke="#a4d445"/><line x1="127.4" y1="135.1" x2="124.9" y2="138.6" stroke="#cc66dd"/><line x1="124.9" y1="138.6" x2="122.4" y2="142.2" stroke="#a4d445"/><line x1="127.4" y1="135.1" x2="126.2" y2="138.6" stroke="#cc66dd"/><line x1="126.2" y1="138.6" x2="125.1" y2="142.2" stroke="#a4d445"/><line x1="127.4" y1="135.1" x2="129.7" y2="138.6" stroke="#cc66dd"/><line x1="129.7" y1="138.6" x2="132.0" y2="142.2" stroke="#a4d445"/><line x1="127.4" y1="135.1" x2="123.9" y2="132.3" stroke="#cc66dd"/><line x1="123.9" y1="132.3" x2="120.4" y2="129.6" stroke="#a4d445"/><line x1="134.5" y1="174.6" x2="131.1" y2="173.1" stroke="#cc66dd"/><line x1="131.1" y1="173.1" x2="127.7" y2="171.5" stroke="#a4d445"/><line x1="134.5" y1="174.6" x2="135.7" y2="173.1" stroke="#cc66dd"/><line x1="135.7" y1="173.1" x2="136.8" y2="171.5" stroke="#a4d445"/><line x1="134.5" y1="174.6" x2="132.2" y2="176.6" stroke="#cc66dd"/><line x1="132.2" y1="176.6" x2="129.9" y2="178.7" stroke="#a4d445"/><line x1="134.5" y1="174.6" x2="138.1" y2="176.6" stroke="#cc66dd"/><line x1="138.1" y1="176.6" x2="141.6" y2="178.7" stroke="#a4d445"/><line x1="134.5" y1="174.6" x2="132.1" y2="171.4" stroke="#cc66dd"/><line x1="132.1" y1="171.4" x2="129.6" y2="168.3" stroke="#a4d445"/><line x1="134.5" y1="174.6" x2="133.6" y2="172.2" stroke="#cc66dd"/><line x1="133.6" y1="172.2" x2="132.6" y2="169.8" stroke="#a4d445"/><line x1="134.5" y1="174.6" x2="138.0" y2="171.8" stroke="#cc66dd"/><line x1="138.0" y1="171.8" x2="141.5" y2="169.0" stroke="#a4d445"/><line x1="134.5" y1="191.3" x2="132.2" y2="195.3" stroke="#cc66dd"/><line x1="132.2" y1="195.3" x2="129.9" y2="199.3" stroke="#a4d445"/><line x1="134.5" y1="191.3" x2="133.6" y2="195.3" stroke="#cc66dd"/><line x1="133.6" y1="195.3" x2="132.7" y2="199.3" stroke="#a4d445"/><line x1="134.5" y1="191.3" x2="132.1" y2="188.2" stroke="#cc66dd"/><line x1="132.1" y1="188.2" x2="129.6" y2="185.0" stroke="#a4d445"/><line x1="134.5" y1="191.3" x2="133.6" y2="188.9" stroke="#cc66dd"/><line x1="133.6" y1="188.9" x2="132.6" y2="186.5" stroke="#a4d445"/><line x1="134.5" y1="191.3" x2="138.0" y2="188.5" stroke="#cc66dd"/><line x1="138.0" y1="188.5" x2="141.5" y2="185.7" stroke="#a4d445"/><line x1="134.5" y1="191.3" x2="132.1" y2="193.6" stroke="#cc66dd"/><line x1="132.1" y1="193.6" x2="129.6" y2="195.9" stroke="#a4d445"/><line x1="134.5" y1="191.3" x2="138.0" y2="193.9" stroke="#cc66dd"/><line x1="138.0" y1="193.9" x2="141.5" y2="196.6" stroke="#a4d445"/><line x1="127.4" y1="202.2" x2="124.0" y2="200.8" stroke="#cc66dd"/><line x1="124.0" y1="200.8" x2="120.6" y2="199.3" stroke="#a4d445"/><line x1="127.4" y1="202.2" x2="128.7" y2="200.8" stroke="#cc66dd"/><line x1="128.7" y1="200.8" x2="129.9" y2="199.3" stroke="#a4d445"/><line x1="127.4" y1="202.2" x2="130.1" y2="200.8" stroke="#cc66dd"/><line x1="130.1" y1="200.8" x2="132.7" y2="199.3" stroke="#a4d445"/><line x1="127.4" y1="202.2" x2="124.9" y2="205.6" stroke="#cc66dd"/><line x1="124.9" y1="205.6" x2="122.4" y2="209.1" stroke="#a4d445"/><line x1="127.4" y1="202.2" x2="126.2" y2="205.6" stroke="#cc66dd"/><line x1="126.2" y1="205.6" x2="125.1" y2="209.1" stroke="#a4d445"/><line x1="127.4" y1="202.2" x2="129.7" y2="205.6" stroke="#cc66dd"/><line x1="129.7" y1="205.6" x2="132.0" y2="209.1" stroke="#a4d445"/><line x1="127.4" y1="202.2" x2="123.9" y2="199.4" stroke="#cc66dd"/><line x1="123.9" y1="199.4" x2="120.4" y2="196.7" stroke="#a4d445"/><line x1="127.4" y1="202.2" x2="128.5" y2="199.0" stroke="#cc66dd"/><line x1="128.5" y1="199.0" x2="129.6" y2="195.9" stroke="#a4d445"/><line x1="134.5" y1="241.9" x2="131.1" y2="240.2" stroke="#cc66dd"/><line x1="131.1" y1="240.2" x2="127.7" y2="238.4" stroke="#a4d445"/><line x1="134.5" y1="241.9" x2="135.7" y2="240.2" stroke="#cc66dd"/><line x1="135.7" y1="240.2" x2="136.8" y2="238.4" stroke="#a4d445"/><line x1="134.5" y1="241.9" x2="132.2" y2="243.8" stroke="#cc66dd"/><line x1="132.2" y1="243.8" x2="129.9" y2="245.6" stroke="#a4d445"/><line x1="134.5" y1="241.9" x2="138.1" y2="243.8" stroke="#cc66dd"/><line x1="138.1" y1="243.8" x2="141.6" y2="245.6" stroke="#a4d445"/><line x1="134.5" y1="241.9" x2="132.1" y2="238.8" stroke="#cc66dd"/><line x1="132.1" y1="238.8" x2="129.6" y2="235.6" stroke="#a4d445"/><line x1="134.5" y1="241.9" x2="133.6" y2="239.5" stroke="#cc66dd"/><line x1="133.6" y1="239.5" x2="132.6" y2="237.1" stroke="#a4d445"/><line x1="134.5" y1="241.9" x2="138.0" y2="239.1" stroke="#cc66dd"/><line x1="138.0" y1="239.1" x2="141.5" y2="236.3" stroke="#a4d445"/><line x1="134.5" y1="241.9" x2="133.6" y2="245.6" stroke="#cc66dd"/><line x1="133.6" y1="245.6" x2="132.6" y2="249.3" stroke="#a4d445"/><line x1="127.4" y1="254.1" x2="128.7" y2="249.8" stroke="#cc66dd"/><line x1="128.7" y1="249.8" x2="129.9" y2="245.6" stroke="#a4d445"/><line x1="127.4" y1="254.1" x2="123.9" y2="251.3" stroke="#cc66dd"/><line x1="123.9" y1="251.3" x2="120.4" y2="248.6" stroke="#a4d445"/><line x1="127.4" y1="254.1" x2="130.0" y2="251.7" stroke="#cc66dd"/><line x1="130.0" y1="251.7" x2="132.6" y2="249.3" stroke="#a4d445"/><line x1="134.5" y1="56.9" x2="131.1" y2="54.6" stroke="#cc66dd"/><line x1="131.1" y1="54.6" x2="127.7" y2="52.3" stroke="#a4d445"/><line x1="134.5" y1="56.9" x2="135.7" y2="54.6" stroke="#cc66dd"/><line x1="135.7" y1="54.6" x2="136.8" y2="52.3" stroke="#a4d445"/><line x1="134.5" y1="56.9" x2="132.2" y2="58.2" stroke="#cc66dd"/><line x1="132.2" y1="58.2" x2="129.9" y2="59.5" stroke="#a4d445"/><line x1="134.5" y1="56.9" x2="138.1" y2="58.2" stroke="#cc66dd"/><line x1="138.1" y1="58.2" x2="141.6" y2="59.5" stroke="#a4d445"/><line x1="134.5" y1="56.9" x2="133.6" y2="60.0" stroke="#cc66dd"/><line x1="133.6" y1="60.0" x2="132.6" y2="63.0" stroke="#a4d445"/><line x1="134.5" y1="56.9" x2="138.0" y2="59.5" stroke="#cc66dd"/><line x1="138.0" y1="59.5" x2="141.5" y2="62.2" stroke="#a4d445"/><line x1="134.5" y1="56.9" x2="133.6" y2="54.5" stroke="#cc66dd"/><line x1="133.6" y1="54.5" x2="132.6" y2="52.1" stroke="#a4d445"/><line x1="134.5" y1="56.9" x2="138.0" y2="54.1" stroke="#cc66dd"/><line x1="138.0" y1="54.1" x2="141.5" y2="51.3" stroke="#a4d445"/><line x1="120.4" y1="28.0" x2="116.8" y2="25.5" stroke="#cc66dd"/><line x1="116.8" y1="25.5" x2="113.1" y2="23.0" stroke="#a4d445"/><line x1="120.4" y1="28.0" x2="121.4" y2="25.5" stroke="#cc66dd"/><line x1="121.4" y1="25.5" x2="122.4" y2="23.0" stroke="#a4d445"/><line x1="120.4" y1="28.0" x2="122.8" y2="25.5" stroke="#cc66dd"/><line x1="122.8" y1="25.5" x2="125.1" y2="23.0" stroke="#a4d445"/><line x1="120.4" y1="28.0" x2="118.0" y2="30.1" stroke="#cc66dd"/><line x1="118.0" y1="30.1" x2="115.5" y2="32.2" stroke="#a4d445"/><line x1="120.4" y1="28.0" x2="122.8" y2="30.1" stroke="#cc66dd"/><line x1="122.8" y1="30.1" x2="125.1" y2="32.2" stroke="#a4d445"/><line x1="120.4" y1="28.0" x2="124.1" y2="30.1" stroke="#cc66dd"/><line x1="124.1" y1="30.1" x2="127.7" y2="32.2" stroke="#a4d445"/><line x1="129.6" y1="27.1" x2="126.0" y2="25.1" stroke="#cc66dd"/><line x1="126.0" y1="25.1" x2="122.4" y2="23.0" stroke="#a4d445"/><line x1="129.6" y1="27.1" x2="127.3" y2="25.1" stroke="#cc66dd"/><line x1="127.3" y1="25.1" x2="125.1" y2="23.0" stroke="#a4d445"/><line x1="129.6" y1="27.1" x2="130.8" y2="25.1" stroke="#cc66dd"/><line x1="130.8" y1="25.1" x2="132.0" y2="23.0" stroke="#a4d445"/><line x1="129.6" y1="27.1" x2="127.3" y2="29.7" stroke="#cc66dd"/><line x1="127.3" y1="29.7" x2="125.1" y2="32.2" stroke="#a4d445"/><line x1="129.6" y1="27.1" x2="128.7" y2="29.7" stroke="#cc66dd"/><line x1="128.7" y1="29.7" x2="127.7" y2="32.2" stroke="#a4d445"/><line x1="129.6" y1="27.1" x2="132.9" y2="29.7" stroke="#cc66dd"/><line x1="132.9" y1="29.7" x2="136.3" y2="32.2" stroke="#a4d445"/><line x1="132.1" y1="29.1" x2="128.6" y2="26.1" stroke="#cc66dd"/><line x1="128.6" y1="26.1" x2="125.1" y2="23.0" stroke="#a4d445"/><line x1="132.1" y1="29.1" x2="132.1" y2="26.1" stroke="#cc66dd"/><line x1="132.1" y1="26.1" x2="132.0" y2="23.0" stroke="#a4d445"/><line x1="132.1" y1="29.1" x2="128.6" y2="30.7" stroke="#cc66dd"/><line x1="128.6" y1="30.7" x2="125.1" y2="32.2" stroke="#a4d445"/><line x1="132.1" y1="29.1" x2="129.9" y2="30.7" stroke="#cc66dd"/><line x1="129.9" y1="30.7" x2="127.7" y2="32.2" stroke="#a4d445"/><line x1="132.1" y1="29.1" x2="134.2" y2="30.7" stroke="#cc66dd"/><line x1="134.2" y1="30.7" x2="136.3" y2="32.2" stroke="#a4d445"/><line x1="141.5" y1="27.6" x2="142.6" y2="25.3" stroke="#cc66dd"/><line x1="142.6" y1="25.3" x2="143.7" y2="23.0" stroke="#a4d445"/><line x1="141.5" y1="27.6" x2="143.9" y2="25.3" stroke="#cc66dd"/><line x1="143.9" y1="25.3" x2="146.4" y2="23.0" stroke="#a4d445"/><line x1="141.5" y1="27.6" x2="138.9" y2="29.9" stroke="#cc66dd"/><line x1="138.9" y1="29.9" x2="136.3" y2="32.2" stroke="#a4d445"/><line x1="141.5" y1="27.6" x2="145.0" y2="29.9" stroke="#cc66dd"/><line x1="145.0" y1="29.9" x2="148.5" y2="32.2" stroke="#a4d445"/><line x1="120.4" y1="45.5" x2="118.0" y2="48.9" stroke="#cc66dd"/><line x1="118.0" y1="48.9" x2="115.5" y2="52.3" stroke="#a4d445"/><line x1="120.4" y1="45.5" x2="122.8" y2="48.9" stroke="#cc66dd"/><line x1="122.8" y1="48.9" x2="125.1" y2="52.3" stroke="#a4d445"/><line x1="120.4" y1="45.5" x2="120.4" y2="48.5" stroke="#cc66dd"/><line x1="120.4" y1="48.5" x2="120.4" y2="51.4" stroke="#a4d445"/><line x1="129.6" y1="44.3" x2="127.3" y2="48.3" stroke="#cc66dd"/><line x1="127.3" y1="48.3" x2="125.1" y2="52.3" stroke="#a4d445"/><line x1="129.6" y1="44.3" x2="128.7" y2="48.3" stroke="#cc66dd"/><line x1="128.7" y1="48.3" x2="127.7" y2="52.3" stroke="#a4d445"/><line x1="129.6" y1="44.3" x2="131.1" y2="48.2" stroke="#cc66dd"/><line x1="131.1" y1="48.2" x2="132.6" y2="52.1" stroke="#a4d445"/><line x1="132.1" y1="46.2" x2="128.6" y2="49.2" stroke="#cc66dd"/><line x1="128.6" y1="49.2" x2="125.1" y2="52.3" stroke="#a4d445"/><line x1="132.1" y1="46.2" x2="129.9" y2="49.2" stroke="#cc66dd"/><line x1="129.9" y1="49.2" x2="127.7" y2="52.3" stroke="#a4d445"/><line x1="132.1" y1="46.2" x2="134.4" y2="49.2" stroke="#cc66dd"/><line x1="134.4" y1="49.2" x2="136.8" y2="52.3" stroke="#a4d445"/><line x1="132.1" y1="46.2" x2="132.3" y2="49.2" stroke="#cc66dd"/><line x1="132.3" y1="49.2" x2="132.6" y2="52.1" stroke="#a4d445"/><line x1="141.5" y1="44.7" x2="139.2" y2="48.5" stroke="#cc66dd"/><line x1="139.2" y1="48.5" x2="136.8" y2="52.3" stroke="#a4d445"/><line x1="141.5" y1="44.7" x2="141.5" y2="48.0" stroke="#cc66dd"/><line x1="141.5" y1="48.0" x2="141.5" y2="51.3" stroke="#a4d445"/><line x1="122.6" y1="39.0" x2="123.8" y2="35.6" stroke="#cc66dd"/><line x1="123.8" y1="35.6" x2="125.1" y2="32.2" stroke="#a4d445"/><line x1="122.6" y1="39.0" x2="125.2" y2="35.6" stroke="#cc66dd"/><line x1="125.2" y1="35.6" x2="127.7" y2="32.2" stroke="#a4d445"/><line x1="124.8" y1="40.5" x2="124.9" y2="36.4" stroke="#cc66dd"/><line x1="124.9" y1="36.4" x2="125.1" y2="32.2" stroke="#a4d445"/><line x1="124.8" y1="40.5" x2="126.2" y2="36.4" stroke="#cc66dd"/><line x1="126.2" y1="36.4" x2="127.7" y2="32.2" stroke="#a4d445"/><line x1="134.5" y1="39.9" x2="135.4" y2="36.0" stroke="#cc66dd"/><line x1="135.4" y1="36.0" x2="136.3" y2="32.2" stroke="#a4d445"/><line x1="120.4" y1="95.3" x2="116.8" y2="92.8" stroke="#cc66dd"/><line x1="116.8" y1="92.8" x2="113.1" y2="90.3" stroke="#a4d445"/><line x1="120.4" y1="95.3" x2="121.4" y2="92.8" stroke="#cc66dd"/><line x1="121.4" y1="92.8" x2="122.4" y2="90.3" stroke="#a4d445"/><line x1="120.4" y1="95.3" x2="122.8" y2="92.8" stroke="#cc66dd"/><line x1="122.8" y1="92.8" x2="125.1" y2="90.3" stroke="#a4d445"/><line x1="120.4" y1="95.3" x2="118.0" y2="97.4" stroke="#cc66dd"/><line x1="118.0" y1="97.4" x2="115.5" y2="99.5" stroke="#a4d445"/><line x1="120.4" y1="95.3" x2="122.8" y2="97.4" stroke="#cc66dd"/><line x1="122.8" y1="97.4" x2="125.1" y2="99.5" stroke="#a4d445"/><line x1="120.4" y1="95.3" x2="124.1" y2="97.4" stroke="#cc66dd"/><line x1="124.1" y1="97.4" x2="127.7" y2="99.5" stroke="#a4d445"/><line x1="129.6" y1="94.4" x2="126.0" y2="92.3" stroke="#cc66dd"/><line x1="126.0" y1="92.3" x2="122.4" y2="90.3" stroke="#a4d445"/><line x1="129.6" y1="94.4" x2="127.3" y2="92.3" stroke="#cc66dd"/><line x1="127.3" y1="92.3" x2="125.1" y2="90.3" stroke="#a4d445"/><line x1="129.6" y1="94.4" x2="130.8" y2="92.3" stroke="#cc66dd"/><line x1="130.8" y1="92.3" x2="132.0" y2="90.3" stroke="#a4d445"/><line x1="129.6" y1="94.4" x2="127.3" y2="96.9" stroke="#cc66dd"/><line x1="127.3" y1="96.9" x2="125.1" y2="99.5" stroke="#a4d445"/><line x1="129.6" y1="94.4" x2="128.7" y2="96.9" stroke="#cc66dd"/><line x1="128.7" y1="96.9" x2="127.7" y2="99.5" stroke="#a4d445"/><line x1="129.6" y1="94.4" x2="132.9" y2="96.9" stroke="#cc66dd"/><line x1="132.9" y1="96.9" x2="136.3" y2="99.5" stroke="#a4d445"/><line x1="132.1" y1="96.4" x2="128.6" y2="93.3" stroke="#cc66dd"/><line x1="128.6" y1="93.3" x2="125.1" y2="90.3" stroke="#a4d445"/><line x1="132.1" y1="96.4" x2="132.1" y2="93.3" stroke="#cc66dd"/><line x1="132.1" y1="93.3" x2="132.0" y2="90.3" stroke="#a4d445"/><line x1="132.1" y1="96.4" x2="128.6" y2="97.9" stroke="#cc66dd"/><line x1="128.6" y1="97.9" x2="125.1" y2="99.5" stroke="#a4d445"/><line x1="132.1" y1="96.4" x2="129.9" y2="97.9" stroke="#cc66dd"/><line x1="129.9" y1="97.9" x2="127.7" y2="99.5" stroke="#a4d445"/><line x1="132.1" y1="96.4" x2="134.2" y2="97.9" stroke="#cc66dd"/><line x1="134.2" y1="97.9" x2="136.3" y2="99.5" stroke="#a4d445"/><line x1="141.5" y1="94.9" x2="142.6" y2="92.6" stroke="#cc66dd"/><line x1="142.6" y1="92.6" x2="143.7" y2="90.3" stroke="#a4d445"/><line x1="141.5" y1="94.9" x2="143.9" y2="92.6" stroke="#cc66dd"/><line x1="143.9" y1="92.6" x2="146.4" y2="90.3" stroke="#a4d445"/><line x1="141.5" y1="94.9" x2="138.9" y2="97.2" stroke="#cc66dd"/><line x1="138.9" y1="97.2" x2="136.3" y2="99.5" stroke="#a4d445"/><line x1="141.5" y1="94.9" x2="145.0" y2="97.2" stroke="#cc66dd"/><line x1="145.0" y1="97.2" x2="148.5" y2="99.5" stroke="#a4d445"/><line x1="120.4" y1="112.8" x2="118.0" y2="116.2" stroke="#cc66dd"/><line x1="118.0" y1="116.2" x2="115.5" y2="119.6" stroke="#a4d445"/><line x1="120.4" y1="112.8" x2="122.8" y2="116.2" stroke="#cc66dd"/><line x1="122.8" y1="116.2" x2="125.1" y2="119.6" stroke="#a4d445"/><line x1="120.4" y1="112.8" x2="120.4" y2="115.7" stroke="#cc66dd"/><line x1="120.4" y1="115.7" x2="120.4" y2="118.6" stroke="#a4d445"/><line x1="129.6" y1="111.6" x2="127.3" y2="115.6" stroke="#cc66dd"/><line x1="127.3" y1="115.6" x2="125.1" y2="119.6" stroke="#a4d445"/><line x1="129.6" y1="111.6" x2="128.7" y2="115.6" stroke="#cc66dd"/><line x1="128.7" y1="115.6" x2="127.7" y2="119.6" stroke="#a4d445"/><line x1="129.6" y1="111.6" x2="129.6" y2="114.7" stroke="#cc66dd"/><line x1="129.6" y1="114.7" x2="129.6" y2="117.8" stroke="#a4d445"/><line x1="129.6" y1="111.6" x2="131.1" y2="115.4" stroke="#cc66dd"/><line x1="131.1" y1="115.4" x2="132.6" y2="119.3" stroke="#a4d445"/><line x1="132.1" y1="113.5" x2="128.6" y2="116.5" stroke="#cc66dd"/><line x1="128.6" y1="116.5" x2="125.1" y2="119.6" stroke="#a4d445"/><line x1="132.1" y1="113.5" x2="129.9" y2="116.5" stroke="#cc66dd"/><line x1="129.9" y1="116.5" x2="127.7" y2="119.6" stroke="#a4d445"/><line x1="132.1" y1="113.5" x2="134.4" y2="116.5" stroke="#cc66dd"/><line x1="134.4" y1="116.5" x2="136.8" y2="119.6" stroke="#a4d445"/><line x1="132.1" y1="113.5" x2="130.8" y2="115.7" stroke="#cc66dd"/><line x1="130.8" y1="115.7" x2="129.6" y2="117.8" stroke="#a4d445"/><line x1="132.1" y1="113.5" x2="132.3" y2="116.4" stroke="#cc66dd"/><line x1="132.3" y1="116.4" x2="132.6" y2="119.3" stroke="#a4d445"/><line x1="141.5" y1="112.0" x2="139.2" y2="115.8" stroke="#cc66dd"/><line x1="139.2" y1="115.8" x2="136.8" y2="119.6" stroke="#a4d445"/><line x1="141.5" y1="112.0" x2="141.5" y2="115.2" stroke="#cc66dd"/><line x1="141.5" y1="115.2" x2="141.5" y2="118.5" stroke="#a4d445"/><line x1="122.6" y1="106.3" x2="123.8" y2="102.9" stroke="#cc66dd"/><line x1="123.8" y1="102.9" x2="125.1" y2="99.5" stroke="#a4d445"/><line x1="122.6" y1="106.3" x2="125.2" y2="102.9" stroke="#cc66dd"/><line x1="125.2" y1="102.9" x2="127.7" y2="99.5" stroke="#a4d445"/><line x1="124.8" y1="107.8" x2="124.9" y2="103.7" stroke="#cc66dd"/><line x1="124.9" y1="103.7" x2="125.1" y2="99.5" stroke="#a4d445"/><line x1="124.8" y1="107.8" x2="126.2" y2="103.7" stroke="#cc66dd"/><line x1="126.2" y1="103.7" x2="127.7" y2="99.5" stroke="#a4d445"/><line x1="134.5" y1="107.2" x2="135.4" y2="103.3" stroke="#cc66dd"/><line x1="135.4" y1="103.3" x2="136.3" y2="99.5" stroke="#a4d445"/><line x1="120.4" y1="147.2" x2="116.8" y2="144.7" stroke="#cc66dd"/><line x1="116.8" y1="144.7" x2="113.1" y2="142.2" stroke="#a4d445"/><line x1="120.4" y1="147.2" x2="121.4" y2="144.7" stroke="#cc66dd"/><line x1="121.4" y1="144.7" x2="122.4" y2="142.2" stroke="#a4d445"/><line x1="120.4" y1="147.2" x2="122.8" y2="144.7" stroke="#cc66dd"/><line x1="122.8" y1="144.7" x2="125.1" y2="142.2" stroke="#a4d445"/><line x1="120.4" y1="147.2" x2="118.0" y2="149.3" stroke="#cc66dd"/><line x1="118.0" y1="149.3" x2="115.5" y2="151.4" stroke="#a4d445"/><line x1="120.4" y1="147.2" x2="122.8" y2="149.3" stroke="#cc66dd"/><line x1="122.8" y1="149.3" x2="125.1" y2="151.4" stroke="#a4d445"/><line x1="120.4" y1="147.2" x2="124.1" y2="149.3" stroke="#cc66dd"/><line x1="124.1" y1="149.3" x2="127.7" y2="151.4" stroke="#a4d445"/><line x1="129.6" y1="146.3" x2="126.0" y2="144.2" stroke="#cc66dd"/><line x1="126.0" y1="144.2" x2="122.4" y2="142.2" stroke="#a4d445"/><line x1="129.6" y1="146.3" x2="127.3" y2="144.2" stroke="#cc66dd"/><line x1="127.3" y1="144.2" x2="125.1" y2="142.2" stroke="#a4d445"/><line x1="129.6" y1="146.3" x2="130.8" y2="144.2" stroke="#cc66dd"/><line x1="130.8" y1="144.2" x2="132.0" y2="142.2" stroke="#a4d445"/><line x1="129.6" y1="146.3" x2="127.3" y2="148.8" stroke="#cc66dd"/><line x1="127.3" y1="148.8" x2="125.1" y2="151.4" stroke="#a4d445"/><line x1="129.6" y1="146.3" x2="128.7" y2="148.8" stroke="#cc66dd"/><line x1="128.7" y1="148.8" x2="127.7" y2="151.4" stroke="#a4d445"/><line x1="129.6" y1="146.3" x2="132.9" y2="148.8" stroke="#cc66dd"/><line x1="132.9" y1="148.8" x2="136.3" y2="151.4" stroke="#a4d445"/><line x1="132.1" y1="148.3" x2="128.6" y2="145.2" stroke="#cc66dd"/><line x1="128.6" y1="145.2" x2="125.1" y2="142.2" stroke="#a4d445"/><line x1="132.1" y1="148.3" x2="132.1" y2="145.2" stroke="#cc66dd"/><line x1="132.1" y1="145.2" x2="132.0" y2="142.2" stroke="#a4d445"/><line x1="132.1" y1="148.3" x2="128.6" y2="149.8" stroke="#cc66dd"/><line x1="128.6" y1="149.8" x2="125.1" y2="151.4" stroke="#a4d445"/><line x1="132.1" y1="148.3" x2="129.9" y2="149.8" stroke="#cc66dd"/><line x1="129.9" y1="149.8" x2="127.7" y2="151.4" stroke="#a4d445"/><line x1="132.1" y1="148.3" x2="134.2" y2="149.8" stroke="#cc66dd"/><line x1="134.2" y1="149.8" x2="136.3" y2="151.4" stroke="#a4d445"/><line x1="141.5" y1="146.8" x2="142.6" y2="144.5" stroke="#cc66dd"/><line x1="142.6" y1="144.5" x2="143.7" y2="142.2" stroke="#a4d445"/><line x1="141.5" y1="146.8" x2="143.9" y2="144.5" stroke="#cc66dd"/><line x1="143.9" y1="144.5" x2="146.4" y2="142.2" stroke="#a4d445"/><line x1="141.5" y1="146.8" x2="138.9" y2="149.1" stroke="#cc66dd"/><line x1="138.9" y1="149.1" x2="136.3" y2="151.4" stroke="#a4d445"/><line x1="141.5" y1="146.8" x2="145.0" y2="149.1" stroke="#cc66dd"/><line x1="145.0" y1="149.1" x2="148.5" y2="151.4" stroke="#a4d445"/><line x1="120.4" y1="164.7" x2="118.0" y2="168.1" stroke="#cc66dd"/><line x1="118.0" y1="168.1" x2="115.5" y2="171.5" stroke="#a4d445"/><line x1="120.4" y1="164.7" x2="122.8" y2="168.1" stroke="#cc66dd"/><line x1="122.8" y1="168.1" x2="125.1" y2="171.5" stroke="#a4d445"/><line x1="120.4" y1="164.7" x2="120.4" y2="166.9" stroke="#cc66dd"/><line x1="120.4" y1="166.9" x2="120.4" y2="169.1" stroke="#a4d445"/><line x1="129.6" y1="163.5" x2="127.3" y2="167.5" stroke="#cc66dd"/><line x1="127.3" y1="167.5" x2="125.1" y2="171.5" stroke="#a4d445"/><line x1="129.6" y1="163.5" x2="128.7" y2="167.5" stroke="#cc66dd"/><line x1="128.7" y1="167.5" x2="127.7" y2="171.5" stroke="#a4d445"/><line x1="129.6" y1="163.5" x2="129.6" y2="165.9" stroke="#cc66dd"/><line x1="129.6" y1="165.9" x2="129.6" y2="168.3" stroke="#a4d445"/><line x1="129.6" y1="163.5" x2="131.1" y2="166.6" stroke="#cc66dd"/><line x1="131.1" y1="166.6" x2="132.6" y2="169.8" stroke="#a4d445"/><line x1="132.1" y1="165.4" x2="128.6" y2="168.4" stroke="#cc66dd"/><line x1="128.6" y1="168.4" x2="125.1" y2="171.5" stroke="#a4d445"/><line x1="132.1" y1="165.4" x2="129.9" y2="168.4" stroke="#cc66dd"/><line x1="129.9" y1="168.4" x2="127.7" y2="171.5" stroke="#a4d445"/><line x1="132.1" y1="165.4" x2="134.4" y2="168.4" stroke="#cc66dd"/><line x1="134.4" y1="168.4" x2="136.8" y2="171.5" stroke="#a4d445"/><line x1="132.1" y1="165.4" x2="130.8" y2="166.8" stroke="#cc66dd"/><line x1="130.8" y1="166.8" x2="129.6" y2="168.3" stroke="#a4d445"/><line x1="132.1" y1="165.4" x2="132.3" y2="167.6" stroke="#cc66dd"/><line x1="132.3" y1="167.6" x2="132.6" y2="169.8" stroke="#a4d445"/><line x1="141.5" y1="163.9" x2="139.2" y2="167.7" stroke="#cc66dd"/><line x1="139.2" y1="167.7" x2="136.8" y2="171.5" stroke="#a4d445"/><line x1="141.5" y1="163.9" x2="141.5" y2="166.4" stroke="#cc66dd"/><line x1="141.5" y1="166.4" x2="141.5" y2="169.0" stroke="#a4d445"/><line x1="127.4" y1="152.0" x2="131.9" y2="151.7" stroke="#cc66dd"/><line x1="131.9" y1="151.7" x2="136.3" y2="151.4" stroke="#a4d445"/><line x1="136.6" y1="150.6" x2="132.2" y2="151.0" stroke="#cc66dd"/><line x1="132.2" y1="151.0" x2="127.7" y2="151.4" stroke="#a4d445"/><line x1="139.3" y1="152.8" x2="143.9" y2="152.1" stroke="#cc66dd"/><line x1="143.9" y1="152.1" x2="148.5" y2="151.4" stroke="#a4d445"/><line x1="120.4" y1="214.1" x2="116.8" y2="211.6" stroke="#cc66dd"/><line x1="116.8" y1="211.6" x2="113.1" y2="209.1" stroke="#a4d445"/><line x1="120.4" y1="214.1" x2="121.4" y2="211.6" stroke="#cc66dd"/><line x1="121.4" y1="211.6" x2="122.4" y2="209.1" stroke="#a4d445"/><line x1="120.4" y1="214.1" x2="122.8" y2="211.6" stroke="#cc66dd"/><line x1="122.8" y1="211.6" x2="125.1" y2="209.1" stroke="#a4d445"/><line x1="120.4" y1="214.1" x2="118.0" y2="216.2" stroke="#cc66dd"/><line x1="118.0" y1="216.2" x2="115.5" y2="218.3" stroke="#a4d445"/><line x1="120.4" y1="214.1" x2="122.8" y2="216.2" stroke="#cc66dd"/><line x1="122.8" y1="216.2" x2="125.1" y2="218.3" stroke="#a4d445"/><line x1="120.4" y1="214.1" x2="124.1" y2="216.2" stroke="#cc66dd"/><line x1="124.1" y1="216.2" x2="127.7" y2="218.3" stroke="#a4d445"/><line x1="129.6" y1="213.2" x2="126.0" y2="211.1" stroke="#cc66dd"/><line x1="126.0" y1="211.1" x2="122.4" y2="209.1" stroke="#a4d445"/><line x1="129.6" y1="213.2" x2="127.3" y2="211.1" stroke="#cc66dd"/><line x1="127.3" y1="211.1" x2="125.1" y2="209.1" stroke="#a4d445"/><line x1="129.6" y1="213.2" x2="130.8" y2="211.1" stroke="#cc66dd"/><line x1="130.8" y1="211.1" x2="132.0" y2="209.1" stroke="#a4d445"/><line x1="129.6" y1="213.2" x2="127.3" y2="215.8" stroke="#cc66dd"/><line x1="127.3" y1="215.8" x2="125.1" y2="218.3" stroke="#a4d445"/><line x1="129.6" y1="213.2" x2="128.7" y2="215.8" stroke="#cc66dd"/><line x1="128.7" y1="215.8" x2="127.7" y2="218.3" stroke="#a4d445"/><line x1="129.6" y1="213.2" x2="132.9" y2="215.8" stroke="#cc66dd"/><line x1="132.9" y1="215.8" x2="136.3" y2="218.3" stroke="#a4d445"/><line x1="132.1" y1="215.2" x2="128.6" y2="212.1" stroke="#cc66dd"/><line x1="128.6" y1="212.1" x2="125.1" y2="209.1" stroke="#a4d445"/><line x1="132.1" y1="215.2" x2="132.1" y2="212.1" stroke="#cc66dd"/><line x1="132.1" y1="212.1" x2="132.0" y2="209.1" stroke="#a4d445"/><line x1="132.1" y1="215.2" x2="128.6" y2="216.8" stroke="#cc66dd"/><line x1="128.6" y1="216.8" x2="125.1" y2="218.3" stroke="#a4d445"/><line x1="132.1" y1="215.2" x2="129.9" y2="216.8" stroke="#cc66dd"/><line x1="129.9" y1="216.8" x2="127.7" y2="218.3" stroke="#a4d445"/><line x1="132.1" y1="215.2" x2="134.2" y2="216.8" stroke="#cc66dd"/><line x1="134.2" y1="216.8" x2="136.3" y2="218.3" stroke="#a4d445"/><line x1="141.5" y1="213.7" x2="142.6" y2="211.4" stroke="#cc66dd"/><line x1="142.6" y1="211.4" x2="143.7" y2="209.1" stroke="#a4d445"/><line x1="141.5" y1="213.7" x2="143.9" y2="211.4" stroke="#cc66dd"/><line x1="143.9" y1="211.4" x2="146.4" y2="209.1" stroke="#a4d445"/><line x1="141.5" y1="213.7" x2="138.9" y2="216.0" stroke="#cc66dd"/><line x1="138.9" y1="216.0" x2="136.3" y2="218.3" stroke="#a4d445"/><line x1="141.5" y1="213.7" x2="145.0" y2="216.0" stroke="#cc66dd"/><line x1="145.0" y1="216.0" x2="148.5" y2="218.3" stroke="#a4d445"/><line x1="120.4" y1="231.6" x2="118.0" y2="235.0" stroke="#cc66dd"/><line x1="118.0" y1="235.0" x2="115.5" y2="238.4" stroke="#a4d445"/><line x1="120.4" y1="231.6" x2="122.8" y2="235.0" stroke="#cc66dd"/><line x1="122.8" y1="235.0" x2="125.1" y2="238.4" stroke="#a4d445"/><line x1="120.4" y1="231.6" x2="120.4" y2="234.0" stroke="#cc66dd"/><line x1="120.4" y1="234.0" x2="120.4" y2="236.4" stroke="#a4d445"/><line x1="129.6" y1="230.4" x2="127.3" y2="234.4" stroke="#cc66dd"/><line x1="127.3" y1="234.4" x2="125.1" y2="238.4" stroke="#a4d445"/><line x1="129.6" y1="230.4" x2="128.7" y2="234.4" stroke="#cc66dd"/><line x1="128.7" y1="234.4" x2="127.7" y2="238.4" stroke="#a4d445"/><line x1="129.6" y1="230.4" x2="129.6" y2="233.0" stroke="#cc66dd"/><line x1="129.6" y1="233.0" x2="129.6" y2="235.6" stroke="#a4d445"/><line x1="129.6" y1="230.4" x2="131.1" y2="233.8" stroke="#cc66dd"/><line x1="131.1" y1="233.8" x2="132.6" y2="237.1" stroke="#a4d445"/><line x1="132.1" y1="232.3" x2="128.6" y2="235.3" stroke="#cc66dd"/><line x1="128.6" y1="235.3" x2="125.1" y2="238.4" stroke="#a4d445"/><line x1="132.1" y1="232.3" x2="129.9" y2="235.3" stroke="#cc66dd"/><line x1="129.9" y1="235.3" x2="127.7" y2="238.4" stroke="#a4d445"/><line x1="132.1" y1="232.3" x2="134.4" y2="235.3" stroke="#cc66dd"/><line x1="134.4" y1="235.3" x2="136.8" y2="238.4" stroke="#a4d445"/><line x1="132.1" y1="232.3" x2="130.8" y2="233.9" stroke="#cc66dd"/><line x1="130.8" y1="233.9" x2="129.6" y2="235.6" stroke="#a4d445"/><line x1="132.1" y1="232.3" x2="132.3" y2="234.7" stroke="#cc66dd"/><line x1="132.3" y1="234.7" x2="132.6" y2="237.1" stroke="#a4d445"/><line x1="141.5" y1="230.8" x2="139.2" y2="234.6" stroke="#cc66dd"/><line x1="139.2" y1="234.6" x2="136.8" y2="238.4" stroke="#a4d445"/><line x1="141.5" y1="230.8" x2="141.5" y2="233.6" stroke="#cc66dd"/><line x1="141.5" y1="233.6" x2="141.5" y2="236.3" stroke="#a4d445"/><line x1="127.4" y1="218.9" x2="131.9" y2="218.6" stroke="#cc66dd"/><line x1="131.9" y1="218.6" x2="136.3" y2="218.3" stroke="#a4d445"/><line x1="136.6" y1="217.5" x2="132.2" y2="217.9" stroke="#cc66dd"/><line x1="132.2" y1="217.9" x2="127.7" y2="218.3" stroke="#a4d445"/><line x1="139.3" y1="219.7" x2="143.9" y2="219.0" stroke="#cc66dd"/><line x1="143.9" y1="219.0" x2="148.5" y2="218.3" stroke="#a4d445"/></g>
<circle cx="120.6" cy="13.2" r="1.6" fill="url(#gSe)"/>
<circle cx="129.9" cy="13.2" r="1.6" fill="url(#gSe)"/>
<circle cx="132.7" cy="13.2" r="1.6" fill="url(#gSe)"/>
<circle cx="141.6" cy="13.2" r="1.6" fill="url(#gSe)"/>
<circle cx="113.1" cy="23.0" r="1.6" fill="url(#gSe)"/>
<circle cx="122.4" cy="23.0" r="1.6" fill="url(#gSe)"/>
<circle cx="125.1" cy="23.0" r="1.6" fill="url(#gSe)"/>
<circle cx="132.0" cy="23.0" r="1.6" fill="url(#gSe)"/>
<circle cx="143.7" cy="23.0" r="1.6" fill="url(#gSe)"/>
<circle cx="146.4" cy="23.0" r="1.6" fill="url(#gSe)"/>
<circle cx="115.5" cy="32.2" r="1.6" fill="url(#gSe)"/>
<circle cx="125.1" cy="32.2" r="1.6" fill="url(#gSe)"/>
<circle cx="127.7" cy="32.2" r="1.6" fill="url(#gSe)"/>
<circle cx="136.3" cy="32.2" r="1.6" fill="url(#gSe)"/>
<circle cx="148.5" cy="32.2" r="1.6" fill="url(#gSe)"/>
<circle cx="115.5" cy="52.3" r="1.6" fill="url(#gSe)"/>
<circle cx="125.1" cy="52.3" r="1.6" fill="url(#gSe)"/>
<circle cx="127.7" cy="52.3" r="1.6" fill="url(#gSe)"/>
<circle cx="136.8" cy="52.3" r="1.6" fill="url(#gSe)"/>
<circle cx="148.5" cy="52.3" r="1.6" fill="url(#gSe)"/>
<circle cx="120.6" cy="59.5" r="1.6" fill="url(#gSe)"/>
<circle cx="129.9" cy="59.5" r="1.6" fill="url(#gSe)"/>
<circle cx="141.6" cy="59.5" r="1.6" fill="url(#gSe)"/>
<circle cx="120.6" cy="80.5" r="1.6" fill="url(#gSe)"/>
<circle cx="129.9" cy="80.5" r="1.6" fill="url(#gSe)"/>
<circle cx="132.7" cy="80.5" r="1.6" fill="url(#gSe)"/>
<circle cx="141.6" cy="80.5" r="1.6" fill="url(#gSe)"/>
<circle cx="113.1" cy="90.3" r="1.6" fill="url(#gSe)"/>
<circle cx="122.4" cy="90.3" r="1.6" fill="url(#gSe)"/>
<circle cx="125.1" cy="90.3" r="1.6" fill="url(#gSe)"/>
<circle cx="132.0" cy="90.3" r="1.6" fill="url(#gSe)"/>
<circle cx="143.7" cy="90.3" r="1.6" fill="url(#gSe)"/>
<circle cx="146.4" cy="90.3" r="1.6" fill="url(#gSe)"/>
<circle cx="115.5" cy="99.5" r="1.6" fill="url(#gSe)"/>
<circle cx="125.1" cy="99.5" r="1.6" fill="url(#gSe)"/>
<circle cx="127.7" cy="99.5" r="1.6" fill="url(#gSe)"/>
<circle cx="136.3" cy="99.5" r="1.6" fill="url(#gSe)"/>
<circle cx="148.5" cy="99.5" r="1.6" fill="url(#gSe)"/>
<circle cx="115.5" cy="119.6" r="1.6" fill="url(#gSe)"/>
<circle cx="125.1" cy="119.6" r="1.6" fill="url(#gSe)"/>
<circle cx="127.7" cy="119.6" r="1.6" fill="url(#gSe)"/>
<circle cx="136.8" cy="119.6" r="1.6" fill="url(#gSe)"/>
<circle cx="148.5" cy="119.6" r="1.6" fill="url(#gSe)"/>
<circle cx="120.6" cy="126.8" r="1.6" fill="url(#gSe)"/>
<circle cx="129.9" cy="126.8" r="1.6" fill="url(#gSe)"/>
<circle cx="141.6" cy="126.8" r="1.6" fill="url(#gSe)"/>
<circle cx="120.6" cy="132.4" r="1.6" fill="url(#gSe)"/>
<circle cx="129.9" cy="132.4" r="1.6" fill="url(#gSe)"/>
<circle cx="132.7" cy="132.4" r="1.6" fill="url(#gSe)"/>
<circle cx="141.6" cy="132.4" r="1.6" fill="url(#gSe)"/>
<circle cx="113.1" cy="142.2" r="1.6" fill="url(#gSe)"/>
<circle cx="122.4" cy="142.2" r="1.6" fill="url(#gSe)"/>
<circle cx="125.1" cy="142.2" r="1.6" fill="url(#gSe)"/>
<circle cx="132.0" cy="142.2" r="1.6" fill="url(#gSe)"/>
<circle cx="143.7" cy="142.2" r="1.6" fill="url(#gSe)"/>
<circle cx="146.4" cy="142.2" r="1.6" fill="url(#gSe)"/>
<circle cx="115.5" cy="151.4" r="1.6" fill="url(#gSe)"/>
<circle cx="125.1" cy="151.4" r="1.6" fill="url(#gSe)"/>
<circle cx="127.7" cy="151.4" r="1.6" fill="url(#gSe)"/>
<circle cx="136.3" cy="151.4" r="1.6" fill="url(#gSe)"/>
<circle cx="148.5" cy="151.4" r="1.6" fill="url(#gSe)"/>
<circle cx="115.5" cy="171.5" r="1.6" fill="url(#gSe)"/>
<circle cx="125.1" cy="171.5" r="1.6" fill="url(#gSe)"/>
<circle cx="127.7" cy="171.5" r="1.6" fill="url(#gSe)"/>
<circle cx="136.8" cy="171.5" r="1.6" fill="url(#gSe)"/>
<circle cx="148.5" cy="171.5" r="1.6" fill="url(#gSe)"/>
<circle cx="120.6" cy="178.7" r="1.6" fill="url(#gSe)"/>
<circle cx="129.9" cy="178.7" r="1.6" fill="url(#gSe)"/>
<circle cx="141.6" cy="178.7" r="1.6" fill="url(#gSe)"/>
<circle cx="120.6" cy="199.3" r="1.6" fill="url(#gSe)"/>
<circle cx="129.9" cy="199.3" r="1.6" fill="url(#gSe)"/>
<circle cx="132.7" cy="199.3" r="1.6" fill="url(#gSe)"/>
<circle cx="141.6" cy="199.3" r="1.6" fill="url(#gSe)"/>
<circle cx="113.1" cy="209.1" r="1.6" fill="url(#gSe)"/>
<circle cx="122.4" cy="209.1" r="1.6" fill="url(#gSe)"/>
<circle cx="125.1" cy="209.1" r="1.6" fill="url(#gSe)"/>
<circle cx="132.0" cy="209.1" r="1.6" fill="url(#gSe)"/>
<circle cx="143.7" cy="209.1" r="1.6" fill="url(#gSe)"/>
<circle cx="146.4" cy="209.1" r="1.6" fill="url(#gSe)"/>
<circle cx="115.5" cy="218.3" r="1.6" fill="url(#gSe)"/>
<circle cx="125.1" cy="218.3" r="1.6" fill="url(#gSe)"/>
<circle cx="127.7" cy="218.3" r="1.6" fill="url(#gSe)"/>
<circle cx="136.3" cy="218.3" r="1.6" fill="url(#gSe)"/>
<circle cx="148.5" cy="218.3" r="1.6" fill="url(#gSe)"/>
<circle cx="115.5" cy="238.4" r="1.6" fill="url(#gSe)"/>
<circle cx="125.1" cy="238.4" r="1.6" fill="url(#gSe)"/>
<circle cx="127.7" cy="238.4" r="1.6" fill="url(#gSe)"/>
<circle cx="136.8" cy="238.4" r="1.6" fill="url(#gSe)"/>
<circle cx="148.5" cy="238.4" r="1.6" fill="url(#gSe)"/>
<circle cx="120.6" cy="245.6" r="1.6" fill="url(#gSe)"/>
<circle cx="129.9" cy="245.6" r="1.6" fill="url(#gSe)"/>
<circle cx="141.6" cy="245.6" r="1.6" fill="url(#gSe)"/>
<circle cx="120.4" cy="62.3" r="1.6" fill="url(#gSe)"/>
<circle cx="132.6" cy="63.0" r="1.6" fill="url(#gSe)"/>
<circle cx="141.5" cy="62.2" r="1.6" fill="url(#gSe)"/>
<circle cx="120.4" cy="118.6" r="1.6" fill="url(#gSe)"/>
<circle cx="129.6" cy="117.8" r="1.6" fill="url(#gSe)"/>
<circle cx="132.6" cy="119.3" r="1.6" fill="url(#gSe)"/>
<circle cx="141.5" cy="118.5" r="1.6" fill="url(#gSe)"/>
<circle cx="120.4" cy="129.6" r="1.6" fill="url(#gSe)"/>
<circle cx="141.5" cy="129.5" r="1.6" fill="url(#gSe)"/>
<circle cx="120.4" cy="169.1" r="1.6" fill="url(#gSe)"/>
<circle cx="129.6" cy="168.3" r="1.6" fill="url(#gSe)"/>
<circle cx="132.6" cy="169.8" r="1.6" fill="url(#gSe)"/>
<circle cx="141.5" cy="169.0" r="1.6" fill="url(#gSe)"/>
<circle cx="120.4" cy="185.8" r="1.6" fill="url(#gSe)"/>
<circle cx="129.6" cy="185.0" r="1.6" fill="url(#gSe)"/>
<circle cx="132.6" cy="186.5" r="1.6" fill="url(#gSe)"/>
<circle cx="141.5" cy="185.7" r="1.6" fill="url(#gSe)"/>
<circle cx="120.4" cy="196.7" r="1.6" fill="url(#gSe)"/>
<circle cx="129.6" cy="195.9" r="1.6" fill="url(#gSe)"/>
<circle cx="141.5" cy="196.6" r="1.6" fill="url(#gSe)"/>
<circle cx="120.4" cy="236.4" r="1.6" fill="url(#gSe)"/>
<circle cx="129.6" cy="235.6" r="1.6" fill="url(#gSe)"/>
<circle cx="132.6" cy="237.1" r="1.6" fill="url(#gSe)"/>
<circle cx="141.5" cy="236.3" r="1.6" fill="url(#gSe)"/>
<circle cx="120.4" cy="248.6" r="1.6" fill="url(#gSe)"/>
<circle cx="132.6" cy="249.3" r="1.6" fill="url(#gSe)"/>
<circle cx="141.5" cy="248.5" r="1.6" fill="url(#gSe)"/>
<circle cx="120.4" cy="51.4" r="1.6" fill="url(#gSe)"/>
<circle cx="132.6" cy="52.1" r="1.6" fill="url(#gSe)"/>
<circle cx="141.5" cy="51.3" r="1.6" fill="url(#gSe)"/>
<circle cx="134.5" cy="5.5" r="2.6" fill="url(#gBi)"/>
<circle cx="127.4" cy="17.6" r="2.6" fill="url(#gBi)"/>
<circle cx="127.4" cy="67.8" r="2.6" fill="url(#gBi)"/>
<circle cx="127.4" cy="84.6" r="2.6" fill="url(#gBi)"/>
<circle cx="134.5" cy="124.1" r="2.6" fill="url(#gBi)"/>
<circle cx="127.4" cy="135.1" r="2.6" fill="url(#gBi)"/>
<circle cx="134.5" cy="174.6" r="2.6" fill="url(#gBi)"/>
<circle cx="134.5" cy="191.3" r="2.6" fill="url(#gBi)"/>
<circle cx="127.4" cy="202.2" r="2.6" fill="url(#gBi)"/>
<circle cx="134.5" cy="241.9" r="2.6" fill="url(#gBi)"/>
<circle cx="127.4" cy="254.1" r="2.6" fill="url(#gBi)"/>
<circle cx="134.5" cy="56.9" r="2.6" fill="url(#gBi)"/>
<circle cx="120.4" cy="28.0" r="2.6" fill="url(#gBi)"/>
<circle cx="129.6" cy="27.1" r="2.6" fill="url(#gBi)"/>
<circle cx="132.1" cy="29.1" r="2.6" fill="url(#gBi)"/>
<circle cx="141.5" cy="27.6" r="2.6" fill="url(#gBi)"/>
<circle cx="120.4" cy="45.5" r="2.6" fill="url(#gBi)"/>
<circle cx="129.6" cy="44.3" r="2.6" fill="url(#gBi)"/>
<circle cx="132.1" cy="46.2" r="2.6" fill="url(#gBi)"/>
<circle cx="141.5" cy="44.7" r="2.6" fill="url(#gBi)"/>
<circle cx="122.6" cy="39.0" r="2.6" fill="url(#gBi)"/>
<circle cx="124.8" cy="40.5" r="2.6" fill="url(#gBi)"/>
<circle cx="134.5" cy="39.9" r="2.6" fill="url(#gBi)"/>
<circle cx="120.4" cy="95.3" r="2.6" fill="url(#gBi)"/>
<circle cx="129.6" cy="94.4" r="2.6" fill="url(#gBi)"/>
<circle cx="132.1" cy="96.4" r="2.6" fill="url(#gBi)"/>
<circle cx="141.5" cy="94.9" r="2.6" fill="url(#gBi)"/>
<circle cx="120.4" cy="112.8" r="2.6" fill="url(#gBi)"/>
<circle cx="129.6" cy="111.6" r="2.6" fill="url(#gBi)"/>
<circle cx="132.1" cy="113.5" r="2.6" fill="url(#gBi)"/>
<circle cx="141.5" cy="112.0" r="2.6" fill="url(#gBi)"/>
<circle cx="122.6" cy="106.3" r="2.6" fill="url(#gBi)"/>
<circle cx="124.8" cy="107.8" r="2.6" fill="url(#gBi)"/>
<circle cx="134.5" cy="107.2" r="2.6" fill="url(#gBi)"/>
<circle cx="120.4" cy="147.2" r="2.6" fill="url(#gBi)"/>
<circle cx="129.6" cy="146.3" r="2.6" fill="url(#gBi)"/>
<circle cx="132.1" cy="148.3" r="2.6" fill="url(#gBi)"/>
<circle cx="141.5" cy="146.8" r="2.6" fill="url(#gBi)"/>
<circle cx="120.4" cy="164.7" r="2.6" fill="url(#gBi)"/>
<circle cx="129.6" cy="163.5" r="2.6" fill="url(#gBi)"/>
<circle cx="132.1" cy="165.4" r="2.6" fill="url(#gBi)"/>
<circle cx="141.5" cy="163.9" r="2.6" fill="url(#gBi)"/>
<circle cx="127.4" cy="152.0" r="2.6" fill="url(#gBi)"/>
<circle cx="136.6" cy="150.6" r="2.6" fill="url(#gBi)"/>
<circle cx="139.3" cy="152.8" r="2.6" fill="url(#gBi)"/>
<circle cx="120.4" cy="214.1" r="2.6" fill="url(#gBi)"/>
<circle cx="129.6" cy="213.2" r="2.6" fill="url(#gBi)"/>
<circle cx="132.1" cy="215.2" r="2.6" fill="url(#gBi)"/>
<circle cx="141.5" cy="213.7" r="2.6" fill="url(#gBi)"/>
<circle cx="120.4" cy="231.6" r="2.6" fill="url(#gBi)"/>
<circle cx="129.6" cy="230.4" r="2.6" fill="url(#gBi)"/>
<circle cx="132.1" cy="232.3" r="2.6" fill="url(#gBi)"/>
<circle cx="141.5" cy="230.8" r="2.6" fill="url(#gBi)"/>
<circle cx="127.4" cy="218.9" r="2.6" fill="url(#gBi)"/>
<circle cx="136.6" cy="217.5" r="2.6" fill="url(#gBi)"/>
<circle cx="139.3" cy="219.7" r="2.6" fill="url(#gBi)"/>
<line x1="68.5" y1="240.4" x2="68.5" y2="221" stroke="#1010e0" stroke-width="1.8"/>
<path d="M68.5,212.9 L65,222 L72,222 Z" fill="#1010e0"/>
<line x1="68.5" y1="240.6" x2="86" y2="240.8" stroke="#10d010" stroke-width="1.8"/>
<path d="M94.5,240.9 L85.5,237.4 L85.5,244.4 Z" fill="#10d010"/>
<line x1="68.5" y1="240.6" x2="56" y2="242.3" stroke="#e00000" stroke-width="1.8"/>
<path d="M47.8,243.3 L56.5,239.3 L57.5,245.8 Z" fill="#e00000"/>
<circle cx="68.5" cy="240.5" r="2.8" fill="url(#gO)"/>
<text x="68.5" y="209.5" font-size="6" font-weight="bold" text-anchor="middle" font-family="Liberation Sans">c</text>
<text x="100.3" y="244.3" font-size="6" font-weight="bold" text-anchor="middle" font-family="Liberation Sans">b</text>
<text x="43.3" y="246" font-size="6" font-weight="bold" text-anchor="middle" font-family="Liberation Sans">a</text>
</svg></body></html>
